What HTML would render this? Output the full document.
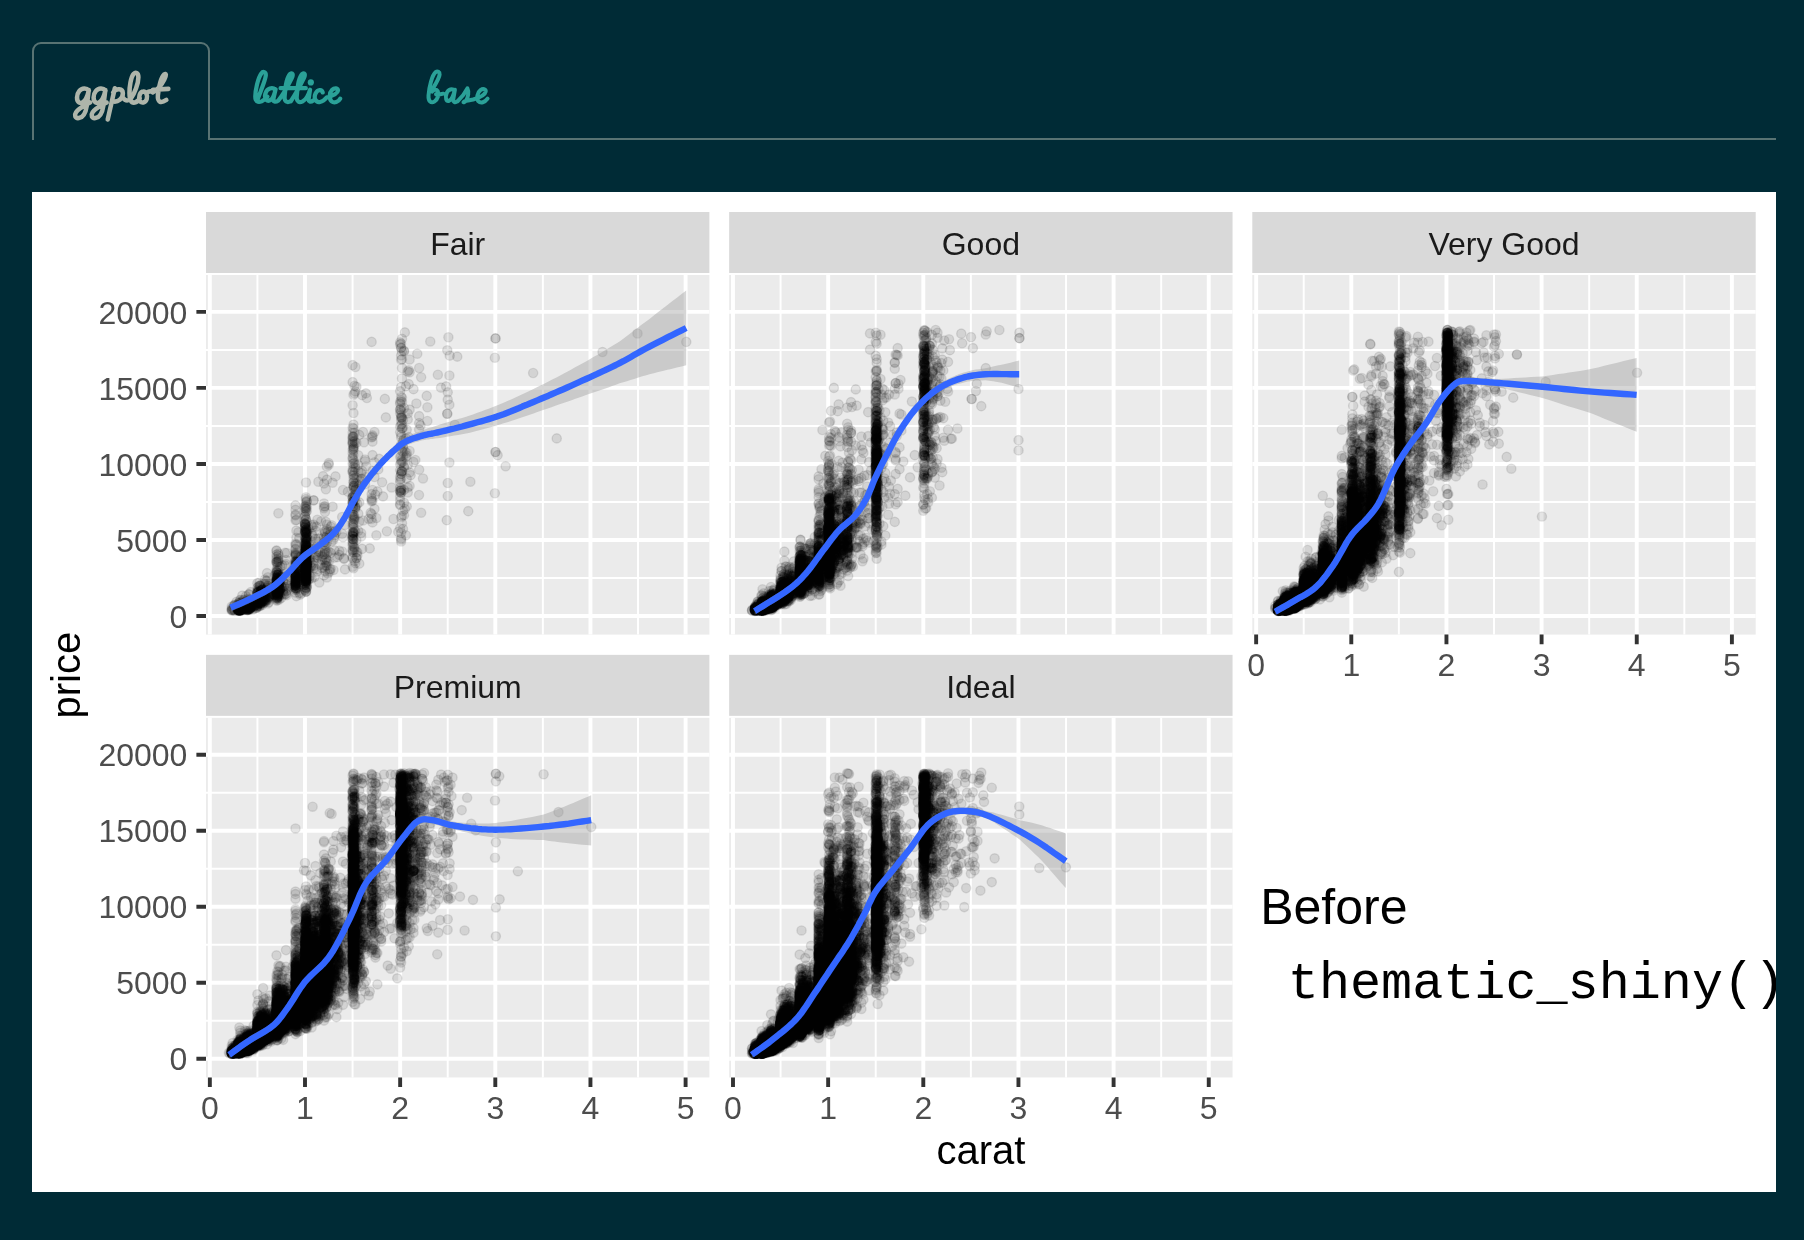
<!DOCTYPE html>
<html><head><meta charset="utf-8"><title>thematic</title>
<style>
html,body{margin:0;padding:0;background:#002B36;width:1804px;height:1240px;overflow:hidden;font-family:"Liberation Sans",sans-serif}
#tabs{position:absolute;left:0;top:0}
#plot{position:absolute;left:32px;top:192px;width:1744px;height:1000px;background:#fff;overflow:hidden}
#plot svg,#plot canvas{position:absolute;left:0;top:0;will-change:transform}
.st{font-size:32px;fill:#1A1A1A;text-anchor:middle}
.ax{font-size:32px;fill:#4D4D4D}
.ti{font-size:40px;fill:#000}
</style></head><body>
<svg id="tabs" width="1804" height="192" viewBox="0 0 1804 192">
<path d="M33 140V51a8 8 0 0 1 8-8H201a8 8 0 0 1 8 8V139H1776" fill="none" stroke="#587373" stroke-width="2"/>
<g fill="none" stroke-linecap="round" stroke-linejoin="round"><path transform="translate(70 65) scale(0.05821)" stroke="#AEB5AA" stroke-width="78" d="M325,440 C285,392 205,392 158,450 C110,510 106,612 158,644 C215,676 292,600 322,430 L290,690 C274,800 228,900 152,912 C86,920 70,862 104,812 C160,735 262,692 345,646 M610,440 C570,392 490,392 443,450 C395,510 391,612 443,644 C500,676 577,600 607,430 L575,690 C559,800 513,900 437,912 C371,920 355,862 389,812 C445,735 547,692 630,646 M770,400 L648,935 M742,470 C800,395 905,398 908,485 C910,575 822,645 738,625 M908,560 C955,630 1010,620 1050,570 C1110,490 1175,320 1175,210 C1175,140 1130,115 1095,150 C1045,205 1020,380 1022,480 C1024,600 1050,655 1112,645 C1150,638 1178,608 1198,575 M1262,455 C1198,455 1172,560 1198,615 C1224,664 1298,650 1318,585 C1338,520 1305,458 1262,455 M1312,478 C1340,455 1388,448 1430,442 M1420,470 C1480,440 1570,350 1620,250 C1660,170 1650,140 1620,160 C1570,200 1520,380 1510,520 C1500,640 1560,665 1655,600 M1425,425 L1690,410"/><path transform="translate(250 65) scale(0.05266)" stroke="#2AA198" stroke-width="80" d="M150,640 C200,500 290,300 300,200 C305,130 250,110 215,160 C150,250 100,480 100,600 C100,690 150,720 220,690 C260,670 300,640 330,600 M482,470 C425,412 322,445 292,542 C262,648 330,708 397,662 C440,630 466,550 486,460 L445,640 C435,700 480,712 540,672 M540,672 C612,588 722,392 792,252 C832,172 802,138 764,168 C702,228 666,450 658,600 C650,700 705,722 775,688 M775,688 C842,588 952,392 1022,252 C1062,172 1032,138 994,168 C932,228 896,450 888,600 C880,700 935,722 1000,690 M580,440 L1060,440 M1000,690 C1060,660 1100,600 1140,470 M1140,470 L1115,640 C1105,700 1150,712 1200,675 M1380,520 C1365,460 1285,460 1245,540 C1205,630 1250,720 1330,702 C1380,692 1420,662 1450,622 M1450,622 C1520,600 1660,560 1670,490 C1680,430 1600,430 1560,470 C1500,530 1500,650 1550,690 C1600,730 1680,700 1712,640"/><circle cx="310.82" cy="82.38" r="3.1" fill="#2AA198" stroke="none"/><path transform="translate(420 65) scale(0.04158)" stroke="#2AA198" stroke-width="96" d="M290,600 C360,480 462,330 472,230 C477,160 420,138 378,170 C288,250 220,520 205,730 C195,880 270,925 345,880 C430,830 465,700 425,625 C395,575 325,590 290,640 M385,705 C440,722 500,708 560,690 M830,620 C780,560 680,580 640,680 C600,790 630,880 700,860 C760,840 800,750 840,595 L800,820 C790,900 850,912 905,870 M905,870 C980,800 1080,680 1140,560 C1180,640 1160,780 1110,850 C1070,905 1020,905 1060,880 C1120,850 1200,850 1280,830 M1280,830 C1380,800 1560,740 1580,640 C1590,570 1510,560 1460,600 C1380,660 1350,800 1400,870 C1460,930 1560,900 1625,810"/></g>
</svg>
<div id="plot">
<svg width="1744" height="1000" viewBox="32 192 1744 1000">
<rect x="206" y="212" width="503.4" height="61" fill="#D9D9D9"/>
<text x="457.7" y="254.8" class="st">Fair</text>
<rect x="206" y="275" width="503.4" height="359.6" fill="#EBEBEB"/>
<path d="M206 577.94H709.4M206 501.93H709.4M206 425.92H709.4M206 349.91H709.4M257.43 275V634.6M352.58 275V634.6M447.73 275V634.6M542.88 275V634.6M638.02 275V634.6" stroke="#fff" stroke-width="1.95"/>
<path d="M206 615.95H709.4M206 539.94H709.4M206 463.93H709.4M206 387.91H709.4M206 311.9H709.4M209.85 275V634.6M305 275V634.6M400.15 275V634.6M495.3 275V634.6M590.45 275V634.6M685.6 275V634.6" stroke="#fff" stroke-width="3.9"/>
<rect x="729.15" y="212" width="503.4" height="61" fill="#D9D9D9"/>
<text x="980.85" y="254.8" class="st">Good</text>
<rect x="729.15" y="275" width="503.4" height="359.6" fill="#EBEBEB"/>
<path d="M729.15 577.94H1232.55M729.15 501.93H1232.55M729.15 425.92H1232.55M729.15 349.91H1232.55M780.58 275V634.6M875.73 275V634.6M970.88 275V634.6M1066.03 275V634.6M1161.17 275V634.6" stroke="#fff" stroke-width="1.95"/>
<path d="M729.15 615.95H1232.55M729.15 539.94H1232.55M729.15 463.93H1232.55M729.15 387.91H1232.55M729.15 311.9H1232.55M733 275V634.6M828.15 275V634.6M923.3 275V634.6M1018.45 275V634.6M1113.6 275V634.6M1208.75 275V634.6" stroke="#fff" stroke-width="3.9"/>
<rect x="1252.3" y="212" width="503.4" height="61" fill="#D9D9D9"/>
<text x="1504" y="254.8" class="st">Very Good</text>
<rect x="1252.3" y="275" width="503.4" height="359.6" fill="#EBEBEB"/>
<path d="M1252.3 577.94H1755.7M1252.3 501.93H1755.7M1252.3 425.92H1755.7M1252.3 349.91H1755.7M1303.72 275V634.6M1398.88 275V634.6M1494.02 275V634.6M1589.17 275V634.6M1684.32 275V634.6" stroke="#fff" stroke-width="1.95"/>
<path d="M1252.3 615.95H1755.7M1252.3 539.94H1755.7M1252.3 463.93H1755.7M1252.3 387.91H1755.7M1252.3 311.9H1755.7M1256.15 275V634.6M1351.3 275V634.6M1446.45 275V634.6M1541.6 275V634.6M1636.75 275V634.6M1731.9 275V634.6" stroke="#fff" stroke-width="3.9"/>
<rect x="206" y="654.85" width="503.4" height="61" fill="#D9D9D9"/>
<text x="457.7" y="697.65" class="st">Premium</text>
<rect x="206" y="717.85" width="503.4" height="359.6" fill="#EBEBEB"/>
<path d="M206 1020.79H709.4M206 944.78H709.4M206 868.77H709.4M206 792.76H709.4M257.43 717.85V1077.45M352.58 717.85V1077.45M447.73 717.85V1077.45M542.88 717.85V1077.45M638.02 717.85V1077.45" stroke="#fff" stroke-width="1.95"/>
<path d="M206 1058.8H709.4M206 982.79H709.4M206 906.77H709.4M206 830.76H709.4M206 754.75H709.4M209.85 717.85V1077.45M305 717.85V1077.45M400.15 717.85V1077.45M495.3 717.85V1077.45M590.45 717.85V1077.45M685.6 717.85V1077.45" stroke="#fff" stroke-width="3.9"/>
<rect x="729.15" y="654.85" width="503.4" height="61" fill="#D9D9D9"/>
<text x="980.85" y="697.65" class="st">Ideal</text>
<rect x="729.15" y="717.85" width="503.4" height="359.6" fill="#EBEBEB"/>
<path d="M729.15 1020.79H1232.55M729.15 944.78H1232.55M729.15 868.77H1232.55M729.15 792.76H1232.55M780.58 717.85V1077.45M875.73 717.85V1077.45M970.88 717.85V1077.45M1066.03 717.85V1077.45M1161.17 717.85V1077.45" stroke="#fff" stroke-width="1.95"/>
<path d="M729.15 1058.8H1232.55M729.15 982.79H1232.55M729.15 906.77H1232.55M729.15 830.76H1232.55M729.15 754.75H1232.55M733 717.85V1077.45M828.15 717.85V1077.45M923.3 717.85V1077.45M1018.45 717.85V1077.45M1113.6 717.85V1077.45M1208.75 717.85V1077.45" stroke="#fff" stroke-width="3.9"/>
<g id="fb"><path fill="#000" fill-rule="evenodd" fill-opacity="0.3" d="M405 357L401 357L397 351L398 349L396 345L398 343L397 340L400 339L405 341L407 348L405 357ZM405 373L404 371L407 367L408 369L405 373ZM358 396L356 395L357 393L353 392L351 390L352 386L356 385L355 387L358 389L359 394L358 396ZM403 510L399 509L400 507L397 501L400 499L397 496L395 491L397 486L399 485L398 482L396 480L396 473L398 467L396 462L398 457L399 456L398 453L399 451L397 448L398 441L399 436L402 434L399 433L397 428L398 422L396 412L397 404L396 401L397 398L400 395L405 398L405 407L407 409L406 413L408 417L406 423L407 429L406 433L408 435L407 437L409 440L406 447L408 447L408 450L410 451L411 456L407 459L409 461L406 467L409 466L409 468L406 476L405 482L402 482L403 485L405 485L406 487L409 487L410 489L410 491L407 491L405 496L404 496L402 499L404 500L407 507L403 510ZM356 568L351 566L350 564L351 563L348 551L349 545L348 535L349 529L349 515L350 512L348 503L348 497L350 492L348 487L350 478L348 471L350 459L349 456L348 436L349 430L353 427L357 428L359 432L358 459L360 466L364 470L363 472L360 470L360 473L365 474L365 478L367 480L363 485L361 485L360 490L359 491L360 507L358 514L360 518L359 527L361 532L358 545L361 553L359 557L360 559L360 562L358 563L358 567L356 568ZM374 441L369 439L371 437L369 433L372 432L376 433L377 436L376 437L376 440L374 441ZM373 506L371 505L372 504L369 503L368 500L372 490L375 490L377 493L376 496L377 499L377 501L374 503L375 505L373 506ZM241 616L232 616L229 614L227 610L228 607L231 602L237 596L243 595L245 591L249 591L251 594L254 584L256 581L262 579L265 575L270 576L273 566L271 562L272 553L275 550L281 550L282 552L284 556L283 559L288 564L283 571L287 574L288 577L289 576L291 570L289 562L291 558L289 553L291 549L291 545L294 543L292 541L295 539L300 540L300 535L297 537L294 535L296 533L299 533L300 529L299 523L301 517L300 509L302 500L303 498L306 496L310 496L312 501L310 513L310 519L311 520L311 522L312 521L317 521L320 524L318 526L318 528L316 530L316 533L312 534L317 533L320 536L319 534L322 532L321 530L323 525L326 525L328 522L331 522L331 525L336 527L336 529L339 530L340 535L339 538L337 538L335 541L331 543L332 544L330 546L331 549L333 552L334 550L336 551L339 549L339 552L342 553L343 552L345 556L340 561L337 556L334 557L332 555L333 558L332 564L335 569L335 572L329 577L324 577L322 573L321 574L319 571L316 571L318 573L315 576L315 581L312 583L311 592L308 595L305 597L302 596L300 598L296 598L293 594L291 596L290 595L289 598L283 600L280 604L271 604L257 613L241 616ZM325 511L321 510L320 507L320 505L323 502L329 505L329 509L325 511ZM404 517L399 514L401 510L407 513L404 517ZM373 522L368 516L369 514L376 512L376 518L373 522ZM296 520L292 518L294 514L296 514L300 517L296 520ZM405 520L403 521L400 518L403 517L406 519L405 520ZM405 541L397 537L399 534L397 530L400 527L402 527L403 530L405 531L404 533L405 536L405 541ZM320 549L319 544L316 543L318 546L317 547L320 549ZM925 487L920 484L921 483L919 481L919 477L919 463L921 462L918 455L920 444L918 438L919 407L918 386L919 373L918 346L920 340L919 336L919 331L922 327L926 327L928 327L930 331L930 338L932 339L931 340L935 346L934 350L935 354L934 356L941 360L944 367L941 371L943 375L942 376L938 375L941 378L943 383L939 386L942 389L941 391L942 397L936 404L934 405L931 404L931 406L929 407L931 409L930 410L932 414L937 413L940 414L942 417L941 422L938 422L934 426L934 430L936 431L932 437L935 439L938 445L938 449L934 454L937 458L936 461L940 468L938 468L939 471L936 475L925 487ZM937 336L933 334L936 332L938 334L937 336ZM898 354L894 353L894 351L896 350L900 351L900 353L898 354ZM898 360L894 360L893 357L894 356L898 357L899 359L898 360ZM763 616L752 616L749 612L749 607L758 596L758 592L760 590L766 590L769 586L775 585L775 580L778 573L777 571L780 569L779 567L782 563L786 562L793 563L796 542L800 541L805 543L807 540L813 538L814 522L815 520L814 519L817 514L814 506L818 500L818 498L820 498L819 495L820 494L817 495L815 493L819 491L822 493L822 491L825 490L824 485L825 479L823 470L825 457L827 455L829 455L833 460L835 464L833 469L835 473L838 474L838 478L842 477L843 469L841 468L844 466L843 463L846 463L844 459L848 456L852 457L853 461L853 466L855 468L854 475L855 473L856 476L859 474L864 478L861 483L853 486L854 488L852 491L853 493L852 495L855 496L854 499L858 503L858 509L861 511L861 513L859 514L861 513L863 515L862 518L865 513L870 512L871 502L870 496L871 483L870 466L871 412L872 398L871 393L872 380L875 377L873 374L872 370L874 366L878 366L882 370L881 374L879 376L881 378L883 386L882 389L883 392L886 391L887 394L887 398L882 401L881 404L883 424L886 424L887 427L887 434L884 436L885 438L882 444L885 446L883 449L887 448L888 450L888 453L884 456L883 461L883 484L884 486L883 489L882 508L883 537L882 548L879 554L880 556L877 558L875 557L873 556L874 554L872 552L870 544L872 539L870 515L866 518L868 519L869 523L866 523L864 525L857 536L857 537L860 535L861 536L863 534L864 536L869 538L869 539L870 538L872 539L868 543L867 546L863 546L861 551L856 554L855 552L853 553L853 560L856 565L855 569L852 572L847 573L844 575L841 574L840 578L838 580L837 579L835 582L841 581L843 583L842 585L838 586L835 584L835 588L830 591L824 591L823 593L824 594L822 595L819 595L815 597L812 596L809 596L800 601L796 600L792 605L779 610L775 614L763 616ZM897 389L895 389L892 385L895 383L895 380L897 378L899 379L901 382L900 386L897 389ZM943 389L941 388L944 385L943 389ZM852 448L843 444L842 438L846 435L844 434L844 431L848 425L851 425L854 429L852 436L853 441L852 448ZM831 447L826 446L825 440L826 437L828 434L831 435L831 432L834 433L839 431L840 436L836 436L837 437L835 438L835 441L834 443L835 444L831 447ZM897 458L893 456L897 454L899 456L897 458ZM839 467L836 465L837 462L841 462L842 464L839 467ZM924 511L922 511L920 508L922 504L920 501L923 495L922 493L922 491L927 486L928 487L928 493L932 495L930 497L931 501L929 503L928 502L929 506L924 511ZM866 501L860 498L862 496L861 493L864 490L866 491L864 495L869 498L866 501ZM863 515L862 512L864 511L864 509L860 507L858 502L859 500L863 502L866 501L869 504L866 508L869 508L869 511L864 513L863 515ZM1447 480L1436 477L1435 473L1438 471L1438 468L1441 468L1440 461L1442 455L1441 450L1442 440L1440 430L1442 421L1440 414L1441 408L1441 366L1442 333L1442 329L1444 327L1450 326L1454 329L1458 329L1459 332L1462 329L1469 331L1474 339L1475 344L1472 347L1469 346L1471 349L1468 350L1464 348L1465 350L1464 352L1464 356L1467 356L1471 361L1472 366L1470 367L1472 379L1471 383L1475 387L1474 391L1479 393L1474 401L1471 402L1472 405L1470 406L1471 408L1467 410L1466 408L1464 409L1466 413L1464 415L1465 417L1463 421L1465 422L1464 419L1468 418L1472 425L1470 426L1470 428L1465 428L1462 430L1463 432L1461 432L1462 436L1460 439L1454 442L1453 445L1454 447L1459 447L1457 443L1459 441L1461 444L1460 447L1462 447L1462 444L1465 448L1463 452L1460 454L1462 458L1459 458L1460 461L1463 464L1458 464L1457 466L1460 465L1461 467L1459 469L1456 469L1451 477L1447 480ZM1287 616L1279 617L1275 616L1272 612L1271 607L1274 601L1279 595L1281 589L1288 587L1293 583L1297 583L1298 574L1300 567L1303 564L1306 558L1308 555L1314 557L1315 555L1316 556L1318 538L1320 533L1323 531L1327 531L1328 529L1327 527L1332 531L1335 529L1337 497L1336 490L1338 484L1341 482L1338 480L1341 478L1345 479L1347 470L1346 460L1347 457L1348 446L1346 443L1349 434L1347 424L1351 418L1356 416L1358 417L1357 420L1360 417L1364 419L1365 416L1368 417L1367 416L1369 414L1367 412L1370 410L1368 406L1368 401L1366 400L1367 397L1370 402L1373 396L1378 399L1378 402L1381 402L1382 404L1381 409L1383 414L1382 418L1380 420L1384 418L1390 421L1385 427L1379 427L1379 429L1382 430L1384 433L1382 440L1379 443L1378 442L1379 446L1383 442L1385 444L1383 447L1380 448L1384 451L1383 455L1385 457L1384 460L1386 461L1385 465L1388 469L1386 472L1387 477L1385 481L1387 482L1388 489L1393 493L1393 495L1390 496L1392 498L1391 503L1393 504L1394 475L1391 472L1394 469L1394 443L1393 438L1392 439L1388 437L1387 436L1388 434L1386 435L1386 432L1390 433L1390 436L1393 436L1394 417L1393 396L1395 383L1394 355L1396 349L1394 345L1395 333L1396 330L1400 329L1406 333L1405 348L1407 352L1409 353L1408 355L1406 355L1407 357L1405 365L1406 368L1409 370L1414 370L1416 374L1417 373L1421 375L1423 375L1424 379L1422 383L1426 388L1424 390L1428 394L1427 396L1424 395L1423 397L1426 404L1425 407L1427 409L1425 413L1424 421L1425 428L1424 432L1426 433L1424 442L1426 443L1425 445L1428 452L1424 462L1425 466L1423 473L1424 476L1423 477L1426 481L1423 488L1424 489L1424 497L1425 499L1425 503L1422 505L1424 509L1422 510L1421 506L1419 507L1418 505L1420 502L1418 502L1419 500L1415 497L1411 505L1413 513L1412 516L1413 518L1411 521L1412 525L1410 526L1412 527L1410 530L1412 533L1409 535L1408 539L1404 541L1405 542L1403 550L1399 553L1395 553L1395 547L1393 547L1393 544L1390 547L1390 550L1388 550L1385 558L1381 561L1380 564L1381 567L1378 569L1376 575L1370 577L1367 574L1363 578L1364 585L1358 588L1355 588L1348 591L1344 594L1334 593L1325 600L1316 603L1311 607L1303 610L1296 614L1287 616ZM1496 341L1494 341L1492 338L1495 335L1499 337L1496 341ZM1478 344L1476 343L1478 339L1480 340L1478 344ZM1410 353L1408 349L1408 348L1411 351L1410 353ZM1381 366L1374 365L1376 357L1377 356L1379 359L1382 360L1384 363L1381 366ZM1422 374L1416 366L1417 362L1420 360L1424 362L1426 366L1423 370L1424 371L1422 374ZM1489 372L1488 370L1491 367L1492 368L1489 372ZM1415 398L1413 392L1417 385L1416 382L1418 380L1414 381L1412 378L1408 384L1409 388L1408 392L1410 394L1408 396L1409 395L1412 398L1415 398ZM1464 386L1466 383L1464 379L1461 379L1461 384L1459 385L1464 386ZM1384 390L1380 388L1378 384L1383 379L1386 380L1384 382L1386 383L1386 386L1388 387L1384 390ZM1498 394L1493 392L1491 392L1491 390L1495 386L1499 387L1501 390L1498 394ZM1466 398L1467 394L1464 393L1466 398ZM1495 414L1491 413L1491 411L1492 409L1491 406L1493 403L1496 404L1495 408L1498 409L1499 411L1495 414ZM1413 421L1414 414L1419 409L1414 405L1415 407L1412 409L1411 412L1412 411L1413 413L1409 417L1413 421ZM1436 411L1434 410L1437 408L1439 408L1436 411ZM1360 434L1366 432L1365 428L1360 430L1358 429L1357 431L1358 434L1360 434ZM1389 433L1387 430L1388 428L1390 430L1389 433ZM1428 435L1426 432L1426 431L1430 433L1428 435ZM1473 446L1471 446L1469 444L1470 445L1468 445L1464 443L1470 435L1473 435L1479 439L1477 442L1473 444L1475 445L1473 446ZM1465 457L1463 456L1462 454L1463 453L1464 455L1465 455L1465 457ZM1411 461L1413 460L1415 455L1410 459L1411 461ZM1441 473L1441 472L1439 470L1441 473ZM1447 495L1443 493L1444 491L1448 489L1451 492L1447 495ZM1423 519L1420 518L1417 514L1419 509L1422 510L1420 511L1420 513L1422 515L1423 519ZM1395 541L1394 536L1392 539L1395 541ZM241 1059L229 1059L226 1055L226 1050L228 1045L235 1037L236 1032L241 1027L243 1027L245 1028L247 1026L251 1027L253 1011L257 1006L257 1003L259 999L258 998L261 996L265 998L264 995L267 995L270 998L270 1000L268 1001L270 1005L271 988L273 980L272 978L274 967L276 965L280 966L282 963L285 965L286 967L284 970L289 974L288 977L289 978L288 970L290 960L290 953L291 949L293 947L291 945L290 941L290 931L295 924L297 922L300 922L300 918L299 915L300 913L299 913L300 914L297 916L299 919L296 921L292 920L291 918L293 916L292 915L291 912L295 909L299 911L301 905L304 902L310 901L310 900L308 899L307 900L305 898L307 895L303 891L305 888L310 888L312 893L316 894L317 897L316 892L313 890L312 887L314 886L314 884L320 882L322 879L319 877L319 871L321 867L320 863L322 858L324 857L328 858L331 864L333 866L335 876L337 874L339 877L338 885L334 889L334 891L335 890L341 895L347 894L347 896L343 899L347 898L348 888L343 885L342 881L344 878L347 878L348 846L347 842L342 842L341 839L343 835L347 834L349 816L348 792L350 786L349 780L350 775L357 773L360 775L363 775L364 778L367 780L365 784L359 785L360 799L361 797L364 801L362 802L361 801L359 803L360 809L364 811L367 816L369 812L367 807L369 804L367 804L366 798L369 798L368 795L370 792L369 791L371 789L369 787L370 786L369 783L370 781L367 775L375 772L377 773L377 779L381 785L377 789L378 793L377 795L378 799L377 812L377 814L381 818L379 821L381 819L382 821L380 824L379 823L378 825L382 829L385 830L383 831L386 832L386 834L389 837L388 839L386 838L387 846L385 850L380 850L377 848L376 850L379 854L386 853L390 858L394 859L394 842L392 840L394 839L395 829L395 774L396 771L401 769L409 770L414 769L419 771L421 773L426 776L427 778L422 781L423 782L426 782L424 784L427 788L426 790L430 789L430 792L432 795L431 790L439 794L436 796L433 800L430 800L426 803L428 805L427 812L430 813L431 812L433 812L433 809L437 807L441 810L439 811L442 817L438 822L438 818L436 819L436 822L435 823L430 820L429 815L427 815L425 817L424 822L418 825L419 827L421 824L425 825L427 822L429 823L428 824L429 827L427 829L428 831L426 832L432 836L433 840L429 846L430 849L428 850L428 855L426 858L428 862L433 862L435 864L438 863L444 869L440 870L439 868L440 873L438 872L434 873L433 871L431 871L428 869L427 870L428 876L426 881L428 882L426 883L426 885L423 884L424 886L422 888L427 895L425 899L426 903L422 906L423 908L419 909L418 913L412 918L413 919L412 922L416 924L413 926L414 933L412 934L412 936L405 939L407 942L404 946L408 950L406 952L405 960L400 963L397 960L399 958L397 957L398 955L397 953L400 951L395 942L397 938L400 936L397 934L394 924L396 900L394 892L388 895L388 892L386 895L385 894L383 895L384 901L378 914L380 915L382 920L379 928L385 936L381 944L378 944L380 956L376 958L373 958L369 953L366 952L365 954L365 959L363 963L368 975L364 981L364 984L359 989L359 1003L355 1005L351 1004L349 998L348 990L347 990L338 997L337 1000L339 1001L341 1006L339 1008L335 1010L332 1010L330 1012L332 1018L329 1021L326 1022L323 1021L321 1024L314 1027L309 1032L306 1034L302 1033L300 1036L297 1037L289 1036L284 1039L280 1044L276 1044L268 1046L255 1054L241 1059ZM452 791L448 790L446 788L447 787L440 780L445 775L449 775L452 778L452 783L449 786L453 788L452 791ZM497 779L495 779L493 777L495 775L500 777L497 779ZM436 791L433 790L434 787L436 788L436 791ZM449 794L445 791L445 789L451 792L449 794ZM450 798L448 798L446 795L449 794L451 796L450 798ZM451 817L445 816L445 809L444 810L437 806L439 804L441 805L440 803L437 804L436 803L437 800L442 797L447 797L451 800L452 804L451 806L453 808L451 812L453 814L451 817ZM389 807L384 807L381 805L383 803L385 803L387 799L390 802L389 807ZM389 809L387 810L385 808L387 807L389 809ZM440 823L440 819L444 816L450 819L448 822L445 821L444 819L440 823ZM368 827L370 825L368 823L367 827L368 827ZM448 836L444 834L442 830L450 826L452 827L455 833L452 836L448 836ZM391 840L389 839L392 835L393 837L391 840ZM449 856L445 855L442 851L443 846L441 845L443 842L445 844L449 843L452 845L452 853L449 856ZM387 890L388 889L388 886L390 884L392 888L395 889L394 863L393 864L391 864L391 862L388 864L388 862L385 864L383 863L381 861L379 861L377 863L379 872L381 873L382 878L380 886L383 888L384 887L385 889L386 889L387 890ZM434 886L430 885L427 881L429 876L431 879L436 882L434 886ZM384 892L384 891L381 892L384 892ZM449 902L447 901L445 899L447 892L449 892L453 897L453 899L449 902ZM313 898L315 897L314 896L311 896L313 898ZM346 920L347 905L342 903L342 901L340 900L337 904L343 909L342 912L343 909L345 910L344 917L347 917L345 919L346 920ZM347 976L347 972L345 973L347 976ZM927 919L924 919L920 914L920 903L917 886L918 882L918 777L920 771L923 769L939 772L941 774L945 773L949 776L949 779L947 779L948 782L945 784L945 785L947 786L946 788L949 788L939 793L937 795L941 793L942 795L947 798L948 796L950 798L949 800L948 799L948 801L951 805L950 810L948 811L949 814L946 817L953 821L955 824L954 827L952 827L951 829L951 830L953 829L955 831L951 834L950 837L955 832L957 833L956 834L958 834L957 838L955 840L953 841L951 840L947 842L948 846L947 849L948 846L952 850L949 850L950 854L947 861L945 862L946 865L942 867L944 867L941 870L942 873L935 882L936 883L936 882L940 881L942 886L938 889L935 887L935 888L938 889L936 891L936 898L934 900L934 903L931 901L930 904L933 906L931 908L932 913L927 919ZM763 1059L754 1060L748 1056L747 1050L750 1045L759 1032L763 1029L763 1028L769 1023L768 1021L774 1017L779 1003L778 998L779 994L784 991L783 989L785 988L793 990L797 970L796 967L797 965L804 964L808 966L810 963L812 965L813 914L815 911L819 910L817 909L817 907L822 909L822 907L821 908L817 907L814 904L815 897L816 896L814 891L816 886L815 884L818 882L822 882L822 886L823 884L824 880L822 877L824 869L823 859L826 855L825 851L826 850L824 844L827 839L826 836L827 833L824 829L826 824L830 822L834 824L837 824L836 831L838 832L835 836L833 834L833 835L835 838L837 836L837 839L838 839L841 838L847 832L842 827L844 825L845 820L844 817L848 814L852 816L852 821L855 823L855 827L854 830L851 832L855 834L856 838L857 837L860 838L861 840L859 845L862 847L859 850L861 855L858 859L856 857L856 858L859 860L860 864L864 866L863 872L861 874L862 880L869 883L870 886L871 822L870 819L865 816L867 816L867 814L870 816L871 812L872 774L876 771L878 771L882 774L884 779L885 777L888 778L887 781L885 780L887 783L884 787L883 793L885 798L890 802L891 802L891 799L893 800L891 793L891 787L893 787L892 786L894 784L892 781L894 782L898 781L900 783L903 781L907 782L909 786L906 786L901 793L901 796L903 797L902 798L902 804L894 809L892 809L889 810L889 813L887 814L889 820L889 826L886 831L889 833L891 830L889 824L891 821L890 820L893 816L893 814L891 813L894 811L896 812L901 817L903 827L901 832L905 841L902 845L904 851L901 860L905 860L901 872L904 877L906 877L906 879L902 885L902 894L905 896L901 898L904 902L903 904L904 908L903 909L902 919L897 922L892 922L893 925L898 925L896 929L892 932L893 934L892 938L897 936L900 939L897 943L897 945L899 946L897 948L892 946L895 944L892 943L890 940L889 942L891 943L888 945L889 947L889 949L890 948L894 952L890 952L891 953L891 955L889 956L889 960L887 963L891 967L884 976L885 982L882 985L882 994L877 997L872 995L872 984L868 985L865 989L866 992L862 997L863 999L861 1000L861 1003L863 1005L862 1008L860 1011L856 1011L853 1013L852 1019L850 1020L843 1024L835 1026L832 1031L826 1035L824 1034L823 1037L819 1039L815 1038L812 1035L808 1037L802 1042L797 1042L792 1047L784 1050L777 1055L763 1059ZM977 783L974 780L976 776L979 774L982 775L984 777L982 779L982 781L977 783ZM892 781L889 779L891 775L895 777L894 780L892 781ZM846 810L843 809L845 808L843 809L842 807L843 804L843 800L848 794L846 791L847 789L849 787L853 787L856 789L852 801L853 803L851 807L846 810ZM953 800L952 798L949 797L950 795L946 795L947 791L951 788L955 790L955 794L957 794L956 798L953 800ZM832 803L825 796L828 793L830 793L831 790L835 792L837 796L836 798L834 797L832 798L834 800L832 803ZM858 811L856 812L853 809L856 806L859 807L857 804L858 802L862 809L861 811L858 811ZM829 815L825 814L824 811L826 806L828 804L834 807L835 811L829 815ZM974 817L970 816L971 815L970 812L975 808L977 811L974 817ZM848 814L845 813L846 810L850 812L848 814ZM971 824L968 824L967 822L970 819L968 817L970 816L973 820L971 824ZM890 844L890 835L888 841L890 844ZM906 841L905 839L907 837L908 839L906 841ZM976 848L970 845L972 841L975 841L977 843L978 846L976 848ZM971 852L968 848L969 846L972 850L971 852ZM960 859L956 856L951 857L952 853L957 851L961 856L962 858L960 859ZM840 864L843 860L841 854L839 854L840 856L838 860L839 864L840 864ZM956 877L951 873L951 871L952 865L955 863L957 860L959 860L958 863L961 865L961 868L961 871L956 877ZM974 868L972 868L969 865L972 861L975 862L974 865L976 866L974 868ZM889 872L891 869L889 867L889 872ZM819 880L815 878L817 876L821 877L819 880ZM935 880L935 878L932 878L933 880L935 880ZM870 924L871 898L869 889L864 892L866 896L863 902L864 901L866 903L865 910L866 914L870 919L869 921L870 924ZM898 936L894 935L894 932L898 933L898 936ZM870 977L872 973L870 964L868 964L870 977ZM898 975L892 974L892 970L893 967L895 967L896 970L900 973L898 975Z"/><path fill="#000" fill-rule="evenodd" fill-opacity="0.471" d="M354 449L352 448L350 445L352 442L350 440L351 437L354 436L357 438L356 442L357 444L357 447L354 449ZM355 470L353 469L352 467L356 467L355 470ZM355 524L352 522L351 519L352 518L351 517L353 512L350 506L351 503L349 500L351 497L350 495L352 491L350 489L352 487L351 486L352 482L353 480L356 481L356 478L357 478L359 487L355 492L358 497L358 505L354 509L356 510L356 513L358 518L355 522L355 524ZM404 494L398 493L398 489L400 487L404 488L405 490L404 494ZM306 513L303 509L305 503L309 505L308 507L309 509L306 513ZM306 593L300 591L295 593L290 591L289 586L290 575L292 570L291 561L293 556L295 555L294 553L300 551L301 524L302 520L305 518L309 521L312 529L311 542L313 564L310 589L310 591L306 593ZM354 546L350 543L351 542L350 540L349 533L350 530L354 527L357 529L359 533L357 543L354 546ZM328 535L326 534L329 530L331 532L331 534L328 535ZM355 556L352 555L352 546L357 547L358 549L355 552L357 553L355 556ZM325 561L324 560L325 557L322 556L323 555L325 555L326 553L329 557L325 561ZM242 615L237 616L231 613L230 611L230 606L235 600L239 598L252 595L253 590L257 583L262 582L265 584L268 582L270 584L272 573L275 569L273 559L277 555L281 558L282 561L282 563L279 567L281 570L283 578L287 585L287 593L279 602L277 603L272 602L258 611L250 614L242 615ZM326 566L322 563L326 560L327 561L326 566ZM926 337L923 335L925 332L928 334L926 337ZM928 462L921 460L920 455L921 450L924 447L920 441L919 436L922 431L920 426L919 412L922 407L919 400L920 349L922 343L925 341L929 342L930 347L930 366L931 373L933 378L931 379L931 376L930 378L932 380L931 388L937 394L934 399L932 398L930 398L931 399L927 406L930 417L933 417L931 424L932 427L930 429L931 431L929 430L928 435L932 442L933 441L935 445L933 449L929 451L930 457L928 462ZM937 372L935 369L937 372ZM880 393L874 388L876 387L880 388L880 393ZM877 395L877 392L880 393L877 395ZM879 399L875 397L877 396L879 399ZM877 537L873 535L871 516L872 480L871 466L872 446L871 432L872 410L875 406L874 404L876 402L880 404L883 433L881 444L883 452L882 523L880 535L877 537ZM847 490L843 490L842 488L844 487L843 480L847 474L847 471L849 470L852 471L850 475L851 474L853 479L850 485L851 488L849 486L848 487L850 489L847 490ZM926 482L924 482L920 478L921 474L922 472L922 471L924 469L929 470L930 475L928 481L926 482ZM762 616L754 616L751 614L749 609L752 604L763 594L770 589L774 589L779 574L784 569L785 568L787 570L791 568L793 569L797 551L802 546L804 550L807 551L808 549L807 545L810 546L813 543L814 532L816 527L815 523L818 521L820 521L823 522L823 524L823 509L825 505L824 498L825 494L830 489L830 485L828 485L826 482L829 479L829 478L830 477L828 476L829 472L832 474L834 478L832 481L831 480L834 484L834 486L832 488L832 490L839 488L839 489L842 489L843 492L840 498L840 500L842 501L838 503L842 504L842 502L846 498L845 497L852 497L851 498L852 499L855 506L852 517L853 520L859 518L861 524L860 527L855 529L856 531L853 533L854 550L848 559L851 560L852 564L851 565L851 568L848 570L841 567L841 564L840 567L842 568L842 570L835 575L832 585L828 586L825 585L822 590L819 592L815 592L815 590L813 589L811 592L807 593L804 598L802 599L797 598L791 604L775 612L762 616ZM840 517L842 517L842 516L840 515L840 517ZM879 546L876 545L876 541L878 541L879 546ZM879 549L876 550L875 548L877 546L879 549ZM1447 474L1443 473L1443 464L1442 461L1444 456L1442 448L1441 434L1443 422L1441 414L1441 350L1442 333L1444 329L1448 327L1453 331L1455 336L1453 338L1455 340L1455 345L1459 347L1461 351L1460 360L1466 362L1468 366L1466 367L1464 366L1464 368L1467 369L1467 372L1463 370L1464 373L1459 376L1457 384L1460 392L1460 396L1458 396L1458 398L1463 405L1461 407L1460 407L1461 409L1459 415L1461 418L1458 420L1460 422L1459 423L1461 423L1458 425L1458 431L1455 434L1456 435L1453 441L1452 445L1454 452L1452 461L1453 469L1450 473L1447 474ZM1400 541L1398 539L1398 536L1395 532L1394 512L1394 429L1396 384L1395 375L1395 369L1397 367L1395 359L1396 352L1398 351L1400 347L1398 347L1399 344L1397 342L1400 338L1403 342L1402 344L1403 346L1401 347L1403 348L1401 350L1402 351L1402 350L1403 350L1405 353L1404 364L1405 369L1407 374L1405 381L1406 392L1405 396L1407 403L1410 406L1409 407L1408 407L1406 408L1407 411L1405 414L1408 428L1406 431L1407 434L1406 435L1410 437L1411 440L1413 449L1409 455L1406 456L1406 475L1410 476L1413 481L1415 477L1419 478L1421 479L1420 483L1418 481L1417 483L1421 486L1416 487L1412 485L1409 487L1410 490L1409 491L1412 498L1407 503L1408 509L1406 515L1406 530L1404 538L1401 537L1402 539L1400 541ZM1374 413L1373 414L1373 412L1375 410L1376 412L1374 413ZM1417 441L1415 437L1416 433L1413 428L1418 418L1420 418L1422 419L1421 421L1423 427L1423 432L1424 437L1417 441ZM1285 616L1278 616L1274 614L1272 610L1273 604L1278 599L1281 593L1285 589L1297 585L1299 571L1303 566L1306 566L1306 563L1312 560L1315 561L1316 563L1317 553L1320 538L1327 536L1335 544L1337 520L1337 516L1339 514L1338 511L1338 503L1342 500L1345 501L1347 498L1345 494L1343 494L1342 496L1342 494L1339 492L1338 487L1342 485L1345 487L1345 489L1347 487L1347 477L1349 466L1347 460L1348 457L1353 453L1351 449L1355 449L1354 448L1351 447L1351 445L1354 444L1352 440L1356 439L1358 442L1356 444L1361 442L1361 445L1362 447L1366 450L1369 444L1366 441L1366 435L1372 428L1370 429L1369 426L1371 426L1373 424L1375 428L1374 429L1376 429L1378 435L1376 443L1374 446L1378 453L1377 457L1379 458L1377 462L1378 468L1379 471L1381 472L1378 475L1383 481L1381 485L1387 490L1384 500L1389 505L1388 508L1389 511L1388 513L1390 512L1391 514L1388 517L1390 520L1390 526L1387 527L1391 527L1388 529L1385 529L1389 539L1386 546L1384 547L1384 551L1380 553L1379 552L1378 564L1376 565L1375 568L1371 568L1367 566L1368 568L1364 570L1364 573L1360 581L1352 588L1349 587L1345 592L1342 593L1335 590L1325 599L1320 599L1296 613L1285 616ZM1419 444L1418 443L1421 442L1419 444ZM1421 452L1420 451L1417 451L1420 446L1423 448L1423 451L1421 452ZM1365 470L1364 468L1363 467L1365 465L1365 454L1361 457L1357 457L1360 462L1359 464L1359 467L1362 467L1365 470ZM1422 457L1418 455L1420 454L1422 457ZM1419 465L1418 464L1419 462L1421 464L1419 465ZM406 931L401 932L397 929L396 925L396 907L397 901L395 893L396 827L395 815L396 790L395 786L396 774L402 770L408 772L414 771L417 773L419 777L418 780L416 782L421 785L419 786L421 787L420 790L422 791L422 793L419 793L418 800L416 802L419 805L419 808L421 804L425 807L424 809L420 810L421 813L419 815L418 820L414 828L419 831L418 833L420 832L417 835L419 837L417 839L418 842L426 848L424 851L425 856L420 857L421 858L422 857L423 859L420 863L422 866L419 868L422 870L422 873L424 875L422 878L416 881L416 883L414 883L413 886L414 886L416 894L418 891L418 895L422 897L422 898L421 899L418 899L416 896L414 899L415 902L417 904L415 905L416 908L417 907L417 911L415 909L414 911L410 912L409 913L408 910L407 911L406 917L408 927L406 931ZM358 783L357 784L356 781L353 781L351 778L352 777L358 776L358 778L360 780L358 783ZM239 1059L229 1058L226 1054L228 1048L237 1035L245 1030L251 1029L252 1022L258 1008L266 1005L267 1008L270 1009L272 990L273 985L280 981L280 983L282 984L285 984L287 983L289 986L290 965L292 954L294 948L298 949L295 947L296 944L299 944L299 942L299 939L296 941L294 939L292 933L295 929L299 930L300 928L302 908L306 905L309 905L311 907L311 911L313 911L313 904L317 901L319 901L319 900L321 898L319 889L321 884L328 882L331 885L330 890L334 899L332 904L340 912L340 916L338 919L341 923L341 924L346 923L345 927L343 928L342 932L343 933L345 932L346 934L343 937L344 938L343 940L340 942L342 944L343 951L347 959L346 960L347 960L348 949L346 939L348 920L347 882L349 849L348 837L350 813L349 808L350 803L349 798L350 790L355 788L358 791L359 813L364 817L362 824L360 826L360 830L360 831L363 832L362 840L360 843L360 849L362 854L363 855L364 854L364 857L365 859L364 864L366 866L368 863L369 864L371 862L370 860L369 861L368 854L370 856L371 853L373 853L376 856L376 860L374 862L376 865L376 873L374 874L377 876L377 886L379 898L377 910L377 920L379 923L377 927L378 933L375 937L369 936L369 928L367 927L366 932L368 934L366 937L369 945L372 944L376 946L377 948L376 953L372 954L372 949L369 950L367 947L366 950L363 951L361 960L362 967L361 970L364 975L360 977L358 991L355 995L351 995L349 990L349 974L347 964L343 970L340 976L342 981L344 982L342 983L339 983L338 985L341 987L335 996L335 1003L330 1007L325 1017L317 1023L312 1024L311 1028L308 1031L303 1029L299 1034L296 1035L290 1033L284 1036L279 1042L269 1044L253 1055L239 1059ZM372 848L369 847L367 844L370 836L369 835L369 831L373 829L376 830L377 829L380 835L378 837L379 844L377 846L372 848ZM326 877L322 874L324 868L325 866L328 866L332 874L329 876L326 876L326 877ZM366 881L365 879L367 879L370 874L366 868L365 870L367 874L365 874L365 880L366 881ZM331 881L327 881L329 878L331 879L331 881ZM367 902L368 897L367 890L368 888L367 887L364 891L367 902ZM366 914L368 908L367 906L363 912L366 914ZM318 911L317 908L315 909L318 911ZM300 938L299 935L297 936L299 939L300 938ZM299 951L300 946L299 944L298 947L299 951ZM280 979L277 979L277 977L278 975L281 978L280 979ZM925 901L924 900L926 899L922 898L921 896L922 894L921 893L919 887L920 882L918 859L919 821L918 804L919 775L921 771L926 770L930 773L933 772L936 774L941 781L941 785L938 789L939 790L935 793L934 803L935 804L936 802L938 802L940 805L942 802L944 801L945 803L941 806L943 815L939 826L938 828L940 830L936 835L938 841L940 843L937 847L937 850L936 855L938 860L940 860L939 862L939 864L938 865L938 870L934 874L930 874L930 882L932 884L928 891L928 899L925 901ZM762 1059L755 1059L750 1057L748 1052L751 1044L758 1035L766 1029L768 1026L771 1024L774 1025L776 1013L782 1002L785 999L790 998L793 1001L794 991L796 985L796 977L799 972L803 969L808 971L809 970L811 972L812 976L814 963L813 956L814 925L815 919L816 918L815 917L819 914L823 915L824 903L823 898L825 880L824 874L825 859L830 852L829 849L830 845L834 844L836 846L834 847L835 847L838 845L840 845L840 849L835 858L835 875L838 874L839 871L842 871L843 869L842 866L842 863L846 857L844 853L845 848L844 846L849 843L848 840L850 837L854 842L852 845L855 849L856 854L853 858L855 859L854 861L857 867L856 873L857 878L856 883L857 885L860 884L862 886L860 902L861 908L864 914L864 917L866 927L863 930L865 931L864 932L865 934L870 932L871 907L871 817L872 801L874 795L872 791L873 780L874 776L878 775L881 777L882 781L881 796L884 803L882 813L884 825L883 826L885 829L883 838L886 841L889 850L887 853L890 856L888 857L889 865L885 872L888 879L890 885L888 887L889 891L892 893L891 897L893 897L892 895L893 894L897 897L900 902L901 913L900 916L894 918L891 914L891 906L890 903L887 902L889 905L886 911L890 919L887 927L889 933L887 934L888 936L885 940L886 954L883 959L883 970L881 974L882 977L881 981L876 984L872 979L873 974L872 969L872 954L870 948L869 952L870 956L866 958L863 958L863 960L864 965L866 967L865 975L867 979L866 980L863 985L861 986L863 990L857 999L858 1004L855 1005L853 1011L851 1011L851 1014L846 1016L845 1019L835 1023L833 1028L828 1031L825 1030L821 1035L815 1035L812 1033L807 1035L802 1041L795 1042L775 1056L762 1059ZM944 812L942 810L943 809L945 811L944 812ZM898 857L893 853L892 854L890 853L892 851L891 848L893 847L893 849L895 848L894 846L896 841L892 838L892 835L894 833L892 832L895 825L893 821L894 820L900 824L898 827L899 831L898 832L899 834L900 839L899 844L900 845L900 850L898 852L899 854L898 857ZM898 891L893 891L892 889L892 883L896 879L894 876L895 875L892 867L894 862L892 862L889 857L890 856L897 860L898 860L901 864L900 867L901 869L899 873L900 872L901 876L899 881L901 886L898 891ZM871 945L871 940L870 936L867 941L871 945ZM787 999L786 998L788 995L791 997L787 999Z"/><path fill="#000" fill-rule="evenodd" fill-opacity="0.622" d="M296 591L291 588L290 577L294 568L293 564L296 563L299 564L300 563L303 538L302 528L307 524L309 525L310 532L310 541L312 562L311 580L310 584L307 587L304 587L301 583L300 583L300 587L296 591ZM356 536L354 536L356 535L356 536ZM241 615L239 616L235 614L232 611L232 606L235 603L239 600L242 600L247 598L252 599L256 588L259 586L265 586L270 592L273 574L276 572L280 572L284 590L281 599L277 600L270 600L269 602L261 608L250 614L245 614L241 615ZM926 401L922 401L920 384L922 378L921 374L922 370L921 368L922 364L921 361L923 355L923 354L924 353L923 350L925 345L928 350L925 353L928 356L927 357L928 364L927 370L929 370L928 378L930 382L929 393L928 398L926 399L927 400L926 401ZM924 427L923 415L926 412L927 413L928 416L927 418L928 419L928 422L927 426L924 427ZM877 525L875 524L876 523L873 517L874 516L873 515L873 513L873 507L874 505L872 500L873 476L872 464L872 451L874 445L872 441L872 433L874 426L873 423L875 422L876 418L879 419L880 421L881 427L882 439L880 445L882 456L881 472L881 513L879 516L880 520L878 522L877 525ZM927 440L925 437L926 436L928 438L927 440ZM925 441L924 441L925 439L925 441ZM927 454L925 454L924 453L927 452L927 454ZM764 615L756 615L752 614L750 610L751 606L760 597L765 596L771 590L774 591L779 578L784 576L785 574L790 573L790 572L793 575L795 559L796 556L799 553L798 552L800 551L804 552L804 554L811 559L813 556L813 546L815 542L816 543L818 540L821 543L822 545L823 545L823 535L822 536L823 537L820 538L816 537L819 533L823 535L824 512L826 507L824 500L826 496L829 494L833 494L835 496L835 503L834 505L838 506L837 507L838 510L835 513L834 519L835 522L839 524L841 528L843 527L843 520L846 522L848 520L845 519L846 516L844 516L844 515L847 514L846 511L844 510L846 508L846 503L851 502L851 509L850 512L851 513L848 515L850 517L848 519L852 527L849 532L851 535L852 548L850 552L842 556L842 560L840 559L838 564L836 565L834 575L831 582L826 582L824 580L822 587L819 589L813 587L806 591L803 597L794 598L788 604L775 612L764 615ZM846 530L848 529L845 527L846 529L845 530L846 530ZM842 532L843 530L842 528L841 531L842 532ZM812 568L813 562L811 559L810 560L811 567L812 568ZM1450 456L1447 456L1443 447L1444 444L1442 434L1444 422L1442 391L1443 334L1445 331L1449 329L1453 333L1453 346L1454 351L1457 353L1457 357L1455 360L1454 359L1456 362L1454 363L1455 365L1457 366L1456 371L1454 373L1455 380L1453 391L1455 391L1453 396L1453 401L1455 406L1454 409L1457 411L1455 414L1457 417L1452 431L1453 433L1451 442L1452 450L1449 454L1450 456ZM1402 358L1400 359L1399 357L1400 356L1402 358ZM1401 364L1399 364L1399 362L1401 362L1401 364ZM1401 534L1399 534L1396 532L1395 528L1396 520L1395 512L1395 403L1397 394L1396 391L1398 387L1397 385L1400 382L1397 378L1396 374L1398 373L1397 370L1400 367L1403 369L1405 374L1403 382L1405 391L1404 398L1405 406L1404 415L1406 419L1405 440L1406 446L1405 458L1405 476L1406 483L1405 490L1406 512L1404 520L1404 530L1403 533L1401 534ZM1374 436L1372 433L1374 433L1374 436ZM1373 440L1371 440L1370 438L1374 439L1373 440ZM1288 615L1279 616L1275 615L1273 610L1274 605L1284 592L1297 587L1302 570L1309 566L1316 567L1318 553L1320 545L1323 541L1326 541L1331 546L1335 555L1337 538L1338 522L1340 517L1342 517L1341 516L1345 517L1345 519L1346 518L1346 508L1348 498L1347 492L1351 483L1351 480L1349 478L1350 471L1352 469L1355 469L1354 468L1355 467L1359 476L1357 478L1362 480L1365 485L1366 481L1365 478L1366 476L1368 476L1369 473L1367 470L1367 462L1368 458L1367 454L1374 451L1376 466L1373 474L1376 476L1378 479L1378 486L1381 488L1382 491L1380 495L1379 496L1378 501L1381 502L1382 504L1385 504L1384 506L1386 513L1385 518L1382 520L1382 525L1381 526L1382 531L1384 533L1385 536L1384 540L1382 540L1380 544L1379 549L1377 552L1377 554L1376 556L1377 561L1372 564L1366 564L1356 583L1350 584L1349 583L1344 591L1340 590L1335 587L1325 597L1317 600L1310 605L1303 608L1297 612L1288 615ZM1353 467L1350 464L1351 459L1353 457L1355 458L1355 460L1356 464L1356 466L1353 466L1353 467ZM1448 466L1446 465L1448 463L1448 466ZM404 929L399 927L397 923L399 917L398 916L397 909L399 900L396 894L395 862L397 827L395 814L396 776L399 773L402 772L407 774L410 773L412 774L415 779L408 783L410 785L414 792L413 794L412 793L410 795L407 796L407 800L409 802L410 802L413 804L412 807L414 809L413 812L416 816L414 819L414 823L410 830L411 834L410 835L412 837L413 841L415 844L410 849L411 852L410 851L409 853L411 854L410 856L411 857L410 859L411 861L410 863L411 865L414 866L418 871L417 874L415 874L414 876L409 876L411 881L408 887L409 895L408 893L407 894L408 897L407 900L409 903L405 913L405 927L404 929ZM355 798L353 798L352 797L353 793L355 793L356 795L357 797L355 798ZM354 804L352 803L352 800L355 801L354 804ZM355 988L352 987L352 986L350 982L350 974L348 962L348 925L349 836L350 822L352 817L355 814L358 816L359 819L358 827L360 836L359 850L360 858L360 876L360 879L362 880L365 885L362 892L363 899L365 902L361 907L360 910L363 915L361 919L361 922L363 923L361 924L360 927L361 928L360 928L361 937L360 938L363 941L360 943L360 946L362 944L363 945L361 946L360 946L358 982L355 988ZM371 842L370 842L371 839L374 839L375 840L371 842ZM374 887L372 886L374 887ZM325 893L324 893L322 888L325 887L327 888L327 889L326 888L327 890L325 891L327 892L325 893ZM376 895L372 895L373 893L375 893L376 893L376 895ZM241 1058L233 1059L229 1057L227 1053L228 1048L237 1037L247 1031L251 1030L253 1020L259 1011L264 1010L270 1013L273 992L276 986L280 985L281 986L286 987L288 989L287 992L289 995L292 962L295 956L299 959L300 956L301 934L301 931L302 916L304 912L307 910L308 912L310 912L309 914L311 915L312 918L316 916L319 918L320 915L322 914L320 911L322 908L321 906L322 905L323 902L325 900L323 898L323 896L326 893L327 894L325 898L327 899L329 902L329 907L332 909L331 910L333 910L335 912L336 915L333 917L333 920L336 923L335 924L336 926L335 929L337 929L339 934L338 937L340 937L337 941L340 949L340 954L342 956L341 959L342 962L340 965L342 966L339 970L339 978L336 982L336 986L337 987L334 989L332 994L332 1001L326 1010L321 1013L319 1018L314 1021L312 1021L309 1027L301 1027L296 1032L290 1031L280 1040L272 1042L253 1054L241 1058ZM373 911L371 911L369 908L371 906L370 901L373 897L377 902L376 906L375 907L376 909L373 911ZM373 922L371 922L370 920L372 919L374 920L373 922ZM926 888L924 888L922 883L923 877L919 857L919 777L920 774L924 772L929 773L930 778L930 782L932 784L931 786L933 789L931 792L931 800L934 809L931 814L930 818L931 820L932 819L933 820L936 825L934 826L935 828L931 832L931 835L933 837L934 841L932 849L929 855L929 862L929 864L931 866L931 864L934 864L935 867L931 868L931 866L929 869L927 875L928 886L926 888ZM879 787L876 787L875 784L876 782L878 780L880 782L881 784L879 786L879 787ZM878 792L876 791L875 789L877 788L879 790L878 792ZM878 974L876 974L872 964L873 954L871 949L871 934L872 818L873 810L875 809L873 803L875 801L875 798L877 796L881 799L882 801L881 811L882 824L882 835L882 840L886 847L883 853L883 857L884 856L885 860L887 862L883 869L883 873L886 883L884 888L885 891L884 893L886 896L884 899L885 902L884 909L883 910L883 914L886 916L885 917L887 920L884 926L885 928L886 935L883 938L884 944L881 969L878 974ZM762 1059L755 1059L750 1056L749 1050L751 1045L761 1034L770 1027L774 1027L777 1013L782 1005L788 1002L791 1002L793 1005L796 988L798 985L798 980L801 978L801 976L806 977L807 980L810 979L812 982L813 968L815 962L814 954L817 936L816 928L819 923L822 925L823 923L825 903L824 896L826 888L825 885L826 881L826 878L826 876L825 875L829 863L828 862L829 861L833 862L831 865L834 878L837 879L840 876L842 878L847 872L845 869L847 865L846 860L848 859L853 863L851 869L853 870L853 872L852 873L853 877L852 886L856 890L855 894L856 895L854 897L853 901L856 902L856 904L857 904L857 907L861 916L860 920L855 921L857 922L858 925L857 928L859 931L857 933L858 935L860 936L861 939L860 943L862 943L862 946L863 947L864 946L863 945L865 946L865 949L866 952L861 956L862 969L858 975L861 977L859 981L861 981L861 982L857 984L857 986L855 987L857 991L854 998L854 1002L852 1003L852 1006L850 1006L850 1007L845 1010L846 1012L848 1010L847 1014L844 1014L842 1017L836 1020L831 1027L825 1027L822 1032L819 1034L812 1031L806 1035L803 1039L795 1041L775 1055L762 1059ZM843 883L843 881L839 879L839 881L842 884L843 883ZM841 887L841 885L839 887L841 887ZM841 900L842 895L840 893L839 897L841 901L841 900ZM822 932L823 927L822 927L821 930L820 929L820 930L822 933L822 932ZM822 938L823 934L822 933L822 938Z"/><path fill="#000" fill-rule="evenodd" fill-opacity="1.0" d="M306 530L304 529L304 528L307 528L306 530ZM306 538L305 534L307 533L308 536L306 538ZM296 588L292 586L292 577L296 570L300 574L302 547L306 540L309 542L308 544L310 547L311 562L310 581L309 584L305 586L300 580L300 578L299 586L296 588ZM278 599L273 598L271 590L274 577L278 574L281 578L283 591L281 597L278 599ZM240 615L235 614L233 609L234 605L237 602L244 601L245 600L251 601L258 589L262 588L267 591L269 596L267 601L265 604L259 608L256 608L251 612L245 613L240 615ZM927 395L924 394L922 390L923 380L925 378L928 379L929 386L928 390L926 392L927 395ZM877 476L875 474L875 469L873 467L873 456L873 450L876 448L876 444L873 439L873 435L875 432L874 431L876 426L879 427L879 429L881 431L881 439L878 446L881 450L881 454L880 468L878 470L877 476ZM878 483L876 483L876 479L878 478L878 483ZM877 508L874 500L874 496L877 491L875 490L875 485L876 484L879 485L878 491L878 495L880 496L877 508ZM764 615L754 614L750 610L752 606L760 598L766 596L770 592L775 591L777 584L780 580L788 577L789 578L793 578L796 560L799 555L804 556L806 559L806 563L808 564L808 567L812 569L814 564L813 560L815 547L819 545L823 550L824 547L824 530L826 521L825 511L828 507L827 498L828 495L830 495L834 498L834 502L831 505L834 510L833 518L836 530L838 534L843 536L842 537L846 535L848 536L848 541L850 543L847 551L844 552L842 551L841 552L841 555L836 560L833 576L828 579L823 575L823 580L821 585L819 586L813 585L807 590L802 596L794 596L789 602L775 611L764 615ZM842 540L840 538L841 540L842 540ZM793 582L793 580L793 582ZM1448 442L1446 443L1443 436L1445 424L1442 391L1444 377L1442 368L1444 360L1443 335L1444 333L1447 331L1450 332L1452 334L1452 346L1454 355L1453 360L1454 369L1452 376L1453 407L1452 416L1454 419L1452 425L1452 436L1448 442ZM1401 379L1399 376L1403 374L1401 379ZM1400 531L1399 531L1397 527L1399 519L1397 517L1395 512L1396 507L1395 471L1396 441L1395 431L1397 417L1396 416L1396 403L1398 398L1398 392L1401 388L1404 392L1403 394L1402 394L1405 404L1404 416L1405 429L1404 476L1405 483L1405 512L1403 519L1401 520L1404 528L1400 531ZM1287 615L1279 616L1275 614L1273 610L1275 604L1284 593L1289 591L1294 588L1297 587L1300 576L1304 570L1309 570L1312 569L1316 570L1319 551L1324 544L1326 544L1329 546L1329 550L1335 559L1337 540L1340 537L1339 525L1341 521L1342 520L1344 521L1345 525L1346 525L1348 489L1354 486L1352 485L1354 484L1359 490L1358 491L1361 491L1364 493L1365 492L1366 493L1363 495L1366 496L1366 493L1367 494L1369 492L1368 490L1369 486L1368 485L1368 479L1370 476L1373 476L1375 478L1376 485L1375 490L1377 490L1376 495L1377 507L1378 509L1380 508L1383 510L1384 513L1381 515L1379 520L1379 524L1380 532L1382 536L1380 542L1378 541L1377 546L1375 549L1376 550L1374 556L1375 561L1373 562L1370 562L1367 559L1362 567L1362 569L1355 580L1352 581L1347 576L1347 583L1344 588L1340 588L1335 584L1326 595L1318 598L1313 602L1302 608L1298 612L1287 615ZM1365 502L1367 499L1364 497L1365 498L1364 502L1365 502ZM1365 510L1364 507L1363 510L1365 510ZM1346 530L1346 527L1345 529L1346 530ZM402 911L400 910L400 908L401 900L397 892L398 882L396 861L396 839L398 827L396 814L397 807L396 799L398 787L397 783L397 778L400 774L404 773L407 776L407 782L406 784L408 790L406 796L407 802L410 807L409 808L412 814L413 814L413 816L411 819L412 820L412 822L408 823L409 825L407 830L407 836L409 840L407 849L409 861L408 868L411 868L411 870L407 875L406 894L403 900L406 904L404 910L402 911ZM355 980L353 980L355 979L353 978L353 973L350 969L349 965L348 926L349 857L350 847L349 836L352 824L355 819L357 824L356 825L359 836L358 842L359 858L359 878L362 887L360 892L360 898L361 901L359 907L359 964L358 971L357 972L355 973L357 976L356 977L357 979L355 980ZM241 1058L232 1058L229 1057L227 1054L228 1049L235 1040L247 1031L251 1031L253 1021L260 1012L265 1012L270 1015L272 1001L276 989L281 988L287 993L287 996L289 997L290 995L292 965L295 961L299 962L300 959L302 932L304 924L303 922L303 919L307 916L310 916L311 924L310 928L312 931L315 930L319 934L320 934L321 928L319 924L319 921L323 915L329 914L332 923L330 929L331 933L334 934L332 936L333 943L338 948L339 959L338 962L336 960L335 962L337 964L336 966L338 968L336 969L337 974L334 981L332 991L330 995L331 997L328 1004L325 1007L320 1009L318 1012L316 1018L311 1020L308 1025L304 1025L301 1023L300 1028L298 1029L289 1030L280 1039L270 1042L252 1054L241 1058ZM924 869L921 863L920 856L921 823L919 814L919 802L921 783L920 776L924 772L928 774L929 777L929 782L930 793L930 801L931 807L929 821L931 824L930 838L931 841L930 843L931 846L929 855L928 868L924 869ZM878 807L877 807L876 804L880 805L878 807ZM879 969L874 965L875 962L873 958L874 957L872 945L873 838L874 831L873 828L874 824L874 821L876 816L877 815L880 816L881 822L881 833L883 846L882 855L883 862L882 875L884 887L882 914L883 923L883 944L880 964L881 967L879 969ZM849 878L847 878L848 874L850 875L849 878ZM830 880L828 881L828 879L830 877L832 878L832 880L830 880ZM764 1058L756 1059L752 1058L749 1053L751 1046L761 1034L765 1033L771 1028L774 1027L776 1017L783 1006L787 1004L793 1007L795 993L799 984L801 983L801 981L803 980L805 983L807 982L810 984L812 989L814 968L816 962L814 956L815 949L817 945L817 943L819 942L822 944L823 941L824 918L827 904L825 896L830 883L833 884L833 887L831 888L834 892L835 898L840 903L840 908L843 911L844 905L843 901L844 899L843 897L845 895L843 888L845 889L847 887L849 887L852 890L853 892L851 894L853 900L852 904L854 904L854 907L855 909L853 910L853 912L856 911L857 916L856 917L854 916L853 919L856 928L854 931L855 933L853 934L856 937L855 940L857 945L856 946L858 949L857 951L859 951L860 952L858 955L860 967L858 971L858 976L856 983L854 987L855 995L852 1001L847 1004L845 1003L843 1007L844 1010L841 1015L836 1018L832 1024L829 1025L825 1025L822 1031L819 1032L812 1030L806 1034L802 1039L795 1040L775 1055L764 1058Z"/></g>
<text x="187.4" y="627.55" class="ax" text-anchor="end">0</text>
<text x="187.4" y="551.54" class="ax" text-anchor="end">5000</text>
<text x="187.4" y="475.53" class="ax" text-anchor="end">10000</text>
<text x="187.4" y="399.51" class="ax" text-anchor="end">15000</text>
<text x="187.4" y="323.5" class="ax" text-anchor="end">20000</text>
<text x="187.4" y="1070.4" class="ax" text-anchor="end">0</text>
<text x="187.4" y="994.39" class="ax" text-anchor="end">5000</text>
<text x="187.4" y="918.38" class="ax" text-anchor="end">10000</text>
<text x="187.4" y="842.36" class="ax" text-anchor="end">15000</text>
<text x="187.4" y="766.35" class="ax" text-anchor="end">20000</text>
<text x="209.85" y="1118.85" class="ax" text-anchor="middle">0</text>
<text x="305" y="1118.85" class="ax" text-anchor="middle">1</text>
<text x="400.15" y="1118.85" class="ax" text-anchor="middle">2</text>
<text x="495.3" y="1118.85" class="ax" text-anchor="middle">3</text>
<text x="590.45" y="1118.85" class="ax" text-anchor="middle">4</text>
<text x="685.6" y="1118.85" class="ax" text-anchor="middle">5</text>
<text x="733" y="1118.85" class="ax" text-anchor="middle">0</text>
<text x="828.15" y="1118.85" class="ax" text-anchor="middle">1</text>
<text x="923.3" y="1118.85" class="ax" text-anchor="middle">2</text>
<text x="1018.45" y="1118.85" class="ax" text-anchor="middle">3</text>
<text x="1113.6" y="1118.85" class="ax" text-anchor="middle">4</text>
<text x="1208.75" y="1118.85" class="ax" text-anchor="middle">5</text>
<text x="1256.15" y="676" class="ax" text-anchor="middle">0</text>
<text x="1351.3" y="676" class="ax" text-anchor="middle">1</text>
<text x="1446.45" y="676" class="ax" text-anchor="middle">2</text>
<text x="1541.6" y="676" class="ax" text-anchor="middle">3</text>
<text x="1636.75" y="676" class="ax" text-anchor="middle">4</text>
<text x="1731.9" y="676" class="ax" text-anchor="middle">5</text>
<path d="M196.4 615.95H206M196.4 539.94H206M196.4 463.93H206M196.4 387.91H206M196.4 311.9H206M196.4 1058.8H206M196.4 982.79H206M196.4 906.77H206M196.4 830.76H206M196.4 754.75H206M209.85 1077.45V1087.05M305 1077.45V1087.05M400.15 1077.45V1087.05M495.3 1077.45V1087.05M590.45 1077.45V1087.05M685.6 1077.45V1087.05M733 1077.45V1087.05M828.15 1077.45V1087.05M923.3 1077.45V1087.05M1018.45 1077.45V1087.05M1113.6 1077.45V1087.05M1208.75 1077.45V1087.05M1256.15 634.6V644.2M1351.3 634.6V644.2M1446.45 634.6V644.2M1541.6 634.6V644.2M1636.75 634.6V644.2M1731.9 634.6V644.2" stroke="#333333" stroke-width="3.9"/>
<text x="981" y="1163.9" class="ti" text-anchor="middle">carat</text>
<text transform="translate(79.9 675.1) rotate(-90)" class="ti" text-anchor="middle">price</text>
<text x="1260.2" y="923.7" font-size="50" fill="#000">Before</text>
<text x="1287.8" y="997.5" font-family="Liberation Mono" font-size="51.8" fill="#000">thematic_shiny()</text>
</svg>
<canvas id="cv" width="1744" height="1000"></canvas>
<svg width="1744" height="1000" viewBox="32 192 1744 1000" id="ov">
<g fill="#999999" fill-opacity="0.4"><path d="M230.7 603.8L233 602.8L235.3 601.8L237.5 600.9L239.8 599.9L242 598.9L244.4 597.9L246.8 596.8L249.3 595.6L252 594.3L254.8 592.9L257.8 591.4L260.8 589.9L263.8 588.3L266.6 586.7L269.4 585.1L271.9 583.4L274.2 581.8L276.3 580.1L278.3 578.5L280.1 576.8L282 575L283.8 573.2L285.6 571.4L287.5 569.5L289.4 567.6L291.4 565.5L293.4 563.3L295.3 561.1L297.2 559L299.2 556.9L301.2 554.9L303.1 553.1L305.1 551.4L307 549.9L309 548.5L311 547.1L313 545.8L314.9 544.5L316.8 543.2L318.7 541.8L320.5 540.4L322.4 539L324.2 537.6L326 536.3L327.7 534.9L329.4 533.5L331 532L332.6 530.5L334.1 528.9L335.4 527.3L336.8 525.7L338 524L339.3 522.3L340.5 520.5L341.7 518.6L343 516.6L344.3 514.5L345.6 512.2L346.8 509.9L348.1 507.4L349.4 504.9L350.7 502.4L352 500L353.4 497.5L354.8 495.1L356.3 492.7L357.7 490.3L359.2 487.9L360.8 485.5L362.3 483.1L363.9 480.7L365.5 478.4L367.2 476.1L368.9 473.9L370.6 471.6L372.3 469.4L374.1 467.3L375.9 465.1L377.7 463.1L379.4 461.1L381.1 459.1L382.9 457.2L384.7 455.3L386.4 453.5L388.1 451.7L389.9 450L391.6 448.4L393.2 446.9L394.8 445.4L396.2 444L397.7 442.7L399.1 441.5L400.5 440.3L402 439.2L403.6 438.1L405.4 437.1L407.3 436.1L409.4 435.1L411.5 434.3L413.7 433.4L416 432.7L418.3 431.9L420.5 431.2L422.7 430.3L424.8 429.5L426.7 428.8L428.6 428.1L430.6 427.5L432.6 426.9L434.8 426.2L437.2 425.4L440 424.4L443.1 423.5L446.6 422.5L450.3 421.4L454.2 420.3L458.1 419.1L462.1 417.9L466.1 416.7L469.9 415.5L473.6 414.2L477.4 412.8L481.1 411.5L484.9 410.1L488.7 408.7L492.4 407.3L496.2 405.8L499.9 404.2L503.6 402.7L507.4 401.1L511.1 399.4L514.9 397.7L518.6 396L522.3 394.3L526.1 392.5L529.8 390.8L533.5 389L537.3 387.1L541 385.3L544.7 383.4L548.5 381.5L552.2 379.6L556 377.7L559.7 375.8L563.4 373.8L567.2 371.7L570.9 369.7L574.7 367.6L578.5 365.6L582.2 363.5L586 361.4L589.7 359.3L593.4 357.1L597.2 354.9L600.9 352.7L604.7 350.5L608.4 348.3L612.1 346.1L615.9 343.8L619.6 341.4L623.3 338.7L626.9 336L630.5 333.3L634.1 330.5L637.8 327.7L641.5 324.8L645.4 321.9L649.5 318.9L653.8 315.5L658.2 312.1L662.8 308.5L667.4 304.9L672.1 301.3L676.9 297.7L681.6 294.1L686.2 290.5L686.2 365.3L681.6 366.4L676.9 367.6L672.1 368.7L667.4 369.8L662.8 370.9L658.2 372.1L653.8 373.2L649.5 374.3L645.4 375.5L641.5 376.6L637.8 377.8L634.1 379L630.5 380.1L626.9 381.2L623.3 382.3L619.6 383.3L615.9 384.7L612.1 386.1L608.4 387.4L604.7 388.7L600.9 390L597.2 391.3L593.4 392.5L589.7 393.8L586 395.1L582.2 396.5L578.5 397.8L574.7 399.1L570.9 400.4L567.2 401.7L563.4 402.9L559.7 404.2L556 405.6L552.2 406.9L548.5 408.2L544.7 409.5L541 410.8L537.3 412.1L533.5 413.4L529.8 414.7L526.1 416L522.3 417.2L518.6 418.5L514.9 419.8L511.1 421L507.4 422.2L503.6 423.3L499.9 424.4L496.2 425.6L492.4 426.7L488.7 427.8L484.9 428.8L481.1 429.8L477.4 430.8L473.6 431.8L469.9 432.7L466.1 433.4L462.1 434.2L458.1 434.9L454.2 435.6L450.3 436.2L446.6 436.8L443.1 437.4L440 437.9L437.2 438.3L434.8 438.6L432.6 438.9L430.6 439.1L428.6 439.4L426.7 439.6L424.8 439.9L422.7 440.3L420.5 440.8L418.3 441.4L416 442L413.7 442.7L411.5 443.5L409.4 444.2L407.3 445.1L405.4 446L403.6 447L402 448L400.5 449.1L399.1 450.2L397.7 451.4L396.2 452.6L394.8 454L393.2 455.4L391.6 456.8L389.9 458.4L388.1 460L386.4 461.7L384.7 463.5L382.9 465.3L381.1 467.2L379.4 469.1L377.7 471.1L375.9 473.1L374.1 475.3L372.3 477.4L370.6 479.6L368.9 481.9L367.2 484.1L365.5 486.4L363.9 488.7L362.3 491L360.8 493.4L359.2 495.8L357.7 498.2L356.3 500.7L354.8 503.1L353.4 505.5L352 507.9L350.7 510.4L349.4 512.9L348.1 515.3L346.8 517.8L345.6 520.2L344.3 522.4L343 524.6L341.7 526.5L340.5 528.4L339.3 530.2L338 531.9L336.8 533.6L335.4 535.2L334.1 536.8L332.6 538.3L331 539.9L329.4 541.3L327.7 542.8L326 544.1L324.2 545.5L322.4 546.9L320.5 548.2L318.7 549.6L316.8 551L314.9 552.3L313 553.6L311 554.9L309 556.3L307 557.7L305.1 559.2L303.1 560.9L301.2 562.7L299.2 564.7L297.2 566.8L295.3 568.9L293.4 571.1L291.4 573.2L289.4 575.3L287.5 577.3L285.6 579.1L283.8 581L282 582.7L280.1 584.5L278.3 586.2L276.3 587.9L274.2 589.5L271.9 591.2L269.4 592.8L266.6 594.4L263.8 596L260.8 597.5L257.8 599.1L254.8 600.5L252 601.9L249.3 603.2L246.8 604.4L244.4 605.5L242 606.6L239.8 607.6L237.5 608.5L235.3 609.5L233 610.4L230.7 611.4Z"/><path d="M754.7 607.4L759 604.7L763.4 602L767.9 599.2L772.3 596.5L776.7 593.8L780.8 591.1L784.6 588.6L788 586.2L790.9 584L793.5 582L795.7 580.1L797.7 578.3L799.6 576.5L801.5 574.6L803.4 572.5L805.5 570.2L807.7 567.6L809.9 564.8L812.1 561.9L814.3 558.8L816.5 555.8L818.7 552.7L820.8 549.8L822.9 547L825 544.3L827 541.6L829 538.9L830.9 536.3L832.9 533.7L834.9 531.3L836.8 528.9L838.8 526.7L840.8 524.6L842.9 522.7L845 520.9L847.1 519.2L849.1 517.5L851.1 515.8L853 514.1L854.8 512.1L856.5 510.1L858.1 508.1L859.6 506L861.1 503.8L862.5 501.6L863.8 499.4L865.1 497.1L866.4 494.7L867.6 492.4L868.7 489.9L869.7 487.5L870.8 485L871.8 482.4L872.8 479.8L873.9 477.1L875.1 474.4L876.4 471.7L877.7 468.9L879.1 466L880.5 463.1L882 460.2L883.5 457.2L885.1 454.2L886.7 451.1L888.4 448L890.1 444.7L891.8 441.4L893.6 438.1L895.4 434.7L897.3 431.4L899.2 428.2L901.2 425L903.2 421.9L905.3 418.9L907.4 415.8L909.5 412.9L911.7 410L914 407.1L916.3 404.4L918.6 401.8L921 399.3L923.4 396.9L925.9 394.5L928.4 392.3L931 390.1L933.6 388L936.3 386L939 384.1L941.8 382.3L944.6 380.7L947.5 379.2L950.4 377.8L953.4 376.4L956.3 375.2L959.3 374.1L962.2 373.1L965 372.2L967.8 371.4L970.4 370.7L973.1 370.1L975.9 369.6L978.9 369.2L982 368.7L985.4 368.3L989.1 367.4L993.1 366.5L997.3 365.6L1001.6 364.7L1006.1 363.7L1010.5 362.7L1014.9 361.6L1019.2 360.6L1019.2 387.6L1014.9 386.4L1010.5 385.2L1006.1 383.9L1001.6 382.7L997.3 382L993.1 381.3L989.1 380.7L985.4 380.3L982 380.4L978.9 380.5L975.9 380.6L973.1 380.9L970.4 381.2L967.8 381.6L965 382.2L962.2 382.9L959.3 383.7L956.3 384.6L953.4 385.6L950.4 386.7L947.5 387.9L944.6 389.3L941.8 390.7L939 392.3L936.3 394L933.6 395.8L931 397.8L928.4 399.9L925.9 402.1L923.4 404.5L921 406.9L918.6 409.4L916.3 412L914 414.7L911.7 417.5L909.5 420.4L907.4 423.4L905.3 426.4L903.2 429.5L901.2 432.6L899.2 435.7L897.3 439L895.4 442.3L893.6 445.6L891.8 449L890.1 452.3L888.4 455.5L886.7 458.7L885.1 461.7L883.5 464.8L882 467.7L880.5 470.7L879.1 473.6L877.7 476.4L876.4 479.2L875.1 482L873.9 484.7L872.8 487.3L871.8 489.9L870.8 492.5L869.7 495L868.7 497.5L867.6 499.9L866.4 502.3L865.1 504.6L863.8 506.9L862.5 509.1L861.1 511.3L859.6 513.5L858.1 515.6L856.5 517.6L854.8 519.7L853 521.6L851.1 523.3L849.1 525L847.1 526.7L845 528.4L842.9 530.2L840.8 532.1L838.8 534.1L836.8 536.4L834.9 538.7L832.9 541.2L830.9 543.7L829 546.4L827 549L825 551.7L822.9 554.4L820.8 557.2L818.7 560.2L816.5 563.2L814.3 566.3L812.1 569.3L809.9 572.3L807.7 575L805.5 577.6L803.4 579.9L801.5 582L799.6 583.9L797.7 585.7L795.7 587.5L793.5 589.4L790.9 591.4L788 593.6L784.6 596L780.8 598.5L776.7 601.2L772.3 603.9L767.9 606.6L763.4 609.4L759 612.1L754.7 614.8Z"/><path d="M1275.2 608.2L1277.7 606.8L1280.3 605.4L1282.8 604L1285.3 602.5L1287.9 601.1L1290.4 599.6L1293 598.2L1295.5 596.6L1298.1 595.1L1300.7 593.7L1303.3 592.2L1305.9 590.7L1308.5 589.1L1311 587.4L1313.5 585.6L1315.9 583.5L1318.2 581.3L1320.5 578.9L1322.6 576.3L1324.8 573.7L1326.9 570.9L1329 568L1331.1 565L1333.3 561.8L1335.5 558.5L1337.6 554.8L1339.8 551L1342 547.1L1344.2 543.2L1346.3 539.5L1348.5 535.9L1350.7 532.7L1352.9 529.9L1355.2 527.2L1357.5 524.8L1359.8 522.5L1362 520.3L1364.2 518.2L1366.2 516.1L1368.1 513.9L1369.8 511.9L1371.3 510.1L1372.7 508.4L1374.1 506.7L1375.4 505L1376.7 503L1378.2 500.7L1379.7 497.9L1381.4 494.6L1383.1 490.9L1384.9 486.7L1386.8 482.4L1388.6 478L1390.5 473.8L1392.4 469.7L1394.2 466L1396 462.7L1397.8 459.6L1399.5 456.7L1401.3 453.9L1403 451.1L1404.9 448.4L1406.7 445.7L1408.7 442.8L1410.8 439.9L1412.9 437L1415.2 434.1L1417.5 431.2L1419.7 428.2L1422 425.3L1424.1 422.4L1426.2 419.5L1428.2 416.6L1430 413.5L1431.9 410.5L1433.6 407.4L1435.4 404.5L1437.1 401.6L1438.9 398.9L1440.7 396.3L1442.5 393.9L1444.4 391.5L1446.3 389.2L1448.1 387.1L1450 385.1L1451.8 383.3L1453.5 381.7L1455.2 380.4L1456.6 379.4L1457.8 378.7L1458.9 378.1L1459.9 377.8L1461.1 377.7L1462.5 377.6L1464.4 377.5L1466.8 377.5L1469.7 377.5L1473.1 377.6L1476.8 377.8L1480.7 378.1L1485 378.3L1489.4 378.5L1494 378.8L1498.7 379L1503.6 378.7L1508.8 378.4L1514.2 378.1L1519.8 377.7L1525.4 377.4L1531.1 377.1L1536.8 376.8L1542.3 376.5L1547.7 375.7L1553 374.9L1558.3 374.1L1563.6 373.4L1569 372.6L1574.4 371.7L1580 370.9L1585.8 370L1591.8 368.8L1598 367.4L1604.3 365.8L1610.7 364.3L1617.2 362.7L1623.7 361.1L1630.2 359.5L1636.6 358L1636.6 431.8L1630.2 429.2L1623.7 426.6L1617.2 424L1610.7 421.3L1604.3 418.7L1598 416.1L1591.8 413.6L1585.8 411.6L1580 409.8L1574.4 408.1L1569 406.4L1563.6 404.7L1558.3 403L1553 401.3L1547.7 399.6L1542.3 398L1536.8 396.6L1531.1 395.2L1525.4 393.8L1519.8 392.5L1514.2 391.1L1508.8 389.8L1503.6 388.6L1498.7 387.5L1494 386.9L1489.4 386.3L1485 385.7L1480.7 385.1L1476.8 384.8L1473.1 384.6L1469.7 384.5L1466.8 384.5L1464.4 384.5L1462.5 384.6L1461.1 384.7L1459.9 384.8L1458.9 385.1L1457.8 385.6L1456.6 386.4L1455.2 387.4L1453.5 388.7L1451.8 390.3L1450 392.1L1448.1 394.1L1446.3 396.2L1444.4 398.5L1442.5 400.9L1440.7 403.3L1438.9 405.8L1437.1 408.6L1435.4 411.5L1433.6 414.4L1431.9 417.5L1430 420.5L1428.2 423.5L1426.2 426.5L1424.1 429.4L1422 432.3L1419.7 435.2L1417.5 438.1L1415.2 441.1L1412.9 444L1410.8 446.9L1408.7 449.8L1406.7 452.6L1404.9 455.4L1403 458.1L1401.3 460.8L1399.5 463.7L1397.8 466.6L1396 469.7L1394.2 473L1392.4 476.7L1390.5 480.7L1388.6 485L1386.8 489.4L1384.9 493.7L1383.1 497.8L1381.4 501.6L1379.7 504.9L1378.2 507.6L1376.7 509.9L1375.4 511.9L1374.1 513.7L1372.7 515.4L1371.3 517.1L1369.8 518.9L1368.1 520.9L1366.2 523L1364.2 525.1L1362 527.3L1359.8 529.5L1357.5 531.7L1355.2 534.2L1352.9 536.8L1350.7 539.7L1348.5 542.9L1346.3 546.4L1344.2 550.2L1342 554L1339.8 557.9L1337.6 561.8L1335.5 565.4L1333.3 568.8L1331.1 571.9L1329 574.9L1326.9 577.8L1324.8 580.6L1322.6 583.3L1320.5 585.8L1318.2 588.2L1315.9 590.5L1313.5 592.5L1311 594.4L1308.5 596.1L1305.9 597.6L1303.3 599.1L1300.7 600.6L1298.1 602.1L1295.5 603.6L1293 605.1L1290.4 606.6L1287.9 608L1285.3 609.5L1282.8 610.9L1280.3 612.3L1277.7 613.7L1275.2 615.2Z"/><path d="M229.2 1051.2L231.7 1049.4L234.2 1047.5L236.7 1045.7L239.2 1043.9L241.7 1042.1L244.3 1040.3L246.9 1038.5L249.6 1036.6L252.4 1034.8L255.4 1033.1L258.5 1031.3L261.6 1029.6L264.6 1027.8L267.5 1025.9L270.3 1024.1L272.8 1022.1L275 1020.1L277 1018.2L278.7 1016.2L280.4 1014.1L282 1012L283.7 1009.7L285.4 1007.3L287.3 1004.7L289.3 1001.8L291.4 998.6L293.5 995.2L295.6 991.7L297.8 988.2L300.1 984.8L302.4 981.5L304.7 978.4L307.2 975.6L309.8 972.9L312.5 970.3L315.2 967.7L317.9 965.3L320.5 962.9L322.9 960.5L325 958.1L326.9 955.9L328.5 953.8L329.9 951.9L331.2 949.9L332.5 947.9L333.8 945.8L335.2 943.4L336.7 940.7L338.4 937.6L340.1 934.3L341.9 930.7L343.8 927L345.6 923.2L347.5 919.3L349.4 915.4L351.2 911.6L353 907.6L354.7 903.6L356.4 899.4L358.1 895.2L359.8 891.1L361.7 887.1L363.6 883.2L365.7 879.6L368 876.3L370.4 873.2L373 870.3L375.7 867.5L378.3 864.7L381 862L383.6 859.2L386 856.4L388.3 853.4L390.6 850.4L392.9 847.3L395.1 844.3L397.2 841.3L399.3 838.4L401.4 835.6L403.4 833.1L405.4 830.6L407.2 828.2L409.1 825.9L410.9 823.7L412.7 821.7L414.4 819.9L416.2 818.4L418 817.1L419.8 816.3L421.5 815.7L423.2 815.4L424.9 815.4L426.6 815.5L428.5 815.7L430.4 815.9L432.5 816.2L434.7 816.6L437 817.1L439.3 817.8L441.7 818.5L444.3 819.3L447 820.1L449.8 820.8L452.8 821.4L456 822L459.4 822.4L463 822.7L466.8 822.9L470.5 823.2L474.3 823.3L478.1 823.4L481.8 823.5L485.3 823.4L488.7 823.4L492.1 823.2L495.4 823L498.9 822.6L502.6 822.1L506.6 821.5L510.9 820.9L515.7 820.1L520.9 819.1L526.5 818.1L532.2 817L537.9 815.8L543.7 814.6L549.2 812.5L554.4 810.6L559.3 808.6L564.1 806.7L568.7 804.8L573.2 802.9L577.7 801L582.2 799.1L586.6 797.2L591.2 795.3L591.2 845.6L586.6 845.1L582.2 844.7L577.7 844.2L573.2 843.8L568.7 843.3L564.1 842.8L559.3 842.2L554.4 841.6L549.2 840.9L543.7 840.1L537.9 839.9L532.2 839.8L526.5 839.6L520.9 839.4L515.7 839.2L510.9 838.9L506.6 838.6L502.6 838.3L498.9 838L495.4 837.6L492.1 837.3L488.7 836.8L485.3 836.3L481.8 835.8L478.1 835.1L474.3 834.3L470.5 833.5L466.8 832.6L463 831.7L459.4 830.8L456 830L452.8 829.4L449.8 828.8L447 828.1L444.3 827.3L441.7 826.5L439.3 825.8L437 825.1L434.7 824.6L432.5 824.2L430.4 823.9L428.5 823.6L426.6 823.4L424.9 823.3L423.2 823.4L421.5 823.6L419.8 824.2L418 825.1L416.2 826.3L414.4 827.8L412.7 829.6L410.9 831.6L409.1 833.8L407.2 836.1L405.4 838.5L403.4 840.9L401.4 843.5L399.3 846.2L397.2 849.1L395.1 852.1L392.9 855.2L390.6 858.2L388.3 861.2L386 864.2L383.6 867L381 869.8L378.3 872.5L375.7 875.2L373 878L370.4 881L368 884.1L365.7 887.4L363.6 891L361.7 894.8L359.8 898.8L358.1 902.9L356.4 907.1L354.7 911.3L353 915.3L351.2 919.2L349.4 923.1L347.5 927L345.6 930.9L343.8 934.7L341.9 938.4L340.1 941.9L338.4 945.3L336.7 948.3L335.2 951L333.8 953.4L332.5 955.6L331.2 957.6L329.9 959.5L328.5 961.4L326.9 963.5L325 965.7L322.9 968L320.5 970.4L317.9 972.8L315.2 975.3L312.5 977.8L309.8 980.4L307.2 983.1L304.7 986L302.4 989L300.1 992.3L297.8 995.7L295.6 999.2L293.5 1002.7L291.4 1006.1L289.3 1009.2L287.3 1012.1L285.4 1014.7L283.7 1017.2L282 1019.4L280.4 1021.5L278.7 1023.6L277 1025.6L275 1027.5L272.8 1029.5L270.3 1031.4L267.5 1033.3L264.6 1035.1L261.6 1036.9L258.5 1038.7L255.4 1040.4L252.4 1042.2L249.6 1044L246.9 1045.8L244.3 1047.6L241.7 1049.4L239.2 1051.2L236.7 1053L234.2 1054.8L231.7 1056.6L229.2 1058.4Z"/><path d="M751.8 1051.4L754.5 1049.4L757.2 1047.5L759.9 1045.6L762.6 1043.6L765.3 1041.7L768.1 1039.7L770.8 1037.6L773.6 1035.4L776.5 1033.1L779.4 1030.7L782.5 1028.3L785.5 1025.8L788.5 1023.2L791.4 1020.5L794.2 1017.8L796.8 1015.1L799.3 1012.2L801.6 1009.2L803.7 1006.2L805.9 1003.1L807.9 999.9L810 996.7L812.1 993.5L814.2 990.3L816.4 987.2L818.6 983.9L820.7 980.7L822.9 977.4L825.1 974.1L827.3 970.8L829.4 967.5L831.6 964.2L833.8 961L836 957.7L838.2 954.5L840.5 951.2L842.7 947.9L844.8 944.7L847 941.4L849 938.1L851 934.8L852.9 931.5L854.8 928.2L856.7 924.9L858.5 921.5L860.2 918.3L861.9 915.1L863.6 911.9L865.2 908.9L866.6 905.9L867.9 903L869.2 900.1L870.6 897.2L872 894.4L873.5 891.5L875.2 888.7L877.1 885.9L879.1 883.2L881.3 880.4L883.5 877.7L885.8 875L888.1 872.3L890.4 869.6L892.6 866.9L894.8 864.2L897 861.5L899.1 858.8L901.3 856.2L903.5 853.5L905.6 850.8L907.8 848L910 845.2L912.2 842.3L914.3 839.2L916.5 836.1L918.7 832.9L920.9 829.9L923 827L925.2 824.3L927.4 821.9L929.6 819.8L931.8 818L934 816.3L936.1 814.8L938.3 813.5L940.5 812.3L942.7 811.3L944.9 810.3L947.1 809.5L949.2 808.8L951.3 808.3L953.4 807.9L955.6 807.7L957.7 807.5L960 807.4L962.3 807.4L964.7 807.4L967.1 807.5L969.6 807.7L972.1 808L974.6 808.3L977.3 808.7L979.9 809.2L982.6 809.9L985.3 810.7L988.1 811.5L990.8 812L993.6 812.6L996.5 813.4L999.5 814.2L1002.6 815.1L1005.8 816L1009.1 817L1012.6 818L1016.2 819.1L1019.9 820.2L1023.6 820.9L1027.4 821.7L1031.1 822.5L1034.9 823.5L1038.7 824.5L1042.5 825.6L1046.4 826.9L1050.2 828.1L1054.1 829.5L1058 830.8L1061.9 832.1L1065.8 833.4L1065.8 888.1L1061.9 883.7L1058 879.2L1054.1 874.7L1050.2 870.3L1046.4 865.8L1042.5 861.5L1038.7 857.6L1034.9 853.9L1031.1 850.2L1027.4 846.7L1023.6 843.2L1019.9 839.8L1016.2 837.1L1012.6 834.7L1009.1 832.3L1005.8 830.1L1002.6 827.9L999.5 825.9L996.5 823.9L993.6 822.1L990.8 820.4L988.1 818.8L985.3 817.7L982.6 816.9L979.9 816.2L977.3 815.6L974.6 815.1L972.1 814.8L969.6 814.5L967.1 814.3L964.7 814.2L962.3 814.2L960 814.2L957.7 814.3L955.6 814.5L953.4 814.7L951.3 815.1L949.2 815.6L947.1 816.3L944.9 817.1L942.7 818.1L940.5 819.1L938.3 820.3L936.1 821.6L934 823.1L931.8 824.8L929.6 826.6L927.4 828.7L925.2 831.1L923 833.7L920.9 836.6L918.7 839.7L916.5 842.9L914.3 846L912.2 849.1L910 852L907.8 854.8L905.6 857.5L903.5 860.2L901.3 862.9L899.1 865.6L897 868.3L894.8 871L892.6 873.7L890.4 876.4L888.1 879.1L885.8 881.8L883.5 884.5L881.3 887.2L879.1 889.9L877.1 892.7L875.2 895.5L873.5 898.3L872 901.1L870.6 904L869.2 906.8L867.9 909.7L866.6 912.6L865.2 915.6L863.6 918.7L861.9 921.8L860.2 925L858.5 928.3L856.7 931.6L854.8 934.9L852.9 938.3L851 941.6L849 944.9L847 948.2L844.8 951.4L842.7 954.7L840.5 957.9L838.2 961.2L836 964.5L833.8 967.7L831.6 971L829.4 974.3L827.3 977.5L825.1 980.8L822.9 984.1L820.7 987.4L818.6 990.7L816.4 993.9L814.2 997.1L812.1 1000.3L810 1003.5L807.9 1006.6L805.9 1009.8L803.7 1012.9L801.6 1015.9L799.3 1018.9L796.8 1021.8L794.2 1024.6L791.4 1027.3L788.5 1029.9L785.5 1032.5L782.5 1035L779.4 1037.4L776.5 1039.8L773.6 1042.1L770.8 1044.3L768.1 1046.4L765.3 1048.4L762.6 1050.3L759.9 1052.3L757.2 1054.2L754.5 1056.1L751.8 1058.1Z"/></g><g fill="none" stroke="#3366FF" stroke-width="6.4" stroke-linejoin="round"><path d="M230.7 607.6L233 606.6L235.3 605.6L237.5 604.7L239.8 603.7L242 602.8L244.4 601.7L246.8 600.6L249.3 599.4L252 598.1L254.8 596.7L257.8 595.2L260.8 593.7L263.8 592.1L266.6 590.5L269.4 588.9L271.9 587.3L274.2 585.7L276.3 584L278.3 582.3L280.1 580.6L282 578.9L283.8 577.1L285.6 575.3L287.5 573.4L289.4 571.4L291.4 569.4L293.4 567.2L295.3 565L297.2 562.9L299.2 560.8L301.2 558.8L303.1 557L305.1 555.3L307 553.8L309 552.4L311 551L313 549.7L314.9 548.4L316.8 547.1L318.7 545.7L320.5 544.3L322.4 542.9L324.2 541.6L326 540.2L327.7 538.8L329.4 537.4L331 535.9L332.6 534.4L334.1 532.8L335.4 531.2L336.8 529.6L338 528L339.3 526.3L340.5 524.5L341.7 522.6L343 520.6L344.3 518.5L345.6 516.2L346.8 513.8L348.1 511.4L349.4 508.9L350.7 506.4L352 503.9L353.4 501.5L354.8 499.1L356.3 496.7L357.7 494.3L359.2 491.8L360.8 489.4L362.3 487L363.9 484.7L365.5 482.4L367.2 480.1L368.9 477.9L370.6 475.6L372.3 473.4L374.1 471.3L375.9 469.1L377.7 467.1L379.4 465.1L381.1 463.2L382.9 461.3L384.7 459.4L386.4 457.7L388.1 455.9L389.9 454.3L391.6 452.7L393.2 451.2L394.8 449.8L396.2 448.4L397.7 447.2L399.1 446L400.5 444.8L402 443.7L403.6 442.7L405.4 441.7L407.3 440.8L409.4 439.9L411.5 439.1L413.7 438.3L416 437.6L418.3 436.9L420.5 436.2L422.7 435.6L424.8 435L426.7 434.6L428.6 434.2L430.6 433.8L432.6 433.5L434.8 433L437.2 432.5L440 431.9L443.1 431.2L446.6 430.3L450.3 429.4L454.2 428.5L458.1 427.5L462.1 426.5L466.1 425.4L469.9 424.4L473.6 423.4L477.4 422.3L481.1 421.3L484.9 420.2L488.7 419.1L492.4 418L496.2 416.8L499.9 415.5L503.6 414.2L507.4 412.7L511.1 411.3L514.9 409.7L518.6 408.2L522.3 406.6L526.1 405.1L529.8 403.5L533.5 402L537.3 400.4L541 398.8L544.7 397.2L548.5 395.7L552.2 394L556 392.4L559.7 390.8L563.4 389.2L567.2 387.5L570.9 385.8L574.7 384.1L578.5 382.4L582.2 380.7L586 379L589.7 377.3L593.4 375.6L597.2 373.9L600.9 372.1L604.7 370.4L608.4 368.6L612.1 366.8L615.9 365L619.6 363.1L623.3 361.2L626.9 359.2L630.5 357.2L634.1 355.1L637.8 353L641.5 350.9L645.4 348.8L649.5 346.6L653.8 344.4L658.2 342.1L662.8 339.8L667.4 337.4L672.1 335.1L676.9 332.7L681.6 330.3L686.2 328"/><path d="M754.7 611.1L759 608.4L763.4 605.7L767.9 602.9L772.3 600.2L776.7 597.5L780.8 594.8L784.6 592.3L788 589.9L790.9 587.7L793.5 585.7L795.7 583.8L797.7 582L799.6 580.2L801.5 578.3L803.4 576.2L805.5 573.9L807.7 571.3L809.9 568.5L812.1 565.6L814.3 562.6L816.5 559.5L818.7 556.5L820.8 553.5L822.9 550.7L825 548L827 545.3L829 542.6L830.9 540L832.9 537.5L834.9 535L836.8 532.6L838.8 530.4L840.8 528.3L842.9 526.4L845 524.7L847.1 523L849.1 521.3L851.1 519.6L853 517.8L854.8 515.9L856.5 513.9L858.1 511.8L859.6 509.7L861.1 507.6L862.5 505.4L863.8 503.1L865.1 500.8L866.4 498.5L867.6 496.1L868.7 493.7L869.7 491.2L870.8 488.7L871.8 486.2L872.8 483.6L873.9 480.9L875.1 478.2L876.4 475.5L877.7 472.7L879.1 469.8L880.5 466.9L882 464L883.5 461L885.1 458L886.7 454.9L888.4 451.8L890.1 448.5L891.8 445.2L893.6 441.8L895.4 438.5L897.3 435.2L899.2 431.9L901.2 428.8L903.2 425.7L905.3 422.7L907.4 419.6L909.5 416.7L911.7 413.7L914 410.9L916.3 408.2L918.6 405.6L921 403.1L923.4 400.7L925.9 398.3L928.4 396.1L931 393.9L933.6 391.9L936.3 390L939 388.2L941.8 386.5L944.6 385L947.5 383.6L950.4 382.2L953.4 381L956.3 379.9L959.3 378.9L962.2 378L965 377.2L967.8 376.5L970.4 376L973.1 375.5L975.9 375.1L978.9 374.8L982 374.5L985.4 374.3L989.1 374.1L993.1 374L997.3 374L1001.6 374.1L1006.1 374.1L1010.5 374.2L1014.9 374.3L1019.2 374.3"/><path d="M1275.2 611.7L1277.7 610.3L1280.3 608.8L1282.8 607.4L1285.3 606L1287.9 604.6L1290.4 603.1L1293 601.6L1295.5 600.1L1298.1 598.6L1300.7 597.1L1303.3 595.7L1305.9 594.2L1308.5 592.6L1311 590.9L1313.5 589.1L1315.9 587L1318.2 584.7L1320.5 582.4L1322.6 579.8L1324.8 577.1L1326.9 574.4L1329 571.4L1331.1 568.4L1333.3 565.3L1335.5 561.9L1337.6 558.3L1339.8 554.5L1342 550.6L1344.2 546.7L1346.3 542.9L1348.5 539.4L1350.7 536.2L1352.9 533.3L1355.2 530.7L1357.5 528.3L1359.8 526L1362 523.8L1364.2 521.7L1366.2 519.5L1368.1 517.4L1369.8 515.4L1371.3 513.6L1372.7 511.9L1374.1 510.2L1375.4 508.4L1376.7 506.5L1378.2 504.1L1379.7 501.4L1381.4 498.1L1383.1 494.3L1384.9 490.2L1386.8 485.9L1388.6 481.5L1390.5 477.2L1392.4 473.2L1394.2 469.5L1396 466.2L1397.8 463.1L1399.5 460.2L1401.3 457.4L1403 454.6L1404.9 451.9L1406.7 449.1L1408.7 446.3L1410.8 443.4L1412.9 440.5L1415.2 437.6L1417.5 434.6L1419.7 431.7L1422 428.8L1424.1 425.9L1426.2 423L1428.2 420L1430 417L1431.9 414L1433.6 410.9L1435.4 408L1437.1 405.1L1438.9 402.3L1440.7 399.8L1442.5 397.4L1444.4 395L1446.3 392.7L1448.1 390.6L1450 388.6L1451.8 386.8L1453.5 385.2L1455.2 383.9L1456.6 382.9L1457.8 382.1L1458.9 381.6L1459.9 381.3L1461.1 381.2L1462.5 381.1L1464.4 381L1466.8 381L1469.7 381L1473.1 381.1L1476.8 381.3L1480.7 381.6L1485 381.9L1489.4 382.3L1494 382.6L1498.7 383L1503.6 383.4L1508.8 383.8L1514.2 384.3L1519.8 384.8L1525.4 385.3L1531.1 385.8L1536.8 386.3L1542.3 386.8L1547.7 387.3L1553 387.9L1558.3 388.4L1563.6 389L1569 389.5L1574.4 390L1580 390.6L1585.8 391.1L1591.8 391.6L1598 392.1L1604.3 392.6L1610.7 393L1617.2 393.5L1623.7 394L1630.2 394.4L1636.6 394.9"/><path d="M229.2 1054.8L231.7 1053L234.2 1051.2L236.7 1049.4L239.2 1047.5L241.7 1045.7L244.3 1043.9L246.9 1042.1L249.6 1040.3L252.4 1038.5L255.4 1036.7L258.5 1035L261.6 1033.2L264.6 1031.4L267.5 1029.6L270.3 1027.8L272.8 1025.8L275 1023.8L277 1021.9L278.7 1019.9L280.4 1017.8L282 1015.7L283.7 1013.4L285.4 1011L287.3 1008.4L289.3 1005.5L291.4 1002.3L293.5 999L295.6 995.5L297.8 992L300.1 988.5L302.4 985.3L304.7 982.2L307.2 979.4L309.8 976.6L312.5 974L315.2 971.5L317.9 969L320.5 966.6L322.9 964.3L325 961.9L326.9 959.7L328.5 957.6L329.9 955.7L331.2 953.7L332.5 951.8L333.8 949.6L335.2 947.2L336.7 944.5L338.4 941.4L340.1 938.1L341.9 934.6L343.8 930.9L345.6 927L347.5 923.1L349.4 919.3L351.2 915.4L353 911.5L354.7 907.4L356.4 903.3L358.1 899.1L359.8 894.9L361.7 890.9L363.6 887.1L365.7 883.5L368 880.2L370.4 877.1L373 874.2L375.7 871.4L378.3 868.6L381 865.9L383.6 863.1L386 860.3L388.3 857.3L390.6 854.3L392.9 851.2L395.1 848.2L397.2 845.2L399.3 842.3L401.4 839.6L403.4 837L405.4 834.6L407.2 832.2L409.1 829.8L410.9 827.7L412.7 825.6L414.4 823.8L416.2 822.3L418 821.1L419.8 820.2L421.5 819.7L423.2 819.4L424.9 819.3L426.6 819.4L428.5 819.6L430.4 819.9L432.5 820.2L434.7 820.6L437 821.1L439.3 821.8L441.7 822.5L444.3 823.3L447 824.1L449.8 824.8L452.8 825.4L456 826L459.4 826.5L463 827.1L466.8 827.6L470.5 828.1L474.3 828.5L478.1 828.9L481.8 829.2L485.3 829.4L488.7 829.6L492.1 829.6L495.4 829.7L498.9 829.6L502.6 829.6L506.6 829.4L510.9 829.2L515.7 828.9L520.9 828.5L526.5 828.1L532.2 827.6L537.9 827.1L543.7 826.5L549.2 826L554.4 825.4L559.3 824.8L564.1 824.2L568.7 823.6L573.2 822.9L577.7 822.2L582.2 821.5L586.6 820.9L591.2 820.2"/><path d="M751.8 1054.8L754.5 1052.8L757.2 1050.9L759.9 1049L762.6 1047.1L765.3 1045.1L768.1 1043.1L770.8 1041L773.6 1038.8L776.5 1036.5L779.4 1034.1L782.5 1031.7L785.5 1029.2L788.5 1026.6L791.4 1024L794.2 1021.3L796.8 1018.5L799.3 1015.6L801.6 1012.7L803.7 1009.6L805.9 1006.5L807.9 1003.4L810 1000.2L812.1 997L814.2 993.8L816.4 990.6L818.6 987.4L820.7 984.1L822.9 980.8L825.1 977.5L827.3 974.3L829.4 971L831.6 967.7L833.8 964.4L836 961.2L838.2 957.9L840.5 954.7L842.7 951.4L844.8 948.1L847 944.9L849 941.6L851 938.3L852.9 935L854.8 931.7L856.7 928.3L858.5 925L860.2 921.7L861.9 918.5L863.6 915.4L865.2 912.3L866.6 909.4L867.9 906.4L869.2 903.5L870.6 900.7L872 897.8L873.5 895L875.2 892.2L877.1 889.4L879.1 886.6L881.3 883.9L883.5 881.2L885.8 878.5L888.1 875.8L890.4 873.1L892.6 870.4L894.8 867.7L897 865L899.1 862.3L901.3 859.6L903.5 857L905.6 854.2L907.8 851.5L910 848.7L912.2 845.8L914.3 842.7L916.5 839.6L918.7 836.4L920.9 833.4L923 830.4L925.2 827.8L927.4 825.4L929.6 823.3L931.8 821.5L934 819.8L936.1 818.3L938.3 817L940.5 815.8L942.7 814.8L944.9 813.8L947.1 813L949.2 812.3L951.3 811.8L953.4 811.4L955.6 811.2L957.7 811L960 810.9L962.3 810.9L964.7 810.9L967.1 811L969.6 811.2L972.1 811.5L974.6 811.9L977.3 812.4L979.9 813L982.6 813.8L985.3 814.7L988.1 815.7L990.8 816.8L993.6 818.1L996.5 819.4L999.5 820.9L1002.6 822.4L1005.8 824L1009.1 825.7L1012.6 827.5L1016.2 829.4L1019.9 831.3L1023.6 833.4L1027.4 835.5L1031.1 837.7L1034.9 840L1038.7 842.4L1042.5 844.9L1046.4 847.5L1050.2 850.2L1054.1 853L1058 855.7L1061.9 858.4L1065.8 861.1"/></g>
</svg>
</div>
<script>(function(){var fb=document.getElementById("fb");if(fb)fb.parentNode.removeChild(fb);var B="ABCDEFGHIJKLMNOPQRSTUVWXYZabcdefghijklmnopqrstuvwxyz0123456789+/",D=[[174.00,83.00,"Mgi9I0mqYodfI0nsMnm0I7nuMnkQS7ipSVNZTKkFGjo1GypBYgPWFmppOKmcELp9TCf/MYd8RQjZE4pJTZgQLMmiGMpEI7nNSVTGYgWASkTuFmpRScXkJDi1YZbNO4lAHgoqI7m3NzfdI0nnU0cOMYlAGbpTJDmwG6nkFApESViWLToJGFpcGbpiMgniMYkRMYkxLMmXZWURGypBLMm+T4XSI0nOEpp1Gro3YRYaI7myRYkzESpxJpnaYZYlOwknMYkqMvhDOSkPI7nQNVfhN7lCMYkYLMnXMYfGMYc7ESp8OwljMnkiSceiELp2YgYiYwJjFPprI7oQZOalFPpAScVcI0lDJKmmSkOyQEibLjk5YCgHScfPYZR1M+jqHvlyNGkZMglEFXpxLMkFVEXaL6nyYZgPEapcFXpcDVp4EapVLMldI7lgGbovToToEapvNdfNMBlTNGj9MYioMYhyUHPYZ8ORNzjpKHncSVW0FmnpGyo7FfpDMgjPLMlaQEgGFPoxMgmKGjm/MgkyFXpgScamLTnVFIpaMgg/MglAPHj8MYk2EppqTCYiMgfRJpmXGbohELp4SceVMnl9PegbJDjDGbovYZVOI0ncMgnlYgYlL6k8MglmMgjiG6onMni+MgiYSkeXHoomI7nGKAmMI0nRMnkmLTmGLMk1YZWsEapwD8p7YRbLI0ndLjlDMgj0PthTYZhEJKnKI7ntYZSNLMd8MggaE4pXMYh6EDp2G6oFI7lmMYjoLMmRUtcSHRoxMgcAESpuLyn9SVLRY3dQMgmtSVUfI0nxMgjMJSn+D8pxMYlpSkejESpzFmplJKmnSchDSVfFSrYHEDpQNsf8ScaYMnhUMnifJSnPMgjDMghHMgejSzanFIp0NNhwPPlUGjnkMggWFPp3SkYqJDjtGjoJMYlBLbkqI0nQZOMELMkiH3oPNdksEDpMZdQ1SVXmMYj5FmpWI7nQSVcWFXpPExpvEipeMYgMFfozLMkLSzaDI0muSVUTESp5HJowI7mCGbpONNfSExpfQqi/LbluG6oDMghBMgiyKAn1ScgPMgh/FAozYgR6GboxMgmhEioFS7cnEpprapTTFXplMng7DlpNLTg2YZJFLMmCVEToDOptLMmyEDppGbn3FPooHRmmHooSYRVgLMlfNViMTKaSH3oCGbpTI0mQG6ndFuphJDjrUWefI0oUHvpEJDlVScc5ScajMgj8Grm3SVhGY/UbJDoUI0i9HvopSzjXEDp+QEjVI0mQMYmjI7npGrn+EipuU0YgH3o5EDpBEDpbPHhfU0UDHJnQMYiSFXpxO/ayMgnJMgk+GyoDI7l/OSitThYfMgk6TKT/YwUgMglbMnf/EDprI7nDFPpEEaptFmphLMkOI7m0YZRhGyolMYgPMgmOFPp4GyomGbo4LMlZYRXpLTl1YZg6EDp5YZRAMgjLMgnnEipzSrdOYZZdScTMUeiLHRoUTCXvJDm/KAnhT4aJJDnqFXpfZObMFfpwMBlmSchFThZeEDpdLTkYMgl9MYl6HgmPSVYXMYjBYoU4Utd5LTjuHonFGroiI0mFMgjSI0j5LqnvEipoMYjMLTj8JDmKJDdyIOn1ViYTEpoqOwhcMYk8I0nGNsjQSVg9MglhLMmjYoWsYgLoPHX9PHgqMYiQMghYMYfFFPpCSrc9O4i8F1pTYgKiZdaYI7mjMgkIELptGjo+M2fyI0nvMgiBXcegD0pTGroILMluTCd1FfpSODjDLqlGMYdhI7nYGbowF1p0I7mLHJpDI0nrMglLJSmQLMkQZGc7MgkKYZhUMngwFmpXO4hsHJoTEip1D0pdO4itLTf9I7n/MgkMMQmPYRcMGbnmScgWNshALMdXJam8MglkFPp4HYoELTmEOZeyWfRzI0m8I7nZGjoOMYiLFfpoMnj4LMl1ZWL6MniXI7mcEipBI0ogSkN3Y/giSVgII0nOMnlgESp/YZbOLMloMYkpMginEipfD8p1PWimSVVKT4XELTnJaaJ2OpZJSkjwSVjaMYgyMYlpMYi5LTj5MgcYMgiUMndgSVbxFIpOMgdOK9m9MgiOWIbrHvm2O4gSMYnEQEgzESpTMnmKMYmRMYl7KAjoNzkzGyojThiPU0WhJKnHIklkLMjHSVbSJDlWLblYFIpMSVVCD0pqEDplMgfJSrazKem1FPpfGro1LMhvSkUzLMmuMgmYNdcKYgH+JSnUJDnuGboTGbopGbmhI7nJMglILMmHYRalGboRGjokMgkkE4pFZWNpFPprMYlBSVkeSVUzSkaGOwc8G6ocEDpraLXIScgKI0m1UteeESp6F9pVMYjpMYjoP1c9I7mmLMm3MYkaMngLMYllYRP2SzioYZPOELp7JKmaMnjCI0mEFfpdScfoGbo6MgkySVgrMYizJDn5VqW/PHjmI7njE4p2M+lpI0nsMgkRI0naP8k4I7nMMYkDHJn0I0m1FPpnI0mQFmpgNdj9MYipT/X8MglQI0m0YRZ6HRnwS7jCMYfJGjnkJDlfFfp0NdkVMYfnFXpuFApiMgmKELpiNVgmMgl0JDnpEDp8MglDMYmyG6ooTRZtMgk0JDngO4c6ELpzLTl0MgkvI7l1YwJeI0jkScezapRpHBnWMgkpSVhZSVW9LTjCMgl5KHlnMgjcPHl0WBZ6MYlGMgleHJoGSrdGJDn7EDpUHvnsMgg7EDpsGjnUY3HLESpbKAn5RYfPMgkDJaoXESp3I0nWEapwMgjlMnh5DdpXYgP4Y/WxLjl7I0mZMgmbMgj9EapzLMi6HgoKZdYrMgiNESpsEDp+MggDHoohMnjmQTgJJDlgLMmpELpVGroMJpn1FPo+F9pVI7mzMnm+LMmeYRRSI0l2PmkwHBnWPHkXMgdnEDp2SzN+MYjkMYjhLqg6YgTLLMmoHvn5LbjjLMmJMgmRLyktSccNYZa7I0n1I0nFI0j7UtbZFmpdN7jWI7mbPWg1Jpm8EDpvNdiQMgmLI0lJYZJJTZYwMnjQMnjNLMksEapmY3WDJKnTapYVJDk9Grn3LMiNMYf9LTlPESomJhlhSVV0LMlpO4doI7nYLMj0FXpeMncNPHfMSkiVHYmEGypHScVgMgkSI7kKGrojQEgBFIpoI0njSkb0Isn9MYfbO/hzGbo5LTnOGjnpEpprMgikNklwYZUTExp2H3mnEDp5I0nSG6nQESo+HooKLMmUESpXL6llGjo0I0nCMYnXMgmII7m9MYijSViaThPBJSnPELo8JDm1Mgj6YZeUHgo0Eap0SVcXMggOZGWQZlZBESpdEDppP8hGI7myI0oCMnizScRQFPpxFfpiLMksEap6GrokI7oDNGkkSrgEMgfvYwX8YoWJMnkKMnkyELp2KPmNYRQzI7k7MYnWLjgKMnlzEDpxSzZWScZ5ZOSDQqifOhkpI0nvMggvJKn0KHoBG6olG6pDYRQ2LMluI0nPM2iDODg8LMeqGjo3GyoiLMlkHolRYRbBI7mrI7oZa5MyESpsLMm1QbjREppEMngLI0nUMnlvMYlJZ8XYLTmiHJn4MYgJGjpBZOXwMnnHScStHRo5ESpgGypXMgjvJDnHMYfjGyoJSVgkG6oNKtmQP1Z+MghDTZgsMgf4O4kTYweCFPpeLMnLVTgiTZZfHYo6YRIbFPpgYZT/LMntLMmCJDnsJDm/YgXWFfo9RBeQI0mfELp2NNl8I0mqJxm7JDmZFXn7FIp2I0nUYZKDJhnDMgkmZdKkYoVeI0jzHgnXY/N5PekyJ4ivExppOwi5I0nMLjjSSVhoI0mMHBpRJSlsMgkGFPpZMghoMgmDJDnWZGTWEapXGbpZMgmTU0a4MnhTLyjQM+l8apLoEDpwMYkEMYldSkVFLTkqLbnEYROiSkXgSVWSMgZ8EDp6ESp4UldvO4gASrcNMYlBYRcwSrkBEDpiJDj4ELpQGrm0QMZLESp2ScfDSkbfScVuSVdnSVg/MghUG6oCScWeMYmTToesExolH+n6EDpoI7naGUpoMgfbFPpAOSg9LbmSHJozESpdUtUTFPphScY8D0o3GboILMczGbnsGbowJDjcESp5VEdPFIp5Mgf0LMmeDOp9JplZLMlhFmpGELp6SVYnH+niO/j/MgiUPmgBE4puG6oaU0UOMglYM2mFMYkMMnlKKAnMPtfSLMmSHYovDdpySckqYZKmMgjsI0nhMgbyHYnnLMm1SVcnFXpeMgj5Mgh4Mgh7YgM7PWjzLMiyMnglSVh2LymnGFpsDVp5MgijLTlKMnkHSkaWEDpmGynCEipWGjpBI0osGroRFPpcSVgQMgmIPWXhPmfeSccUYoSHI0nWSVb2MgegGbohNNgWHongSVjQYRIrIdn9Eio4MglyGyoyOwckLqliYofvScboESpXMnksFPpQL6jKHBoWLMi8I0oaMYkuaTQEHYnZMgj3HRn+LTj6U0e7MgkOScd+ESpUHYocO/kWMgknI0nMExpMYZIlI0miMgjDYwYESkb7G6pFRBikO4iPLMmYSzhJDOpcMYfSI0m6N7hUO/jdM2jcMniXMvkBMYfDGyoPGym3MgnFODihYoVkSVfeH3oPGbnwGboMFXp2GroXFupbGbnuJDoLQEgiMgk9ExpoFIpsHYnwOhjKI7j3JSmhXNakTKcbJhkUESpxMYevH3nFFPodNzjDScO+MnkDVTeYEapwMglpMgkVMYiVLMhkODZ2HRoVEDp2MgfwO/g0Mghya5duMYmtGbnwHBo4Hvm7I0nLMYkgFfolPmivFmpFSchjbmPHRBgWO4gIMYlySVinZdWAI0mUSVgbMgibMnkTMghmMgiEMglqI0mwScULMgh2Gyo+LMl6OwhbLTlQOwdKScXJELptL6lXMYihMYmHSkf8ScgOYRbuJxn9JDnNDOp2O4jrLTkIMnjBScZ5MYmTMYhvEapoFfpvLMiUapShMgdOGyojScZeIdn9Mgc8HomPScZFEaplYoTGI0nmYgeHMYknLMmCO/e3MYhjMgkDO4ieJKmlMghcKAmpJKokM2knYZXfMgj1Mgj4MgcwWXPfI0msGbpbNNiWHooSEDp1MgitGbotF9pdMgi7Lbj2SVYkVLbdMYj1JKnfMYlUELptLbkqMYjVMne5SVeNI7kdHJn/GroCGboYH+noLTenMghtJSmWMnkJMgkORQjfMgjqLMlpF9pASzU/I7nbELp7HYofGbosYZatLMldMYdJMndBMnkoLbmfMYkkHgmoT/OzMgk8ScYCMYf/ScgvI0k3RIgyLMeDLykeFPo4SkeKI7orFXn6MgjGExpyYZPsMgiUEpp5I7lzJKmiT/ZRMYhESkiEI0m5PPgFSch/JSkdMncYExo/WngCHvnkGym2YZRyGbnFI7m9MgiJGFpTESp+Mvk4I7mPGboLEipqELprHoofI7odMgj0I0nhFAoJI7noGbofGFpZMglISVcdMYfLMgjRGUplZGWlUtcGVEZQJKnfGrmeYgSnMYiiSVc5YZXNSrXuMnjhLMmuScirSrOjFXpmYwa3GynnYwQoYZa5I0lLI0niMglJLMj1ELpXNGhMI7l/MgjQESpTSVU6MgkDMYgHLMjxGyneYgJkJ4kTSzjZYRTqG6o0I0nTMggNELpWLMm0MgkgH3oXSra4MglKLThsZdMKFfpuU0U1TCWiMYeIG6n1FPpzG6oNI0igEao5I7laI0n7HJogMnmXScVrI0neYZOBZGZbScdJI0mvDlp/OwgxEipbN7emMYeNMnj4I0nZDlp4YRfqELp1Utb6ELp9JpnjESpnYgTKYgYfGrpZMgl/YZQkI7nbYgfBLMjBI0nUI7m+FIpsI0nCI7m/M2k6YoXXMYltRvbFMnlOEppLPHZlMgi5I7mrFPpkKHiwI0ldYRWwYRZkMgjtMggyZORTI0lxMgmUSVULYRa/JDoMTwU6LTmhI0ibI0nSMYkoI0oOLTlrGbouI7oAYZSuI0nGMgjjEDpiPHivHRniESp+MgmvPWXuHBoyJSnsGbpIGbngFXpgbIZcYZY3NdcLSVTuI7l+PHfxYwceJhlxOwaEYRQFFXpXK1nDVbbDI7oYM+jbGrooMYj8YoUtI0neGbo/GbosLTnKYRS8HBnVMYkDMYjZI0l3SVbySrLgFIplFfpJIOnASrbjEap2GyoUYZY3LbmhMgjMI7oQFXpmLMnEFuo1UtIXJDnXELp6SVd8I7mqFPpWI7lNLMloMnkNDOp2MglfFPpgDlpTScUQI0jPH3oMFmoqI0nOMYlvOhjlYgRyLMiwMYjTNziuI7nNMggQMgj0MYlIKAkII0moTKe0G6oxFmpWMYi2FmosLMlKSVgnH3nOPelEGro6I7mbMYhVSkZXESp1ESoqSVQSSrdBFXpCHRnkELp6Mnk8YRcqLMnJScaXRIa4I0npMYl4MnjxGypNScV8YRZMESp3E4pqcCIUeTHyeKJaeeKFfaKNc/MeebMkdYOFeBN7eOOqeOPlebQOeKRWeKRWbrQibrSQa0SzfGSukMH7kMH7kHKWo5MQr2UbxkJo18HU8CIXkMWIkMWIkdWhldX6ebXceOaAhDZ2eObokHbSgydheGepaobg"],[697.15,83.00,"Gjo3NzcUI0l7EDpbSVTkELp+HBn5EapSYwMkEDpXI0nVEDpQMgX2YRdeO4c4EDpnHBodNNglO/ceGbnWI0kvGjo+LMk9J4lXIGlbGrmuFXpQEDpsELpvI0iBLMl+SkYfScVwI7mKFmpKDVpzGUnqMvZpZWP5Ffo7Mgi+FXo/GbnpSVavFIpvScZ5FPoZMnd3MginN7gHEDpvSkU3TKXpMvg3ELpKEapnSccAYZVaFPpWFmoNDOp6EDpKD0p6F1pHFPokYRXOI7noPPkRMgklMgeTFXpSMnk9O4dtMgfzTKZuFfpiKmk2FupTNsiTNzdSI7jaESpkLMjeMYjHHgmAScP1O4XTEDpfaTN5YoObZlPcMYjcEapUGboMJSnDTRUAI0lmEDpWMnjbI0kLMYh3KPlgELpjPWQgLTeJI0l9EDp3KPl6GyoCMgiZEipWELpOE4pkMnh9ExpjJDmdYgLVToPUMnj2ELpdGbm+EppaDOpqHBmmNzjhESphVTVjSVU6aaRwEDpxESpUGyoFScNzELpwI0mUQiXDJpj6OSh0YgdNPWiCYZQvQMZxO4ijESpbFApWGyn+NsduGFohO4fWOZhLScZKSkZ/FPpUGjnFK9mZPWjfHRn9I0mRH3mUQEhIQbi8ELplD0pvSVTeKAlyMnkzGronJDnGZGO1JKl0FmpRMglfGyofESprIOkbELosMYk0HRoFEDpoNkiDUtbZScRAScYEPWV6MYkOJamXYZR7LMl1MvfdSVZIHvlgLTiyFfpWMvZ6MngkEDpfK1j1H3noDOp7HondNkiqMgizMgiyI7lBMgivDOp0FXpCEapIE4pPMYbFJajqGymzMgkpNdanEpp2Y/SjG6ocM2f8Gym5JKm9ZOU3Gbn0HBn5PWfiMgfKLMh7NshwGMpEKXoFFfpAEDo4GFpOEppXSVTdI0msELpfKAknI0lPEao9EDpPSrSXMgeMGMpFScVZO4dtMnlxNshwM2jOScSMYZY2EDppO4U0ESnzGjn/HomTYoOtQqenLMiOEDpEYZKyFPopGyosELpvMggIO4b8HYoKI0n+YRTdMnjeOKgTUHU9ScfMJhk8E4pSMYhwF9pBTKc7GroWFApiDVp7NzmKFPpcI7myEDptEipfLMg6LjnWHonxNzbSFXo6ScYdToWpGjoqM2dgOhkmELpQI0lNEipdEDpnEapmZ8XkOwZZHJnjELpYMYmAODjFOKeBESo7KAm2SVXeMginESpaHvmQEDpDLMmrDlpsFPpLEap4LjjrGbnrLjgUEDpXFfn+GbotFPpIJxnjScUyFXoMYwM/Q5cdESpdHvoFEipiM2gZMnkUYZY9DOpgNdklDsp5I0lbGyoqLjh3YoUXMvfVLMkpI0mqNVfFGbn0MYefRfXZMYYgDOp4OZZ8MnVRDOp5ESpbELppFXpRM+c4E4pQI7maI0lVDlp8FPpMYgMAMgcPScc4SkSNWnZTScT3MgiXF9pTFupBOwh+KXiiSVckHBnFSVe3EDptYwZeI0meG6oYMgcHI7j+Nza8LTnMMgheOKXdYgcIYRZmI0koEDp3NNagFIpbEDpoFPnAJDl4I0mOMYhjPHYPYRHOMnkHJDlLI0l/KmmAbmJZEppcOScwMYd5JDkyEDqANziqI0maI0miYZIKM2cDI7hJMYhKGbn8FIpYHgoLN7jWE4pcHRnpFXpBSVaSYoLXELpbScXcI0mYEapiYZLNI7loI0mQT4ScEDpuMYkiNsQLEDpRI7icI7lwFmolELp5FApbEDpuG6ovScauYgJbFmokKHiUScSIScYCLTi7D0p2DspJESpNEDpyLMkwE4pcQ5hbFXpJFPpnELpmG6nTMnccGboaY/KVHJncHJnmJpkKRnHTNzbFFfpGFmpKELpKMgdIKPl7FmpGLTjhSVboLMlLMgiNLjmZFApWGbpAYZUgaaNrEipVI0nyYZP2MgjnGjoHIdnaY/RAJSmTELpfELptGroIEDpONVTrEipASVX+MgjSMnhsOwdjD8plPPTvMgh4M2biEDpsFXpOODlWLbjEZdMuK9h0Gym+JamLJKmFFApZExpqScfALyjRFPpLGbnSTKUEYROCGUoWKHnCFmo3MYkhKAniI7n9ELp2ELpzYgYATRXlaDH2EaphNdgqExpPI0lPNGgvEapQYoYVESpVHonGFPpQSVehNzlcGjo9ESp1SVUnJxjtJKnJEDpvMgfJKXmUC3p8OSiYSVdHI7m7EDpdFXpEHJkcNsiMLMjpEDpMEDppMYhwOwiBI7m7I0mzJDm/LMg6FXpVGroMLTkbLMkXMghyGylySVSfMghqScXPNshDFXo3SkZ9GjovToZ4JSkDKXnTHRlgFXpXVTYRDdptNGdfLMkQEapVESplSkZgLbluESpdLTmcI0l0ELpYELpeP1fmFXpBMYhaI0loI0lHMnegKHk9EapoLMiwEapoRnJVD0p6EDpCMglfExpkEipVSVgKEDpLMgdOFforEDpvO4Y9I0mpPWkKFXpqDVp0NNiTMgScKAlMGbopI0ltYZYfELpwYRPuC3p2Nsc0KHlRScbwFXo6LMjvGboULMksSragFXo2FXpjHJnwESpSExpjMnlIScRnJDlsMgjQGjnTGbnSLMn9JDjTFIpEESpvJ4k6S7RySVYnGboPGjoSGboMSciKEDp9Eip+EppjI7lkMggeJDmbScIlJKl+HJpII7lwI0mGJDmvJakRYZHtJDlNDOprDOp/I7lcPefKHYnxFApWExpiHvkkMnePEapgJxlpELpbELpkELplESpwGroLNdg/JKmwEDpYFfpQYZKjFIo2EDplU0WSSVTbMgf6FAo9ESpoMYh1EapRRBbiLTmzGroCQTenM2kdMYfrFApnI7mII7nTGFpGEipxESp6FmpCJKm5HgniMvk8FXpdFXpGESpYFXpcMgeLFXpQYoU4FApRLMiEGrnzExpNESo6OwhdGrmYMgkmNdjVI7k5YodJI0mwMghPDdp+M2fvGyobI0nLY3OeEpo6ScWoMYhYDdprQieIYwJ+MBWnELpNFPpaESppScTrI7mULMjuI0lZScS8XkYCH+n0Y3TUEipeJKmWMgcMM+iMLbfCFmpbGjnpEDppGjmaFPpoSca2ZdVbJ4mTJDl1EDpCKAmnDOp6ELpFEppcZdKLMnlbRvYcF1opFApEMggoNGgGYZVqEDpdELpwSrOSSVcLG6nfOSjQb2UdOwQlNGkFSrWuSkV1PPcYOpYjYRNUDsp4ELpsSVfxFPoXJDk1FAo5FXoGMnf8FPorFApkEaprE4oyELpUSVN3ScYYOSh+FPorZGI3MYjdLbinLMliLTluHYoMFIpOFPo/FPpPODhaYZOvM2h3SVafG6oAN7h6LMm/MgjMMgfAJxmzFXo6ScWJJDmfFPpMDVpjEDp1ESo2MgjvHJnpEao8MghqI7nBLMkhFmplGynFOpjyDVp4O/cRNkciKmi+MnggSVYjMgikZdYhO/c7G6oCFPpPFIpDGyoLE4o/EDp1EDp9LMlOGroZMgXjScdfJDlfSVWQMvUXYRNvH+lnEaptM2h+MngOSkWDI0luLjhEFfopFXoqL6lsGFpJGbn9EDpOZdMDEppVYgMdSVbSG6ncG6juRfdRKtgwNGgeJSmmHglkFPovSVOrESpYFPpgOwajK9itLMipYZRMNdlKPWYZDsp6Lbj/E4o9JSmuEDprM2imMYgQGboHKAlJKHlGOwb9YwHJYZWOI7lzZOWCI0m+FXpgEppIYRUQScgmESp3SVWzJhlSEio6MgiBYgRFYwJyDOp2I7mJEDpvG6nnELpuLMkVMYipJKlNI0l1H3nQEppsI0nDYgW7YRKVDOpzJDlUUtLuFAn9FXooELpqFAo7EDppGyn8FupPYZRiMvbbYZT/ExpIEppkNNdIKtlyJxlAEDp3ELpxMgkTMYgEJaiLGrozZdWzELo+FIpbSkbwSVUkGboRLTfdHYnoLTlqHRniJKlvJDibEppRM2hOScMAESpyHBmqESorFPo9HRoHEip0FPpjI7mkHRmgM+a7Scg7G6naMniNScNyMYkZMgWrScZPLblrZtOaMYgpFfpXYgW2Z0NRDlp6ELpBFPo8MggoHvnXMgcAGyniFXoKOZhyFXowYZKOMYkQFXo4GjoOOSgeFmn3UHbWE4ovYwNgaaN+JSmfMvcRYwNqMgh3FfpFI7liESpsMYd9NkmdFfpGFIo1FPpPMYirK9joNkhNFApOEDpaI7i9LMgXGbnwO4esGbomNkhMN7iaLTgMFXocOZguPPi1EDpyPec1Mgb2FAo8OwavEDpUMnjJLycZScdrESpXMgjGM+kfKAloI0oAD0p2MgcXEDpZEDp7NsjxZOK+TKTSFXpOMYcFQMZfJKk8EapPEDpRJDlIScW4LTgNScXvESpTFmo2EDpZSkaMEappExpVELpbNNjVGborHvn3HvlqFXoGLMjYOwevYZWMKAj5SVUeG6o0HYntMniNNdhiLqkDM+kHNsURScQ9SVYcLTkUPPTcHgnsP1fFYZWlYwZYFXpnEipcYgU4L6b3FPpYELpLL6jYZWNhI0m4YoONELpFEDprMgjJYZL5LMbxGyn7NNdyFPorScUPEDpxFXpTLMh4LbkbLjlRGbmOFfpXMYioOhhVZWYrYZO6GbnvMgk5ESpVJhlDJxksScUrI0h/JDl4HBocJxmUHJnuMYhWGyo+FXoOQ5ZGEipWLTdJYZMcSVXKPPgMHomCMvheM+iDIOlmH+lvEDpwEipbYRPyRIg2NNhYSVPrI0k7Scd6YRTEaLR1Y/I0EaprFPpfESpSLTlhGMo8SVWkLMmBMggHZdNUPPkbFXpRMggEEDpFDOqAJakqQ5cTLjdbI0l9I7kALMmPNkgNESpnEio+FfpJIdnYJxm5HYoKGrmWGjnqE4pcI7h6I7kzMYgYPWgAESpUD0plSce7MvitMgg1HRn6YgWtJDkrY/U4O4cyGynkMglbEapRMggnYRPOSVWIScceEDpXFmojF9owJhmmELpZNdiQSkeGGboCNkeEOZZ1O4fAMYh+DdpRDspsTRTWI0mxMglRFPpdI0jzFIoSFAonY3ZKbQOPGjmyYRPPEipfGbnrZdVxOwjcNNc/LMcoOwg/NditELpQSrcYHRoYKHhnJDk4YRalSrahI0lXPWfxMgiOEiphYgRfSVVVMngvFmpEHRlpI7npOpc/HBoGKHldNsdYY3ccDlpoSkcRI0mHEppkY/JLSciDaiLBOwi3ELpZI0nTEDpWScaaI7lvEDpqGjopHJnrMgidNNdVMgb0HRoNELp3FXo/Jpk7I0nwSchqLTj0MgZoEapzHvmySVSRK1lAI7mJOpglLMkHDlo1ZlVjMggHFPoNLMZLLMh7EipvMYiqMnhFESpqHRnJJplSScXdGrnKDspgDOpvLyinSVUAQMdxD0pvMnl4NGdlHBoAMgioYRZYOwgfEppDZdJXSVVtSVcaMghXLTjYFXpVELpOEipeHJmTI0ifSVhxLMmBI0miGjocLTimG6n8HJnwI0krEaplI0mKScZ9ESpBMnfxM2b4LTmKMghYMYefDOpvEDpMESp/IVmUaDPIMgZEK1lUEDp0SccnUHS5GynrEioOLTkDNVhPScWNELpZZlLeLMljVEJJFmppNGjEEaptYZO7Gym7GynXYwTFI7mHKAmoQqhrGjoXLbi3KHoHESo1FuoQYwRtEDpaSkZNSVPSPtdZMgjOGjm9NVktI0kQLMlxOwegLTkhJKnJVLOOJDmPGbn0MvftScbJMnlEHBn7MYf9JKjdJDkpFIpPLMiGLMlvYRNLHRmAI7llHvm8GjkmEaokFuooSVZVMnhnDOp+KHlRJKm7KHjOYZJaFXpKSVbwMgaWScVBOwT+ESp4O4eLI7jXScYDOwjxGyoTH+n2ESpUJSmwDdp5EapEYRI/MYjrKAlmM+hLSVc5LjloSkYtY/TqYRSXODeRYZZHEDpkKAk5ScXdJSmfPedfExpQFPpiMngsMgVUSVV8M2imEDpxYgWoYZRbKXkwJhkBSzUeRnbwZOM9ELpSF1o8GrlvRfeZU0NhFPpVMgi8SVWBN7iGKHkoFXpNMYdzESo2I7jxGbokFmo5Eao7DOpxYoI7LMjmJ4mUNGfIDOppFmoQLMbPYgMDEapyUtK/DspfJpmRP1ZlYZSIMgfzNzUyI0k3MYgVN7gIaDHOGboQSVavZWVRJSmxGboCGjndIGmeNNgoEpo2QiUMDVpgDspSGjn/NdmqLMiTFXpDJSn5I7oKHgn7LMkrI0j1I0jvEapOMYjYJSj2ELobFXpTELp2SVX9OhfGYZOvNGfzOKg+LbdkRYUJLMjUGjlBNdh/LMiDScTmH3oLLMjoMnmKMgmtScHkO/gCGjnwHRmhESpSLbjvF1ozFIo8MgeiJSmnScXKYgG9MYj3EapkFPpODspkNkjCJSkCFXokI7nPI7m8IdnIEippJDksE4pBSceNMYfbYZLiSkTvESpzMgb9KPmMMnfdMnkIGbojYZMBScUeEipSGbnWFmouMggwNGj7U8TtRvU8Mgh8JDmAFmoAO4ZnESpzM+kUGjnpIOnSLMkqF9noScbGZWQJHonCSccEH3mBEDp6ScXmMgj1ExpdMYjVFmoJGUovGbozJ4mVFfpEFPpPExoPGblkEDpPJDjbMggPFXodFAo7FPoTMnd1MBkHTRT5IsmrG6oSYwSmDlpcHRorScXpMndrFuo4LMksGboaEapKEipnGbn5FXpGK1jKYRQSNGdjFPpPGFofYZWmMYjIHJnQJDkSEipDEDpxZlTBYgMhYgHdNGhcZ8R/MgexI7mSGbn6HRohFPozJpmXFPpaExpcKHjzI0mSSVQsDOp0SkSuYZTCGroLKHmVEDpxGjm0GynqMvVXLMlVI0mgFmo2I0jqODYBHBn3PeZ9MgjCHYo0PekdSVX0OwaNMgiaO4TCELqAEDptScfaOSbPU0cqJSleMnUzMgh7GjmYScXFQTc3ELp1ODdlOwVgEippMYgKD0p0NGOHMghfLTiQMYlNHYk3KHjMLThQMvg9KPkFYZPJMYe6NGdBGbnZHJoBTZPYMgfkMnk5MgctY3U3MYeyGbosEapGGjn1FmofHYm3HBmPMYfyN7g1MnjHGjniLMhvQiVVT4b2Gyn0LTjpLMjLI0kvFXodKPmjHJn4UtK6JKmNKthoFXpbNkcQM+hCYgJnHvoZExo2I7luFXpcEppeJDlSQyWPYRZZHJmhEDpcI0kcI0k3JKm6NNifMvgNELpvESp3EapSNVlEOwdTLTmlMgl0SkUcKmiYFmpIGbmYYZLCKHlzDOp+MYgLSVP3SccHMge2SVYAMYhvO/YFThYvYgNkYRK6EiplGbnCSVXAHgnTSVbVMvfTMnlPESpsOwisM2hSHRm+KtnkU0XAQbfJSVRlOwk9DOptMng3I7lqOShsYgPVGrn8MgXtP8QVOShiELp2MYiwEDpIHvmRE4pbGyn/MgjOE4ptE4phExouOSfzHgkeMvhtEapzMghhOwgII7jnGbokFIpWSkWPP1iEGrnIGymsI7jiOwisSkgBGbn0I0mhScbxHRnxFApfGboUFXpZMgkaGFpLDspiEio2ELpDHRnUGbnpFApFP1eBNdjDFmpAFmnTMgitYZPwLMm/Hgn4SVXtESpxI0mHOShnOwZqHRoZSVS9ScUWMYjwGjpHHYosLbmNScVyGropYoRKIGmrNGfUSVRvLMjJFPpcGbobFfpFHonjO4YFSVaPSVVMFfpLIGnILbk2FfomScZJMggNHJnRI0mLGrn0LMiUDVpuH3oHGbnzELp6I0mqScTFLMiaSkbubXTWMge4MgfzMYdMGrntKtmGD0pnI0mvHYoBMYhXELpOGbonYZRxESpwScNKNdbMESp5OwY6GynLF9pNODi+SVatY3SsHRoJGbnyMgiYEppPP1exHonWFPoJSVeIKAlONNTgZGbCScUPEDp9YZRAJKnAFXo4JanCScTQJplRK1lYJplhHJnVEpo4N7hAMggBYZNMDlprScRtO/iCYgKFFPosI0lqMghBNGheG6nnFPphM2ezYZMxYZL+JhnJFPn+MgkFLTl+Mnk/ELpPMvgFEaplO4kaMYlCaLO3MgZXYZOkJSkvSVcnYZPTI7mWFPoMZdMPK1k1Gbo7JhmkI0j/KAkqJSmKEppxSVQjFApxI7mBMgdHNGfoELpDSVPSTKOPGynkFPoOExpqDspFH+ktGrofExoxO4iwR2f1SVUPESpwHJk7OhhMHvnEYgOXGjoONdcXI7mwLMmALMfSHgnBYRRGELnSJDk0SVdOI0lvESp0ZGI2LqkhI0mYMYfqELo3MgkAI0nJMnkkFXo2Ute3GjoBLji3JKlSMgkNEDpTLMkMI0mcH3n2D0pXI0l6I7mSMgaSGjoASVfqYZZEToVtHJoTGbodMnbeH+oLGjobJKnJYgRtSVTdSkc2GUooMYeAExo2ODiYMYeBH+nIFmpdFPoSM2geFPpaGjoRYZVFSkbKGynvYRY6MnfdOwguJSmEScXRTKPrLTjjGboSI0m9ELp1O4fgSkXpJ4m0FXpWFuoyO/ZYG6oxT4d+MgdAFIpVI7lnO/bnFApCEppgI7ktMgjLSceoKekCHRoxScOmNGhzGyofJSlXLTgjScXgLbmyGylsSkciI7nxN7m2YZPbMnlzYZJKGMocU0NhOwieHBnsGroiIOlvHJoFSVeVJamMMYkCO/dNGyoRZdMGLjkxSVbxHYn/JSmGJSmEMvdBYZJQI7lRScZmMYbyE4ptELpOELpyOwZyI0mOEDpaQThVE4oXJDnCD8pmESpwJhmqDsp9KAmKHvnMMgjeEDpQI0loKPlYMgfxPmf+YwVmM2kBOpdYaxR5ScZyMnh4NNirMgf+GbomOpfyNkiSM2i2LMjWHRn0OhfkL6i6GbnGLMgLMnnLL6kaHYnqMgb5GynbScewGjoBFfoTLTksMghRHYnlKHkjI7j7Eao9NGj3KHhxMnfkSce3T/cmFPpcFXn0G6n7MgcPESpvMgdeYZI0NGcAFPprPPP5I7lxJKmISVd7ScXEScVeGbn6LMkPI0mWEaozHgn3ScgaY3S4SVY+LMj2MgipDsp1I7nRU8J/FXptFAo5SkZtYZUnSciuNNhGGjmkMgldEaoySVcyEDpVY/OvJDmaMYbLMvT5MYk7EppMGbnsExpkOwU0aDPKEDpuO4iWEpo/YZI6YRHkEppyHRmdScWpSVXVGjnjU0WJGjnbMYjCYgL3GUo4I7k3ELpSNGlXGbn1MYmsNzkZGrpEYoN8FXojLMleFmopDlo0F1o/NVfcLbjqSkWSMgmNFmpTELptLMbALMffMgjSSVa6ScgQHRm7YRM7Z0KtI0mpMggsJDlYNsgkJDknLMmrSkbZFXpPZWHfYZWIEipsD0p0DOpcEDpxJhmIGbnIFfpWNdd1O4eDYZLKOwkQMgfTOwfsY/MvJKmRGjowIdm7HYnPMnhrJKmCMYhJHgkvNNhaHoofO4eyOwfaMgjMI7meO4aHI0k+I0lvJDlWMgjfYZKAEDp1YZNlZGVPFApvI0nhJploMgfAGroqMgiXKAlzVTRVZdPSMnknHJmrI7jgMneREaptI0kHO/g2EDpHESopH3ngYZNBFPpmI7lmFXo0I7l6TRSOG6o5MgeuI0jKFfpgTKTEYZV0ELpuFPpUJ4lQSVREI7mEYRRiMgjpGbofLMaxMgjbI0nNSkSlT/O8OSg8ScUhI0neNGiZJKknNNjSDlp7I0msPWe/ELpxYRK2OwfQJDkzI0mPOwd0Epo+PPg3LTmOMYgpLMkjI0nfI0mxNGjCJalMU8UJMYf+YRR+ScWtYoI5YRN7RQhNGboCYZN5MghyKAmcMYgUExpkEDpbHgnoGbomScTVI7l3YZPtDlpwJ4mBHJnQJalOE4pkNNlYMggwG6oPMgi+I0lJLMliYZJ/GbmzF9otY/NvELo2SkRGDsptSVilGrodHYnmGjmqKtmGGjnXPWhGLjjySkQoI7lHMvhzSkgLJKlaEDo6MgfkGbnBOKfTLMiBYRWlESpsGrotMgi1ScUqJDlgFfpUFfohGboMYRODDOphSVdYMYedLMmKMYgYKHlqExpLGbolExprN7VbFXpiI0mCEDp3JplkMgivNzh7JSmXMglIFIpgEipvMYhjThgkGyoIYZHiNdbSOwjpKAmPEap6MgioLMjTJDllJ4lvJSmFM2k/HRnWQbghHJngSccBMYgwI0j1M2iJFXomO4g4YoVwMgdzTRbHLMi3OpgZNzfeKAmqLMepELpUH3lUI0nEaDXBFXobNVfwMndmMYgCFfpRFmpbLMgvScXqHBnnNGglGboLQEiFSVU4MYg3SVR+FPo4YgIMNkgdSVa6FXpaI0mkOwh2HJofGbodYwKhI7lgO4f5SVSKMgcBDdp3FXpkPehzFuoOH+n9EDpKGjoVO4hzGbovLbiwESpBFXphDdp4JanyI7lwMglTODijZ0UwEpo6MggvLbk0NNiFMJlvI0lsHgmxLbnhJxmwScWYMYebDVp7NdjRI7lRScjeFfokHgm5YRSzNGhkH+nJD0prI0lpGjoEFXoOEDoBG6ilNNZfYRN/ScWxFPoNG6mLMggJNNhOMgkWKPmTGUovZ8VpSVUkOKb0ZWSFS7NAFXosO4jKHRnZNsiAGjn9ESo4Gbn1JDnWaiYGKAjwHglVHvnkM2jFFXpXS7WYESo8ScWLLjlPScOwScafJDl7KtmXOKg6NkhzJDmMKAmhMghoF1pJKXnUJDlpScSyFXpZS7VESccwF9pPFmokHJnSYZNvFIo0MvjOMYfhESpsGyoJMnemGjn/I0kmFApeYZSzKXlkSVdgI7nKESo2TChtJDmRHgntI7nlM2kwMYj3DOpsMnazI0leJKjAEaoIZGOoJKncGbmINzjbJKmlQqV3OweXYZb4YRIzEDp8IOnaI0kCScXpDdpITCYKMYesO4eSSVegLMfxFfpWD0pkHgnsNGhMSkdaMYdrI0mPI7mxNshzFfoRLMimGyl6M2XqMve/JDmySVYaMggwHgnnPPY4FXpWbfICFmndSVMxI0jiGrneI0nsFfpNSVX2EDo6MgfeMYkbGboRI7mAKAkrFIoURYdxScdZJDmBNsdVI0kxMnjpIVmMLbijDlpQG6m0EDpNSVf+GbnsYRUbNsfEL6kgJxmsbAP2SVS+bXK3LMmRLEm+YwT0MYlWJDmUJhl7Mgh+Y3WwQyjcEaptScZCU0XLLTc9Y3YzHJniOwdIKAmvLTc4SVdhGbnPEpowESpwYgMrSVc3ESpyHBnrMvjdLjYSSVYKSkaGJDn/SVUtFfpgMgmbELp3KAi8GyofO4a2MYgnHRnxESpMQEfdZONxG6oRO4ciYoNxGbohRQacLTj/SVZXI0k6DOptScWSEppmMYkeMYfWDdp3SkeESVVpGyoPOSZmMngbGboDMYfeNsbgFmomI7lkSceCOwhbI0lfIGmOESo6I0oOI7ljYgZbJDlkODi/JDnFM2iHYRPLFXncPHY9YZK5MYgtKAl6LbjOYZO2NNhsYZOeYRTwO4hqSkYbJKn4JDmUSVduScbgbuUfHgozZGVOMgl2GbnwSVdzESpKHBnFHJodMYiRHJoRSkWrHJn7JpnILMljODioDdp2GFpAEDp2Hvm2OwfoESpyI0jnMggwHYotYRNyMnafIGjzDdplYZMyFfpZNVirLMjWLyl0SVV1NNh/GbnmFXoxGbozMYcNJ4lRMgjlHJntSVOnFAo6I0lMExpvJDluYoU7SVZYYRKOMglbEao6I0nsEDp5JamwOwc4I7jqUOZsMgjLJDmTEDp9Mnj/I7nPScWgZtTSI0mrLMl3G6nCScT2MYmcLMljGboFMgd8O4d0FmpYYgUyMgcWOwSmMvkxSkSwGbnRScRfEippYRLgI7njYRLTFXp2HgnhFXomKAmVYoUNNsgfMgjRO/hGO4h7I0mvSrYqYZOpOZhYEDpEM+bpLTm3HBobO4iGO4ZjLMipQMe2I7nCFmpHI0lwY3NOG6oITRfZHgnRO4loPPXKScb2IOmgFIppDVpeMgkXSVSeMncdKemjNsbvLMgdKAlfMYkYQMgiHBnGP8h+O4hALMkHO/iyTZZaJSkiJ4jvXNWhI0n2JallMgjJELo1GboAMgdJSkRgTCa0MYdpYZL8SVUDMgfXFmonHRoFP1OTHBkcNkjOFmpOMgkKEao0WBblMniDHglcI0lbYgLgH3nTPmbOViTcMgd7OwhKMgiZYRScI7muNNjwMYgDYoZbI0mzSVeuY/LhHgmKMgkEQibNI0m+IOlBFPn2ELp3OweiMYjMI7neYZJzGbosMYjjI0jKGyo0YoIGI7isYZR+K9jUI0nXYRQrNkfNHYoBExpgOwhHaaPuQTbNMgdzHYocFmpeMgezScXpFfoJScK9HBn+IOndYRN7SVb1Y/RWEDpTOwgyYZG5SVb5I0nLFfpUSVcGFXoQDVpyScc2M2c9Mvh7M+gKEpplYZG/LTlfLMjfJDmuGjn1NdghMYiDMgeTQqh7Ohj6ScWeHJnrHJnyJDmEI7kiM+hsFfoUO/WOFuo8O/kIEDp3O4UmYgLmGrnhNsj0NzfwMgd8I7lbPWc7E4ppMvifFmpZDspoO4XaMnf0LqkkaxL7HJn2H+oCI0nQHBoBYZOdEip2MYdpZOO9JhmoPPZzDsp4LbliaDLjScV2EipDGbnyEap0KHjdHJoaN7Z+I7kqPHiDRQZBa5IMGjlAEipCEpoXLMe2LMikMvl5FXpYFXn/ScWJScZXI7nJYZQNSVf0SVixVEavD0p3MghGNNjSKPliJ4mdFIpjKHi4I7lrPtfsODfFODeaExo4LTmtSkcSGjmeHYoSSVHOJhm3ELovLTgsHgnhMnkMIOnvKXjZHRnePtfeI0nKQyg+JSmuJSldYRcuLTmPYZJxKXiuTZb4H+mdScSpScggExpnFXoaJKm+DVp/JKlLOwh9JhmKMYiiMgikLTh2YRTZSrUqMgicOwfoEDpKLElDJSk0SVb+Hon9M+d4DOpnLqTYHgnCY3NCLMmgLymBLTmXSVP1NzhHY/PcK1l3ESp2FfoTYZI8SVTmO4frHYoUMgnAI7kEViRcMYk8SVYqDlpvI7i9MgaFI0maNNlAFfpNQMYWYZYiGbn3Scb+ScXWI7hFEppoEap2MvZ6HRoSZWU/Jxl6ZWYqLTl8NzgjMgjGGboqF1oMGrnYKHlQMgiaYRJ8I0ljYRMjGrmvHBoLODgBEDp2ScdWScNiMgk7GjnfFIpqLMh9MnhgGbonScW6DOp5ZdO+PPTxJKmiEap1ELo4QbfBSVZzE4pjMngCScNxPeZrGrmtDdp1N7fOOwkGZdPkMnioMgjQScTNMYfxKelcMgf6OwiLScWiJSmfI0mUMYb/SkU6FmpFD8p4J4mLLjiIG6lyYZMvGyoYJhmsJhnBGbmkNGi/LMmgNsaBESp1FXoBGbnoNkeoPHcLN7ZWNzejPme5DVpvD0pjYgLPFmpOO/aOEDp4Y3TpF1pMLTk/ELp4SVO1MgiTZOW9I7nqFXnxJDn2FXpdHBncH+llMnhQMYciI0jgJpiPYZJeLjmFMgjNMnddHRnqKHlNPHW/axUWFfoiZ0G4KAj5FXoZJhjLYRI3N7dQHBnUMnjqFPokYZXmNsf+SVfdHonjSVOTKPnHM2e7YoSURYeaEpptMnhsDVp5KmkDMYXQMghzH+mYN7dXMnm9Jhl/HvniLbm4YRMqJDlcFApkYoP6Z8R8HRoHFPoaMvg3I7lsSkiAGrogOwe9FAngYgZRJxnUGymVSVTFDlp3Lbd2Grm9I0mnFXpfEpppEpp3I0mXI0lILMhrFXoFI0m0MYjYFfpfUtO8D0pVNsi/ExppYwOtESo+FXodLMeqKAlSMYeDOwd1MgkkEipvP8iFFIpgSVWXI7m7MnWkHBnNMYg8I7n6I0m5OwiMM2jHSVXDNVfwGynCFupLMghFEppxMgiSNkiBFAptNNfRJak5LTjOMgl4aDMoMYjNMYdaYgLvI0k7LTiVMvcAYgN+FXoPI0m1I0kGSVQ/SVeJNVgySVh5SzWOSVTdJDn6apKlHonPFupPG6oZPPcrJSjuMgeVSVXDP8fAHBoLFAotLTlNMgkLMgfsOwhQYoH2JajcI7nIHvnkIOmvMgidI7nREDpMY3T6Dlp7LyfULMkLHgnVGbpLZdL+LMjILMhJGFo/L6gjEDp+NVfcFmpLFfpMZWMMM2hzI0kxMvgnJKiuI0mUZtZVSFhPOweIYRUhHRnHSce+MgeoYZWEI7liLMjoHvomHvm/YZPiScZ3O4hEZlX+KAmZFPonMgjtM+hjSVWjJSl7PHklYZNfGbnVI0m8LTjVSVYMG6lWI0nrTRV1SVMCOwaiMYfgJDnTScfhI7klI0lNJanvFPplYRRBSVKHLMjhOZezKHloMgk2LMkfLTfPFXpdSkUGSchhFPp5MgmNSVUAOScnYZJpSzfFHJm3I0mFOwY4Mgj4PmcNZWIjYwSMHBnSNsdcSceSGroiScbVLyklI0lxLMgLMYiCGMoDLMicJDjHHJoGI0klZ8OuNkh2EDozJKnnScabJKk/MgjvLMihJal0HBojMgfVMYYDKXljScV2SVZEM2jyJKk5KmjMYoNkSVU4HYmnOKhHMverMYgORBfbPPc1MYltEDp+O4cRJDm9KHhiFPobFIphZGQJMnjLI7nOM+kKY3b/I7lxRQbbGjnISVT8ODTqJplfHRnbaDOnYwJOI0kyYwKlI7lqYZLJPHdLScdaDlpsO4TYGjncH+lHFPomMYYfLbk7MneyTCO8NskYHBmjMgh7YRP+YZaENGh0GbneKHlzMgimYZOMESp1G6miJDkZYgOPHvmsI7lGJpl5ZOXASVW5YgOzLMglHRn4SzQ6KPh0Fun1JDjBTZOZMnhaI0nUbXOkEpptNGchSVeRI7i/MgjdI0mkSkdbYZMEZtJ7MglPQqcfM2hNSkQRMYgEMnjtMgdNDOpqMYf5FfpeJKlGJSjHM+Y+MnjBSkU4OwhNKAjvOwaRIGlrEDp2I0mCFXoMMglgMng7YoKmGjnxNsjjOSi8P1VUYgNjGbmcMnmBJDjKJhmeI0nFLMmOMYlOKHmgOwc7SVRlMvQ/F1pHNkgHYZZuY3WiYRURMnfzYgNgSkTmJDkuNdilFPpkYgK3LMjtI0kiMgjqYoMQMggnHJoaLMgZI0jNHYnoYRWXZGV4EDp5KPmwScZNScWuHRoiLMciSzdGHRnbI7nXMghMYZOSMYk1Y/WpI7jEI0nUNNbsSVWZGbl+YoS0GynSMgcuJ4l5LMk7GFpCVEcZGbnkEpptDlpzU0Y4NkYAMgjrPWgXRYRJMgblScWcEDp3FAoSMghbSccGJxlsFPplJhmMYZbcSkWeRfhdMJjsEDp4I0lbYZRNNkRBFPpjH3nVMYjGKPhhNNfwSkfkELpLOSbQMnj4MgUyZWXvSVUnLbhIMYh3GjosMglUSVUXNsXPMnjPPPbHNde3SVWZVLNoMgYeLMkzHRmcSVZvLElLMgi9ODgjS7HeGrnJELp7MgjDEDp5KAnDYRRgGMnzI0mqM2iJOSg1HBnDJKlsScUDQqjyKPiEScRASVRQI0mUMgjRMYjWJDlbI0mmO4YhEDp7EDp8VEKDLMmzSVYhMgdeDlptELp2aTMtMgUREDpRO4iGaLLmEppySVY6YZWdOwdiQTfAFXn4EDpMN7hcGbn6KAmfZlSDNGYyGrmxYgMTFXojGbm8GympZdSIMnjyScdOMYjUSVbJMYfhEppoMYhFOwhPKPl5YZasMnSUGrpCDso7ExobNsjjScfbDlp7HBlkJDkTMnbdPPeFYZUSOwh1C3p9I0neLMhSFmn7ESpANkkkD0p2MnmpYRSdSVSoESp+SkWvEDpFLTklSkaWOSh0LMhHapJLLMi9FAoFEDpLMYdcDdp6Hgm4ODiZLjkWPPU1NVhRDOp4MghZHvn9LMisDlpxNzgYToWbSVabOwd7J4lgYZTMMYZYO/g5YZM0I0m5JDiFMYiaOwe0LTinM2cpI7j3YgS8F9o9DspHI0nLMYaQLMgQJxj8JDngJSkDMYbeM2hpYoP5Y/RqI7knI0nmNVi7OSiaGFo2apYpSVXzGrm4EapxG6pLGjnEMgUrFupAMgfAGrnbYRSRKmleI0nSHYn4L6gNLMlQHYm7FPoBHYneEDp4ZtYMScTvOZhtW2P0HonnOwbQM2gGMgfTOwemJplhMngRD0phOwUWYZV0OpkjLTkAESp8EDp6NzcxMYkKJam7Lbi5YZUKScNPYZOAYZORMgXzKPiVMgjJLTkkSkWDMghKSVXcScL2SkbGOKkROwfZDlp0SkS8SVX1MvhsMYenYRQ6ScaKFIpfLbfKEDpUYRSXOSkzSVQAMYf2JSm4ZtUIHBnMMglXMgjQMYgDLMmSD0p+KHlzI7kjSkgtLTn6Ddp4SkQpE4pzLMZiYRcqZGTWI0kaGyldMYkrNNhQNsa2ZWb1JhmXMglpN7fOEapwHRm3MgeqHonKGym9I0nKI7kyMghHThRKZWScG6m7NsbTHBm/NsizI7nKHYnrJDkrNkkQOSjDNkiUaDLYFfoTYZNcNsjqMgf7Nze7L6giNVb2I0mOMvfuSkV2YZXgELocU0J8KmmNH3n8I0ljSkWuZWXeOZaTLTiNM2lGaTaUGjnJJxm3ScXFLMkLLMkyScKhMncCHgmkJhk7LMk4JpmeYZK9I7j7FmofJSmnMndBQiZYaaL7YZKiJxlDYwbYYRToZ8K+MBbrYZLEF9oYY3SDE4pnYZPhEDoJScUbScTaOwguOwgNYZPtOKiVI7nRJhiNMgd/O4hrYRURScT4GFo0MgkLSVbfSVVQOwipELp5FfpYJpk1SVa0VbNIYRM3TChUNVgTHglxHvoAI0lMM2jbMYcNEDp5MgYwGro7OwcjNNhYYZMsPPeaLMkzScMAUtOOHRnNJhjtHRnUI0mfI0mASViPMYkNLTlAHBoZM2jbUeUAMnh/I7kqGjmZY/J8RBc+I0nKNshvLTfXMBlASkWiJSkPYZNfLjjfMYh0YZWjSVWCOwcGaiM8NdbdLMjJLMiuScUaMYijMgkHMndvLMlhHgnEO4iOMYjNJDj5I7k5FXpsJxmhM+iUEpptVxXULjfPMgcGYZNgMYioTZViLqnEI0njJhm4T/aeMngKJhjpSkSrMYmMFXpeJxk1ScY6Gbn7ScVlRBdqMghRGbnXEppzJhmdYZYDMYhELyaEI0kkYZYRGjmvMgkQSVIWRffCMgdVGboyLTfpMvZDPHdOGbo/PHgaLMknLThya5UuYZKhYZOgNGfLHYmDJ4jAZlOiMgjmLMkGMnkNE4puSVd7I0nbIGmhM2fmLjlDMgh3Hvn3dBHVePHxdIIieeJJgMHCgFHchyG4kSHNkSH5kSH5gFLpe9Nme2OgeUPgeUPgfhQZkLOQkLUpkLV7ciTM"],[1220.30,83.00,"ESprVLK9MneKESpeYZHkO/gVEDpbR+WFSVbGGynxPmgyELpSOwXqFApcEDpoYoQLESouO/ccYZI7ELozSkWMQTarQqZkSrPYDVpgMYlwEapbcMRhEipZEipmYRLTScYlI7moLMieHBnuYRIvYZTTJ4lTP8cBLblJScWrMgfnLMbOSVdzEDpnSkKWHRnRFIpDNsgtGbosYZPsJDlKNGflI7nYFApZE4o/Mgi7I7loIdjIHYm5SVT8IOnQNGiKM2ccQyZZZdIlP1LUI7mjeVIuJDlVJ4nKI7ktExpBMYgvFfonPHjRNVbXI7nWELpCI0l7GbonEapqYZRSGbmbGbmLI7jfNdSwMYeHSkQcEDolEpptEDppFmolLbe8LTkjNkc1ZlL4GjomJxk7E4pIELpSJhkkESptFApRGjlEMgiSNdi0JDloJxjMFApNFPpKMvhCNVhWG6mhEapILTlXQTdvSrZMHBoZScXAEapWI0k0ESpkNGkkSVTQMnjyYwK2Z8QbFupFLbj8OpX4Ddp8QEgkOhfHMgdHYgO8EaplEio4GjncF1odLMW6ScYaI0lUHYn2YZXMRIgODVpcNGc3SVbMYgemO4ewFPpDGjmfHgmzaTXCMnh+LMjnFfpNMvgEGrohHJmAEiocI7l+Eao9ESpOYRTyScTVSciFJhk7SVZINGbxKAmpYZUFSkP/F9opGynpESo8NdluEDpJNNVDOpgoOwfeODjjMYbSSVeXScURDdp3GroDGbn5MgbHGrnZFApAMnirI7mGYgSFLygsE4peHJlNEDptJKiXHBnlTZbvFmo0EDpeMgkUZtJMGboQYRQzI0mkGjnpODhuODaGSVUHEDprDdpmELpiYZPqEppSOScJYRP7LbiBELpmIGkxEiptMYjkO4dnSVYZG6k7EipWVTWKNdeSMYjWFPo1ESplScXlN7VjPmT5XrX1E4n4ScLkGrm8H+jRKHhMEDpGK1koNkilO/WTSkfoGjoBO4itEap0Qic1XUZFEDo6DdpyFPo8TKVjJDjKJSmjGym7LMjQHYlvGynmEaogO/gmExncFIodT4aWKel1MYjXPPdsGrnoI0mVYRNjMvd2DVp0EDpLFXpZaaLeYZPMUtTCYZOTEio8ESp1EapZGbmFEDpsEDpwG6m1QMgVESpjMgh9QEiqRIeeEapeTZcTEDpQJhmiEipYapP2FXpFDsprDOozPHjMGrlnEDpUGjm4HRnaZdMxSceKFPoNY/P5LMjsESoyEio2QEaZEDphYwOQGyn7GjmZGjnlYZPBKtmPKAinESprHgn/Gjl/MnlqGymfNsiDPHbeEDppI0mCJxmlYoMfJSmRMYgzMYiDGym6O4huGjmzJDlcFmpaJDk+MvkfEDpeIkm3SVeCI7maLMmHEapVSVLVH3mLFXpKOZizGyoEMgdEWIZsYoSKExphFIpNNze7H3nIOwihFfoqa5PbLMjtMYgSQTeHEipUEDpyMna7G6mhEDoyGrn4ESpbDdp8FXpGFIo+DlpnHBnKYRO8EDp1EppEEDpOMghNF9otScZKSkNbNkj0Ohg2I0m/ELpqELpyESpeMnYCEipgEaogI0lyMgeUSVK4L6iPVEYDESpuLjamI7myOZhgDspKM+fDJxicPHf8F9oSHgn4O4gXI0nKFfpHHvmFYgWUYZImI0maEDpsI0mkSVckHRl4MJZoLMh4ESprGym+EDpcY/IHLMhFGroBN7gKELpyD8pTNGgLGjnvFPonNNiVa5VWFfn5FPpbI7mIMgiWH3ltJKnSHvnlHRoYKAk4GjoBGynjHongSzM2FmpUYgNUEDp3YwRPNVlWThYIFXpBMYkuPWhbFApIH3l7SVP0QiiTEipYScYIGboMG6lxSVNQI0nFEapDH3oBEapmHRoOGrnRKPkdEppdELpNFApXMglpP1azELpqLTlvFIpVYgIYScQEJDmLLbjnSVaHSVgJMnULJalUHBnQHvkeDOp9YRNvEipVNGegI0mrO4U9HJntFApTe0VFYZRjThOyH+nUDsp1SzTDGyoTNNbKDOpQFXo+GynBEDpnExpVYRMmMnkEJSmqSkbwI0mZO/h8I7jYYZOpGMoFLTkPJhmwLMlEFXopOwgIESpqEipIKHnBDOpwP8dvESpNI0loPHepOwapY/SHMgauFXpAMneaESpYEDpbM+cYbuPII7jHFmpgKAkxPmelM2jSNzitELpuJKlPELpiMYiYEDpaI0mlYRTBZGObEDpLN7VjZWVKGjngESp8LTj2QTfWNGhUEDpqOpkJFApUNNg9M2kHSVY8QbczMYgdScRBELpmMvi8ESpsGrniFApnFIpZGyn7YwNDMYmgFApTEip3JDlBFIpDSkJ3KHjhHglfEpptO4X5ELo0NdirMYXsFApfI0mCNVZhI7m7HYlvI0jbYZcxMghdHvkmELpKDdpsP1gtLMkjDVpwI0lPSVIXGboIYgJcFXoLFPpHI7nDDdpzScbzELpkGbnHDOp3WQWsMnhvHJmkELpVJKk/ESpQGjmpESpiMgeSSkVsFXoDMYhuEDpqOwgwDspqFApQEDpzHonsE4pdI0n3GbmgEDpkExpMMYjaYZNrEpo6ESpcSVS+Grm0MYd0HRnsWIP6GboKKAlyESp/OpfWEipnFXpZY3LPZdQaGboTEpopGboSMnkKFXpZSrYOLMf6GboyHgnCFAoWLbjyD8o2LMjXNkdBLMkcI7k/KXjDdoVLTwVXEipnEioaSVSzO4fzELpdESp1MgiuFXo3M+bxGjoZGjoYeOI9EapsZGP8PedvDsp+FPpDF1o/ESptScVmYZP5FPoHI0iyNVkdFXpJGymZEDpEDlo1MnhrQTaaPWgpJamuMndqG6nvHRoBSVYbGyoRGbnYIGnLESo8YZJcJDitGjo1PPbXOwfaMgiQFXoYNVZPWBOiEipiHRlbMngBI7mTF1pLHgnEI0jiPmjQHBncNGk8SVVeEipcLMiYHJnzEDpeH3nBPHg3ScftLElJMnh2FXotYROsG6oUEDpnGyn4MYbFMnkeFfogODgfESp2EppOJpoSESpSGbn4EapaYZPIP8U5ESplI0kJELpjI0hUKPm/ZORaI0mDI0miELp0JDmBJDm5FXpXYRRiPta5EDpeFPpNEDprSVRMNVYBM2b5EDpyI0koJDmnbAK0H3mfGboDFXpUFIoIYZUvRIUjKPmKHJncNNggELptOwInELo1EDplEapQEapZJ4ieMgglO/bzSkblMYeQGynmSVRSPHdxMnivOSkeFXo3MYgIOhhLFIpJGjoROweAJDmiScO5M+lHLjgRSkN5OwV5Nkg8GjoBNGdAI0mgI0kMI0mfMndxELpCLTmNFXpSSVRLLbltSra0YZPLESo4SVQ7Mgf/NdfSELpkFPpIMvaxEDpnMnlCEpo4ESo0N7g9I0nfNkkJHBoOSVdfELpfELpPMgkGNGkvELpXI0kpDlpVTCRgHJnhO4gBZGRjO4gDHYnNYZG5EDoREDo2ZORgGrnOP8WgYgHeOwdKODeDI0lvHgoeELozHgmQEDp1EppcO/guEapKGboGGjoFTCZMHRneELpSScXuI7mTI7m7I7jdELptG6nPFPoDZ0OrEDpuScPTLTcZT4Q+FmpAYZN0F1oDLTlPLMlCNdiHYgYBJDmHFXpIJxlUMngjSVhvI7mmMgbwELp0IdnRMnkREaphYgHnELpoHYnZF9o3KthAFfpIESpqKej1YZJJDVp2GroCNGk5LMf4KAmHMnkFYRKUMna5Mgi1OwUsTRarMgfzUtYERffIU0XxLTiIFPpSLbaoLyhxNseLE4pnMnifLMmZDOpZD0pvFXpPI0kpYRMCLMjeSVbTDVp5SVHEYZNOMnf/NzZLGjoREppXMvitGrn1Mgi5N7hSOScXJxldJKkwHRoiEapnFforL6k/FAouEapdLydjeVKIKtljHgnUEapHEaoqD8pbSVaSDlp6J4lJD8o/JSlEELpqSkbrEipQYZIcI0mKLMl7MgaQYZSCTKM/FIolIOm5MgjbDdpqGbomEapeFApSI0m5YZToaTLJEDpQGjlhMndnSVWFI7lNSVdtI7izYgHVMnkAFPn8SVUHGrnoG6n3LTi0RYYcGjn+UOTWHvnePHeZELpyMnkQMYlHJphpEDpOFXoQMgfnLMgdMnkiO/gUFfpgELpSEapOG6ntG6m7ZlOkHgnqNdhzExpdHJnOOweuLMjJDsp3HJn9Ffo3E4pJFXpPMvavMghXOwZ8LTj3EDpwEDpvSVKCPehAFfpDI7kLSrJdPHg1I0klGjn7FApdLTjsO/WZJKkCM2gdOwd+U0UkFmpJMgjOLMmCMgiCEDpgO4MhO/fRO4erYRRBESptSzdFJKm/OwbwO/b0Lye7ELo0GjnWJpjYI7mMEDpvMgbrMYi9FPo7Y/RZFPpAUlSzNNhyDloyPPgXSVSbMYefEapMFPo/YZK2ESpLU0S7ELpkYRTeESpoMYcLEDpiESojGjl+I0nKLjhjYRNcScaAN7fJScTpI7mIQqTUIVn1FAodESorTCVzFmnnFfoaHJmcT/V3MgcgJKkTFApHMgcuMYbOEDpoGrojEDp2ZtPgMnhWEio8GbmKGboGDsp3ScitMngqHJncFPovO4gTH+leGyoHFPoSYgI0LMjpLMg1ESpqGrniOwi8EDptMghMMgjULMdYFfpJGrn4HBnmDdp8YZJ/YZLEScXTSkbFPeYwJheLI7k1JDlcaaKsEapsHJoOFfotI0lIHBmFLTksFXoVSVasPmSVEDpSMniCScXTLTZQFmn9FPphELppI0lbGjnZLMhWU0W+FPpQJpk0ESpwLMh6KAkqFmpEMnjTMndUY/WeEao8MvhuMgiOFfpTFfonEDpvMYj4O4cbNVkBSVeKFXpQLMfaHvniI0muFXpCHJo5MghGG6oAFmnmLMgwJDnRGjoVPPhyEppUMYgKYZMMFPpnFXpPEapmEDpZYRJdMnbeHYnEFPoMJKm5O/QEN7kSKAlWEipZYZNtO4gAScf7Q5fVHgngTZU2MvXNEapdJDk8SkTWMgfsPehUEpovF9o6EDolO4crGroIYRWsDlp+Ndb2YZJ4O4hKNNjDbAIkSVIPMYimEapkScVcFXo3D8osHYn3KmjjODgFIGmUNNjrFApVI0mzMgiCE4o5JKmPOSdTMYitSkb9MYa9SVK4KHk4GjouEposMgb6JKnVPHeLYZUaNkVVHBkUI7msLMdAScdjEDppNVhPI7jiI0kxGbnVH+kZEppNNsiLDVp+O4hcGrnPMvi7FXpBFmpJeVRYThewMgmJE4ppI0j5JpmEEapuExohEipLMgfrI7kuSrQ1K1kvJamkNsf8MggmLMiFNNfxTCazYgLdSVT7SkZGMgfZD8prM2frJDm/Ffn7ESpzMvgmTKUtM+fidvQOYZNlFApVFPoTMnauMYixMvk8YRJjLjnCa5MWESpSLMiUOwWAMneeRBfMMgg5G6iYMngzQTNRMYmSGUnsFPolGroHLMjpEDpHGyn6MYZnFmo1HRm/ESpzKPlhEppWMYkAPegBN7lAScfdHglvOwiuOwbYEapoPHiYJKjfNkkSEDprGjovJSmLSzQRFAprNzfUbmNZGbnuScdiFXovI0lgESpxM2k5I0l1JDiFYRJOMgg1Grn6GbokELo3ELpPESpuJKmjNNbvEio7ELpIScMgGjoOFXpnELp0YZSOHvm4ScXTI0jjGFoUJDm2IGmXO4hzDspgEpppSkZ+EDpcGynvScKSOhiFH+nnI7lzNdM+FPoxI7iGV5MVNzenaDJDMnlqYgbXMnlcEapqEDpeGjmrMgicE4pTJDlpG6mmbAUlGbotYoJqG6msKAjfFPpoYZUVY/MCI0meEpplEppcLMmAODdGEppLG6nEGFoWMgf0MJjjMJcqFXpLO/duELpUMgenMnebESpoFPo2I7mkELo6EDpeJpm+I0ksDdptKXkRH3mgE4pUJDjIOwU5ScMRHYmKFfn0Mve7SVVAMYetFPo3SkTNGbncMYfUFfpRJxnQLMjvI0jtEipjZlS6YRKED8pBT/ZlOSfsM+dDNGhuSVTFFXpWGFn4JamREppyI0lDELpDI7l+MYgZPHgbYgQaKAlVYZHTLMbEJDk7PHcVGykvM2drI7m8YZSGJDkFPmatEDpRKAksNGjLZGJMS7OME4pAExpJLMkia5MeE4pTYoTmPPfyYoNzI0lyGjocScOSFupAEDpCODWqF1o5Gbo4EDpvSVSMPtUGSVeVScOnELpNEDpfJxljYZHwI7iBEpprI7m1FAo5SkZrYZQPSVUiFfpBaTP1MYeIEDppFXoUI7mRDVplEaoxMgbLFXpWO4fmHBnnELo9Mvf9YoOAOhkUFXn+H3npMgjVZ8K6MnfhRIYxNzjNI0kcExpIEpprESo8HRmDScMcYZPsMgjoJhmcJSi9Grn1ODfbQEdhESo9NGisNGd5Ffo9FXpQGboDNsgjEDp2ESp0QbiEMgejG6oiLTjjI0mRMnbrY3M5LMczI7ldNVkjLMb9GjnnLMbBHgnuHJneE4pTGynlDOp5NVf4LTj4EaplFfoXELpQEipmE4pQMnc7I7k3ELpLYZISI0lmHBmyGroIEapCLTjUYgQqFmo3FfosYZOGEDpuScXTLMm+KXlKFXpWFmocI0miMndsTRUeMYapZ8MkRfRJHJnPGboFMYlCNsgKFXoZMYeeMYhfNGiiFApjFPotDOpwSVYaHgnhSze5Ffo8OZY8EDpBa5UdFXoaMYdiYZSLYZG3GynPUWVdNGf0SVRiUtM1FApcI7kIFPpJFPoVJanBIkmtFPo3Gyn2EDp5PWXfGboTYoJkFAokM+esFIovGboQLbmLYRUMGrnLYwRpFApAI7mWYgVnFfo6MYihSkU6MghfJSlPSVe2SVRXEaplLMkRDspjMgfnFPpsOwciQEbTUHYMSzQkDdpuH3neGrnSLMmaESo9M2fAJDnFOhdYI7lsVbZoELp1HJodJKknGrn8EDpuMghgGrnAFAo4FXpGFPosQ5VMEappJSldS7aFM+hPQqSleVHyE4opSVTII0m2MYkNO4dIFAoLMnizH3oADspeHvnoG6mxFApRYRXULje3ELp3LTjtRQa7Y/RoS7caHRnqI0muO4XvDOptGbn+ZGSKUtefI0kYF1oxHJnaLMk2SkVqSVTsJSj2GynKMghPEDpCLMkqEDp0I7myEDpYJ4kSEDpQFmotOpYHIdoGUOIdGyniFfpWFPpoOwf1SkXZGymBTRgYExo7ZdNKOSh7FPpaG6oJSkT0EDpVGbm5HBnCMnkDScQhYwLzVTIYLMjjPPfdYZThUtY8I0kcM2eWLMjgI0kqSrS3MYmgFPooTCdrPWhOI0l/SkTQFmo5FXpXNzbpEDpBZWMCI0mtMYguMgjTFXpEFXpKYZPSFfo9dgNYExpoOZYaeGTmYRIiGjoSYROJLMntLjjfGynUPPdzO/dhMgesI0mGO4X6ScbgJDkBZlSYFfpOExpdYRXeLMhfGbn1QqdLMgi1Mgf0ZdZLMYjOIGmEMgjPMglaGroPGyoXbuIUY3KeOpRnU0a3GjohESogGbogJpmrFPo2MYdvQEKfO/dMFmouOSjnExphFfojGjnCIklkGyn/EDpyScYLGrm8I0mrG6n7ZWKYFXodVLMoFXnsSkSdaaHyO4aXGbldFfo7YZS+ELpwE4orT/ZyLMiuFApXExomEapAM2imMYgRYZHOYRMMTCbgPHlLI7kvPeMVOpcmGjoKMggzGbn8NNhxJSlJM2iSLqj+MYgWNVb/Eio5IOnzMngjFIpfGjmnY/J1ScU7O4ZqGbnsYRXbYZTyI0mJHBn7I7lOELo1MncoLMkiSVYyMggaYRSrFmohPmhfO/UUESn+GjoFFXpFSVfnGbmWGyoDFPogEio8MngaELpvY3NeLMnHEDpDGbobS7XaDspSGjmHG6mYRBbpLMl1SkX6G6mtZtXJI0iKY3PDYZOZD0p8H3ndSkcDYgIjGjnXLMjwYRIcGjk5F9pFMghBNNcILbkSELo8NVj3FPoqExphGjnHFmoWMgjfJSkvPHeFI0m2EpptO/gvMgj1axQTHgoOLjj0NNYVe0J3NdfDQEgFYgI7YRUULMkDSVPEKAffPtfHNGVEScXgOwg6JDmyY/OyEipkHYoFOKgIM+gHYgLOELokMgeEOwgxMvkCO4e3FApXFmpHI0lyEapoGrnNI0hPSkVhM2jWG6lLScLoNVeHJDmnYZQTFXokMYg0MggFFXpYI0mAMvg+YRLDGbmrLTlRYZLfGymnESpzScYyFPnCJDm8MgeRO/cPFPozYgU9QTeRMYdDM2j1MYheGjn6GbmiYRJGGboQMgfdTZQdI0kPMYgGFIpeHgn5ESp2S7WJLMlXJpk6D0pjNki4LTjGDlpBMgcTEDpPPtT3UtL8KAlHS7P+GrnsJKmeGbldLMi0Mgh3MnhYYZOhLblqEpovMgeUGrn1NdasJameGjnYYRWTGbnnPWejJDmsUtTRLjl0I0ljFXpGHvnKM+bJYZHtOweTScarKAjnNdYFMge4FuouE4pcHonDHBmQYZOLFPpfMgkPMnfSScUmO4ZeP8eNNGd5F1pPRBgbMvkLEDpGMgaSO/ehMYfXELomSVevHJoFbfNnMYhVH+mnYRURJSiMKeifDVpMFXpKJDmUNsS7YZMfYRLDU0VEI0i4I0mjHJmcIVnGYgJcG6oCMBceY3L/MgiINziBSVbOZ8J7SNPEFfoHHJmTEDpDESo1FPosODavJagSMgiTSkZEPHcwSVQGYoMvD0p2OwgYI0mFMnjXE4o4XcXHGjmwJxgbELo7YoSXDVp3QbbJI0mCHgnSMgV8HonpZdLUScZSPehOVEQKGborMgY7MnggSkTeMgfDMYi0MgkgLMl6Kth7I7nDNdhoLMgMESopI0jLHJmPYZHPI7lsMgh3HBnUGjoOGjnmEDpwGjnbG6ofI7kkSVUMGjoMJDoDKegeM+krY/SWHJomFXpHEiptHRm7SVaAESpsNdihGrnVNsh0Mgc+GjohMJlBHgn8GjodTKJsNGc9OpU4SVXtI0k6LMk0IkmZGjmDI7lQOwamPHhrELocSrT0Scd2Opg/GbndMYfHIGmyJ4m5YRICYgIGSrJzMYjlNNZvFfpjMgYGPHe1bAK5ODghFfn1I7i7LMkxGrmuELpxEDpBELptScZHSzYGOSdrMgeCI0meKAjuDOp1GboQSkbHH+oJI7kFI7j0NzahGboAOKixEappYZLtExphSVTlHYmyLMjFFIowNdVnJpnOGbmUI7mMEaptGjm6MnkUYoOlFfpBTobVFPooFXolScVEGjoRN7UQOwhWGrmqMvVWI7mhQMfcPPe3JKlVHJmcC3pqQbUMIOnUEip4O/fySVd8PWdPYZP8PHaqGjneO/XVI7mLEDpxSVa5EaoDOwejESp6G6mgEDpNSVQcUtbUEppoFXomSVbpI7luMgefMYXTJDjzLMl6ELpsYZQyPPeMNVmnI0lOMgjtFAoWPtaWGynfEpofKAmJMnirSVSSLMY5ScTTMnfLGbnmMgSdQMa8LMekYRZQFXpgI0maYZOeMglGSzapTob1DVpfODhfMndrYwQcI0llO/bkU0XGGjn2Mgg9EDp1YwHULMicE4pfSkbPDsp1JKnGZOKaExozNzgOFfpDMgjXOwdmYRLiMnllI0nhGynUHvmqPWYSFfpBOwbJEpphHgl8O/VyI0l1MvirYoQXYROaI7mDMghKLMh7bXPrNkgwMBnKGbn6Eio3GrnII0jtEap2I0lJM2jlQqcWOwfSZdSEYRTgSVgjYZPtLMlvDdp1MngjSVbHNdWMNzfpaaLbI0i0SVTlIkmdI0mRGrogMgkmJDmeYgKcNkjnG6n1I7nEGrkxJKlxLMjZQTdVOZX+GrnjSzaNMgfhWfVLVTVdJhl5Qbc4GynFI7h6MnaLI7lRThP3TZZ8M2lIPHaJHBmxKAjnMnfwMnhhGboESkUhLMk6OKeRMgafI0jxGyoWOwUaIGlhHJmJHJnwHYn3G6oSMgV2Ddp0YRIhNVi+Mgh4GylmDOp4apTQScOvMYg+G6nwFfo1GblhHJo2KPlmI0kxO4g8O4e1GjoWVbOlNkcWFIoyESp9M2VzNVjuSkVQY/RUD0pWGjoZO4aGI7mlFXnqHYn/FfpQSkbOHYnvYZM4QihHFApYMnjIJplxI7kyGjohE4pnYZXKI0lVFXoTMgkWThMpYZMoNkceDOpqYZKxGjn7MYkMMYh2MghhPWdPELp8DlpnGjoUMghtYRLZMYXeJDnTGrnmU8NyO4iDMYjaYZPWSVYxH3msHBmnMYkWG6oQSkVqSkVEO/hlKXlcNkgxMgiRHYniHBnlI7mFR+bJI0naNkiOOwdnELowHonRFApcFfoVLbgFNkgUMYhbEposI0lBNdggI0oIGbnvSVV6SVcbEDo+ToTtEDpuELpvDdpRMgjCMgg+DVpzYgKMHgnWGboBXrfSF9pTEiofE4otGynjKXlfdRUIYZI2P8KpFAoiEDo5OwYBH3lUGrnkLMidFPpUJ4llQidTNNg/FXorEDp7NGhmLMjEE4pfY/KZLMlKQMZGLTluFmpZHJlvGyn1GylyYZKDJSn1ELopHgnTODTHMgepYRNBD0phaaLnNkb3ExowFPn6NGkAJDlPOhdAEDp1PPeNMYjLYZO+Eio5OpevMYivGjlJJxl9FXpTI0j+SVfTMvgMS7QuJDmFOZbOOwfOScThEDpyYgPDSkcqMYjcOwIrHJn7MgeWHvnGJSlmGbodH3nzH+jVOKf0SVQFGjmtSrZ7Gbm7ELpwH+naI0i4I7lqI0jCFIpeJpk1Y3N2JKiBGbnfGboILMksI0k/LMgRYZOcYZNtI0nQSVWEMgegNsfONNiJO4e6MYhKScL9I0nCTwddScRxHon0GbnWa5LXFupcYZQMO4g/YRLhP8heEDptM+j6Fun2ThSOFXplMgjPESouYZMHSVVXHRnkOwhqPPXNYZWtGyoWEio7I0nmM+jvGbmzOwd9TRM/OwhXMYjnDOpwG6n/I7mKSccANsicFPosMgdSNNfzKPl7YRORPHhKEio2FPnQLMlGY/InFfpOPHgUMYe8O4XcMYhGEDp7LMkPI0j+YZQWJakwFPodJDnIHJlyScT5MvgYD0pkEDp3SVRiDVpwMYhhOwhjFPosFPpTIVnNGboYYoQdM2etMYgSQqiuJaj7MYZVVbREGbniESp/M+eYKHlZFAptMYbqFuomO/hCSVbAEpogTKdJSVfxHJokPWWqLMlOScdoI0krGrnXU8WiHom8Gbn3Kek8O/WJSVZnOwZPGbnYMgirEDp7N7ijEDpSGyoKYRPeYRTDZWPuI0kmYoQQGbnjYgSZI0miEpozJSl1PekNYZT7WuXLMYkGKXkBYZQWNzgyMgdWeGL8GbodPHa3MvhyJDlCMvi9H+lxI0mrEip6JDjSExpuYZQ3GUnsM+lxMBmTYZR3DsppSVf/I7l6FmpFYoNOMYlAGboRUtUCExpqO4fTYRMVMvV/QqgjScX/VTYBNkd/I0n3MvdreVKbL6i8OKhkU0LROSYyI0mnI0mMODh6NVaLDOp2MngyESoVMgctGjnfJDl8JhltDOpMLMigZ8L3OZiDScLCI0nQDOpyJKm+F1ozLbkHJxk0SzbPMgh/JSmpHvmVEDoqPPfXVbVYMYk5MYjmG6oTNkYxGbnOJalQTCNvDVpTFPn0HJnNMYcdI7lzGbmcYZSmEDoVGyoGJDgnDlp2EDotMgaaI0kOELo2MgmrHRnpFPoLSVYiF9o6NGg5Q5fwOwbuI7iYSVZEMYj/aTJwLqh+XkMmFPobMnfmFPpZYoJ6OweOJxkLELpvEDpxScOcHBlSJKlSEDp3Lql5EpodMgYqH3oPEDp2NkaEYZH6DVpVNzUQMgiRMYkaMYfXT4W/ZOLSKXlfSkTGH+mKHomNJSmsHBmLELp6PWeKMnZTScdWHBn5UHW5LMWnGbohSVMdYwUFDVp3YwLcYRPCYZQPHoobYgKfLMiqMYdPSFcxI0koKXmJODdMEaoYMgTfPWgXO4cSSVSKG6odFPpZMYhLLTj/Ohi4YZQiYwX1G6nQMYZrYZU1Eao6Peakb2VALqlDeOT0H3nRJ4lvJKlTMgcIeOQnXUY8O4hoYRJZEDpBHvn2FPoPFmo3Y/LoH3laEipsG6n6EDpBODbWGjnHFIpfJalYaxMwPHblTKOCMgkiSVKLZ8S9XFKYNNj/ZdMmFAobJplsO4ixFPoYSkVVTRSgLMhyI0kNZWNjEioaNNhEGbnwMYiGU8RiDdp6ScaDLTjqZGOxM2i2NkiXKAj+NsbJQiiQI7mSGbobI0nQI7lTE4oULMmaYZNALTk5LThbPHYvEap6PWdrU0aoP1hfJKkeEDpJTwbgLMj2HonsI0i3EDp1GboFHvnYYZROZGHfN7hNFAoLHomzScTsDso+ccS5PWZ+MnXcFXpgJamGZGTmLMieELp0ESoYD0p5MYh/JamYY3L3EDpILTmBFmpCDVp1JDmlLEf4FPoSI7nEI0kvLjedI0mJO4WzVEOJLbm/EDpHIVmGSVXlI0lnYgSJOZfSMYdkDlp0SccaD8pwYROoGbmILjlLOwcSPmdmMndWOwh/P1daD0pnNdaYOwb7LMmAHgl4MngzEDouI7jTMYeKSkYPPPeZLMkgM+fqNVlTOwfQOwihSVYwMgeVJSkEFXobLMjfMvjBYgKLKPktI7mDGbnMEaojMYiQMgjPMgf6S7dLSkZhJalRMvmtTZScXNRMPeUbJKl3ELo3M2i8YRNfI7lRMgg8MngqSVTpH+niRvd9YgU/L6klS7c1LMmcDlpqGbngDVpnDlpyNGkPPeLbFfpEI0mvHRnLGbnzMgiVYZJPO4MtNGf1LMcLFXpPI7mRYZOFbAOMLMesGjnjG6oMSVfyI0m5JKmCPWhaPeTcUtODEaoyPtdtEDo3Ljl8JaibHYm4LbluHYn8bAIJZtLrKAiPHJmiGjneLMmyO4hzQqXaExplYRJMYZOVGbnKHRoFGboUFfojN7hBQiNsMYjdSVedJDl1XcXqJalWScb4M2hiIGkYFPpbMgbJYZUGMgiNHJmkGbn6JKk/LMkpFPoYIGnTDlppVTWRPmaTTCNHNsheQEboJDlgMgh3SVYAO4OZZdPBNGfkFfntMgkHI7lRESp2SrP7MYiWHBltSVPrGUorSrMSSVZgVqVpLMfWScScO/cXESowGbnIZdQiD0niOpidO/Z3ESouNkgGYZHtKAjrWuYwOSjaJDnIGyl+ESptNsiUSVd6QMZTMvisMgg/JSmuMghoYZMIYZPiIdojGjo5Y/QIPehjYgHdPWbESkWOYgYBMgf9TZTxSVc6HRn5OwhiLqgnZOR6ThUlEipmGymKELoaNGaIO4biJ4mLI0kGI0nnSVVZMYhWMgj9ESpvFIpgI7l9ThVMDOpPMgjmZdOeLTkBGroPNGa4I0mlJDm9JDlkScOuESo6LbgeFmpSFXoYFXn7GblaGFo1Fuo+PWf1Ddp/Mgd6KAiCMnhOPWgqMvjPYRLdM2hVFupBSVcgLMjVSVZgN7SlHRnuYRKyHYndY/LOYgODFmojU8W3EDp2HRnxFmpAOwe8MYj8Fmo6I0l9Gbl6I7mGSzV+I0mGI7mPI7nCLMjsJakkQThIMgh0PHZSMgkHI0luMvl8Mgj3SkdyLMcvY3K6DOpyMgeMMgecEiowMgeRZGPnScYfMYj6YRJUDlp1FfpJYZLEYRMoMgieSVZrPHb1ZdRgMgexJDkPLMj4LEktGbnCMYfKKHlFLMjXJDmpEDp1MggsNsf4U0UCJDk7NkknPmbbSVY0IOm3IOnzNVbwYoQRYZTJHvm2EipsYZQKYZHzH3npJKiZMvh+JKlPOpZ2ESnvI7mlI0mpGjnVNkaiPePuHRn/NGmbLbicHRm8JSkGMndXScdnM+i7EDp3KPl4SkSNEpppOwYsMgfzFPpeGbnuFApgMYj4JahgHomyI7kRScOLExoUI0m9SkcSLMlpHBn3I0mQI7i1LTjvSVMLM2k4Hom5YgO7NVaRLMgRMgdEGFokNzggYoMyYRRdOZXHNzeDPWeTGjnPOwdQMnjiEpoHMgeYGbn4LTgEDspUKPliMYf2LTkOScUcLMhEHol2LbiJSkNQMYiRN7fja5ODI7m3JDl5PWb8I0k2LjkBHvnRO4lEPmgNI7j/K9k/P8eHEDoTNGkNTROVOwifYRNWZ0I7ExpdSkdCO4f6SkXHI0nyHBmwMveZYZJOIOmaUtTQM+iSGjmHLTfVGroYSrSAJ4lnMvbnO4hREDp4YRV5WnbCLMhdHvl3HJmyJamvEiplI7lHOZZsEap1MYkeNVfULMf8NVg+I0j/F1o2H3m0I0loNNhJYoREIklKI7jdOwbRPWfoGbnQDspDGbn7SVYeFPpgFPpVMvjUNkg5DOouFIpYDOp1OZj9H3mMSkfwMgkxHYmvEDo3HBo9ZGKQM+hdM+bJHRn4EDoGMnf6HYnJLMhjHYmKLMayMgkCLMnSMnmEScdIFXpfMvXMSkcPDlpzKAgLSVS6SzU9FIphTZdmJDjsKmliI0nJYROVSVX0MniRI0moO4ZBScOGdRLdMYblOSdkGbmwSVZTI0mvEiptSVlHSrW0NViiHgn6MYbWScVQMgdkOSjjM+c9S7RlI0kvSzcOGbngODhrMggBM+akMYkZSVcKI0kEDVp8M2hjFXppG6owEDpAMnfXMYh6LMkWVqMBLMmeZdMPTKKxOwdESVcJVbd4M2juHRmIJKmcGjnPYZJRJakaL6mjOwZQEipxHJoLSVPKFupWH+nbELosLMlvGrmKKPmXGboYNde5SzPlYRPLYZR2Gbm8JSlKSVbZF9ozGbnoGrm+PPYhYZNgMgjDGyoeScULODfxMglOEDpBFPpuQTSYKHk1H+nIMgjSMglUNGlRFXpkEppwQEgRGjnKDspzYoUcYZP8N7f5FfohD8psJhjRb9Q6J4kfScXbSkcNJamVH3nlO4c/H+naMgRcDlpkPWebPPfgMgbXJSmbGrozMYikOZazZdWII0mGGrnPO4S+YRU+NVeBSVaZZlTuYgNaRIOgOwdxRIhpKtiMapQtMgkzMnlKYoLgL6jYMvdIOhheI7jWMnmDNsgeYRPHMgWYDVpYYZNLFmnxNsSsJhlcGjnPUWZnScK7MYdeZdOXYZR7I7kTO4e0SVVwLMi0IVnxVLXoEioZI7kBSVR9GbnZNdgsGbnpEDp9SVP0YZN3FIpqGjoiNNiIMngDSVNtYZRUFIpXJalqODgxLMeAU8Z4MYhmLMa6YgHMThfZNNebYZSJJDldOwhCOwWFI0mjI0mNMYg3NGiEI0nTGbocHBoFESozSzPBG6mPJDlCMgbxMvh+JanJYZOiG6oHM2gJHglzMvlgHBoPGrmEFfpNLMm8LMl/Z8YjZlJ1JSl/YRMATZboYZJYHRmlMgkOMYhHK1kEQMikO4b9ZdP+HgnwGbmhPPj9O/ZpPHbxSkaDO4deGjlQQ5bdTZWgESoyLjeUPmRUMYg2O/iWLMg8MgY5PPjMPPiLSVWnOwSJYRLNN7etI7mdJDmZM2iKMgiuHgltMgitM2iiELp/MYjVI7mBNGjkThMbSkWXJSkWJalPLTmoDGp2LMfRU8UPMnZ+SkT2SVSkI0oNYZKkJKlBScLrHYkwDdp7QbhBIOm4Mnh2M2YRELp0MYf8bAQLM2kcNkbyHglzPPfXdRPJODiZEporRIPXM+icHvnQNsijO4d7FfoaIVmqLTkDUtM9YZKED0owYwSUYCZNaxHMMYiMMgdoODfdDspaGjldScVYVxNeMviPFPoTFmnsScPoG6mXScQ5DOqAGjoWGbn3ScScYZN8LMfVMnd9GroYJxlQMYkiLjW1DOpwZ8LCMYhecyOyKmjZNVb7LTgTLTlYI0mJMgjyKmj9L6kUEDo9PPRiI0k+MYmBEpodJDmyESp0SVWXJxjHSkULJKmWMYk1MYicLMakUWdSO4jXKAnUPHdBI0lnUtOwJxlaJ4kpFPpUFmpHELp4LMdZK1f7YZQbMnjKMgiUI0kUZWPGJDj8MgjtI0neYoMpNNhbSVcVSVXvHolXHRnEL6f8I0m0HBmtJDlyGrlvPWa6I0msLMjaHBmRMgg6SkVUaaIaGrotD0p/EpplEDoaGbnuM+ZnFXpfMgPOTRUvJDlZI0nVHBn7YRTYHJloUOYrJDnvKHlRLTgGSVXGFfnbH+mIIOkyMgf4I0lzLMeySVREMgjfSVTPFPoeO4iubXVvMgc0HRmcLMkHJSl8YwKALTkNODcPTZZ3DVp7LMl8RIgCDOp/UtPlI7nSI0mDE4peScP+M2kaSVIzDVpzFXoHGblRYZJ6NVeBJplcUteaEDosMghEEapxLTlkNNiaDdpxLTkebXSlMvlZYZT8ScT0LMj2Uta3JDl6MgjAMgePGboaY3PDHRnmODieFXoTDVp6MYjPGbmGNVVGI7nXNkh+FIoTI0nHJhjROhgGSkKfNsblLMTWHYn6T/ZuFApkMvfiHYn5HgmPKXlnKAlZELp4I0mqHJoALMmeYZPvMvgxG6muRfUuScZnSkagZOWcLMi4I0mvMYfrEDo3SccKScNDJamfN7d7D8p9MYgANGdhYRQZD0pGY/SCMYilMYe4TCabOSgDGjm8YZK0GMnvO/ZiScYiSVfYJanEScZUP8f/MgibSkccYZNOScaYEDp4FAnvODe/Sca5DlpzPHjSOZi9G6mbLydiI0lGMYkpI0mJG6oCGbnRO4d5SVdDLbjUSVZmMvhfZGXVNdhIHJoFSVHVMvb6FfpQNkmHMghTMYfgLThGMYlmSrTmJpmCGjnbELo6LTkHOhiRFupUF9oeZGH+QMSZKeksJpi/M+j+YRN+UtYLDlppOhg6EipsM+ehJKkANzhaM+iIYZJ8Dlp2GjmeExpvLjjqFfpRM2h7LMioNNhjSVXEU8JdI0kWI7m9MgcfEDp2U8abY3JnGrmVO4k2JDkGPHi7SkZtY/QzHYlkHBkZEaoxPWQqSVbfKmkqG6pFScV3MYcrHRnyNzZqESp3OZf4HRoTLMjTH3lAGbmxGbn2EDp5YgcwMnf2aiIQS7Z9Mvf9PeSsPPfTPme4ZdQkNNhuYRNJFmoEMYh2NGUtMYhyRQd8XFTQSVPhDlpzTwbVMYeKO4c0EpoiUHalOKftOhfmMgcOI0k4TRP9ScZeYZLtFXobYRKkL6clMYiEHooGMYfEEDqAYoM3J4mcOwlqKAjrI7j3OwgYMnjyFXoNScXoHgmiI0lYJhlyLMkSMgfxbuIaEppyLMkAMgcIMngWScR9GymvZtVeToaQHomaPHg/EpoXZGPpLTlOI0mOLMj2RQLbY/TGGyosI0moH3kNU0ZQM+jQFXpcYRYNO/e6NkgfMgfwMgdgSVTmMgYgJ4lzSccnJplmYRP3QEc1MYS2ScfcZOOPNGhEYRMQJhl3NzfvDdp8HvlTEDp2SzPOPtfGMviTEDp+LMlbO4f9SkHZScNwI7h5O4hlSVOUO4UCScbWFmnZO4ffGymdKHluSkTlLMlAYROPSVTEIdlRSVdxC3pXMniDaaVHFIpcNNhrI0mkMYjYJDm7OwcsedQdE4pxThVVOSgGEDp1I0mNMggGFmpCO4cyIkmWNNX6MggBMnjQSVg6NzkQFAplYZHXQ5XmMgfCOwhVO/a5GbnqSzVQNNfpO4WUO/emHgmCOZXmO4XTSkSBFfnqO/i4FfpdM2eVFApiDVp1GjpLD0o8H+nwGbnKPWftJpmcGUomFuo6M2hYGbmgO4jgI0nII0m3H3mrKAlSMnkhHooLGjmlEap3HJoJF9pJNzf8MYgHD0pXESp7SrSSI0mgQTMnSVfOOhjcMgXiMYimEaoMOwdpScToO4gzO/XEH+nFSrQ3FfpPScR5Hvn/ZtQpE4pqMgf0Y/WPGForOhNtKAl4MgeSMggLFfpNLTmMeGU1JDmYLMjXOwayNVelI7jxKHkrMga9YgJvGjmbPHiMJDmJHYopMnhMDOqAO4PlYZNhYZNub9JpNdjhESozYoJJSkXmSVWuJ4mCJDk+HvnODsp1YZIOI0i5IVmEMgg7YZKxM2doJDmaMgfoMJbkLThpSVexN7f0EiowLMi5HRoBODaXO/dXPmeMLMkHDlpQScQYEDp7SkXrJDl+MYjYKmksPHeKQTdDLMiXNsWJPeadFfpcEDp3NGkHGbofLMe9JalyJxkLNkdsLbmdIkkPLbdXOwZJJDmyI0kcSVX+HRm8M2iMI0nESrTHLMh7ScTpYROvHRonMgbQSVcpGbnaMgfXFAoSTCTWJKnbMYi1JDihZ8SAYoPxJDk3DOp3NzguPHZlYZbXFfpNJKmISkQkO4hyN7e2HJoEHBlDGyogMng0ScU4JDkiJpkjLMljLMkWEap1ODe+MYk4QiVxMgikEDp0KXjAGblqFPoDJxh8PHg3LMmGI0mYSVZ5MgjhOwghEDoQYRVxYZLpRYdQJKjTYZLwDsp2OwacODeaViTmLjdqLMjIPmkuRvZHLTmELMl7PWiVFApjI0kkYZSzMgfsO/i4Mgi7JpkNN7dRYZODSrMdNsgCLMe8YRKTGbn0FApgMgR7G6miOwWWI0jiQMLdI0idLTjuTCMDG6o0PmgnLMhHLMkCLMjAQEdiDVpreOQxMghGFfn9MggcYgKcZlLdMgiJFXoNMghzSVUwI0k7FmoUMgk0ODfhMYj2H+m7ODW4I0nKVqclTCg3Jxl1LMh9ESopNGb1ScP/LMfLNsiqJDk5FXoNPWdlODfzZ8T/PebpaDPjPtlDEDo8ELoiPHeZFXobY/PUSrcmYRO3I7h7Y/UcLjm4ZGHIQ5cUI0kbYgIqFuo0SVfUScZPLbhSJDnOI0jCLMmlGroXZtIBC/pnZtS8NVd6MYdtMnjyScW4Mgh8M2h1HvnTI0l5I0mRLMlzYROAJKl4PHTRYZP+QTXwYRNZQbexDso+I0nlOwhzYgHdP8fYZONZKAiGQEcgOwdfTKPMJxlzIOk1YRN8N7axFXpXO4hEE4ocODfxDdpyH+oaNsi7PeWmSzShNNiXJhhDI7iPF9oKMgg1MgeVEppzMghQSVUDFAoMD0pNScZOLTjmMgPQNNe5SVdqHJn/FXoTO/l3HBoXYZS6HvniPPg7SVVrFAoBI0j8LMldJKl3SceVSkR4Gbl5Q5eBO4gZYgSzTwY7PtWQThe0Nde8NGiqJDm/OSfTEDo2M2kYNVbvMgkoSVS5PHeOK1enYRVUHRoHLTiCHYl4PHfeR+ghFXpbMngrNzdYKXjlScLhYoUkMgiGO4hlE4oiNNk5ScWmYZHMFmpPMgaTDVpYEpprI0kUMghhSkeYLMklN7htFfpTSccdM2hqdgMDNsiGIGn5IdlaFfpdLMlZNkiPToZpLMj6FmnvMgeFJSmBOKidGbnYYZOoFmpJY/IaI0kWYZS5LMgGYRNGI0mbMghUaiX+FuoPMnfEO/b/YZLzSVW+JDf1Mnd7GrovbQRKKHlGFfpPMngGSkeKMgjDDVp9NdiFJ4lNMgcuU0bNLMkZYZRLJKfJNdj2EDpAMgf9I0l1ScP1M2XgY/UdOwjmMYk1YwN5MYhlYRLuI0loYZT9OSW3M+g2HomZdZKUa5O2HvnOM2cFL6iKI0iyJDk8JhmIRfcgQTcFJhnBYRRVGbnTESocH+l5NdWBQbYcYRO3OwW8JDkPY/LqU0ReSkYFLMmjJDk+EaorNVd/YZJQI0lbHok5JSlqOSiBELp1MgjFJxjxSkRGEDo7MYaNFIprNzfWEDoxYoPDFIprNNbhQMitI0jaQEN2SVZ2JKmmMvjOExpoSVXAMgh/ScasNNhlJhlZELovWBO3Epn1KHi0LMa8DVpvScZlYRP8OhchOwihOwhQMggJHRm4GrmYMghTJKk4DOpsSkXcVEVjScPpHolXMgW/TwMIPefBS7ReHgngSVZUNNdbExpqMnhhNVkGMYbaMgiEZ0VsDOpqNkiOSVNOGbopHRmrD0oxMgjnNVYuL6dyDOppDlp9ScaiS7MdDOp3LbjWI0kKOweDbuH9LMiwFPpcFXpbGbnJLMblM2e7EipxO/eGFupOMvlII7lZSVPpI0lXYZW4MnhCLMkePHetMnY+I7n5O/j+MvisOwgCDdp2HBmSYgOFH3lOELp7YRJiNddVYZTUYRHQZtMUYgVcLbiUP8QBG6odMYkWI0lOEDp1JpkWGjnJJSlhSzLUI7n1SkUvI7loSVOkKHkLYoMNJKmnY/NrSVWeDspBMYfDSVe5SkIoM+fLJSlHIOnDFfpmO4b1ODf5N7c/JajCNsfuLMd2ThcjU0S/Fmo8SreXZWK5I0kzI0lEMvetLMinO/jPSVV1LbjWMYcqO4dIN7SNMvcZHJohMYjiM2kiSkXYEipwHBoROZZ6Mvh5GbocJSlPYgJDSzfGScYaH3nPOhfDHvndYZYHGbnkVLTeOwlJGrmVYRRxN7gmL6jKScQPHJoGKAlKHYkhGbmwLjj9NNftGrnLMYUjGbo8YgL4PWg3FXnBP8YZMgbaNGiKMgg5I0mbMvUIM+eVHBo8YRJOScPHU8Z6HJoRYgHnHJoEJalsMQj0I0mUDlp5IGmDMYcAScaCIOm7OwWQMgh5PPiGNdj0T/PROwdDYRMoZ8KNHJooNGj2HBmaM+jEFXpiJSk0HRk5GrnJLMkAO4fSI7joPHjWYZLOScaGNdhjNVfTJDmzGbneSVMLO4gPIVmwMJjXJalfLMnBMggEJDnCNskvVLLRLqmcJDkvFPoBF9niM+k4M2hFSrXQMvduJSmHI7iEGbnEMgicI0mPYoQAFPpiQie3MndHSVXZFmoVOph+SFeRScUQaxKwU0YYYZNTScWYNdh3NzisMgiBMgg3HgmtGbmeYgMYMYfsM2TNLMisI0m9LMiyH3naOhWZOwPjSVbsMviLJDmdGFpEYwS7O4ekGjm0MgfZMnj4D0pEI7naQqdJYRT3SVYsPPeRHRmKI7g2Y3KHO/grUtOhIGm1Gjm4FXnsSrVoGbotNsjXSVTfI0mAFPpnM2ejO4hTMYcSI7jbGbnxScYZSkWlTwixEppwSVY/M2XEMngvJpl3FAoRHBlrLMf0LMlhSVQRZOXGNdhSMYisJanTKAm3QEcVVEctELp1LMlLS7Y/TKWyMghwN7hdI7lMG6oZH3mxI7naHvluGjmdM2jMQieyI0k6MgjSOweuO4g2M+bYDdpnYRJPHvnKNdgeMngTN7fwI7lMPeZoI0lkI7jyOwWQGrmDGrl2MggPFXnvOwdLJDmkKAlqYZQRHYmzGymYJphnMvU5NdchMvgkGjocJDnKZlJpMYiZSVRfMYdTOKYASka7FXoUcrIgVETIYZNWPWeKFPoCGymHMgkkFPpfHgnqLMgxNGhSFXpmD0p3LMdESVeUPedGOwbxSVa1I7kgJKm0SkU0QEeCP1cpO4jhMYe4O4ejKPl0G6okYoMrGbovMYiaHom9MYiHMnhCUHWbI0lqMYf+I0mFPWZwScTDSkO1HJmPGboyP8bXLMl9LTkoLMljFfpVLMfSSrS2YgH/SVSuGjnCMYhCRnT3MnZDMYdPScOQSVa4Epp8Jpm+UtPgO4YKQyjeYRQ3M+fkPPj1YRR3LMk/NGeHD0p5RBSyYZQNYZVfJDk0Mge8OwY7FmpGMgdXSVIlGjmxESp3ScJvMghVSVTZM+hYSVT3ESomS7cDMngOEap4LMZ/Pea3GbnBR+WSGbotRfScYZVjFfpOZdIzLMkFFAoKNzgxO/dHNsjlScV8Ljf/Hvk/LMiTYZLjPWinVbQpJpkkMnZGI0jREDo1ScUFU0WCLMk6JamAL6j1DdpmYZIKLMiHDOp2JplKI0lxThcvYZJgEapxK9lASVO3SVWOD0p1JalvScdvPeRNLMmfU0JrJxlnM2gDM2dtOwW2LMiZNkf8PmYHNGhTFIpdESoCLqkHGymNFmnoLMjwYgPoYZJnJDmwLMlNI0k0Y3LmKAmbScUdOweZY/NWEDp5ScTeJpmbNzjsM2iXNdgzP1WvI7ljI0ktFXpZOwfjNNdvF1o8MvkLOwRpLMnDYRKaMgg7NVghLMhFELoyEaoeMgiyMvibOwYAFXpcLbi+PWXKZGRSOwfuYZP2NNdATwZdNzcHHgmQOwf+MYjhYZT+YgUIFPoCPmRhPWfaOwh0LMgQMgfBJKmbJhmGI7lpLMdAYRJcYoPmSVVoMgfBScgxYoTiM2hJGbolb9OgMgguFXpaYRJhEaoEGjl+FPm7MvhxGbnBNNhwThTmMYhHFAoaGrmnMYmQMnarJDjwTKYRHvm1EaorLMdPSVYANdiBOwdULTl8MneFMnc0O/XtZ8PTSVWhNzkHNVgGLbkCYRR0bAW/IVlwD8p1LMhWM+i0SVTmO4eIO4aaScc+LTZ8K9loMgfQFAn+LMlbTZJtO4eJJhlUUtTjMghMH3ogEDooPHZrO4e/YwJAI7lTMYifScH8LMkZI0k1Owf5YgQzMnflOwcnD0pRFIoZMYdeMgk/PHa1MgipFPpgGbmaMYcMVbbVLMiNQqbcJal6NGl+DOpmMghDYgSAGjmbIdmSI0nVMgetThX7MnhBSrIbExpsTwgKHJmCI0k+LMlQNzbrXFeZODhNKHgwI0l0Pmf3I0jyELovScYgOwTVYZNtO4YyLyhbGbnqJSnNJKj8MnjNMgjmMQVGO4TUSVfvScOyO4gaMYkhGjonF1paM2gUYROQSVYRZGTUOwc9I0kqI0mJGbohOwe9KHlXSVTWM2egEipuTKSoNze/SkbgEiojGjl4Owg5OpY4JSj4M+mAGyowLTjJSrSMHRmiMnc2I7kFM+iZMYhGYZKNMgfQI0kyMggdapK4KXl/M2kfEDp2E4oMOpfoSkcqPHb7Eip3O/eSa5S7I0lxUtQDLMjkYgMGJDjoMYioDdpoMvgtMgjTI7hYEDp3Hgn8HJoMGjnIMYkxNViJMnbVLqfuMvkBQqdxNkjcGbngMgYMMYfgOwezJKnMKAlVO/iaJhjQapLxMYf8PHclYZOvLMchNNc7MnL8FunJM2g2QMfGO4hFYgHqMYddY/QxYZNCGFopYwRCO4hRJ4miRIPMOShDN7gaMYeBaDPtDOp9OpdDYZIgMYgFSkS8T/RCMvfXMgiITRZhDlpGLylASVWBNNk0LbaxQEVcO4ggQqWcHYoVEDoTSVUoYZHsHBoUJhlBMvhuN7aJNkgESVRDJxlVSkM+LMd4I0lHYZOaI0lDI0kbI7m+I7k/I0jjLMk3FmpVSVZLNdgxFXpUKAlvYRT1D0pOUtTnI0nDNNdCGFoDMgYoNGghFPn3XNQ7LMhTGbnbI0ksScNpYoQDNVWIKPhvNdcsGbnUMYiLJpk7EDo5OweBLbhbMndNYRJKGjmmMgjqGyltYZKgMYU4ScZpNka1MYmJNddQLTjpMgj0MYgbTwS3YZR7PtexGjlQUWZILMjpU0T0EDp4GrmbDVpTThfvMgiJMnQWMgbEI7jhLMkuEapxI7jIP8d0LMh/FuoNH3niEipvMgfOMnYYOwkBI0lXLMi6PefRJhhhI0lpGUo5Eip8Fun8SVN2LMhkL6c9GFpKYZMFGroqYZKWFfoOYRZBHRmjO/cgEaooNNkULMhWODdKYZOVSkdOLTiLNGcWH3mEP8fWScf5LTmCGbmbTRWdMgj2FIoEZlMXM2iIM2j/JKm7I0lfPmgkFfpUYZRELMkfYgKBYZNNMvjyM+laVbW0MnhGYRLNE4oKMYauJ4mBMgkBMYiOSVYILMkGKXjvLMlxGrodF1pPMgguScc5PPjaNVfPYRR4DOpuKAk4OwkYQEYtLMlJScTnDVp3MvkaGjolYgMZLMlLY3HGDdp3KXjsNddlMnkpNka5O4XRI0kRESp4FuneMgdnMvXKI0nRLMhBSVWqMgdkScUbPmcASVIoLMk7KemHF1pDScd7NGcMFXpkI0mAGFo5PPh4Szg3ZGHhLMjjHvneNkczbfUtFPoEO/g4VTSQToeLJDjTYRSdSVaXMvgQJhlGP8gkM+f8HYoCYgKXNVhoMYhPM2deGrlTLMh2YRJxSVUZSkMKMgiYMYbVMvhjOwjqHomJFApka5I5GFo1EDp4DdpjJplaLTiUTZeWJSmtM2hAOwehQEgqOweSMYizSVTQY/JrNVfpNdj0PWh8Mgj3UtSIOwjWScSLIdmXG6oOO/csJhkeNNSDHJmXFXpUZ8OOPmcrMYkwH+moVTd4G6mTExppMvh5MYerPHaASzdMEiptHRj8EDp1ODiNGrogSVLiZlL5F9o6ScXFOwTmLMfHZ8WQScbjMgfKO/YLHRoNM+VSF9niPPS1O/RgP1f4axHrGbm/MvbPDVpnDOp7QbhjKAjwNkfTS7dWY/LUM2gWHRloSVQCOwdrKHmkYoPsHonoMBg7MgbKQEbVMYkCMvezEDp1Hvm+HvntMgkYYgWEQEcUMgc+ThQ8EaooMYhaNzeLaLL/HYkFI7nFLMgYYZQlRBhWVLbjMnjCYRTTKAlGKXlALMf2SrV5ScXFSzfrHBoQYZQsGblAOwWDODa+JSnVYZISNscyYRMCOwhDOwfFYROnLMmfMghhZlXfDOpwDOpiMgb1MvhxLMlIM2iAQThyO/fLGbkoKAknNNgnNNjuScOQMYktEDp8M2e6FXn/EaoHJhmLPtXVQEh6I0kmGyo9LMlAPHfsHBmRGjpJbXPFODgiO4g9MnixI0kXGjm7FfoMUtXGHonwYZIxGbo3N7dHE4oCYZQsaLIhNNiCHgl5I0nGYZLjLMi/ODYTLMimdCSwI0nMNNd6LygqI7nfPHeTScYPNdchUeZ+DloqYZMaLbi/O4U6FmnsJxjSI0jmY3SCLMmSSccCJSmoM+jXI0kmNzdmTKafZlSSVLUmO/gsY3SeYgVYGbnJSVR1ScRoDOp9N7XLFXoLSVdbMng0M2cKNzhHIdnLLTfKYZVWScQbYZQOJKj1OwaYYZVwTKZtYZMrMnZoSVbtGbnHMBk3YZORI0lxMYmULTjjLMcRKPkmQTg6M2j3DOptJSjJEppvDVpeIOnwYgIUYROWOwchMvfcYZPFEDo5FPphMne+MgdVScQqSVTTMvYzYoPbNGbyMYkBI0l3YZQZScT1LMebM2eLOwhUGblaG6oTO/WUKHkOLMiJScfYLMlOLMkZTCdTI0k6KXliSVZ+YZHNF9o9ScVEMYdHU0aEGjm+LbkVMgjkc6IXJShWYZQRSVeFELp5LMlhGjmfMYdDDdp5FmnmI0nWXFRSLMktYwNjJDhHMgjOJDkMYZTyXkToLMjeLTj5JDhuI0k6LMg5Mge9MggsYROMLMk0SkNSGbosI0lkPHZUO/YTSzd4YZLrKAlQI0nQI0j7ELp6MgjPYRQKMYm5MBfDH3ncSchuJSmyLjjcVLLhELp6GrmCIOniExoiVEWxMYi1GrlzOwVCH+nhM2iKYZNhQydgYZLsRYe3JDnFKHmENdg8PmjkG6ooEDoxLTk2FAoIbfO/DVp0EDofNsjIH3mePtgMPHcREDp6KAjDHoocYZHRN7jQODP1LMlLI0ndMgbqUtVsNGgkbQG4SkRBQEe1YRMMJhk0OwcgYZJ6F9pWYZK0OwZhMYhOJxlOQMj7bIIxEDp2aDOgESohGjmkSVbVMYgeDspIMnk6LTlHO/ZnPebAOwbiY/LZMvUZI0lMO4UIZ0RnJDnNM2UVH3nBMYZ5LMmGEDofNzgiZdMiMggAFfnbDdpgJaiWG6ovScZWNGifJphQScYpLTfrNzjRMYhpS7X+MYfhJ4mKDOpLLMeGDlp5LTgZJxi3MgdxI0mBNGe4OZeUVbchM+kWQTfwLMhXLMljOwW8HomXHJoMU0ZAdRHiLMlEScYMapMXDOptI7kLPHXmMgibScRUUtIcDOpvM+eyJ4loH3m4KXiPHYoPMgkXSkR5SVcVYwJsSVLeI0l6F9pMTRV6Jpj6Jhl4YZNyELp0JxjkYZNjScQ4NVlKYRKAScamZlX5MYhiMgfrMYdJYZMAQqc/DVpbEaoHScRVHJl1YRT3NzjTGylYYRHkFXpkFmpGScTkDVpdNNi6E4obb2U3MYeiLbhnOZY1MgjUMnlKPWfnNdkWLTjyPeZ6MgkZExojM+fSOwiPYZRaYgTRM+dNI0nJJKmVMvhfLbkWSkYhGjmIM2lHWuPAMgTzGrmdHBoWMghqO4jxUtHuMgi2MgfALTjhYgYrLMjkYRavMYbUSVZbYZPeQ5daM2f6O/a/I7jzHRoLP1aKDOp1TZVsQTbISVOpZGN/PmfjNsi8FPpjDdp9MYjzP1dySkZjGbmuO4g7F9nmMgj8VERpYgQrExpnO4f+MghhDdpZLTk0SVMJMneuFXnXSkMTDOpyODgTJSkmScY8Nda8F9pSI0n7MneSUWXrYRV8P1KPFPoKLMjjIGmhMgXcM2cpP8g2MYj8M2haJSmgDdpaDOpsNsWgTwXyJpk1YRKfI0jwMYfTNsbwO4UWMnbGFfn4I0lUMglnPeh6MYiWMgjwYoPGTCa1LMhzYoPNGjkXUOVzSVRHOSd3MYeVH3myJhmRSVWGNGc+LjiKW2LYOpgsWfTlLMdwPPgHQEZRLMfhJKjCFPoCLMl/MggjPHToYZP0LMiGSVWhHgoRMvfWVLUsOKgFKHljODhEGbmdMgfCMncGSVVbYwKaMvLzDVp0Ueb2YZLkI7j9SrRcM+kobuUaMvjLSkYkNdfoJDjjLMklN7m9NVmsRvdnDVpoLMiaedHcFAoaHongI0lxMYkeMYj7GbmuD8pEEDonI0kEFPprMYdjNGYnMghFHomJODZ8I0irScYSMgfxMglZM+dmMnj7QidxOZgxO4jnMndPJhj6GFngLbibI7kiScgWODfYNkZ6Mgk1NNcJDVpgM+jpPefVMgkGcFUBLTmHFIpoL6gKSkPoI7kgESoVMgixQyRyYRK8YZG4MYkfHJjyMnflNdeSDOp9TRQ3Gyo5DVpzYZLlDOppMYhNMgjUNdhfI0liYwWhFfoIHJocOpjFI0ksMnkOFPpdHonpTRV4HgmnToYkPmdsKHiBYgK3HgmjM+i7OphMY/NUI0nFJpmEPPWyJDkRLjguQEZOLTisHgmXZlJlJhi6JKkkDlo/a5LiScYsZlUISVfcOwW6KXmuLMkeJ4lzI0nVJDm2I0luJ4kAPmbOHJmQFuoFSVZmKPjgMvYIODg1NzXwMgZyIOmAJKmvMgimNkhKJamNPHVGO4iGHonoO4fzI0lXdCKUN7hVJSmeGUo0KHlpY/O2TKH0SchNN7fBTKeJGbneSkUyYRPfKXi7NVhxLMhiMgiVSVgbI7n4NdfILMlnJaibQ5fKSVbVI0jAJSmcZGJZOhQfNsZBNkfdSVQwSzSXMgirPPYJMgfsM+jDLMaGLMleHgoGYRUNLMeoDlpZYZTuDdp2MYhHM2hSDlp4H+mSMgldY/SsLMkhGjmuNkkSJSm/SVVPTKKRDdpeSVfGMghSMggvSVUQSkVTQEbuMYfiJhmKIVnNYoOmMgjLSzdMaTMQOhfMSzOMYwP+MgfkTRckYgKGWBIVYZOcOwfNM2kxRIfQSrZTSFaVI7gkFXpgScaqQqTsSVOjK1lWYRMaM2huSVbqPPkGKXlpTKWBGborJSkoM+dxMgkNZtH4SrWTLTkqO/jWNsfaJpjpNGkIYRQUMgiOScHIKPlbMgkPHRkHMYi5NVf1I7g1LTlnOhfoPPczFXoHSceGapLTI0lHScW1ExprT/QDDVp2ODPFI0lWMgi1MYkPH3l4SkXaH+nXX6VaH3lZScTNYZYVO4h3SrTNSkZ7ODjnSVbGELp2O/giYoJrScXzPHecYRKDNVXsHYj/O4fjSVVSJDkEOwUUaxM+MnlYJKkjMgXCO/cjNGdxSkPkExpqPHZtF9o1axWKPWcdDdpGY/R/JDkdYZL/YgJ7OSbxFfpfLjjgMgf+SVbfODgqM2gaScR4ESp3PPKwFPpmXUYoI0kOMghzGbnDLMleN7fvMYjdN7gBScNgYZQVLTkUI0kvO4j1HgoAI7ncYRHkI0lyPmj+SrMtIVk3JKkca5XrOhebO4fvHompFupUTRP2EDolSVXpEioYJpltYZQ0ELovKPloNzeHSVYdJamgG6obM+XULTjiMgcbDOpwPHfxM2fkN7a0HJoXHgoRLMi/Gjo4Sca+Z8KtMgfuNdWHDOp5LyexYRU1FAoBYwNbKPiZSVMsMYcrR+dUFXnrSVRGLMlBHolxSkasSkX7Mne3Y/RBH+oJKHlgZWUMSVabYZS4DOp3Nsd5UtdRYRLhMYdvGbnaI0kYYRT+ScKhU0aFF9n3Mge0YZX2KXlXLTiqYZM1NVaWVLWKPeZoMgiaI0ivMYgSOwasDso9YgSxPegJSVMVMnmENdbpNGePMYhTDOp/XrTDJSiMMve/EDo2O/SpHolQN7dENzbwLTlTeVOSYZU0OKdVELp2JpjsPPcXIsiqPHihScTJO/dFJ4ldGbmOI0lUGjmkYZYHMgh4OhfQEDp9M2eUGbonFPpgYRNxYZMJNkcrM+ZOFmnPMYilEpnpO/TYPWaEYZbcYZQKOwgNQTi3M+lDYZOCMYbOJpkxMglGSVWjMgl8SVdgO4QvPWZhSccQLMiaLTkDDOp0DOp8I0jdJhnFJSlBMgiINslDODcUI7jzMgedSVWGFApkSkI4ScaweVOVJam7I0h2O/W8LjiLL6VqMglCYZIUI0npHRmQPegYPWeeMBjuMvfbSVZYDOpvM+fmMgfaFPoDFPoJYZPYSVXreORUFmnxSVSeI7jRNsVTNGSVKAjhNkZQOpe9O/QrHRo7MgjQD0p8YwQ/LTgdSVJ8OKeXMgieOZcCGUpLH3nsMYeaGjm6ScWFHokqJSm+FApnOhbTOwYjH3oSMgf2YRVXYRO+MnmgMYdTM+gxSVbwYZSiYwH/HBmLLMiHScZDThbiUtSDNNdKLMkkLMhoSceMI7jrHYn/YZN9Qbg4YgMCFupAPtgjQTN/MngXDOp0MngDEip3SkQwSVUpOwT8QbeCFXpsYROuNzUcMYY8MgiTNNfRLMijSzOfNkWBSccRYZNTMYgDOwclYwTbM+dvYZP1NNiTHgnxNkbYI0lYI0jWS7Z3KtlgJSmhMYeJM+g2HJmFGrokTZdwJ4mXScWEYZNoaDRXYRYYIOmPI0nMGbm1QTeHIVj+YZKANka8GyocPeegESp5EipvLMe9U8PmKHloJDkNPtTxI0k9MggHPmYKPHawNsbVYZK/O4b0YRO5FmpPHJlMI7i2NsM4Gbm8ZOKGMYgdDOp1Hgn6GylOZlI8NkabMgfTJDkTEDouEpoeSkYdP8hcGjmeGMpPFPnqJDkgJaiFI7niMnbVJamkMghjGbnaGroiTRWERQhvKPkrJpcfU0SkPmZyHgn7HgoTMvbfXFVOMghrExp3FPoKScQGJxmKMYiVT4P/Idk4PHVdSVcbMgkhELoMNkgUKemkYgRSODbtOSioMggwG6laJDkgMggnI7iwTCTtI0kTSNdvOhgeYZVgI0j/HvmZLTiUQTcuYZQzUtR1YZOdUHRxKemHLMnPOwjgFfpfScdfKmkrYwKXYZLHFIpnLTlXYZK3NzgWJaiPScSWOpdfM2ctI0kIYgISKPhMScUVI0lbKAlpNdiORBhHGbm9bQL3ScYmQifTLMhyUtaAYoRmScfQNkkKSVapToaVLTk5PeQJYZIcNdjfSkbuMgegMYc6OwhkMgdYYRXqSkP6FIpjM+i3Mnc6ZdQsYoMDNdfQH3mCYZVvMYXNJpmMNscWNVc2MgiOOSj0NNkoSkZ3DOp0TKWGT/UoMgcROwe0KHj/OScMELnpJpjfS7MCSrfJHBk+L6kxNGiVZWWLLMfGS7ayJKm8eVODGbnTMYglESonG6jzNVe3MYjDSccRSVQGOKiuSVWBLyb1YgYfYZOUDOphMYjjM2e4JxmgLMklLygAI0kGLMl0DspPELoOZlUXI0nTd/MJSVQhMgesMgk+MYhLYRVUJ4l+I0khPmfVMghMDVp3Sce0T/TIZWS1NzhdTRaNOweYMgh2N7ZfM+gYYZHMNkltMgiOMBgqGrmcPeeDHRmELjl9I7ibYZPCS7fkFInqLTlPGjnDN7UWNNi1GjmuNkZPMgjHSVKEMgfOOweiMggPYZISNNfEScTGMgiYScaOMgV5NzhxY3SEbQQBO4fMOwUYDVpaJhmMKmlxDOpyOwgwTCTHPefTTRHpKHl/JxlUY3QRZGJlFfpZSkaJScZ2L6eKNsZKN7hsI7nuYZPFNsgMNzhVMYavJpmgZlL+O/ahELozSkYbP1hzScftMnYIHJofD0p3SVVmYZLxScWMH+lzO4aEU0VqHvmPPHdiOwbSSkc2UHMdOwZ6MYkGMYjLEaocSrcNLbk8SVUYScOFNsSBI0jHMYhGMgbRNskuRYg2P8d6RIa2HvoSYZZELMc4JDjjPHduTRfcM+d/NkeWJKjsHBlRKAk9EppvNdiUNGjWN7jENGkHYgTlQbNoJKk4FfnlNNg1HYjeYgNNLMj1LMbNSVdEI7nfLTjxELp1MJmxJakPMghecFKobQUZMghGMgkKOwbfDlp9JDjYOwcSEap2OwhAMgexMggzTZgfO/j3ScHpYgNrNdjSJDhmGrmYYZUKFmnwYgMlJDnOHRoKHRorLMgvFXnuLqkHHRoYNdf9EioJGbnCJxnCFPoLNNf4OwetOwbFELp5Dlp6GbnOGjm8PHg0LMlLJSkoDOpvI0j3Mgk4MYhoScewMgXUEip2NdkfY3XROKhfKAlcOpfnPebILMeiGrjOYRLRI0kNKHjQScYeSkXRODfwODi5FPoFLTkHDOpqZ0RPOwYiJhk5E4ocMnk3LMkNScb5I7iQJakzQEgpMgedOwfTEppzNGYnJhjpOKeHPHiFI0lOFmphMgYqLMmwI0bmY3QCMYjZLblWC3psEDo5ExocI7nfI7g/ELp+FPptNdiNNzlENNiBTKXzYgPUMYh8G6lgJDkAI0kaM+eSPHUUMggaNzfCDOpNFXphYRKaS7O2Mgh1V5T7IGj2Y/RuNdjDLMlOLMlRNdcQJSkbYZUuYgXFGyooNsi4JDjkMYi0YoV+FPpeU8KzYZRJbIG8EaoQMYdCG6oUQbc0M2ffGbnYLTiwYgNwScVcP8eaM+cZYgKYNGhGSVPJU0UYLMeWGbmhSkQUHRoNSkYpYgORJSkLLMexO4fyExoKTwPvOwZxRYTySVPAMYbYODcZYgUGELp3P8gsSVQvYgKFH3n4O4fJSVaHYRWIUtTIMYY1GFnvLTjjYoNLJ4mQOwXZMvkIGFoxMgcjSVWaMggyLTifGyo1RIQaTRUaJhl8Gbm9aaP/LMfkSVSfScKzW9SODspUI0k6OwhENNexGjmcDOp3KPlEMvkvYRS+SkcvO/gGScRlOwgYSVWzJ4luPWhdF1pQGrotJpnXN7fbToUNNzbaJpjENNhySkJuPWdrLMmJMgfzMgkKYZS5KAkuTRZdM2biYgJrODZwYwRAKXkRFun2MgddMJkBSkcGHgoUZlKWLTkNLTlOLTjQHglXMvemEanvEppyLMheI0lQL6iDKAmrO4VPToQCNGjKNscVL6mEYZKwP1c8OhfiWuWoLjkIU0UWOwZ4OwXUM2abScdGSVLXO4gfOwiNYgJbMnWiYZR5O4jVSkTHMgg+SVcSSVhhGFpCYZSPOpV6OwSaSkQYNNjoYZURPHj+MgbxMge4JSkcHglHYZYSLTm1QidOSVXnbuOVLjlZNkiIScRNZlOjGbnbH3npSVfZNkjTFXnmNzhyZ8QhESp1LMh3LMkfMgZcLMi4U0OnKXlqYwOVVTPCMYk0TZVCYoSnYgPQScdkPPT9dROcDOpfZ8HDDOpqMvZeLMfkKAlrI7jFQTdMOwZdYZIBMnb4LMlcYZXGFfnlYZTxMnjUSketMghDSzSSMYY9YZKMYZQxJhmTYZNBY3JnHgn6NNiyO/dBMggVO/anFPn2SVikNki2Q5gtJKi9EDp+ScdZYgSAJpmZO/hAI0lVNdgtScVwScc7FIpsQMgZPHfDEDn2I0nSPmdbMYjaScMlO/T+MYgnN7jyKek9LMhwO4gQMYhRLTj9MgSoJxmRKmnFUHVcLMlHMge7SVTGSNiCTKVrMveELMhcedOlNkjTFXpdG6oVMgimDOpvGMo7LbkSSVTjMBjgU0P0DdpRLMj0MghhKAkeY/TUI0nUSVMiESp4MnksLMlWMgZbESp4GbnPKPkgOwfbNGhLYRNBZ8OcLjiQMgh6LMjKELnbNGihGbm/LMm2PPh4SzMkI7kIHgmQNdhxTCQmT4MjEipwQ5eTSkXDO/dISVfADOpeScInYZQDN7epP8d8KHlvTwWBMYkZLMioI0kZLMi9H3kqTobuDdp6PPe1MYd3YZLpO4cdMncZYoUHFmnqI7kSFXnjMgixMga2MgkzMgbHPPekJKnRHYonHomfH3oKEiocScKrHglwDOpvMYcXLMewHJoyYwLrMnkqEDorZdR0OZcWNGWiELp6PtRSUeS7MYbJRfcFYRPwJhkkMgXMMghVKAk5JDjcESoUI0llMglZMYbkRvYLJKkJScU8LMhfI0neDOp7ScTbYRIzScbpY/NXSkMBI7hcNzjTMYiLI0kLapNsMvkMLMlRZlTMYZMTLMnBELp5RIfLScd0OKicO/ahZtJqMYhALqfSMYjEO/eyMgYGNNbwSVcTJ4myUtSXP8gXYZOaNVhkLMi4YgSpZtKAI7jhGyo7MBnMHJoVMgZNO4clcrM7H+nqYgWaNNhEYRO7U0UOFupJScYFLTk/YZLgD0p9O/UoJ4kwNze5ZWJlM+cyMgZlIklFI0kkMghZLqiMI0kGHYoCO/coZ8HSSraHFIoKI0kwScYFN7hmOSa1I0nvMgfgMvdLScUTSVYTSVXiM2dLI0i7FupEMYgxHJmIO/iKYZRgScJVccSeP1QkSzc1EioELMfsDdp2QMXJJpk2LMmca5JgP8eUMgkhNNg2LbkMYoNrJxjdLMkuI0kmMnd7HBlgNGiYYoRcNdg7YRT+YZLAYZMOOZjeJai3MYeVLyfeVLSgZ8QwYZJwJakUFPnhFmn7LMlUbQNSNdfFXUc3bAOUOwZwYZTPM2YzMYhqLEivYZNiO4cBH3nrJhesLTlJZWRZNsXFOwcpScdjScTLMgfUYgNnYZUPEDp8YZOhMgikGFpUZdK5UtUEO/f9O/dCNGhEP8fuSrdfYZXjLMhoYRR3LbjrMYe8LMjVapRcSVaBQqe3ZGKjScboFmpOLMnHLMirMghWI0kmYwKYDdphDso+PHhcM2dVToU6EpnwYRHnM+d1DOprSVQWH+lFMnjiSkXbMgWWM2j5JKnUc6JsLTjPYZUZScYSFAplNGkqMnbADdpeSVRLYwSvSVdPDVp3OphjHBobY3HCeOHcW2QOJajFScahdJTpLTh5ScRxOZgYI7jUNzhAQMa0ZOQfFPpqPPfIKXkgO4WdMgfwKAhvSzeeP1byTwWITwZwHRlxR2SqFPpqJxmbExoaLMhfDdpaMnkUHJoQLMh2MgeCPtgbEDozTCU5dJN7I0h6JDnLHon3DVp8M+d0U0cISVM4KPnIZdNgMYg1MgbZDsp6GronP8h+NGaKSVYDSkT/MYajPeeeP1VAN7hCTKSYO4bHDlp3LMluNdhCYRLOOKbSSVM8MYkJLMl5YRWCYgINYgI8I0kkbASdMYhWPPdMMgg3Owg/SkZmY/MPS7ZKELp5MYU3SrS4YZTsNNksMgkiV5UNSkWwScVUMYd8OwYdL6lBGbnBMvjYRQgFOwXxEaoUF9n4ScaBGrlxMgi8OSgwRBd9MglscyaMM+khYgMKSkVvN7gPO/cuPeceYoOXJakGPeZjGyo8SVM9LMnaScchHon8JSjdHYoHYwM7JDnoNsfcLqh7JhkLKPlINsdnbQSLaiSMP1hHPWV8KXkISzXTKAkANNg2O/bgNNg4Owf4ScUqMgbFRnjBP1e0ESp7MghxFPpiMYd6Ljj/QMgMaaTBMnfPNVdgIOmHSVfkMgg+EiojSVbqZOYONNkBYZNdDOp4SkUFKHmmNzbrI0kgPeiaGjmzTZJTJxl5GymMYgOtYwLjP1gNQMbCJhnlMvj+EDozScSwScYdGbmhQTaQDVqAPefpNGeAScUYMYiNYZJkJanrOZZ8GMoySkT9VqQrSVhdYZUjPPiUUtOcSVT5JKiwYZPTS7TdYgWHYoWGYZMsS7auMgTTHJl/PHhfL6g/MgTKJDj3LMjdOwbLLbgyI0iOGjomJpk4Nkg5O/dcZWNESVXISVdfNdlOYZOkLMnCJpmcH3lKLMmeQTdfELocMgdzFXpmSVfvQTeDNVhZQihBZONISVKnKHneDOp5OwgBYgJiUtS3YZXAQEg8MYjDNGe5DdpJNzhWYoLuQMYSLjjqI0lAQ5aWSVUvJaj8SkgEMglCI7j8J4j8LMk1O4bBEap2MgfiGjmeLMknSkKlYwWCZdTaVLQpSVSoMYW9YRRUHgl2NkesLTiFa5IAYgQyH3oiYgMASVXaYwTnM+WKKXkHGbmcLjnNYZRZNkhCHgoaOwcdMYckGjl6YZPNYgL3KtkgLMjbQEi5HRl2YZPuYZN9ScTCHJoaYRMsEpp3YwLkMgjDLbm1NkgsOKiPGbnQJDi2O/UCMYe3Mgg6I7naMYjKSkWVLTewPmcPSkShKHkIYRN8SVf2MYiyYRUWSVOmVib6QMd3PHeoLMkELblYJSkUPebiKHlwYZJVDOpaYgIgaLWPM2i4YRQ2Rvh/MYcwSVarP8QdZWKuMYlUMghvYZHvLTkyU0S9YgJDJhkiGjokJSifMYffSkSAI0lVO4ebKAlzScaZSVSkE4psIGn+ToTUOpShLMkLO/KvJhkWM2faH3n+Jxj4LTlFMgS0Z0HIYRTaYZOAYwT4MYgEScggLjkVMgf2OwhbELp1FXnsSkTsedIRODfsTKb6ScPjTKbqScMYY/TFSVOFNGjNOheCU0NGUHJKOwYVMgfxPeRhYwYILMj0LMkJOwfbYZVPOwgvEap2JDnPExnweGSPI7n4FfpYMYXQScXvHYoCOSfhScW7ScdZMvkKMYjUYRROZlSMNscbDOp5MgitHvoCMglGScWmMghyMge8YZNuSVHgMggYTCdcY3I/MghyIVnRNGZ7YgLWYZIEM2l2LTfxGbm1SkYLJDj3HBosJhmPPmO7hFJ8hFJ8krNYfLOlgnPVewTnfzWvgYYOkNeMwGMO"],[174.00,525.85,"FfoHeON+I7mBI0ldScb6NGcfaDHBFXo3LMkCMYd1ScioM2kaI0mCGjmQMgfwI0kqKmkVM2k/LMbDLTjJScceFXo8Nkg0JxljHJmYPHhxEDpdO4bDGjniO4jHOSiJI7mZLqkaMYkSMnYtOwiXHBoXYRPHMYhpYZVOMgfcY/bwMginLMjxGbnFYRO+KXkDI0j6MghoI7kaLqhSOweKMYj9HoklN7ipJambYRVsO4h0FXo6SVWQNdhPMYiiMgiAVEOAEDpVExpLRfbZFfodLMl8NVjrIknaI0l5ScO0Mgi4LTmgPeZ4ThXUFPpOScX3EappGjoSGroBYZOcHgmlMneIYRJfNdj1FPonOpfFHBmHM2hhSVKNExpmEapqJpl8HJoNELpPLMj7EppRSVY5M+iPMgghe0VJJxlYO4f5PPgkESphMYf1JSkREDp4SrTkMYerFXplMneIG6moNdgrNdgpESpqSkZqEapcI0msLMhIQ5a/FPpDYZYTLMmCMYjnN7hMELogI0lnEipUSVXQJDgKMYZyHYoLO4eVJDkyNkfSYZRhOwXKSVdeJDj8Gbm1OpidaDMnSVPOEDpjEipCNsYxYZHPaaSBEDpgESp2MglSQbY9SVJLGboFOKXKTCYDI7lyJhk4FXpDMgjLNdayNdiZNVlMESo0MgkEUtOuSrO5Z8O+EDpyN7b4MgjyYZSaI0mCEppVI7k2I0l9G6oOMnhXHBmWLTiePPcvO4drM2abHRoBSkP/GbovYZUZHJj0GynfTCV2OSeoE4pSPHd5EaoxG6oBGrmjLymPOwgHGFopaxYODOpnSzUoNNeFGbmAEap0ScPYOwl2LTioFXpnUtP2GyoyY/N2YRRfYZMBMggaScjHLMhAZGHbUtUxE4pMMghFc6MqPmZ8MglcHolSFupHNNY0Z8YBNNg8O/diELpxMnlbNzi3YgXkLTfoEaphMghvGrnxGyoCYZRKLblDSVbQJKnBMnkOPWcvNNgwPmTDMgjiJDj4EipaMnfNMYj6I0lzSkKFELpuGjonEDpqFuonYoHmEppfESpmFAo6F9pMNdZmSVTEG6nOKPlIYZNCLMklFPo0LMWCSkdbFXpOF1n/ScYvHRnpMgatTha5ZdS/NdfSESpiPPjDI0m2bQKjQTeFNVf0YRZKLMipPmc6MYhDMgeaHRoGG6lhTZW1KtkscyIWEaptGbovODjOUtUaMvjZYZKHEDptHRnEFPo9MYhxOheZODjQYwVIHYoMOwh+MYf8ZGJJM+lOScWxEDphYRKMMYfZYgH+Eio8NsfaHYnoJaljELpfJKj5SVNLMne4Mnj3NkZ0M+jxHRmxM2khW2YcYoNcYoWtc6UpSkL0DVp3SkI8M2eeScajFXpLE4pZDlpdI7jXSVO8LEelO4gKPegMI7nJOwejLMdwJplEGyoBLTlsPPhCLMgHKXlfO4gFNGgZFmpGESpqEDpXELpOSrXEELpeFIooXkbjVLdDPmeLODhZEDpWHRoCMYlUY/LdEDprYRJDYwIpNNd2JKl5Z8KpJKkuGbnnGymgJpkuGUn2GrnyMniIUtMQHBnsYZQTEiozOwfrDOppFPoDYZTPaDLHEDpvE4pAMgb8aTJgESpOLTfINVg/SVeZELpjN7isOwe6FApXMgiBMgc1EDpHKejtJal0LMfQI7lnMghIM+jKI0jaYRX2YoQLHBmkMYkCGbnbMngGG6nzJ4jkSVNeMgkEGyn/EDpzESpDMgZzPHeBM2gjMgkiFPpHMYf/U0VjSkWKEaphMgZfI0i6GjmtLMlLODkCKmkJbfJQI0mEJDj+EppdFIoQYgReNVdqHgoMYRO+ZWOdEppVFfpkU0ZOcyVqNGcTI7nFI0nLYRWQSVUELTjqFIpiMni3GbnbELpVYZVpFIpYFmpFOwfbGjnSbILDEDp2I0lFY/T9FApMJKl7FPpFEDppFXpjPPZ8FXpKI7lIMYhFFfoZMvj1Jplqa5RFOwdIH3k9NdjeH+oDLMkXUtWNDlpFMnjJY/LiPHdwEapkFmpGELo0ELpkScVUTCTKScaRGjoDYZTbMnd/Grn0ScaaG6moGbofVEZdScW2E4phSrdMEiprQEj0Nse9MgiPN7eRHBm9M2c0E4pkHRmJYROfDVpxE4o5YRQZGymXFXo4EDoqLThbKXjpZGJzY/UkcrMbESpUMYdGMnlsI0mrScetNViibQLbG6nEELpWM+gRScasNdfRNGgVHBoIESpiS7RvQqeQKekuELpvESnwYROySrROEipRScVKO4ahMghpGbmtScTaKPlWH+nhYwZIMnfwSVQrEDpzOSiXZ8MjDlp0ScY/MYi/H3oCNNifMYcKMYj1EDprP8aYMgimEDpdODb+LbejF9o1I0j0PWfzYoQRDOp9YoVzMggocyJEFfo+OSfWLTieExpKEipTEDpQMnknZGKSNkeAe0O4P1Q4EapqJam/NkfgLMl1EDpYO4agMgh9MgfeFIoCHYnVM2kMO4bmMgkzELpnMvhrZ8LhG6nvMgi6FXoyExo1MYlrMveAJSksGynDESpTHYm8YZTFJxk0SkcnHJjqGrorGbm7LTjyFXpUNsf7PPeOKHjxJSfCMggwJajYYZNCNNcRHRm3QTfXK9kxScZxHJniGboYNNgTNzZwMneLYZSFM2eWESpma5OgESptSkRbViXjJplTYoJHEipsMgdEYwUmZdLzM2frODYHKAlnELppJhjkESpZFIo9PWeBFPpKESpMKAfkSkb7Owh7G6oJJxmVN7iBGjmgEDpdELpREapaEioIMghqO4arOSg3Dso7FfpMLMiaNscWScglKXlHMgggEDpqPmewGyoCFPozDOpnEpphExoXI0lFN7eCELpbMYhvScX8MYhrELpkPtdZI0k6ScQTI0mgM+juI0kmMgb8O/d6MggZMYi2OwZNYRIaOwkVNscbM+gnDOpAbISGMYeAHJneNsfZEapNPPZxXNaTMYdQGyocFPpSVbRYMYeKKAjlOwdnScZ9ZdRFIknLTKeGFPojYRNBScH4NGifMgjLMYcINdhIEapaI7kDNsgAD0ptQMiKPPhSbQN7GjobLMmZHRjLaaJsZORcYZLPSkNMMnk1ZdUdE4oFUHR+Mgf5YRMDDdp8FmpBScWUMgioOwYrMvi4FfpnScUhSkJeI7naEDpVI7nEE4piELptMgh6JDmJHJn5Mga0E4omNdh2GrnkJxl7FmovX6gkMgg2Gyn/RndvMghgEapdESpqNdhXFXoyH3mWbmaTMnjfDsppM2fwLMZgEDptMYhEZOKwGynoI7l4ELppExpLYoTYP8dbMYiAHBm8NsdcNNdGGMoFGynyGjnEUHbGYgZ8OwjAYgSbI0mUMvhhD8pQScXYEpoOGynIESplI7m0IdkuO/crFIopJDmtMYjGEppfELpiM+i4EDpeGboDHglfP1hMGjn3DVp4MYexTZXUY/QQQTbYFXohGjnHESowEDpPFmo9LMk/OwdAOwg0I0mvMgh0HokFM2eWaxUINkjqNGg8RIj4PHVXM+geEiplNddrNsftMng4PmhHIVmZPHcyNGapM2mMI7keGbnmZGLqMgaUPHf3ZGNSIVndFPnfJKfJYRJdHJnJJai/I0l8SVbWYoJSM2h/I0kpMYjHO/eHSVORNzi7Nkj/OScaScarO/gIHBnQI0ktOwX0HYmdFXpEExo8VEa6HBoPScbrScXCGjnDPWaCESpTG6m+I0nAJhjFTKdrEipYLbhoELpGELpxScXCGbm7EppgY/UtLMlaH3nQMYejMnkJF1ngYRR2JhnEM2drMgc/Q5gdI0l8FXowHJhyExpTGboYGjoLEDpfZ8MbEaprGFomELpqSrUfY/PBLMjxN7hZM+gsM+ghIdnUPWdRMnjvFXorNzlUHBnuNVhnO4b9GbmxSccnESpFMghzNzdLI0kmNNgYELprO/gRLMk1U0WDLMhyMYgBD8peODdvY/HREDpcI7nIMnlGEDpmESpGD0pzLMkIScUqELoqFXotI0lPSVf4RIdmSrX3SVPSYZSvNkh5NGaWFXokSrKdaaWuHgk+Jhj3I0k1UeYaKPmRNGd/JKioM2ewSzXDSVhsFPoyScXkMghVSVUEGFo4F9pOI0lDJxliEipXI7nWSkZ1GynOYZK5EDp5MngZOKcZMBe/MvfPY/L0GMo9E4oyVLJpMvhgI0mkLMiAKAjOI0knMngKdgKkOZhFapW5Fuo6Y/Q2JplcELprEipmLqc5Epo6OwhMG6mGG6lCDVp8LMhHYRLzcUSUc6KESchLEapCEaphFPpNMvbPFApEUtJKEDpqELpNFPpfPehkF9pOScWfViXCMYmvO4imEDplFmpQScROHYnFGbocOSg9GroOJSmPPehBYZaBJSluEioYJDm6YZRKMgeTJDlwQidOFPowPtgXY/TIEDpYGbnqM+c+I7mEN7gGHom5M+i9Mgh7aLL5DVp0Mng2T4TBJDmrESpvFApHESpNESpgFAp5EDpwO4dJOwgFS7VzNVgzYZPYJSk3M+ghSVNAFPooESpcToS2ScPFTwRJDVp5TRbYMYe6P8fqLMkTI7lBMnjJM+dYELpeScUwRBegD0phYZHbYwUiYgH6O4cWI7juYZUmESpnMghtKeliYwHiMng9G6m/FmpYSzQlZtM3LygQE4ocSVTdEapkESpOSVdpQydWZGZ9Nsb4Hom0YZVWSkU8GbnlYZYFF9pWESo/HRn0EDpsJShwYgJ7MgkxOwdYExo8bXTnSkNwMgjoESpQScTIMnmaMvbCSVW/Fmo9YZKTYoTZO/jaGjmUESpTPHh3FXo+TKWGO4beSVReI0mCNGe0aTPcFPpnELphLMhNYZemLMljSVVmJSiDSVeZP1bqKHkJNVeBFPpiYZMIEDp4HRnbI7jREDpnI7mwGjmsOKkgaaS1JSlGYRUhMngLScX8FXpGI0l8EDpjMYgXHYn3UtdVExowFXpOThZLSVRQSVZ7SVd1UWUeFfocFPoaMgi8ELpZEapmFApDEDpvTCadUtXFScaLNsivMgdUHBmRFXpKEapuapV8GboSI0mnEDpkPHglGrl9DOp1ELpzMnfna5L9FApaEDpwKXjbMYeyOKaRMviuU0WrHJojELpbGjoHdCHwOwXUNzWiYRfOI0mtI7moI7njM+jMY/RjSzPMSVRMSkVYMvdvO4gSPPeZY3RiVTUFLTltNNkJZdKNFAplMYViMgjUM+fXHgnRScIDI7mLEDpxESprKAjbFXpEG6mfScaKMgjhESpoI7lUFApDFApQN7jwESoJMYjSSrWpD8pdGyoRFXo+ELpDSkSnExpCY/SMQ5ZnMYc9ScX1SzYhMgh+LTjsJxnVRfZ2GbnkMgi1FPo+ZdV1O/c9FXpjI0lmDdp7FfnuYwXAO/fWGjmrEDp5YgWhI7kvE4pJV5OxYZRFQEfmSrT8Fmn5a5VgGboSNshuYZK6VEKOSkXNJDl7GbnBNGlUHJmDMgZwGbn1MvhHFPpWTZfxHJjzHRlvOSglJamFJDiaM+gQEapSMgjtFXopO/Z7O/aiNGdcScgeFXomMYeDO4cOMgjLSVUiScQ9FApBFPpgScZmMvhWSkQ1LMj1ESpLFXo7ScMcLMVuEapnSVLTMnclYoS/FPovESpxSVacELpVLMj6Z8VxYZPHEao+MgkgLMe3G6k/OKd2NGd0SccbUtK/ScQ/YoTnHJnpHJoOEDpsMYkQOKduL6ewMYZ3EaoxY/WjToTxMYfcEDpRMnfPScaMFPo0MYenQMaBSVbtFuo3KXk2Pmc2Mgf9JSmBNNdjQbcmHBnFThbdMgfISVgFSzU1YZQmMgbfMgh8NzedLEl4I0l/MghGaDZQHJn0MgfcEDpiLbafSch0GjoSZWKlODfhM+fvI7mBEDp6MngsD0pPSVQuELmtFmpOScS9NsewMvcHMgfqNsezGbnpKXkkGro4Mgg7JDmONskDOwbSMgiGSVRUNVeZYRQqJal+Grm+SVbwFXpTEapMU8XrDsplScQCFmoVOweXNGh7PPY8ZWQ2FXo3ExpFFApULjkXHYn1MggXYZSVH+nyDlpjScUJNsgdGjnWFPo0YRQiGyoZELp4J4j1EDpWESoxMgfbVLIMMnfRSraxSVXBMJd3Dsp/YwK4Gyn7NGgGI7kyYZOWRYhjNzicMYjTD8peMgd5YRcSPtf/MYhzI0l/SkYMESpzI7nNGrnSScNBSchXMgmXKAmBPWd2PWhHI7fsI7leSzRHGrmqYZNUMvfjNkcNI0k9ScfgExpcFfpSFmomFPo9FIpSFApLZORtIdmrI0mKaTN2FXo3Owi9KPk1I0mrScWhEapjYgRZZGdKSVc9Lbj2I7kQNVeiI7m0LMhvNkXVEDpzMYfDFPpNEDpcGrnhHBoFMnjpJKmUY3KgELptEiptLMi9SViUI0mCNdiySVbZEDpbJDm+GUo4YgTWELpsJKloFPpAGjmYLMm5KekQMYcwJxmUGjm0FPpkEao1TKUuEpozKAmTGFo9MnfsSciYG6nhMngLO/VjNVjiMYeTZ8T4TwUZd/KIPWelQMbVYoNePPhMPWZbQiYxMYf/ExpINsg/MYfuKmjKOKh3MvhnNGf4Gbn+LMkfEDprELpOFIpVDVpmR2cIYgKzJpiDI7mvExpPScUJDOp9NNfwHgnAI0nHU8WqGboNNNfUKHjTLMjxScO2esJyScZ+NdkWMgimJpmWOpdiNVayNVavLMm8Scd6FXpDSVYIcrTaHYmfMgfZScaPJakRGjntKtjQI0nDEpo0NsiNEao2GroaHJnRESppU0OpF9nXEDp8ScLeJKjMELpUd/Q5E4prYgXuMgZTJKnSa5XKG6mGMYibYRP9ScQRLTZCFXpFPmVYI0jxMgfSHvm+Mvg/Jhl0ESpqNGTsLMkHHYoHMYg2MniIYgMbGrnXKAmTQTYfPWjNJKl1YZR6MYlQFApBEaoxKHnAExoaFXpHNkgMNGgvMYj6MYlMSVXGG6n4SVd0ESpBSrj1FPpCUtKtMYe+FXoXNNfuHgniKPmeYRPpGbnwMYj2FPo5ELpaMYe9MYi0YRKyOweYeOWhExpTI7k7TRVcN7bUI7kpSzhcPWc0MgdZM2itFPojELpsSVcXFPpGZdVVNsewQEgDELprGjn8NsdeJKmFNsb1N7hDFPpRMgekPWbbEapiM+cxPefWFPpDHYnWELooY/QEI0mbExpbLTizMgjsI7lINddnEaphbXPlVLPqI0l5ScdHJxmlYRJxYZShSVZsFXolGynsO4i1ELpCIVnUMYfpEDpqExorLTjZGboJQibaJDnsdCLiMghuQiexN7goD0pXI7mpNVdSGyoUZ0N9Mvh3SVcHFXpTFApOLMh9O4aXRBV4ScbEMnghI0gLT/cnO/deMggQEDpFExpvQqe0H3m3ELpnEipKYgZEZtL6LTkvGronMvjnLTkNDdpvTKZgJhlwFApmOwhOTCdhMviMa5TmFPpaFPogEDplGbmHFPoDbmPMYoIZMnk6ZdSjEDp0EapfGroRLMkeScQbLTe8MvgwVqS6O4cQScabO/d1LMhKJpj2NGcFPPhtNGgRMYhXZ8a3YROZGroHFXpWPWZXHJoGM+hxMng2OwjbEDpxaaObScbBZ8TKMgbtGynzSkQkScijJSleJDmCJakzPWeLSkfKEDpXHBoSMvfMEapsMnX/LTnAFPpRNNhnY/L3FXoNMYh5EDp8a5OBH+mpLMisYZIDKAlbFfpLMngeScbMEppFJamcGyoAEapqHBoQI7mIHRnDGym/ELpASVWWYRSTaDUhFfoDEDpvYwTULMhmEpo5MYjuFXojYZZLFXoGLbjeM+d2FmofGrnFYRXrNVd2MYXpXrHGGboCMYZCU8aVZ8TGESpwEao/I7joNzexESp3PHcUEDpuScauLMiDLMjsO4hrScZLGMnuIdnCYZRcJ4jtQbdoOhgJMgeUJKmNGrnOGbmJD0pmKHj8NNhAGynTGrlSMYc2TZMGGynqHYnZSrbTP8dJMnjvMniOH+kcFXoud/MPDlp/NNiGFPo8ScTzG6n2EpoxDVpxHooQYRZYLjlUKPkSMgkVMvg+I7mEZOXzG6nGGboQWIRZFXokO/d0EDpjMgh2FmobaiThI0nbMgXdNsc6OShrGjoNJamgJDmrELpGLbjdODjaSrXvYRMKScT+FIpPGroLQTg8OweHHBlzDVp7LTihNdbSMgjAMJkdTCd4YZG+JDmlFPoEDOp+MYeWYZP6FPpOODjEFfo/Mgkbd/KnYRT0MndjEDpjJxmUMYd3YZO9Mgf3MneRLMhjI0nJNdiUFXoMFfoeGymVFPosScWjdZHGLMhlESo5D8pNJDl8LjfsYZPFN7dhMYaeMYjQG6mnScaHNzg1Owf1LbgJM+d6R2fMHom8EDptGjoSPmiNH+lXFIooEDpvEDpJOwhqSVd8GboHSkZeMnfnI0mtYZc8eOVYOwYGScTNUtTtSVanO/ebUWTEOwhrNklkI7kLFAoZMYYSMnfhO4f0aLR3GFoyVbMjLMeAELpAJDlyMgkzSVXqMJkCapSyF9pZGrnySccNLMloTCTYLykceOQdGjnhJSjTLMkzELo7GynuFmnZOSeQI7kzS7UIScWdGynhSrVeOSejScSWPtbPU0RkToZtFfoAPHfzMnfVScOBYZKoNkhSI0nhOZkKQTOvFXopESpMNsjuHRn5JSlIM+g0J4jcScb4Mgh2U0HNXNO7LMN1O/eOD0pZFPouFXpLE4prScZmPWgPI7lOMgcIM2iCThMdGrmiPHgGTCWWOhXgOZkVMgjFEDp1O4f8YRL6PeL5OwbEI7jsSkdNJ4jXO4Y/P8dMM+c3GjnoZGRwFXpTTZhkEapBU0IFOZimSzbCHgn2ELpuYZL8ELpNI0mhODi1ELptYwLnD0o6RnYiZ8QrNNawJKmnGjokDVp1YZM7NkhmDsp7MnjxGrm5MnbwEpphRBgiScQEYZVUI7j0MgbJEipHSkgeYZQIHJosSccqScG9MYZoQEYmYoPTFXpZGjnbSVjgScR0Qqb5EipeEDpFScRPNGkbQyhOLjeWLjcJI0nWFXo0GjoAYZJbK1kCELptI7nEZ8L2NNhlHgoAYgXbO4jVEppLNdfiGboEMnexMglgPHZsTZUUGyolJak6GroVExpsHBneScOAd/KoScahMnfAMYlrFupTGrolJKjsNsgxLMjdPtheYRKQOwX3GyngKAiHeVQ0I0m8PtiuEpo9FApTFXpHJDlKFfovGbo1M2gcZObiMgjNMni+YgORY/HhLMjjFPpjKAkJFPpbaaTpMgbTLjlQGboaMgiVIOmdOwg3HJoENsdnMYafYZUEMgmxG6oLI0m2LTfhMgauSkZbE4pSPHclI0iFFXpHELp3ScQxFPoCJDkyFXpFMndiU0XZI0kcMnhoMYi+aLQEEDpMM2fyGyo1JpmMI0mLMvedESpFFApmMYeoFIpdVEa7YROZGjm+LbklMnfSNVi8EDpCYoHISVW9YZd1JDl1O4ffFfpdOKeXELpxScbbI0m1N7ZUJKmrGjoOFXorYZaPMYhyEDp1MYeUKXlnMvgRYRIXKemDS7WtMni9EapnMYh9NNkUMnWLHYoGZGNHM+dSPmcoFPocMYjbLThlMvcKMYfHG6lrSkdtYoH2O/ZFESp2HJncGboLNsfZYZPkI0mSJKmhMgi7MBkANVd1MnfIVERUGrldMgfXOwb9MnhQMYhaO4S+EipEMggwFXoWOwf2O/azNzb/SzH4MghaO4cvGjoEJKjdPPcZSVX8GbmRHBnLMgenSVTBEipvFXosHvngIGlxIVnPPWfeLTgWLMmcMgjMP8jYGyoKQidZYRMwKHmDYZKbOweTYRHsY3Z0G6nLZlOAD0pzNzgyYRKDQEgbScX1U0SwNzk5JDjMSkcxELpFPefOTChKSVd0Y/XjI0mHMgk8MYmnLMdgMvlUMghKI7loSVT8NViOSrRpSVZwVEajMYe+EDogNzj8MghQQTgrFXpOGjohVTX2MvetSkgwGbn7LTbVGjmxGrm3O/e1Rnh3FIpUGboMScOZO4fuHvmVYZRjMYjwFIpWFPpeOpdsI0lSLMhRI7ktSVZWEDpvLbiZYRNjScdUO/byGjoUFPofZ0XpFfo9ZlIdFApjOwdcO4exYwG8I0mUNkkZMYiPExpEJamaEio0MgfTESodYRMNZ8NtSVXkNNb0WBQANdfKQqhMMnjiScRYLMlEFmofESpCMnZFYoLdMYk0FApUOwf/JSmOaLREIVl1FXpUGjoEEDpbUtLiUtWRMnhyMgeNMgiXJDkzUtPqLMhnELpBZ8QQHJleELpwYZONRfPRSkYDEppjGrnbI0lBSVeFDOp5NdZnO/YzKPlAZ8MuQbclaxO6YZT4OSWFMgcjMYiJE4peGrn2MgdqGynnGbofMvdhPHciEapLOwfjScZBFXohPWZ6KejZG6ojFIpRSVdgThWdSVVBYRSWESowJDkaSccrHJncScSFOKVRGbnoOhjSGrm+G6mWExpcJxjeMghoFPpUZtSzOhkNYoIcHvnkFXn0QMcrNNjfT4OMFXofS7brYRRRExpdUtXYWQHFSVaJYZSeZGQjQEZqYRPgScaVSkJ4MgeTO4gvMYgCUtHBEDp1FfpXNNevYZVeGjozHRk/NGjHUtXBFXpTG6neOwPZMnhHFXogNzjPMYjjJakBO/bnEDpQScUnYRb/Ddp5HvlYGyoUSkVpJxljKAkWNNhKODaAMYhuIGn3LTkBOwi1F9o2O/lWUtbJGjoIExpcHBmlJaj5Mvj2I0kuMgbZYRVcGbn4Hgn3aaIiExpmG6oNapUSMggMMnk7PPciNdcKaxMoLTlHMggCScTlEipeELorI0mzTRRWScRSU0M7EDp7LMhNUtUILMkjFXoaYZIzMvgGLjkJGrnpPHcnI7lcSrVYLTmcLMicYRMXESp/NsjuFXoMI0mUNsfzGMnxMgjDI0lgLMliJpjNHBn9I0mrGbmvPWc+YZLpFXovYZV3GbnSLbiGYZVNNGjzRfcHScUkPehvMnjaYZanO4fPI7imMgjWPWS3I7m8LbeVEiouMYibFfo9FPooLjj2MYgfdoONOwePEipCSce+GroSYROzM2g3FIowPWeUVTWfScY+IdmoLEkqGjnbOKhsMgkSJDl4I0mWMYbHaxUnJKiZNdgcGjoWLbhWQEifPWh7NNdiODdKG6lcOwZ7MgjIUtZzN7c1YRU9MvevMvlDEapnI0meFXoANGgrOwheNka4SrPASVa1YoIbY3L+KAj1PHXecUZ/FmpFYZTNESpFKekwScfCESpHPHe4FPpQPHZLNkZpOwYjPPUuMnjdMvjpDlpzYZV9MvjLYwNIOhiMJDnoPHcDI7nZO4dCQEdwEpppJKnNMgmQSceOGjn+GrnsEDpbOKYrYoS5YZUvMYlGGrl7ScOpJKmDO4eOMYdbEDpbGrnIOKcqSVY1TKYgN7XsMggnEaplJxjKDdp6JhjpMgcdOZZZG6l4FApaNdi4PPh7YRLmTZZSFfn4Z8SRMgibJam5Ptf3I0huNNjhGrmpMgjgOwb9MYeiI0nyOwhkYgMiJhh8ODf4YZWZEDo5EDp9LbmBOwe3I0lLMghYMYhCNditFXnoO4b5MnkXI7n3K9mLI0mNYgM+PPeaKAkvLMlkI7mcFXpaLTiBScRpFmohEDpLUePsI7moMgffOwglY3MJGymHG6n2GjncSrbxMgkhPPfjFfoIYZHMU0WaMnlAESo/ZGLlFPpRESo/KAm5YZPOSVWEMngdESo0LMj8NkerTRXRSrVbELpIa5QyMgbaQTWRIGm1HomGZdbcMgfoGFoNI0nBI0mcMYgPNdhaFmpbNzgzYRMIFfo4Mnj6M+jNSVN1DlpZTZSCNGfjI7nINsiFJSl2EDpTExn9FPoRHYm4WfRrKAklMYjbTZK4LTkvELpCZWTbMggZbAWwI0kOGroGNdgmQEcsZlUlSrgwY/QvNkcMI7jPKejyYgKSEDpZaLOgJKnKYwSDO4gCG6nlMgffHBlmNGgdNGeIGymAKAhyHYmQKXljScZHMgkvPef8LMi6EDpQMnjUI7m8EDpwZdWDN7dTOKd+EDpINkhjOwZoP1ZFI7kdHvnGG6oFF9nkScVpYoR4S7NPYoTlELpvUtbwP1fcNscJI0igaDLsOpimY/QUHBnjOweEOwkuFXohRfbaSVOfMvgrGrobHgm6M2hPMncQMviOMng+LjgmScToTCYtOwj8GboUPHgKLMhxI7mGaLL2NzjDSVh/OwbYOph0O/fsQiZ5NsfPMYkNTRb6MYi4NsjyMYfPPPfoMggNTofeI0oVSra2SkSrNGgMScV4ZtK8QMbPG6nIGrngVxOHOwV7SkdyELp3GjoeESpwFmo1ESo6JSi7MnjIUtMXM+iUEapmFXpgGrmjI7lpbAT6JDghFIppLje+Mvg0GjoqMYgWM2eNPea0JpmcSrNtMgkBUtXiTobhI0mCJxiuLMZWPHbiFXoHHYmWJxmGN7dlapTXEaovFPpYGjoMYoTDO/eeLMiJY/KeEDpTNsgpGypAZOIsSrUuHJn0KHkJThIMOwdRNzfhLTkCN7imHJmjI0mAJDmrSzZfMYdpeGP+ScX2MvmkRnPUYoVVMvhpMghBNkgtMggtGbnJJpiSOwZrOKdXNsfxTZUvDVpSaTQuOhfYFfoRSVJ+YwLCM2jYGbnDM2kRToZOMnjSY3TJESpsNGfvJak2I0miGbmYNdjAIOntVENoSVN7YZacPHWXYwMCMgi4YRR4I0h3EpphM+f4JamCO/gsJhicUHcWMYgbMnh9HYl0GyobO/gCGjnwUtdELbiwScX/IVmuYoMAN7fQa5UsGjngScb3I0nzGrnuHYmgSzRMMgaoSVWPZ8TKJpm0LMkIGbl3I0kFEapxGbnOWBUOLMkGGMn2M2e4GboSL6hTO4jUK9lLEDpsYZKuNGkaIkm6MnhxNVhGeOWUELpCO/afKXlNMngrEiptU0PvYoMPQ5fUWBRnYRWDGboYYRJmJhlqJKmaSVbJScZhO/W3SVK0I0lmJamXM2gwScOZSVPySVMqJaoFJxi8ELpBEDpzLjk9NkiCGjnNZdXBGymIG6naMYhFFPpmScbyFAovF1pGSkR4EDp4Ffo3SzYaVqbaaLReMnf6JSmCOwZhOwh6JhjlSVOvSkUDELpLRIhkHRn2G6nCYZOZMYgGMve1GFpAYZYiOSZSMgbcYZOlEpoyVTVcODfDI7mTYgXdELp0GrnRGjn5DVpaLbf0U0XaJpnUMgbsMgdbT/Q9I0l1LjjRScTWZtM/DlpkI7myGboAEDpMI7mNMYieGjn4ScXLI7mKYZU+YZLHLMgsMggrSrZcHolMZ8WdLMkcYRStHRoIZdOQHgn+FXoUNzVCScb0MYhBDVppNVeYPHXsNGedDdp+QiaoM2gtHRlVMvjBGroRMgfIDsp0PPgLDOp8G6mBI7ibH3oBMvkTT/bAExpdSrV3FXpcM+jtTCMnMYmOEDpQY3L4ScXMSVS0MggfRvUdPHj2ZdS5YZZNJpmZbQNUO4dJJpkRHRn3YRPaFIpVJSnpMYgdPeaGMnfSSVdKSVPYS7YhGboRNVihYRThJxndNzb+NNcqMnigNdgfSVa7Ljk+I7kyO4a8JSm6JDl/YwQSHBm3GrmoYgOOc6Q5I0juM+jnNzj/ELpuMgcmJalsSrbQG6oSP1ZeYZWSM2e6MghkFXoEM2d3KXiIFXoFNGkYEan+LMlpELo/SVHODVp0SVToMgihLMe/QTeKESptJxkwPPi3M2kGPWhNOwajNNh1HBnHJKlBMYkJEDpwOwggMvfcEDouI0kMNzfgI0jyFIojYgKQHBnvMYlsSVWaJpmVTCM5NzieEaozYwOLGbnZMgjgMnijF9onMglgXkOsYwSMYZS9I7mWNNjPExotSkUsMggGE4pnYwHON7hOMnhwEDpMFmouI0mIGbk7OwhEMYjlEDpuOpesZ8S/M2fWSkR6LMjRMvkgMYb3Ffo/aLMOSrZMNVimGjoZP8cWHBlDGUoYMYkMJhlca5WHYZKITRjKMvkiQbdUN7ZhNzeZI0mBYRKqMYjnSzYJOwXKGrnHGjnYOwahYRNmMgjFF9mfNdggOwgaEDpQYZPRO/e4YZPvWXNKGjnzbAStMnjLSVV9P8WbJhjVLTlJESo/Y3TESrY/LTmAMgkYLMb8HRmxT/WBNkkhMYfoI0m3YZInI0nUNVftNNfJEaoQO4clLMi/YgPmELo8HgnlMnbiELpsExpdEDpFOpgaDdpnO/ZSEapoI0meJDmuS7URJDk6Mgi2YRHlGjnjEDpwHBnzSkNqO4hIOSd8GFoIPWhheGH1LMh2YZNDEDpvI7jjSkXDYKI4YgP2NzbgSVcqI0mSLMkZQbbAEapmLMe9ZlWyHRoCM2eAI0kASrZyFPooNGeISccfUtVtG6l+NGheELptScZMYRQ3SkeNGjngFfpXEap5LEjSQMdKMnj5SVdwY3Y1SkRlSVX/GjnhGbnUEppkToVYSVeMUWitLMmgJSlKMvfEI7mEMvd0MghMSVYCScVsFXpQMYjjFXpbTZZ+MggFMgeLU0TWKHlaI0g4FXpOI7mBSzQBELpwY3WoJKmrFXoiMgZTLMjmQMbZYgJyVTIkO/jMZWHjH+m/MYi1I7nLJKlPUtUFYZL+RvcDY/IyEpprFfpHEDp3GrnBHJn+YZJOMYgENdfkGbnbPWjjaxOcI0mlS7YuScUrPHi5NzeZOwiAS7VlMYh8FXphMYgbHRnkZlNFLEjBEDpQPPhEYgS3OwkKMvdzZOSWY3UkDOp8YZL5JSmlEpplIkmTELptGbnpNdiKGyobOSelMYfwMvlsLTgAZGQuNNjQYROGQEdQTKcPKHlkYZOKELouELpLF9oyH+nXSVRyFfoBMghCGroeMnk+YZdbLMlEFApUP1aeELpJOwcTJKh5GrnFJxlAGbmlPPh9I0l3UtZ6MgYsZlacOwZzE4o4YRMMZOaYI7jUOKbFM+jiMgdcGrnfEDpwLTfXMge0NVfiU0MGSVJ8Pei2SkWOJKkIJajvMgkAMYemGjntYZa+MglFI7kRUtUtI0mQOSgnMYjNGbocSzTvSVT/FPp7ELo+SkYTFPpVI7mfHBn0ELoQSzaSMYimE4pnFXpQMniEYRJFNse1YRSGFPpaOwh9NGdsKenJEpobI0mrYwRJG6oMJakuGrmFScXORBa9I0mfbAHoNsbNJKjmM2jTMghkMYhrGbnYSkaUJph8ESorJajySVfwNNj0SVJaY3IrI0iAHomvYwYNZ8OrNGgiI0lJHvnXGjnxMYftEDpQGroSGbocOwgnTwNvDVpnFPpXH3n3MYkCYZStFXpcFIpnHBlHNGZQTRXcNNibPHZdOwhnYZMkSVSfEiplHooJI0nENzbyOKjtSkauMYjsJhlPSVVoQMgHGbm3ToNCOKhRZtKHYRMGEDptFfojESpyJDlSMnkBOwdfGjnUJDmSYwLIH+lpSVUhLMlyYZJ5I0nFHBntHJmAH+mEMge7MgfWYoJMLTfNLTmQHRniMYkDKAi9aLHAFfpfGbncE4owSkZ6FIpWMgfqW2QZZdVtJal+NkhzVEUvKAm3NNhzNsixMnj8LMhKZdUHI0mjKXk/YoPcSkXAP8gJKHlVMndNOSZvM2h7b9JkYgWCHJmyGrosMneyGMo5PtazTRVfHYoMOhjTI0l+FmoAScWANdj4MghaYZG/MgkqSVQCI7nkPeZDZ0ISFXpoGbm7MvfeNVgZMgiSLMkVMggWScfUHJnQeOLqTZSfLbm7MYj9OwdYNkk0SVZtGbogEapyGbnfNdesSkQNSkiJPHfVGjopScHrHgmMJSloMghgYZPZYZJZFmoCPPeRGbnyPmfZPeeReVJQO/gvHRoTMvlfEDpyW9aYP1UBFApfMYYiLMlkMvcwMvdkD0pDH3nlNzgGMnl5RQXkViIBDspQI0l+MgfyNkhXNsgMHBo+HJnLLye+ESpyYwIXPWhZQqdaaxW1MgkAGjngH+n4ScSkM+ikMglKI7j1NdeuOwRGYRPCY3OGU8Z5VqZPNGjuDdp3D8oRELpxI0iYHRnXJSjLDdp+NGhiM2jaI7g+I7miYZR4NNaSMgheM2i5G6mWSVfrYZW0N7e6LTikOwaDQTaAGUpCQEfAOpiJSccxNdiBOwhZQbcvScgOKAmZM+ehJKmpO4gRUtZ0cyL2YZMaMngHTRb+HJnnI0lvGrmwI7mYI0l+OweqGbmhJSlaTCXZaxReGroZJxmcGbnvSkdUFXobScQUHvm/OShVNVeXSrQ5MYgwELp5I7m3MgljMYj8OwhMLbh1I7igXFVjI7lnScaKFmpcNzlFSkd2NVe/MggPYRKpJpkAUObVGroXH+nALMi0FAofYoLxOwh1EapuI7mmDVpxQEghSVb6JamjSVexEDp3SVWUMgcEI0mVScV2PtYEOKibThPtOhgoJakKSVRFMgfgNsfnGjmdScaJX6RhI7mrMnh6GbnuNsh7GbntEipqYRX+Mgg3SkRQYZKDQMbPScarELp1LMmOPegqI7mzI0m0HYloM2e3O/YDTCMqVEU3MgfrMYhaGyk3ScOQSkKPYZRaHRnuI0maLEkmMYh4I7nVNGcBYgJkFIpZWfTJPPiZJKmPEDo/MgfWKAl+LMmCYgQFHgmDSVShYZKUZ0JPO/c2YZO0FAopM2lIFPpZdCa2KAl2GbnnESo6MgiQELpuLTkqP1f5LMe+I0mQOwR3I7gHLMgMOwTJLTjnOwepMgkXHomLYZHVHRnrNdfoKPnPM2iIMYhNJpkJSkTxPHaGHYnuMnhIMgh3ELo4F1obLMkxO/c3ZdOcI0mqMgihExo8SVJLelOQGbobNzfySzY6ScfTMnifMnfYMgfjMggESVWYYoPNThgUScYzMYdII0kEI0nGYoYRKPkySVfLS7alSVTrFfoWFAohOpkBYgHPMnlLELpzYZM0MnesZOMJRYaUM2ehO4cIGbngMgijUWU9NNb/LMgVFIpjP8fuMghPPHigGyobJplTOKi2FPocLMj3NGg9Eip6Fuo0QibKFIpwMYg+I0mjFXpSMghKGbn9aDRlFXoiI0h2MvfoYZPGLTguJhgiOwhyMvfwYZLrHJmRYoUWLbltLMkTELpAPHf0M+h9QMdlZGJLGyoUSVKFJDmaJSkeLbnSMgYETRS/FupEMgiwNsjqHvk5Hvm2IkmWM2hqMYkFGjpGOwd3Jal+Y3MMToSOJDnRPHkGJKhgO4fpDOp/PWjqMgkUYZLqLMkPO/ctFuoLThcTTZL7TRL9YZJqEDpDM+jyEDpCYZLrKAlmLjkFEDo5SkdRSVY7NdkIHYoLLMcmJDmeI0mmOwgIUtKIMYjKGbn6MvkSScRcHgn4JDliMYggJhmwHBmIMghLI7ltYZPvUtXSNGhkPPeyLjlSKmmQYZHyGbn8N7hrI0m6Gym7Jpl2Z8H5OSlSO/apLMf+ScV9MnitaiPqYZKoO4g3PeifYgM5I0ldGymuMvhDQMczHgnbJDkMH3oEQ5ZpSNdXGFouM2lTMgfCFmpUSVYvPWeJRBYfSVhnOSeUMYcIaDM1IGnyMYghZlUvYRPoXzLKOpdTLMf3Sre6MnfgFAoUNViDJSivO/giHJmjIdnfMnk0LMkxGUo4NGgjMgmREDp9HJoCEiolZtQFPPePLTiAVxZ4bAWSJhmAM2eeHBoHFfpAMgflNzhIHJoELbkGFmoAG6oxU0LSYRPjNVlkMnd+GbomOwVQFPn1ScV8G6oJDOp1UtIkNzdXHJoQMgdgOph0M+jQJSm2NdbFFXojOwgCI0lcYZLtP8YVaTHGMYjKMggsEDo3Idl4I7kfSkXsMYfNMgheMgixZGSTI0nLJhnDLbkrMghgVEJBMnkZHvl4FupNa5TIODghHYnILMguLMiNOKisODdOScc5EDpQJ4lhYZKKHYn1PPiEGbn5SkL+JDmxScP0YRLoNdk9T4aJNGcZNkcMMgjFHBoCYRNODspiSVYyHYn3YgUTI0loG6oIYRSvLMmDYwNKHYnlMYaJYZJ+FmpaSVOII0moLbkxU0T0RIg1OwafScX+OKe0Pmg7YwRxHgm6GjocFfpLMnfxIOnWMYguOwh5OwfPYZIBFmoTOweZMYiGMghSLTnLI7nOS7RlSVaKDOpwFPpnFfoYD8p2FXpeI0nJHvnNSkP9M2ccMnjmRfZdGrm+HRoSVEayI7nTMgeuZGTLNGfNKAlHI0mWMgguSrPfEapzI0myGbnZOpkYYZIjMgfbGbopPtclYoUHO4hFYRb9ScbGFfpPFAoYSkbLLTlBaLKZOwjhLMlYI0ldLMkcODfDMgg1NNmtPPjVELo2NGkZP8YvGMmwSkRoNzfIDVpnbfP4JhlnSkUZMYfvSccONGcaY/YxSVeCOwhWJSmcSVaHSVUyPPedMYiRJDkcJSlqWQOnELo8M+kDSVR3NkfRMgbBLbdubAHoHJmfMgccI0j7FfpEPtdLSrNiDdp8YZXaScWnM2kAEiozNNbpEiouSkUkO4SII0lbPPe8apI1MvhpGjmmFmoWJamPOwi2EDp4MviVG6nEExn8ScZ+MgkpbIH3MnfdJDkZYZZ2SVN0GbndMgitScSoYZIxMneKO4a9M+i0MgjiJDmWPtMBOwgQSkakHgniN7b9TKbHScR5NshcZWTmPHioLTh0DOprFApjLbjZMncXFfpTJalvLTjzYRXPZdICI0lXI0mNHRnmJakzTZThLTmMLTljJpmZMgk3FIooMngxPehEYZLqZlMWOwgRFfnFGyoPFIoiNViGMYgBO4VuSVXFJpksGjnTMghbb9NoI0nsZtI4V5O0ExowP1fIEao7YoTuKAkyI0mPJ4k/HonGNdhyI7lJI7kFI0k9I7jBbuV2ODbWMncrMnfPYoPrNViMI7k4SkWvODiVTCdHGboiYgKndCV8I0leGjm+OSlGQTf1D0p5OZhcOhY/PWaSGjoeI7m9GbnGHYl5YoKRJxlNJDmlQMXGMgkzI0jzNdh/ZdWOO4foHgnzMngZNVjaOKb3MgcVT4c7MYk7JamDLTiaHJkZEpprSkfHSrMINGkiI0joOhYNN7g1HonUESp3O/hnNkeHMnadKPgrYRYXTKdlScPQMYgGMgghSkM7SVdQHBnLFuowHYn0KHiMT/SON7d0ScYlTRYnZdIYOwg4MggOYgKoMnduI0jUJKl8UeiNY3USThaxM2iETKUtLTjJNkf5RYfLThgGODitJhkRNNhHYZMzMvgiP1dQMvfrFmo/PmZkKXl+YZHiN7gtLTkxMYh0NzlDFmpBedLzI7jiDdphGjnJO4gzHJocEDp7FuojYZaJHom8KelCNNdrZOMGDlpwUtVfOSTaH+mmSVKKNGh8Y3WENkc1M+gWHYoMScYOMggvN7eII0lDNslVcMX6aaPzI0nVYZQuSzWeMYgVGymGSrXlRBfrKAfHGbn0SVa7ThgDJhlNDspeMnd+LMlrOwcESVebMglDLMbRHBmaEapuMgl5YRHoZdJJDspLMncaNsfGNdXaYZWlSVW1EDpFMghmGbnRPWdrYgKcScZAYZPPDlpIJSjeI0lxXUWGYoKtLTjoSkZDMghmI0m6FAohHRldYZaENsg/T4YGSrSSExocLMiMEaoYGFndPWbvNVgII7lDDOptJDnIJSk1M2bcJSiWNVcyFXphYRVCOwTzI7lQYZNAYRSHFXn2IGm6MvedGjluMvjiOwaFN7kAScOPM+eEESptMYcMaLHOMYdDI0mxGjmjMggNMggdSrXFI7l3eOZLJSjcP8PaScSlKAmXa5W0M2jNY/LzNsb5FXpbSVYLO4h2OpiuFmpNJxlzO/UuLbmQLMeyTKc8NsjEEipnO4b+apMnMYj4NkgIPed9HJncYRKZSrQMJhiSI0mtZlNCODfuScTrM2d1MgayMnjibQLoMgjPGjnWUtYTSkZHM+dcKHlIZ8aSSVcyMgg9MgiFScfwPmfzMghEI7lkSkY1FApiJKmbMYlgMgfRFfoKGMn2MgeWLTleMggPEDpGFfnlEpocScbmJhj1ESoyGrmeYoMUEDooMYirLMlgMBgMNdciFmpEKAlcMYh4MgfuS7U8O4iKMgeEMnfIaiIkMghoScXZYZMENVi1LMifFXpVHgn7Ddp5JKmxMgZcEDpJDlppOZavdCPiG6okbIQzYRNCJhlvMYhRHgl1Nzh6MvgQU0S2M2i2JSkoLTkwJKkGEipoLTl6S7ZqOwjEFfpeMYeXSra4I0jYOScrYgTPO/bdLMm1N7lhaLS1JDmnN7f9FXoZFPpUHRnBYZM8YRMaY3HJSVbhScUjEDoxGbmLUtSCFunvSkZlQEg5YRH8LMm/G6lWQMYGMnjyO4cEIsm2SVZ3F1oAMgkBSVQQSVVlSVWTLMe6HgndG6oQM+k/FXpkN7gFH3oDLMlgS7YwLMjLP8c8LMiqMYhAYgRNJhjYP1hHYwNiMgeJMnkBEDpKNsaSSkJwKPl5ThcWJ4l5SVZfZdM8MgkyKAjTO4VfI0ngGbnWU8cDThWkYgINHRnrYZSLJxlkSVR3MgZISzgEIGl5M2kmYoa/M2b0SkXdYgO/I0nXESoNGForI0kBI7lPY3MiJ4l2SkLFESosOwZuMnjYMYd2LMlUOpbsJhnDDlpVNzi7O4bFESp1NNdrMYdpGbm/JKlmMgcfYwONS7dSFPnuFmpHToSrRvZ3SVaxM2jZI0hvaLOhXcIHMYgRMYeCLMk7KPigHgoBOwflO4gfS7e/Nkh8I0nZMve1FXn/HYmFPPVcGbmBScS+EapxNdcjHvkbVTKweVMUN7dnMYhWMYcTMghFLMjheGN+MBigSrVaGbnoYRREJSh7O4c5DVpwFXpWNzc4JhnSVLN+NGi/Sca5O/WIJDjGGymLMgc0SVUpLMnFYRZoOwdYEan0ScWZQEdVODg5FXoOLMkPMYg9EapuGrmBQyaLO4jDWuKuYgPuNNhHOKf9YoOrTRSeNdf8Owf/F1ovMggLUeUeYRV0YZVzMYk2N7ZFGrlfM+lkMBjpMghaDlp+PWYOOSYuO4bvMnjFFXoJMvj9HYoVLMiPI0mrPHgRGjl2MgchN7eOThVBQTYQKAl5MgdpJplUMghTFfpXMYgxZGO5SVcYHonUHJmNQifmELpDScbzLMfFELo2PehXLMg9FfpPDspQS7bWNzcYNzgXO4gAMYjaThPRDdpfYZT7MginGbnWDOp7SkZsM+iRToTeYgNyEiozI7lwOpjoMYebMYgPLMl0LTejLMlZScVIJDk/ZOHmLbgWMgm3SVUwM+gtVbhUOwddSkaiScVAFXoQZ8HZFPoTGjnGScPpLTkHHgmbScLXM2cLSkOyI0loN7jYMggiJxkhNNgXSVUoZWLHO/brYRQ8LTlCMghtI0mEMgf8L6cbMQTEaxIwSkRgESpuYRZgGboeEDo5YROneVIlP1ZKOpgUTReGY3PRDdpdMYcSFApgYZRTTRgfMngOMgchJhh8M2kREipmMYjNXFfXedSMKHhdMghkaLQ9LTlQH+oXO4dsSVRdQTWgXUSPLTjjExo0IVnfRYbcPmjXJamLeOH0Gjl8OZb+EDp5I0kIGbnrNdcdLMf3VERzV5bnMggFMgg1SkXTZ8L4LjfUY/UcUHTNHoozJplyJamrMYhdM2jEMgdWJDmlNkcwMnhcIdnXLMX7OwbMMYhBOSkPSVVqNdYHO4evNscRSzQvESorNshrNzaiSVQ4FupVSkYjFmpZZOHQScLHcFNLPtZ8Y/PGGbmmJxmOOSi+ScXWEDp8MgiQHRliYoJwH3mFYKZ7OwgpMggMYoPWYZPwNNeTQbeoNsgzODgJSVH/I0lJNzeHZGRlMve4ZlTWO4cQI0mRZWJnLMgXFIoUMnjkOwjgOwdqQbb3PHT2N7g9HompMgimTZekLMk2M2kZYgKfMYhJLMh3NzgUSVV5SVUWSVXsJSmcMYigScXzNGa4LTlqI0jkYgNJMgfoG6oSV5XbYZPKEap1U0JgOwf4IdlWZtXAMYleEppwYRLfFfpOHYn7ScaxHJlYYRYcLTh+JhkNMYagScZIOwbdFPoWYodbOKaFU0W5ELp2GFo9H3nKJxjVYRQcMgf6NzfOSVXPa5IuLMmLU0ZePHYeOZe7JSnYMgg7YZUBMvjTI0l3RQdNOSbLMgdPKAm2LMl3JSmWZWM/YZTSO4hVOwehTKUtKPmuTRUvSVaEY3XGGjofYoLRZGLkHRn/LTfyODjrSkRzYRSNP8eDESp1LMjUNzkUMggcKPmQOhZrSVX6SVYAPtatDOpUJKmoGbl9NGhLO/f4J4mjSrZWFmnfI0joO/dTHom1NdkNS7bmFupLQMh7JDkxYZLxEiplJxl7LMb6SVQ8NzboMgdhFAoCP1YSV5P6I0kqF1pPOShtYZSKMgkyKAlfI0lmOKcFM2iLThVlELp6YgQIMYd7SkgwGrmaNsixZONpMYj+MgeSYoL6EDp2YZMjScdDaDHzOwc9PWdjESo3F9ozFfpeTCdQLMmQMgi5DVp+ELp4MggUMgj/MvlSSzRJTCHhNNfTMgeiI7lwQMgII0nRJhlCPHfWI0nII7lMYZHLMgh6M+fPLMlXSVSvMgfETKcjMggDb2PNNzdvExpkNshJGbmjPWesO4e+O4hcYRZOSccnM2jEQycQYZV0IGnZEDp2MYb4MgfZGjmxNdiHSVemGjnWMgi2Mgg9N7ZcSVRhNGfgSFXBYoNFTKUhSVXiGyoPJalgPmZ8MglkYwLgYoW3ThHuSkWGGbm9FXpdYRTKOSfJYZLyGUomEiptGjolZGS2O4c9GyooYgZpMgezQMhtO4aASVe6YgLHRfWrZGZRHonASVOoKPl1MgZaWfVGOwgeOSfSFXpXNkeVDVpWI7kvJpnVN7ijL6kuNsiCGjogGroeJalsY3L4EaokMniaNNgLHYmvESpxMgh7YZNFYRUjLMfQGjm/ExoVH+nJGjnSNGWZNGheU0c3Mve8MggrJKjNI0lMNsgAScYuF9oOMYf1GjmPYwTzI0lxTZc8YgT2I0l+G6ocIVn3ScUdYgZlMYgJSVQPOwfwMverNNizMYgnI7nwPWd/Mgh2Kek6JhljGbnVOwiSH3lMDOp6LMmwFfpQFAoqOwfNScS1OwjESVOzL6fyMYbjMYjuLqc2YRMOHJm+ScKsYZL7LMj1YgOwM2erMYkLYZKAPPWpLMkFZdKeMgiJNVlTI7lWSVbePea0FfoUMgjoSNbnMgYqMgkmMgh4HgmxMgkuLMimIGnSI0jnP8QeSVQ9LTkUNNlLYRNcUtUZLEfvQigJSzX3HJnLOSfVI7j9FInzYRNKO4jtMgfAPPcYTCSdZ8IhMghyMgibJhgII0mBSzZgYwSgNVgDSVRPMYhMLMehScOuQTa1MYhVYwHTEap3MgkKYoKoScfTMgioSrZwSVU4LMhPScQuMvejMvirMgluKAlVFmoFEDp3Mgk/NkeiZ0NVHYnhYoPfYZWDScTMI7kpMYe4MgZZFPoAPHhIHRnCJKmkZGMFELonJDkRaiVYLMj1MvdjODjOLjmRNdaQU0OlO/VzMgiFVqWlLqdeMgg1IOljZGPrFApnKHj5ScdRMYbQExoFJhl6M+XnSVUUSVcqI0lbRQYlYgKdGymgKHjqEDpBIdmWEDpHNsf6ZGNqMYluH3mGZ8XzVEZgMgiSGbmsFXoATKU8MgZoMYh8FmpZTRb0bASGQyeAZGRwJhmEKAmsMYfgI0mgMYkCMnkgLTh/O4fVMYlDUtYPLbknMgiIIOmzPmccScW9TZaFSkarPPcPbIOeHonvTKVOJKjUGroeZOW0YZMpMgbZGjo3LqjzGjmUYZOyMgfhSkX8UtcbGjo7FIoeMgdqMgmyI0mNbfJxO4XtESnFOwVAPPYwGjmuODc0G6oZGbkvSzQzMYkBdJPwYZI7YZU5PHc4TRYvUlPAYwNTM2fzJSmtNVgLMgl5D0pUZdG6JxhpPefKMgg5FIogFIpeFIoNYoVcZ8NWMgf+OKb+ScTVbQJpELpEHYnaNVfOI0nUaiJVRfWbHRoFNGbjFPoSKtiyD0p8ScVOLMi5HRn2NkfyMYf2FPnKMnZ/JxfoSVRiM2h5YZS5LMmVJhk5ZGS7RQUsdRSoMYjTMgg4ToYwScViMghJcUOqScTFN7jSYZMZMYZTO/ZfOZd0MYiORvehLMa/MgeIMgkKNkf4SVcISkKWScTeZGSmM2ZfKAk7YZTFNsgTO/cFLMYJDspaH3nDNNe8GbnXU0OSO/dzFPn6SkVrHRl2PHeTLqgGYRPeScRbPWe1OhiUEapxNzifScUwYZMuHBmDELo4SkdIEDp+WuSJJam9MgitSkNVMYdNV5V3YZJOHYmNNGd9EDpHKtjxNse4LTjeMgfONsh5Grm5Jhl0T4UxMYe1MYfCJhlnNzeCZGKrKXl5I0kFMnidMghgSzaaNVgONdWlDspaSVZSHBoWUtLJMggPYRQILTgQMgjOT4dhSVelYZQmSccBScUiKXkbJxkuH3nZNkicSccXKAjBGbmCN7iuH+mZTCOFR+cvYZTFSVUBM2lAYZN6O4cAFIoESka2ESo6MgiFMYihNNeyYRP7P8f8HvlrQMVSSzb7VbOFLTgjOpc/SVdpScZeNGiFNVcFN7d/V5ViNsjiSVb3HBokMghUYZPQOwg5Scb0FfpMYZQoScVaRIgUSkQ8YZLeO4WyP8X6PHVZODiwYZHbE4peI0lpLTf6ScZLHvoCYZV+O/gcSVa/YoLpKAkBQifNMYlxPPflYoHcMgikHJkVTRXpN7XJMgiVMglMLMi9SVSVI0ljFXoKOhg0TKVmYZMmMghvRIZoG6mLGbnfMYbCSrblKXmGM2hnY3SaScdlS7TZMggyMgg1MgjAM+fXKHjgEaowMYjgMgcZbAQzNGdOTCTiYgVNPPeMMgkKM+coMve7PHfMU8cgDOp+OKgSEpptI7k/MYjNSVeUGrm2FPpiTRTiSVaXKemMYZJ1MggWSzU9Gro0Q5eDLja+N7fTQEdwQ5ZsLMdsMYfiLMkeK9i2YoUySVRIa5SFMYdfVTZWMYkRPtcIN7fyDOp4SkfZMglXOwi5ScQsLTkuGylYJKkpNzcXMna3U8WkLTkiOSg8MYgcNVi5GjlOJDj8LqeKYgJSDsptI0mNI0mJNNhdPPdXY3RjMgkwapV3H+ncNNhgFmoTFAoNKAiaH+iuFXpXQEYSMYgbTha4YZL/M2ikJKmrY3S1EDp5ZWKnccURYoXvScdII0lwLMniS7fPFXpVHgk5YgNpN7hkKAnIOhV6RQeJMYmHMgiKH3moPHVMZOK9MgiBSzY/ScVqHYmTFAphNViKTCO7SVZiYZPJZGOCScYnYZZwKXj/ZdMVQyflI0nGSVdJE4pjYoQQPHkMPPhAJDn4FmpXJKlLSVXpZ0XXMYhvLMl0FXoFNzaMMYmNapP/Nsi6HolDMgibZdPVM2cMF1ozMYkDMgj8NdbEHJoHJpjOR+cdNNbkMYkrMggnNdfvLMYqI0leMYkvLTjFYwLeNde8HYnSMYh3Mgi4LMkeYZKFZtJoUHYdSVWAESp3Owf1FmpPJpmAScdlHRn6LjlBNGhsD8pLMgg6SVYIT4iLI0lhYZYQSVbQKAdCN7jiJDnGYwUCFIpfYoPfaTMcScWvKPmYLTliMgfKGrl9RIa+YZPIZ0Q3U0U/aDJyMYeaOwjKI0lvFXpgO4i2SVa7JSnPM+jEZOPzZdNGYZNgM+eWNsbKKAllScfASkQ0M2bEYZQ8Hgm7SVYOaLTZO/g9ELp2SkdtDVp4H+n4OZXSDspTMggnYRUfS7cdNsiiI0nJDOp/MnkQMYjYDlptMYdVNdjSI0jwMYiYMvW1MgiUGyodYoR4MghsSkXjH3m0O/enQiiKHBoUKmhjYgUuYZReEap5YZJVJSknaLJvGjofJDkrYoLdSkgpaxJtELp1GyoeHomqYZW4M2l5Kml9ScZTIOm4FmnpI0j0YgPpO4bfRQc7SkUnSka+QieFMgeTYRM6E4ppMgiqLTiMPHa3SkhIdRK7MYklTocZNNfrSVdCODlqHRoQKHmoScYHI0mWaLIASVXRD8pSNdbSKPj4NNg6EDpLTKVCKHlPZ8XeLbmZMBhHJalRDdp8HRoTScbIKXmVHYntI0mFSkehYgToYZYrHYnmLMlHF1pENsgTFfpVPWbPJSk7JaiqI0iWSrc5I0kPV5P3bmQtO4YhGjoqMBmFYZQDYZHYFfn1S7VKMnddODheI0jZKHmGFXpsGbmiTwfvYwPpI0k4MgdWH3nuHgl5I0lWNVjtXzSOIGnHLMfRHYoDT/YcMgkVODb7NNihJanAYZJ2aLSWOSk5I0nVFIpdO4XuI0jHYRLDI0mHSVVxLTlcNNioMYlHI7knTRfzJSj2MgioYoRQMgdqLjgzY/ScZGS4YRRZDspvSVYQI0nUYZODNGXcPHhQMgd1M2jPScVPToM+OwgNdRZSSVVDG6orWnRuSkgGI0mGMgjlYgRIZlLBVbMxMYcRaLVTa5QJTRXhFPnlH3n5I0mHO4ZZO4fNOwdQYwUsZdL0YgJ+HgnqG6okVbbAS7UUaaRlFXpXEppoZlPVNNfnHRmqH+lsHgjESVe2LMlGScU/O4jyMYgmU8V9PPd/ELp4MYl0MYiyNkc/JpmZRIeYYwHoPHdAMgiCcFMWJhl/HYn1MYhCYRRAVxPOZ8LVZ0TOMYcAMnckOwfgI7nHMvbRI7neEDo3LTf/OSe+MYjSI7nEYoSdI0lsSrTwMYdWNzk4SVgrMvcSSkKEMncGO/b2O4gGMgazEDp6YoLRNdhkLMkBI0mVUtRKYoHnJxj9DVp+ScdqMgfdU0ZiEaovOhhRZdUSNziSO4hwLjaPDdprHYlsMghmM2e+LMdCNVgTUtRESrZwJKk/MndONGjgI0lVSkOzSkWKO/f8TKgVMghEGjmwSccrMgfyMghKMgZyKmlmLMlpM+adYRZUJ4kNG6kDNzYXMgipM2bvMYjDNNjNY3KsOwcWRne9MgjQNzgAMYkEYgPrN7dGT/OcLMffPtbmTwUpLMfmYRQsLTbSFXn7O/efVxPVPtitKeloI0lSHYmTN7gSKHkZMvk3LMm5FXpZSrRcOwirMgfVNzgIMnemDlp4axLPPHfjY3Q9LMjxNNkwLTicMncIYRQwW2VXZtPfJ4k/LbnESkM3Mgj3O/TTSVf7SVQCZdWIMgcaGyocN7gtaDV+ScMxLMhiScZ/NNewSrXuJKmoSVTHOhfFHvl9ScbHcjL4YRRFZlPCSVWcOwbLHRk3MYhAExpqDlp4ODe3MYi5TwfyPWYcMYftYgZ9LThgScSUYRIdScV0S7aecrXUM2jaNNZSLMhSI0nkPHcMIOlwMgY3I0jdTwZVJamYMYjZZWPsJSlIMYcsSzegF9ouOhcyEapyQbhUYZO0MYjmYRTsE4oBMgi7O4dKEDp4MYhuJKjqNdbaZdNOGjokThaULbk3SkYAYRP5PPgjNshMYwSCYwV9YRKQG6maHgnJToM7Mgk8M2edN7l2I0nHJDfyVLW2MgehScMyI7kyLMlvPHbyNkchM+dDYZR3OweDM+j0ExprUtYzYRUMSkSAPHbwOwb0LMj3apK0I0lIF1o5SVcSaDXsNseVYZTxYZLWOwfcGbmTODi9ODemNkgWYZT7NNe+NdgSWQayI7k6GbmrMYecScPbScQqScduJhh1FfoHZOI/ScUvLMg+GrmYHJoKOwfONGenScWBO/hrD0pUMglTNzlsScWAJ4mLScXHNzePUtQaYRR1GbnVYZU/aLSPJhjtM+ZwGbnDHvnpScUWScTMO4d4TRMBYoK8ZOPRSrhpNdgKMYgyD0pTJKh2NdfDSVfiYoJ9EDp1YRY5IOnZPeeGPWhFFfpZO4g6TKY0M2cYYRROSFdnLMiXMgkYbfTTJKkuOhYHScXLcFU7OhV4OwckPWcvD0paYRL4KelVSkSWI7nEMgX5SVcSSVMRMYiEJDkUG6mIOwZMU8dATwZuScYhYgPybmSMMgk9P8gNHJmmMnbjGbm3Y/UWLMkgOwhLNzjkOwUySkSuNGiDMYi0UtP3OwezHvnWTKVDLMhUFfpeNVhFHgnmMghEFIpkZtYGPmjJNzcnSVWtMYi2I7nsO/YPODhgNkhQFAn/MYhWJKkBY/PrMvkcJKmtFInaNkeGSVb+YZQjZWJKTKW8Nzh+KAlxYRPPHgmiK1lSZOXsZGMnYgVtZWOmSVdyO4j7PedQGymgYRKqQbcJYZRUJpi/NzeVScZzSVUjFfndMYc9NshvMgZYSVYpQbh6YZQzMYhNOKgDH+mXODj+O4T2LMlaNzflR+boOwcdV5T3Qqe+I7knI0i5HRmZSkRyYROGE4nDDlp4FApvHgntUtSlPPgrYZKGYRT+ScUMEDpCSkbdKXhjGbmaNdj9PHaEFfpVJ4jLSchAN7dxLMjtPPb5I0lRMYi/SVbAYRQUNVkHNNjKOwWYSkcXQEXyVEPeMYijHRmfbIPxMYgbMggdMYkWE4ogJ4j1MYglMgfHU0XZMYiCO/baMYh/FmpQYgOyPPcoeOHHMgjCUtSbScc1Z8QUExppMgamYZM8JDj9YZVmSVVFQMj6ZlL1MvaLEip0ZGIqMYe8MnlkJhjhSVYcMYeqSzYwMggTScayFmpHYoRVI0k0MYg6I0iQM2d/SzaPMYjbNGcAI0kqSVTEO/d+MgYISVbpOpa6YZVYT/aUI0kGJDkqFXn6LMjvLTlpYZM/JamMP8gfSkaJSzdyGrmlFfpXLjllSVSiNNcrFApeMgZJI7nJaDHYDlp/Mgf3SVK4N7eKJamTSVYENzhrTCOkFPoTJpmEFupKO/etOKaCMggnaxRINNdXOwcCMYkXUtSdMgfWI0kwYoMNLMkVKHkyZWM1IGoFNVioG6kzSVecExpkP1fZMYlsNGieM+dQJ4mnEDp0IGllI0kpPWhyDVp1YZQsNkeWI7kxMYh3SVYAExp3OwXKSkaSFXnTESoPO4e2SrYqY/avMgTIMga3SVLSZ8TOYgKVc6djI0jtQyexZ0J0PWg7PmeBScagESo2DlpVFfpZMYgzJanIYZR3P8cdLye9OZhdScSiJak3NdkhLMjGESp3DspkOwb6SkbNNNjeJ4m2MYcqJDkUMgg7O4b5GjnGMnemFmpSF9pALqjHGbnCYgOPGjlQSce3SrUpO/Z4PHfqO4j4PPh0QqiRJhmcMgg2MYfVNdjnMgdPYZYSJpl0MgiIH3nMI0lkMgk/Jaj/QTg+MYiVI7kKDdplMvbpScYpSVWSOwkvJxk+JSjwO4fMExptMYiaOSgeESp0RIahLThCMJlDMYfMMYi4MYgGFmpJYoUEScUtLMlbYZVMSrOiDVpvMYfKMnehLMleVxYzYgQZMYZzH+m6YgO+ODkiFmn9MgjAJ4jxNkgUGbo1MgeqZWVAMYfmLMkZI7lONVjYNsZkOwegO/ZzFInnNkZ4JKkyMYjmYgLTLTaeSVRtDOp6PPZdHJi/SceaO4ZWO4hXSVREFupVYZV4YwJPcUL9LMhUSzeROwaKODgSMvdVcMW9MggBSkjzLTkfMYcSZtR5MYeUO/ecNGfWPPcCJpoQSkX2YRKhSVSIScX1LMhIOpheMYlkSVg/Lje7ZdHMTwcuMYgbNzf6P1WJExoKVbWwSrPkbIQELTh7NsdbLMiHbQXrESoyFPoOSkSxZGPjEDoxRvZ+SVdLGbnKKAmiLMiUOZiOHRmaJ4lzMgeKQEhuMYgWSVVBMgjHGjm8PPZQQ5ekNkZ5O/kQScdLZWL+MgeVPPfcSVcnZlJYQiZLJSnPODVFODXnTRU4YZSSNVfgUOQ7M2bKKAkkYRN6P8iGNscSIVm7ELo4I0kuMge0a5SeELp4QiacOhXlNVbQPmfqEiogEaonMgftUtXmYZTAP1XATCblEDpBUtPjdoOlFPnzGjo8Gbo+JDkOT4QsYRHLS7duSVT2SVb8MghUMgYuI0kmY/QVMYisSVWaaDIsFupVYZMrYoImScYJVbdZNseoGMpLNNiQNVkmF9piYRMPGroiEDo8FAogLTkYYwO/O/h1YZKrJhlOMYdfYgUHNdiYJ4l6Gbm1M+elNGe6DVpOTCaXRIeeSkaDNGcGSVV+ZGIYMgYydoM7Y/ScNGlcLMk3TwXbJ4lEDlp1SrdNMgjDYgMgaaJLRIdKYRP+ToWuPPfVSciEaDPqO/fzOKkRScV8I0lsPPcVSViMOwdsI0ktSkVONGd6OwTBLMknJpijVEc4YoMwLTenQbeLU8N6ELp2NsibSVgMHRoWMggDJDe+QbkaMYgCNklJO/hMS7e+ScaQSVRKWfL6YZXINkg9LTkWMganI0lbODgLGjl5EDokHooJSVUqP1UdLMcSNsSiMYdhI7hgJSjfLbd4YZPrVLd+MYfCNVdqSkRbMgcUF9nyMnZJGjm5YgQKScP6NzblExprGjmyELp5ScLJDdpwLMgCGbpELMiOY3MxJDnNYZH3GbnBMYgBOKgWUeO4PHc+IOnFEpptYZR5RfOzYgOBScQrSzdbT4RfScXlLTjbTCVnToQfScSbSkg5SzVzYZQfPPhBYgP7MgaPU0PUTZXsMgeSDlp5ScQvTCWdH3m+LMk0NsitHvnNMYjEODgQJpl3I0dsZOULS7enSkSLN7fRJDkRaLTCYZJeYZOjMgbOYZK1Dlp9MveNMYfuYROdDdpyScO+ScVNI0ldScN0GjmPI0kZTKOCPHcUODdmThYYYgI5TZNuZdHgaDUAYoVJOhhFMYf3Z8T2GbmLScRkNVdfSVQ7Mge5OwZPGjmbYwXIScJ6NkgOOwaoLbjWFXoFOZhgRQe7MYdqJaknI0ljSrYSELo0NVeUYoS9HommRfUtYgNZU0VmNkiNMgixYRRgMgiCO/bqYRQtLMkYI0iwJhmUExoeLMguMYe/QqdoMgkPIkmVSVLwO4axYoMzExpnYgUWSkgoYZOqMYfsMgdcMgeRJ4mvHooDMgiSMnk1LblGYRMyGbm/SrdjJDi5SkNzToXEYgKCMgdrLMgQDVpcQ5akYoK4ZtJnSkLSOweYFfpZOwdRO4emYRHAJ4kOLTfJYROLaDQMScXGMgexHJlvM2lBVLavDOpyLMf4MYlJMnaNSci1O/SRJDnWYZOtMYitMnkVFPoOP1dEP1ZzEiogMYhUZ0ZPMgVFOSgYKHmhZGQmSVcRPWdKYZR8MYeHScOkMgeQQifTP1dmExpkOKhbQMekYwaFSVTZUHQPO/awGrmgScUsNVLHMgd/JKnUOKcBGjmTYoXSPPiYFfpjJKm/LMgIScX9MgdSKHlzNVfLMgg6FupWLTisP8eZNGcNScOONNjhScctMYi2ScaXKejUScd1ScfiIGmnJhnIESnZYgRWMgYaSVbIMgijKAlBMBmGZGTyN7gAF9o4T/KLPeeOSkYNMYSJYZQnaLLxFXphMgiNI7nLYRIrSVYUHYmNJpk9LbkvFupLFmoKJxmmHYmbNzb8Y3ObFXpdMYjhLMk0LTl+Z8URGymNLThmNkjYYwRsTZHmNGjIPmZIPHgWMYZ1S7O5YgVBG6ohYoNbEDp0MYhxESp9SzgbMYg+LMaqMgioYwVpJhlASNYiO/cZMYeMMYdfYRSaGbosDVptSzVjYZIfHgmINkjbTZVqIdnsPPf1OSdrEDpBMgc1PWgEYRMoJphgNVlIa5QsLMi0SVUbYRRxMgjjO4Y9LMdbDVp5OpWfScZKHRobY3I8YZOXMnmiO4cgQEU1LyjVSzSLYZTfLTg2YZQNYgOyScdBNGk7ESp/OweMMgd3MYkvMYgqJahLd/VbNVcRSVb5KAmmSVaRHYoRKXmaNVcNT/PPQMe1PHY5HYoTMgagMBhoNVhiYoPlJKj5H3nsThaNUtSAMYlSScgtYZLeSVR7MYghLTi1buapMYiBYZWLSVbaSVOcLTjmLMhLSkbaSVZOY/IuOweDJpi3MYbfSzXcELp8TKMSMghhSVP4Owh3ScSVMgkCOSjJQijnPWjJFPpiGMnNKXleMglnMgiqMgfvMYmyLjgSYRYlLjjdNNc0ScYgLMiVScYqMYglSVYpPPT2NGkAHJl7MYkEPHYPMYiFVEOJSVRta5PYTwHeGbnjZOI4FfnuEipuI0kkKPlZHRoMP8dOQEeAMgjbdvKrSVbTSVUgaLKjT/g8SkTBLMkcNzfMQ5dwHvmmO/g+O/YbPedCJhjqGyooOZipSkWlScHmMgklG6lRL6mTMYhrYRS9LMi5NddZZ0WOEDp1NkZXEDp1Owb7SVarMYjHO4jnP8T2NsfzODhVXzPvScO1OSjANkh+QbcJJKkkNVdLNki5ScdxMYjDI0nlQMfXYZL6YoMOGbm2YZKDe0HeOplLMYh5MgiNRIVPRYepKXlOMgfeH3ncQEYCPWiRI7nHYZNWNVfRI7lIXzRyb9SgELp3TRfNMgZnYZJtMgdrFPn8PPe2ELp1SVXqUWZIM2cFWue+N7igMna0ScRcedS6LylZY/ILSkW6ThU1YRUMYRQBS7fCSkctMYeSO/cOGbnfSkPWSVaBScUSExpoI0nrPmahGjmTI0liHvmdThRMQ5O5SrThNdVdNsewYoQoYRL9PHbIMgdQZGRdSzUlUtZhViKtYZd3Owh+Ski8Ddp+YZIyPHdoY/LyYZV8GbmhUlXeKAlNUtaJSrZjOwhFODb/S7a9ScSUScLCNsgTSkNVScOYeVWsMgfcFfoKZlMbScQCMYkwLMgTJKm4ExprMvbhYoWeMYf8NVZXGymMEDomLMmKPmgLNkYrDlp/MYkbLbkkMYlPYgUcZGRFGbooEDp8ELp5VqakLTk0MYhbELp6FmoILqaRYZMJMYkVPPdsLbktFfpaS7VOMgftNslGP8eOTKQVQEgdGyodRYbeN7lNGyosScVRSkS7d/RAM+jzPPdZYZMTPPWTU0YMNNmDYoJcF9pDMndqScSQJpktSVWJSrcfMYh6TRRxZdOzZGRBO4bQSzP4Owc9MYhtTRW5SVSvKejVMYfvRfSQO/iHJpljSkY8MQixSVYNMYhZOShrSVXVScWuLbhYKAl7GrmNNkdJScZASzNXYoPaGjmwMYfsLblyMghHH3oIYgOpOKe5T4cDPtaXZOHCSVPiFPoTExooLMk6YgIKOZgPJDieUtOMMgijOwgjNGkScyJ9YoN1HolyZ0MrMnc8HRmLQifaScZ2I0lBNsfoZtT/aaITJhm0Peg8MYcOMvcfKekJYZVwFAppI0n+SzJ9O4dmO4dpMgdsZWTWGrogI0l2GjjWHYn7I7oSI7oRHvnXScW+UtToScUYLbk6LbhXGbnSI7kPMYktJDnEYRQAYReWY/OxQTe6YZMBScUvYRUVQEeqUtXwLTnII0jBNNe0MndlLblNLMbuLMeXL6lzYwRqFfpbUOYuOpemYZXtbuMgDsp4NGeXJajydgU8LbkTU8V0LTjTTwhTLTkKZdYZLMk8YRKUMYbSPtcbZGSWP8gGThWgJ4i6KAkLEppyI0lpScdwZ8MtScNcMgdUOwiMLMkUODltFPn8MgeCHJoQMYjrJKkAMYhIPHXBSkQrLTdUYZO9NNdWaLG/N7ecOSZhSVPDHvlmO4SFEDo/OKjgOwi7MYf1Nkc5EaptHYlmLMmTI0n8IOoQOKiRVLRkZlHVFXpsGrmPMYeWLTlXMgdVKAmRYZM3bQQuKPkcOSdVSNd/LMl/KPlNEaokEDp8PegBSVd7Nzj1FXn2ScIxE4ofZGJKY/WDODa5Ddp5I0mAOSjcNGeRScT7SkT5SrdDMYjLOwbnQqYUOwewDlp4NkjiYwH7WQWXI0iuFXn4SVeeOwPjF1paYwOsUOT8SkMzMYh0PPiSKXieScVyJ4m5KHl4FXn6SVTpEipvNdfOHBoVTRT4LMj/bILlMYjJMYftMYivSkcFThWOSVMgSkcwF9pYKAh8apOuPedOSzTFScbZHomsSkhCMYihO4bhSVcBY/MSbAHFLMjrI0lcYZR0NzdeR2UKYgXYJ4kvSratSVdmMYi6LMfzS7e9FupXZtO8HgoFMgfaMgclKeluMYe2XNMyTCUWYZJaUHaZSVOoYZOOOwi6ScN+T4WfHRmAVEPkZGOwScUcQEgVScThJKm8F9pUZGQ3SzOyNGdSScXONkdheOQVEDp2LTh7LMlKYRToKXi6UtZ1MYhPNGj2PHf7MgeXYZIYSVS7SVTIESozYRNkYwVQESoxK9g6LjlKSkddMnlIMYk/SVXmVTHZELo6ScTlOKhqO/evYROOI7k3Lbi3KHgpScWfGblAHJoGYoRhYgSNOwgUVLTgHoniMgiiQEUDO4leI7lEYwMYDdpySVXrLMkrGFo1I0lQHBomUtY8O/UdTKZQSVUnJDnTSVOBbALeFXn6HRn8QTYALMktYoI1ScUNY3JkMYgiPHeGFXn/J4kGHomnEDotYRKGEipyI7nrGblmYZRwScOSDlp+axQbO/RkViMKIGl/YwK9KXjsSVWvLMiROSg+PHchI0k5Gbj6SkbGNsiUI0kfGyohFXnwOScIU8ZoSVbmcUSsYRJPYRLYQiaJMYa/YRSJNsgrI0n2YwRySzaGYoQjMYjHTwVcRQi6TKR/Mgd0NdgoPPTFKAlZMglSLTgMZ8TKZ8HTZWVfO/iLNzg1YRKfMYfxLMlpOwdWVxO6eOPvSVY9UWW7MgifMgXwSkbLI7kfOSaeN7gROwfdSzXwNGeHLMizNVfaYoI3SrZ5K9jwMQbFSchbMndCZ0PtGbnHC/p9WQP6V5b+JagsLMkSI0haJSnUScdVUtYNYRXqNNkzS7UQNGdjbAV9P1hRHRknY3JWYRTMF9o9NGdpGbnOYZUxScXJMYdMLjgSOhcuKHmBNzd1YwTPThXNNdhXGylUNNcTNzh+I0jtGFnWO/a3EaoYZWJBLMi/PtWfMYjsSkdSPWbESVYMLMdmYZIXdCWtYwSFT/cYEDo+FApnNzfTOwfMYRIOeOPsZ8TGYgK5DlpqY/RwOKgBM+k3a5LRNkekIkkeSrYVNdcxOpgNOwgNO/gNMgdTNsdUMYf1OheYELojZ8V6GyluLMjoU0UgTocGYZXLYRQQODfsLMlLScYdScemOhhvMgbvKtliTZWpYRYBSVd+Z8PtEDp4LMkzOZjSN7h4MYjxQMbEH3mmGblYPPe4MYg0MgluYoTWNkd7YgQeKAlEScPYT4crE4pnVLdqI7j+YRNcLbhTH3nsL6f5PWhLSkQqQTZLY/S0ThU7MYbtUeXWLTjsDVp4I0khYoXHYZSDKPmGKAlyMYhRSrOUMgeGeOLHV5NiMnddLMmjPWS1bQG5Z8LONse5MnkZNVkLOSYvP1eaOZfaMYhxMYjuSVO/YwQ7ScN5a5K6I0lyYgO4MBiIXFKeDVp3d3NCTwZAI0kxY3XYZ0G+UHNpMYkALMWnZ8QKNdhVLbhbJSmqEDofYZKObmUzGbopNseBGbnESVajUtYjOKjkN7e5LMg5KHjeSkS4MYYKWQTwS7b2PWihYRL8OwhBYZSQMYeBHonjOKZYTZblJxkRZGMwH3oNI7nrYZYLLMlGPWgIHJo3YZQuUtIKQEd8FXn+ZOPzLMi9OwiJNsl9PeW/P1gjI0lpGjmwZ0SESVYaYwQKRIgeY3P0PteuS7XKEaosOpfiYgPnYRRZUWNdO4XrJxmBUtYzFIptY3VpO4dwELp2TRVBMYapYZZDZGUlLMkEKmk9O4WpO/hiNzfQY/Z/SVOGUWPeLThxelWkO/gyNzhcMYbhZdOAQEcPSkWHLMmULMimJxl1PefRNdeIMYfjLMgXVLSvScUBY/SLNsdfYgOKH3oLYgRJDdpCP8fYNkijOhkFO/Z0YwcsScegGbmdYZVHMYgvJSkoOwbfSVSbOwhxZ8VDE4oVYoVGGjnDYgN0axRVJKnkQqiHZ0X9SVZ0DOprR2aFGykqSkcKI0n+PPhINNYxLMgRSVchSVNqVTYiMYjXQTc+MYhLPmjRYgJ+QTlaYZLoVLIMPHc/YZS4EDodOwbpI0nXIOnULMmlI0lDNdfUFfpYYgK2I0hvGbo2Y/XOI7kUMgicMgYnPHeSaDYWODb6SVUqG6oYD8p1QEYWMYjaYRZzScctS7Z0YgMSP8diQba9L6k8MYjQHBlOTKTBX6ZpM2cDLjj8PmeDPWgDSkSySrclI7k3NsebMYiYU8OqLMkIScWdNdjJSkR8XcU+MvbONkfVLTfYScS6E4psHRmLO4XiF1pLYRWjK9lHMgdvSkcBQ5XRIOoKYRQ6KXkRPWZiMnZXSzb2ScZfOpbeScOeEDo/NGdESVJvSVVyOScsUOP5NzlGNsbMSVTIPPW/SVdiY/LPYZLzEap2I7kSN7eUQEa0SVPsSkSqScdESzVHSVR9LMhGSVaBL6lbHgmDOwVzNVkpSredMYkTM2dPODgWVLTaKHhKScZnTRV+YRLJLTaoScXASzMsI0ndM2ltFmpTPmglGjmQLMflScZ7buPKNGdfESp0NzdAO/foScZ3KPk2Ska4TwZFFupRE4ojFfpVMYgiGrmYVLTwO4TMJpj5YZOvToaRSVLBYgT4JSmqScdSQbfdTRekOwcuNsjQI7nVESp/I7nrSVS8MgZDa5X/FXpjI7jZYRLvYRTEMYf+MYjUNNmIPHcxMvbwTCbtMvj+DGpoM+cOSVTfIOlMPPYAYoLiK1fFd/JnI7j/H3l2YgX9KXkMO/d9EipwZ0PmMge1U0Z0YRIqH3myO/V/SVX/TCWYP1j8D8pOSchIJxk/NzZSMnk4LMf5aDTEOSdYY3RELMgLNsfTLbkRLMlyHBohLMhgYwRnMncILMjiI0lbFIn+Owe/KPmyHYoKI7j1I0nsMgfUZdQdSVbaFPoIZ8PNSccVMYiuLTh1O/a+ODj0FfnyK9k5VqVHN7fPMndASVVvSVcgScSJRBcbFIpcS7RQSkR0LTl0ODeyPmfZM2j2MYfeYRMDMYiVYZRdScT/H3llN7fkTKJGPHeGUtXfU0YvMncOYoQSMgdUPecQJxi0PHgGRYhbI0jKI7ksSVbYMYkhZdV0ZWMbMYgPMYcXOwgkY/VaI0k1OweyYZXiYZRxKmkEYwMHZGOGNdfFLMi0QicvJ4lcS7WvP8guNVjLO4eqLbmkLMmgHRoVKXiiNdhBYZOdScP8JSjxScX6YRYBO4ZOdCMrJKjeELp+PWbrcFP3YZKbSkcIaaWaMglALbj2O/bQYgHFHJl6ScJcYZIzN7j8I0lqOwaSMYfzI0ldMgZlFmn3O4fUU8SyWfK7VTM7D0pBSrHtS7OWUtWHLMloMYhRYwWtSVO5WXLYSrZrI0lQYZLEYwK2VLcRYZQFPthuSVdcaaI7TZWMPHfINzjdUtRRYZKTJxmDLMlxO4jgQidRF9pGR+eiSkSUMYjGSVfhI0lPGbmITKVuO4ZaM2VdUtHGLymMZ8KgOwTgbfIrGbnFSrU6I0kzOwf2ScQNYoWRFXoCYRRrSrayQycCKXnKKHilYZL0MgZAI0gnDdpjLTenSkP+DdphSVVEMgdNOKe3JanKScTOJDkCPHXeSVPDTwTGGrooMnlNPPiuYZIjH3n9O/eFMYlyKXgYPtc/Gjm5SkhLZWHbTCdrI7jaYZHZSka6KAkGY3NxNzeuYwUMYRQcYoR1ZlPjMnkyYZLGScZVO4ilSkezTCPVUtHmMgfTJpmOMnc+OScgGjolScQ5Pmd4JakZOhW1VEWRM+cAGbozPmX1QMeDKAmYNkh/NGXyYRJ0JDoGNGccFXpfZ8LAMYZ1NkcsSVXpTKMvKXkNMgbKIOllF9o6DspYLMeCNdbMScQIS7QvMgeNScagDVpkScfwQbeXYgSCLMi6Ndj0I7jvSkc8ScapUtQ6SVa5MgfPScYuOwcSYgO/TZc7Q5dsU8VGMnkmUeMfLbdLMndzMge2QTYgJ4jwdCS2GFo5H+mJKPlKMYlCYgVKDVoqcjT/OwcxI0lcDVpySVVrScZPMgbcMgbpMYhEH3nyY/IdSVOtMYgeOwe4NkbXMgbgT/ZnMYgVaxMVMYi5O4cVODgxTZY9JakNYgLJKAlXSVY/LMkjMYd7SccjFPpdTZRVSkXbZGNGUtYcWIZtMYXyZ8JdLMlrNdjSYZH1Owf5dRQbEaofMnkRSVaBTwR6F1pFZOUIWBWXYRLBYZOgFmpTSkW7MYhKO/hmYgMPFPn4NdkNMYgHSrX0GUovSVZxQMcyNdeUYZL2YZKgScS2ZOOBLjlHLMgYU0XLYoQ7UtPkMYbxO4eVNdjtFXnfI0kuOSdxGbnWMBjHODicMYhkS7OWHYmMP8dWbmJ8ZORjPPeMMYgvF9o4M+kAYZNFSVQoSVgBYRHsNse3SkbYY3NrPPc8ODadMYebSVhyQMiRJ4lbSkSBGjm5Ptc4cUKaLThzSVRLKHh4YRKDY/JwScZeZ8RfNsdbScdsO4gVScO0MgV/IVlnGjmRJaiXScHCSkdtT4VGZdXfOhfnLMeNKXlcLMjKMYhfMYc9TwMsNVbeO4arYRWOYgVQEDp3MgmTZGYkZOLOMglPSzZ1LMhTJKnHU0VfSVZ6LMltIGnyYRMUHJl0SVdyZlJpYwLMYoM2YRSpH3nzSVhOUtVnJpmeNsj2YoTxYRTkSVJPPHdlEDp1E4ofFPoJNsXID8p5F9pBLMjeYgY4NGlkKPlENkhiScXgOpkdScZFT4UkMYfYY3NxZtLVLMj+VTZFYZH1YZLSLTYeScMpMYeCYZTFTKVVH3jcMYhIYRTQGjmdSVejLMlBDVpiSzfLGjokLMjkI0l2TRd8PWeaLMmiYZUpDOpsMYgPMYjEDlp8PHcSO/eIScPqO/ZPScSmYRH6MYfzYgSLFPoGZGM8LMilScY0Y3ToYgL5EiopPPZLTZTkMglCMglTZ8HENzg/MgdfN7diZ0PZMgk9TZPNFPoCYgLGLMj/HJl4Nza0YRMAYZObLbk7NNb4GbnPYZSmPtUyTKZWNzd/ScfFG6o2HRoIQMeNYwRJPedoSkboELo8MYljLTeEMgeGGrolYgPbOwadKmlRQEUdQTgfEiojSVfEYZVZZtMpEDomYgLdI0lha5TXScUVPWhpYRLGKPm3KAmCYZVYScPgEDp1Scb7PPe8YgQ3O4gQYRPuNNb9O4gmSkVlKPjmRIONO4a8ODfVLqloKPlWd3IAYRKsMYi0O/crLMjIYZMFYZNFRIczSkc0P1ZwYZKcY/M9I7j2MgevI0nlLMixEDo9YZTZOwZTHvniV5OSMYdGI0nWYZaiSkf1ODeISVZzLMlnSkd4GFo5I7nkI7kPHvntSVSPVTJeOhjlS7YfOZklMYcsMYflELp2MYeaLTluDOp8H+nsKtlmPPb4MYerXrPGKXmEYRP/O/eCNsUTHBmDMQk9ScfyO4VtExpnS7UcDOp3LMgtODjSNVbCMYjbR2f9OpcNLbgtMge1MYeuLjkkJ4mRLMdQT/XaMYghMYhtGrozScWYOwdtYgPXLTkDPHcNTwbVbQKxKXldSVYMOSe+NkjYGbouOKjDN7ieScTTH3oXU8PUKHi4ScdCLMhAY/M7SVawYZK+WXKZeVK0SrTMFXnyLbjPSkI9KXkUXFV9KtlTSkYcPei1MnYdYRYpYZb0O/WzI0lbScbDZlU9FIplI0kBFPpoQEfkH+mBYZHLTRRdGjo9I7nTOwhLSVcpL6kCLTfDMnm3H3mkMYhcYoQQc6JMESodNdcRYgYnLTj0OwboYRJ3YZQkR2XIFun8EppwScQnLMfWJpj5F9pYI0iYdvTJYZWHI0iRPmfLZGU+MgemQEcYKHmOLTauZdKsThO3ODhnI0kPOhjgYoV4PHjQDVp3MgewLjj8MgdwKHlqbfQuMgeaYoLVSVZXI7kZU0bDTRO7EDp1ScZZYZRTGjmxLbiFE4prLMiLYRIXGjoyUtSKO4g5YRLtSzcqN7faMgetSVROVTO0PWlCFAniSkTWFPpdYZKdNddtY3PHMQjMMgciU0RRH3mpOSihYZXjSzWcaDXyOwU9YRL8LMjCYZO5RvbIYoXsT/bkScYhH+mHLjjxDOpzK9imYZSzQEjRI7h6UtV6SzeaGbnXI0liMnZfTRNDOwa7FmpiYwL6PHgSYCP4ODcLSVTxMYgOYZJcH3nhOweoThXXELo0cFJLH3mgScNoTZJ3YRTlOwZtOwhVUtVKOpepScUYMncRa5R4MYdDMYfWLMiMO4c7HooJMYizYZK+PmhfZWPZelODDVprMgleOhkEYgQ3MJaIF9pWLMgQMYglMYbuLMlIScOkYZN9EipvLMjNYoM7MYe7PHZuKPhyWfRbMnabMYYuSraVYZTQScRiMYk6OwVQScSUQEdoQbaCJKnuMYh8TKe2SkcQWQPQGymDESp3PHZIO/cYSkdRKAlIM2kYQTZ9Y/WCNkidZOW0OwhMOwfFI0k6RIR+RIg0MYeJTCR+G6oeScbVO4ZTLTi7MgdoVqQVS7f/DlpiY3MHDso+I0ltScTEScenMYbyYRNdH3muVTVdEDp9VTXZELp3FPn0SVd1O4bqNzjwYZUaMgeTUHS4ZdMVGyo7SVZwOwi6PHecWQImPPgBMncKFApmS7TiMYiFMgcfO4gZMYiATCZcLycJLTjUPPcAGyoeYZHuHRoZLMeiLMlXYRTAUHUYO4YZOKefDOpzS7WWDOp3O/i4GbmiNkdrMYgAeVMNHglpSzRZMYdzUtZCLMcBZ8HRSVU8NzjLDOpmYoOLPtbHaaIHLjiUIGofUtLdODiBY3PpNGZ3Sra4SrNFJpmhapKbJ4jkFPn2JSnIYZTSHYoSSVWTMgdxO4YZI0jjE4poTCVxI0nnFAoWSVeeFAnKI0k3bfSiKHmeSVPVJ4iCP1c+SVe2L6jpNziwO4ZeGbnWM+bgNNdmYROSMgchOwdGU0c2Sca9O4d4PHjNMnk9DVpzQidcSrT5JKm2SrXBZdTAYZK1SkZRPthzV5bpLMmYelIXKAjBJxmJO4jnKAmCSVX/YRRqMYiuSVaLMnlAScMdMYdQaxLVdvHdO4eCScVLYgHYL6gsScVuEDp1ThWuSVXDKAjXYZNpKtjdI0i3MgeeJaieMgekNNleO4gsPPi4I0juQyUAEporGbmMSVTaD8pRODbFIGk5ThYJScPYLMidGbpBNsctI7jJcrSwGbijDso5ScU4LTiOWQRfYwPwMglXMYg6OKiJESomJ4kQVEX9I0kfS7X/P1gYZdWbSrVuHomjPWXPI0lYESozO/iTOhijXFUDYZSlUta5ELopSVaUPWTvNkYxP1bJKXljYZT7O4b/LMf4RIWjI0krSVLsDVppHYoUHvlCMYh0PPatHRoIOwYYbXOkPPXkPWbXRQPeMYfKJSmoYgUeYRT0YgI4I0llDdpjQEYcYgJbScW8b9U0ZdH7NGdAY/aEP1dSFfn+O/fzEaonVEYQYRVGLTfOSkUXLbhXYRUWYwVKI0llbINrScY+ESoJYZZ1Hvn8YRMFUtKEQMWgMgcEMYfAFfoAYgK9ScMSO4hHYZZDPtaFF1n0ZGXNOwbnODdhScRmZ0JCVTdZQ5bAO/ijLMmOScPrYZVoUtMeSccsJxkVQ5d9NkXGODcBO4h7I0kgQifcSkYSa5UIFPplTKRnPefyZGM5GbmMDlp4TRXrScQBNzlZScW6ZlIFYRRtNzeiYoNRLMf1QTgzYoVeYZUXYgS4YZO1NdaxPHlbSVZ1DdpiJhnIF1pPZOI3SkZBeVOVPmR+YZSRXFHEFAoKM+blYZMSScSaNkiYESovGbncYZRsNkbMPPTjSkfEU0PEFApqOpj9SVaoYRNhSca2SkJ4VTW4SVdJOwcZPmbXNkdJKAnEZdXQQTfcMYifZdRlOwheLTjbGjl6TZOvbQRdKmkyScboZdZpPHgCDOp8Ean/LMh+SVcXScNYa5IsZGHYM2j9U0PjQMcWU0PqGrmVScZJPPe4SVVBFIoDI0kxLTiWMnlVPHWkSVW6O4eKLMlhSkVKSVfTScXvFupLMYfRYZT6Sra+Gjo4OKc+NdjTC3p3QEfRSkRHO/dSSccRYRMfLMiNNVcvOwcOLTiOM+kLYZPsKHnDHooDMYfbELosKXmYDdpZI7jeScW/OpiFSkgMMYg+HBlOOheaScUZKAmwScYTScP/TRW7MYgoFPnaJpmWFXpdSVU9YZKALMeuPHZDJpjqdoSMSVagPWS/Mgd+MYfOZWcjZ8LZMYiPMYdbO/lCDOp5PWfwbfT3Gbl6F9pUScMxFAoVHYoAUOcESkVaYgPoYgTdQicLYZPdJKiHI7iPSkbSDOptGFpHWnOyQTbsVTUsNNZMFmoAYRLqNdd0SVUPDlpiZ0NrLMjHDOp3TwKUeOLLLThaScJAH+mnMYhPSVgxDOqAL6l8O/Y/Q5QMMndKScVhSVVDOwU0LMluO/beScXVFfnnQEbfUtS0eOIwKAmEOSi/NkbUdJLkYgMHMgdXMYeVHvnsRYeyNNc6NsYwHgogI7jeYgSsFPoCLynKYRQpThILSVaHNdjHPHgwO4cHGrkzSkOuSrYhFfpcO4gwYoSkU0UFYRIfPtdALMe3O/eLPPW+MYfPLbnRI7nVNNcrScXoSVVJS7HxNsYtZ0OASVZFSkeYZWTlJxmoOwhsNNcdSVUOGyogYZUZJpmgP8eeYwKtTwcaI7i5SVLmYgO9gpJ/f+LihKNPhtOEkPG/kPG/kqHTkPH8kIKVqNHDsELywKNpkPPkkIRfm/TLeNTpfwWWhYWwktWskPXteNaggValkPbU"],[697.15,525.85,"FXnWNNcdQEeYLyXIScOiELoXFXosHJnaMYa+FAo3GjoMGjnmGynpLMleDlpqNdgrG6ocSrVRMgiqESpjLMhvHJmrEipXNsU5I7j7ELpsOwYnF1nnESobHBmMI0mAESpVI0mqJDk8FmpCEio7Mgh4Exn9Z8L0NkjKSVV8LMkuMgapHRjvFXpTJDk+FPpnMniaI0mEFAozELpWEDplHgnOMniNI0kvFXogFfpDHgnhLbjTG6m7MYgvG6nNGynaESo6I0mrEDpvHJoJYRK2HYn4ESpkEiooI0iKMggYNdh0YRLqNkhbMYiRGjnXEDpcM2lMFXpkEaouFPoyGbn9ESpjNsY9YZOKMnhAMgc4TCXxDlpWVETzLMi9JhlHSVfWMnicScKjMgjYM2jbO4fuESotE4peOpiCHgmGPHihMgcdLMhwbAQ9RBawLMj3TKWrDlpaI0m5EiowEDpkD0poF1pQMnXYODQVELpaG6lIM+iBEDpKESprGrlvOwfILTkwEDpzI7mJOpfEFXo1ScHkGrnbPegOELpXPWc8FXptO/NoSVYpO4eXMYhCHBm8KXi3FXofLTjQPHNBSVM5I0kDDVptFuoSY3O+EipJM2iPGboORQbEELozEDpIEDptMgaxI7lnFXoXSreBM+caSzaIFPpHFXoTMgh2OwKQPPZeMgjfKHiEHJmqMggGNVh8ESpJMYiCSkRjYRKfFfoRNVeuMgg9M+kNFAolKXg+GMoiDlpgGbnZGboVEaoyDspxHvm9HonKOKYaI0mHGbm5MgikScZcEapnESpyLTkXDspeDVp0D8pjHgjxDVptNGbtGbnpYZPsG6oCJakuSVXJEDpQEppLELpeEDpXEDpsO/ZTEaplKmk6YZUSFXpXFXo7LjXbLjgBHBnbNNgZESo1I0jsPHb9PWVLEDpQESpZExo8M+d+FPo4KAlYScOXJajhHRnwNGiOH+nLM+V7EDpkEipnGrnBELpHELpGYZVaFPpEMgkXESpGEDpaESp1Eao1Epo8O4YuF1pTJDl+FPoYM+feScaxScZkFfonKPiqGrmyESpoGjoFMnhuHJoQE4plKXmDGyoSGbnbE4pwFmodEpotMgjjL6bAGynRGyn0I0lIO4fbJpjDHgn3M2hjPmYNGrnNMgiDIGkIELpyEapFI7mpGboXI7lILjknScUiLTkcMnbyEDpJJKmeQEjENNfGFfo1ExpEI7m0I0mrY/VTGbm9EDpCEipaOwa4EppMEDphNGfoSrO7FXpMGroiO4WhEapTHgn3S7dVKAjXELptYgOMEDpJEapONzaFF9o3GjosHBnyNkgiFfo2O4e5K9kHFPoZMgX+Dlp5EDpWMgi4MnfzJDfTI0lDPHZ0FupFHBm6I0iGNVjgYZKYT4RyLMdZThQwF9pJOwXbPPXqOhbZLMj9EapXFXn5EDpYMgeuMggGI0lCDsptI0lgHBmkO4gGI0mJSVKqGbnRI7mtJplAI7mZI0mAGjmpS7PjQTcsI0muNdj5EiprFPpANViwELpeELpaEDpZPtfCMvhtN7feHJn/GbnjELpaSVTdThVIO4esELpQVESfN7iODVpvJDkXMghLKHkJEDpGG6nwFPnrI0mDNGkJJKlvGjm9M2ezJKmEFfpHO/iqGymtI0kOExpKNdlVLMW6JhmNFPpNbmNySNbCNGgwJKmaGynBHgnPI0mpMYbqGjnTEapcGrnRGbn5O4hVF9nWMYg8M+b+MgeqEDphEapkNkiRMgh9JDjqI0kdMgh3LMfYGrnqFmndFApeDspyPPJrMgbjFfpfEDp6YCUnLTfqKPmUESpkScYwLjcZG6mHOSf4S7QHHYl/JDkRToX3PmdwELpIEDphLTesEapTI0m2ESpcJDlEI0l8FAo4LMlOYRPVS7QSLMfFMYjgMgaZFfpEMgkUESpdI0mjEaovNGgVMvixMnfqLTaMO4jcGjkmM2jyNNiCI7lRFPpBMYZwFmo8GjmeHJnpFfnwELp1QbXzP8iBEppiEapvMvd4QidZDspPI0nUDOpuOSghDVpxKHm4H3mqYRReLbj8MYkUU0TRSVTaO4byI0l6NNgWOwgmFXoxO/ejLbkgELpjGbnZHBlbEDpsLTbRMnXJYZLHOwZYNziYHYn1NzQVFPpKMgaiM2jpEppHESpUFPoMDOp9FAo4EDpcYoKOJDmVESpVScbJYZJiGbn+DVptJajRFmnWGbkAFApWSVVGELpzDOppLbktFXpOY3IjD8pfGboNPHcwExpHFmomGynbMYfsGrnEO4bWELpWGbnYOwibNsksTRXZO4hZEDpqJKl6GrmFLTi7ExpVMgiUTRLvGjoIFXoFMYfqYZV0HBoIELpnI0lOMnh4EipSOhfwQ5geFfooHJnWD8peI7jzFAomI0mSFXpMYZSgYgLRPHYyNVjmFfotEDpgLTjvLMijYoNZESpuFAoWHgjaLMhyG6mcDlp1D0pjLMk1FPpMFun/MgfQTZYuJSkdELpOEaoPEppbSVaOVTMEFApHM2UYFPocEiowFXpIMnhzI0kNEDplI0mrEDprHgnLMvgDEDptScedM2jWI0mMMYTeYZO4MgbiF1oXMYiqEDplOwa4ESpdEapRMYcnELpmELpzLTj/MYisEDpaEDpqZOI7Gjn/FfoaFmo/FApZDOpqQqfmZOQZEapgSVR2EapWFPpMG6nON7VUaTOmGym6I0hPJSjXMghdELpfEapdVEXLG6mRWQO/TZZMO4dDFPo5I0mDLMh2EDprELpoMYcFExpPLMkkL6hQLTkIKAkwHJmiHBnnMYfJEDpmI7mNLMh9ZONzJaj2JKlhEipQedJTGjn5EipIIOldSkUIJhmPEDpqYRLQI0l2FfoRMYhGESpSGynSUtW/VLVfHJnFD0piLMmhPHaaYgP3S7SREDpzMYWXN7avGynhVTUSEDpWLTj+FPogEDpVMYZvLyZiOwgOMYdmHol9PWfsFXpGI7mLLMlAODeWJKljOwfLEDplMYhzMYffMYgVZWPJNdTyNse+EapPNdkvEipiELpTYgHdELpSLMh2EapaT/O1ZdPdF1nHGUoiSViYLMmNTZZJOwf1GrnpI0k5YZN+KHhqGroKLMZyLMe3Nsh0I7l+ELpbLMjWLMVPGbnUDVpaNkjwFfoyMYaxNNjtYRRVLMgwGbnCEDp1MnkEMggLI7mGSVKqEio7MYhsGrnxFPpaELpgGjo6ScP1MgezEiolY3PlFApjESpkFmnXFIokMYj1FAoxOwcaHJnqLbmALMhRPPVTV5aAEDpzDOp5LTljELpVPPd/ScXCMgdGScbZMYfhGbokaaNZEDoAO/buY3IlELphScecESppI0l5KHlLMghqS7fKSceOScOaJpkbYROXMYYHELpTLMkUMggdHJn8GjmvM2gPS7c8ExpdHRoMJ4jrHJmiMYb9ESpCKmj8O4dmGyoCNdWSEDpcMnmBP1WwOweQMYkwNdehSVgGZWHSGbnwEapdLTkFMgfZESpzLTlgQiZjExoyI0kAMnWgPmecEDo8JhlUEDpuEapiGjmhMYYbEDpUODhqHgm3F1o3MYeyS7PEFXpENNiGE4pgTRRIOweUHgobM2XYExpBSVLIFfooZ0MwSVSTFPoREDpoEDpXSkVtFXowNGhpScdsYRLSI7l9MgjsHonzFPpEEDpeFPo1FfpNMgfhM+ZaELprESphMgbCOpa0EipPMnekM+kjMYesZdHQSrZuEDpNLMmCD8pVEapJOwa9QTZnEDoyD8p1MgUBJSlkEapdFIoiJKnWLTj5FApHSkaPKmmbJak8HYmSP8coSVPzNGinTZNGELo8JSm0FfpCMgfhLMmDHJmYKXkZM2czMggzSVh6TCbDLTkCMgcFGjobF1owHJnaELpnFPpDI0mlEppZEDptQEe9EDpTFmo6Gjn0I0lLJhlzMYflFXoUOKbQScQmM2i2EDoxELpQedQNI0lJFuopNVQ4EipbYRRVJpj8ELpQHonPDlpqGrn8EipQLTfnFAo3MggfI0lkMghzP8LAMnKyOwfsMnggFPmyO/hIPWiyMgjZLMdLI0i3LMkPaDNfGbnwNsgHM2WDLMiBLMlmFuoaF9nzEipNELpnHJmHDOphMYf6SraMGjnoGjoDMghqI0npGbn3LTlkScYeMnlYM2bwODcoUtdDIVm3HYn3SVQyEDpZEipPI0mcJpmoFfoyGynyJhk0EapfDdpjGboNGbkiVLUtELo5RBdbI0ngVLY4EDpqNsdyMgWjSrObSkccFPogJxmxGrnlPtgJM2iYY/NIMYjPRBXqMgh8GroxFApYQTbLMYhKMYhlESpMHRnzDspxFPo7DOp6MgeZEapAEapcEDpQMgeiJ4mZJhk5JxkrFmo+I0l3MngqM+joQ5YsFPphMvj1MgiJHBnEYRPvDVp/ELp4JamdEDpPNVgbGbmfJSmDVTJKHgl2LMiEGbnJSzYsYZKKSchuLTjIE4o6PPQ3PHg2YZL7EDpxEDpVOpX0M2iJNseNJKnDJpmKNGkUHRoOEao8NNghNVbPS7ZgMgZTNzgaGjmqY3K7O4YrI0lILMj2PWaJFAo1GjoFLMjnFfo9EDpgGbozEDpnKelPSrMgEppeNdgqI0jXLjaYLTj+Ljg+GjmrI7myNNaWNsfCELp1DVpjMYk9EDobJhioGbnhHvnSNki8MYcXGboqLMZESke2ELpTHBmAGbnDGyohM+cRLMkyEio2MgPzPmilP8VeEDp8YRMWDOpvG6n+D8ptPWZ5EapFFPpaEioWMgWSODb9OKgMMYjgMnc4NdfaMgZEG6lXEDp3NdfHGyklRBd2ELpuEipiEDpmF9oqLqhrELpAJDljFPocI0nEGjnpGrnoLTi6NGhuVTX2SrUnEDopNzdLKelZU0O+Mgi/I7mTEipcUHQxEDpbMBVvEDpcELpvEipXSrTeE4pQHvl4F9nrExoVM+j9ESpvNzfQSVO0FfoJM+hDMvftG6ntELnvFml2OhbBM2heFXo4EDpQFPoDEDpYGjnsJSlXM+f0LMlyHYmqDspRMghFMgk0FXo+OwbJPPi9EDo5O4gPMYkUMgeBESpvI0lTGrmOM+iMMgb8OwleScdDMgiHFuoiN7jOI0lxH+l/Y3MyDVp5D0o/Ddp+I0lTLMinEDpVHYmWFIpREipiHRnzOwScNslLY3IiEDpPYZOuELp0FXouGymkKAloEDpqDVqAMvi/GbmmHJnWGyjDMgjJEapiJhnBExovM2bRNkggI0jjJSk2ELpuFPo+FAm7FXn8O4SFKAmZMgbqMghNGbnsFXpEJakcKelBMnS+MgleELp/Mvh+FXoYKXiVF1oyZdLrIOj/GFosDdppMYfuFfozDlpxP1fvHRnGGblcO4i4ScbPTCV9GbovTwRuMgb1GymqLMkLMnfYMnhII0mUMYjUTKTtELpqFXnhFXpLO/c0ScVxLTfKESpnNGkGESprGMnhLMmEDspxDspaESpxGMogE4o4SkViSVdCYZIyJKj6GrlxESpLMgilEao3ESpvLbgREDpuEppsDspeMYbLZdJFLjmCScTbFApxGrn0SVVVSkXfOSh9M+jaJDnCEapgFXpODsp1Eio8GMo6Mgf4ELpyMYjCNGlIGjoXDspPZGLzEipfGjobMYfYGjm4FXpcEDptNsf0HvmPD0pzJSnDScY7ELobI7j5MnfnESp1O/hAJal1MvjYFupNE4pLDVpRF9oWMveSGjnULMffESo6I7kcFXo7ExpEJhl9FmoADlplScchEapzFPpPMglSLMkmJDmyLMkWGyl6QiWcHYnGNkYsDsp2MgekFPpGOweQGbotMnhmOwg8DspzMgZWDlp1Ffo0MYh1OZVSEao5O4eOYoQEFAo5MgcOHJnkNdfFEiplHYlVExpaTZXyFXo6SrYwLTjqGblmFPn+OZczEio+EaphLMhAFPo5LjldFmoXEipJOwczLMkAI7lwMvhQLMjnTCKJFXpLExpoELpoFXpAe7L8Ktj2HBmdMvjvNsiwLMhpFApiKHm2EDpGLMiNGjnUYZIcEppbFPo4I0kTNVhiGroebuMtI0mxExovMghANGQlDdpyE4pJJphsLMipMgcbJhjfMgi0Ffo2ESplFmoXEapoDlpfLMjfZGOgI7gUHBlwHJn9MgivHRoHHBnMD0pzOhfOHon4PmgdSkMHLMgtNsaZMYjaEDoyELpvOKeMYRRtH3jpYRJ+JDn7YgLIJKmHSccMHonFFXpaSzI1E4orPehtEioJHRl8NzjEMgapYRK0OwgcMvaLMggeEpoeExpnESoaEapdLMkHR2VmOpgSYZIbFPpOExpXFmoOcyOqYZNuSkPdMgiAEao6LMh9NNhEEDpJMnghYRLNN7ixGroFF1ocN7cbPeS2GjnpIGm2ESpqLMiLFXoZE4pHJ4lKLMdNHJnIWINzLbipJDk/GynkEDpMEDpuI0n3I7ndG6nTKXldWfUGScTnNshoScSZJDlSDspvSVU4FPpEEaptHvl0MYfQKHl3Mgf2FPpUNNbCLThYYRP6EDo6LTjqGrnTSkN7O4SCNshcLyl9M2gwD0ppMYdPFmobMYk4PHifGrlaNNgGMnkQNGhNGrntMghjQMiZLEktEDp1Kml7LMjLGbnyY/OgDOp2MvgqNsk/SVeALjioGbn1MggkYZVCJDnNScYNFmpRD0o4GjnTbIV1EDo/ELoxOhhAEppgESpqMJiXEpo0EpopLTmWSFagKHipFIpYLMhnMYiJMYkwLMiHFIo4NNYFTZP2MgXIJhlwMgeuNskWODgKGjnZD0psSkakGbn2G6nHFXoEEapxOwfQJDlMJal5Gyn1GjnCGjn8SVSQDsp2TCT7HJn1O4cNFmpAOwURFXoTLTmbSkZGF9o8MYi3MvV5MYgxO4cfEDp7GrovMYjKV5H6FPoeO4TULMh6M+aJYoSLPtaEJKjqIsnOHBnyYZNgSkWYFPo0OwgaOZfGESpqGrn2Mni6JDn+PteVMgiWExpPFXpNPPdeHJnUGrneMndyMgdsLTg0MgeIGrmDExpXMghkMYccMYe8VEfoExoeM2igMnZ+E4pWEDpxHgnyUtddMgjwYwIsJpk0Grn8ScTFSkWAMYemSVYUELo1YZP/FAoYI0lcQqfWJDm7FXoVDVp3EaoqFfo3MgZ0Mng9TCbKJDl3LMksHBntI0lxLMhDM2e2YZLiG6n/ExopFXpASkWIDdpoLMm4SkS4ZdPLO/eWEDpBHRnwUeYtJplbGjnSI0mBESpvH3kmExpQGjopHYndF9pMMgU/ELpvIGmONNW9EDpMOSioMgJWTReEI7l4KAmOOZgSGjmmD8o3JKmFaLMZEppXSzXvGym4MYfyPHdxOwbMFfogMghmapMGSkTHFIofDspMMvfGMYj5PPUFHoksG6nmFPpFM+gmGjl1MvepJDnIZGKOGbovMvlGMQV/GjoyMYbrESpmMgWnMgj6I0nNMJl5NdiOMvizFPpFYRReEDp2EppANNcYN7X1LMkdTKVBMnjLScZYYRJDI7kzLMjMTwUpYRNVMYdsLjj3LMj0EDpyMghMLMljYRP/MnS8FAoFEDpSFXpSMYjMMYlSHYmTG6m9ScXgELpEMYj3O4fBEapmM2g4YZIMNziXScWwEDp1DspeFfnbOwWQSkahEDpOSVIdELp5LMczLTgUScSXGymaELpGWfeeKXlCI0kkDOp1MgelI0kOGyn+NGQaG6m4NGeeKmkiYZHjYRS1GjlhNkgSGboXO4bSKAltOKgsLblUG6l5MYisFmobMYdrESp2MYatMgc2Mnh4ESo1PtXOMnbsEDpFFmoaGjnZNNhSLMjjGbn4JpjwM+iFKHh+GbnEO/OSEDp0YZHgFAovHRmZI0m+MghzYwHDPPXlHBnXKXgHEDpzC3p+ViQLMnizNkjQNkiHH3oEFPpVPedJESpDFPoeDVpmDsplScUfOpbLMYczI7mkLjjXDVpnMgXwI7jcI7mEMvnLMgXsFXpEMvcmGymoD0pyHJlgZGN8HooHFmo6Mga3NNmNPWfZJSmwMYjcaaIrOwi+NzfqMggZLMhcJKmBEDpPGbm5GroROwcTM2dSFfpIYoJ0JDj0ELpsMgiJO/VqMYjfNVaBMggZU0NGMneXFfpBFPoZLThvYoXwGbmtESppDdpjFIpFIOm+SkPrFXpFEDptLblZHgmjI7ltFmoYLMiyGbn/I0m8EDpSM+hyN7UMOpkfGrmiFfoVMYhoScLEFun6FXonESpDG6oPOwX8LTlwEppoNVjlMYgyScQ6FPopThY/YZLaM+jWYRX+I7ljOwgeFPpWYoLrJhkRYZIoLMl/Mgg2LMj6Ffo6NzWvPPZ2HBoGLMkhHRnjMgdQEDpBMBkaMnd/MYhYM2egMYhwSVdRYZLAFIpeODYEEipmMgf3I7jlEDpQMghSSkMJLMizI0nIFmokScdoMYjsJ4nCFXpUNsfdY/JaGjn8EDpTLTkOEipgFfo7FXpEDOpwVESqI0mxQ5cPGjn8O/fPGjn7NsjVScbXScPaMgYCJDmUMYgYMgj+I0kGJDlvMnf8H3mKYROoEppZESpxNsYpFPpUFPorMgeBScU9HYnTHBnJYZPmEppiFXpFC3pWFAoUESpuFfpMHJmJMYZdFupFM2guYZRDMnhBYoLOI7lXPPVxMvieGrldFXoeMge1EDokNdfeThUdLMiEScaRNzdnNzbUM2ehM+gTMgapGboJI0mqGbnhFIpQYRVFLMgkJSmwEippUOQTEiprEDpJJDmVDdomTCQOMgjaLMdoI7lOM2j4NVjwSVVqO4fpEipiGjnBNGeRDOpVMgjZLblcPHSlGjogS7dTYZYfFXoULTj2MgeSFXoYESoqNVZkKHhxFXojMYf3NzfLYZMmMgY8I7l7Z8NwNsfgGbmcI0m6LTjiI0mkI0kbESo9NzgLGbnGTKY2HBnbM2feMgjRFPoIGynrO4VVMgjNScZDGbnzGroLEaooGjm+I0ljSVU0GMpBLTlPEaptGjomEaoyJSl5FPoZMneeJKlVFXoUESpBHYmhMYZ9DspjHBnDX6WQELowMnihGymlHgncU8KvHoncMgg2GbmrMgZaFXnfI0i/Mve7GboSRnWbKXnHFApMMgfmJKkNMnjkHBnxSrIhH3kDPHQ0MggHHonlFupQMgjnLMigJhjkGroWMYhPMgcGGjnnPWgROwgsG6nDEDpSNdXnEDpxELozEDp3SVZUNGhYMYVZEDptRBfqGjmvLMfSEapmOwf3JxmdMghyEDo1TRazHJn7MgiJYwPUPHaYHBlxGrmiSzS/ScdNI7jiOwaCLMicMgfiO4koNkjGM2OHLMkSLblAKXh1EapsMgTqGboMI7kyZdRYYZREOKhmEpo7FAooSVRXESpwGrl7GjltYRTxQENrOwWnHRncExplM2ezFXpdMYbrMndzP1eKMYinGrohLMlEDdp+QikZMgirFXpGMgdZGrn7Gjl/LMkESVccEDp6DOpgU0XuDlpLI7m4GbmJELpuFmo7FPoTYZJhGjnqMnfMFfohExpgbILCLbdkD8p6EipkKAlYcUSXI0lWMnaQJplRM+Z8NNh0FApiMgfMEDpyOwKnSkN7OwaqMYiHGboaVLYFLMksFmozFApoLTgVI7nhSVQbI7iCMgjbYwQOJDmvJKkvMndHSrS1SVWIJDlKaxS7Gyn4FXpPNdixNNgiZGSiO4dUI7knDOpfMYjhFXpEYgQJOwiNODg0MYkDGjnUMYhAGbnWI7kbLMjCLMkFHJneYZKDEaoFTRRcP1eeO4YhNkYsEaoSSkWrGynFFPpkKAmuH3nhELpzI7lYLMgsSVVDQMPqFIpVTKQDSzN1SVRMSzaYYRTZNdeIT4aQNdjJJpiYQMbLKAmaFXoTQMQsJamQM+efMYgpNGXLMvlPNVgbMnlLMvYjHBmrD0p0FXpaMYdsLMl7EDoRTRY8MgjrHJnSESptGjljMgdOMgVnHYm0NdizMgfJLMk1MnguGboCEapoViT9GjoVPHgjMYlZMgg2OZbBSkPmSzTcKPlsSVdMMgkhSVVRJDkkEaoyG6nsLMkYLTmQM+e2GjmEG6j2Epo0HBn4GjnxI0lsMYYaMnjqMYhaLMfNMgclMYhHUHJOJKigG6omFPpQMgUvMgfiGboqPPVTESo0SkLWSkcZI0lbMghiMYhmMYdWPWgKFupMI0idI0l+PWT6M2gZFmoyI0mNI0nuDOpsI7mIG6nVNzULELp0Grm+NzcfGroZLMmNYZM2I0jMGjouM2hKTodvViWoPHiWScf1ExpcSkNYGrm7ScNXMYgqHglLMgUWJpl6EipnHYoQOwiAEaohL6k/GyoOMgiWOwW9NkghNdkUNdbTMgalHJoMZOL0MglYSkalTobyP8WBMYSeLMh+YgJnExn6Gbn3DOpiFPoiLqjTN7euGjovMgi0MYjGLMfqJKmrY/PtHgnkEDpuNNdlFPoNP1icDOpoMnhVI7lgSVYXDVp/JDl4N7hXM2gOLMfcESp1Jpk2I0nAYRO3YZWNGjmgLMjrGyknI0lFI0kmOwanMYjcSVKBLMk0GFoXNNjHMYgaESoyP8XcYZPGMverGjnrNdbHMgfEESo3TCLELTmCGjouLTkVDlp8U8TZI7luNVd7MnabHoloESodNNlCFfpFMQi/I7kgFPoYI0lJMgfyGbm2Jhj1I0l+MgjbZtTiFXn/E4owEponI0miNsieFIpNMgbRFmo1EDokQMQHJhiXOwemGjm/OSccHBncF9onSzVQLbebHgmeMYf5E4pfGjm1OwbhLTlaKXlUHBl8PPaAYRKsMYiiJxmEMYi6ESo3EapySkZFPPhKPWSED8pZHYnkGjmhO4eWHJngFAokM2YpMgjkMgheI7jHMgekSrV/DlptIVnMYgK0Ohi3DVpbESpwI0faS7aKJDalMYg3O/QWDsp2Mng3LMkOGjoPFXnbNGXSMYf0EppkFmo5O4gTJDiySVTLScX/K1lJI7mpGrlVLjegFXpSNNiGOwaMU0NtDdpPMYegLMmBKHiRGrnHI7mdb2JdP1USNsjKMgcEScWOVicOMnhrP8WrLTh/NViOLTdjNzYrMghFHBnIN7TvESptO4isJSl/HRnkHRl9ELpxM2eaMge4MgiVI0nqMgh3I0kQNsNsODbuQiXhJxgzF1ozFmpJZ8RZZtSKMgdeScUmI0lQScTLIknNMgg0JpliMYeOJKlFEaoeOZgZTodIMgh+N7SUScT2LTiXKPlFJDkOSzJ4MghEMgjwESpvHJnbHgmmJDljMgi9Epn6EDo0bINmM+jcLydDI7kwI7j7O/ZwJSluHBmWG6n0HBnDN7g0MgjpLMfLOwL2M2bQFfpJGjnOLMkuOKYYL6ibI7k8Jpl0OwfrNzi9D0pxEppgHJnuEiouDlpMSraxMgaBGrklFXpaFPogPHfvM2klI0mELbg7EDp3O4UeKAjoNGh0JSnHLTgwI0mpMQjsScS1MgYtMgkVHJmqI7kSFXpKOpd1MYkeHBoDMYePESonEDo0LMjDO/c2U0PHKtkbDVp6MYfTUONOFAoXEDp7MgdaHoloFfoOELpuMgh7ThYwLbjfGroEGMlqMvcSDsp1GjnXLjb+I0kxNGgaDVpvO4keNVhjJSmGG6oGP1c2Fuo0I7j6SzJyDlpbYZLWPHi/MYa3OhT7NzbTMYT3TZSCESpvYZTMFPodI0kJEaprNVfAMgZQO4aRMnfGNdftI0nXL6iGFXpSMYjGFPohMYjnIOlQG6mhODdKPHRsMgk6N7hlDdphDdp1FunzKPflZlU9LMj1LMktMnjEIGlQNzh2MggiToalLMh0Y/J/OwfYNkdtGjnvMgj6Dlp7ELpvYoUuY/HyI0k6SVXBYZM8LTf4Mnc0EapmPeTqF1oFMviMMgjfJDjxF1pDI0koGbn+MgeDTZZeHBmxMYdSO/aMMgfwJxiJOwO9NGgpZWW8SVX8O/fSNkcHDsp3QEfWGjnvNshKN7ieMgYFOwaZDspJFfpGHBnyO4dsELpyMnh/LMmCI0meLjizHYmKS7cZMvXrNGfvEDpLHgnLESptFfnXEDp1GFn9HJn/I0kVFmnmJDjcI0llGjnJEaozYRQlWuNQJKkMLTmtSVSuU8R1DVpxMgdWI7lrMYfbUtWnMYiyTRXcMYg8I7l5NzWvLbjCI0m4JDmEFfoVLTkOMvlWM2hrPWd1M2l9MgkQEDo/Dlo2YoJrN7WaZOOVI0nlMgcwI7nKSzg0LMg0NzjHHBn6YRTyYRQ/SVa3crPGF9ogFPpUF9oaGjlQMvilFPpRPtLEYZIWQiesOwWuOhi1JDlkMYjxO4fPU0QHEipxHgliMghgMgbSN7fJSkT5DdpuELp4VxKHOwgvJDkNP8grTZbwJSj6apMSJ4jyLTjMSrWoJpj+HBoTK1ebMgkmLMiOPHUJLThzLqlZYRJdMgfQHgkWLblGMgfHExpdDVpRGrnIG6n4NViYMgehLMgWHRnASVcGFXoIHJnXKtizI7jwYRORI0jmHRj2HgoBMnexO/XCLMgwM+efI7nQGjooLMhoFfpUGMpYWnbCYZP7M2cwDspXI0jxGFo4Gjm4FXpPOwcQHBltG6nIKHlRUHXMScOmMghEI7nGQbdRYwYeM+hWM+doLbkeMYg9KAkaOwfvELp5EDotJxltFApfSzWVJDjxZWSQScWZSkbuMnjaGjoTJDnKGbnlEppnYgLZOwfWK1lyGroSYwUeJ4lJNNjCYwQOMve8M2csHgn2MnjFNzc4I0m0FApVQTbNGjnaJxioDdp4I7meSkRZJakFN7abMgg7HYnTELo6FPpbNVXGMgfHJDl2NscfZ8WDI0kcFXpSMvacMgesTZaMFXoXDOp4EDo6Eip3Jpm2I7gIGjoaScV5LTiMLjjyMYhmJSlPLTiADsp4OwfTU0OmYZSpHvndEDo9MndsaaNxYZKKO/faOSafYgJ1NzgRPeb3LMliMvY8ESp7M+f8I7mKFPoMJKjnOwj/MghcMghWFfpmYwQNMgV/HomvYgObGFo8MgdrH3mII0mxTRViO4fMJDmSGbnBSVQ+GboUMYenGym6MgdnMYhvHJnoNkdJO/gaLTkMI7j2N7VINze1MYkgI0k7JDlRI7kwHJn6M+kmI0l3QTL4FXpkDlpUKAk+DOpROZdkYZZAJKixHYm3MgdKI0mBM2SuMYS2HJn2SrHhFfpGJDktHRmTSVZUHRoENseHLMkjHBk2ScHvNsdILbm+DOp0MYjuODjHHgnLJKmdI0jRG6n4Nzk3ZGP5FPpiRfcZMgd2OwU1JDlvHolmSVeONsiTPHV7KAlSNVhwToLENdfEG6n5GroJLjfvJDk8GrnAN7PyLMk0Mgd8JalmNzihDVpsMnfzOwgHS7XKDspJTKW+LbjMTCa8MgcaELoxOSgnDOpyLjlnMvhfI0n2NGZKGymkMgXWDVpJEpnqMYiFNsjYOwifYRHaSVVtI7jJLMiSPHeUMYjLHBnuI7keMJdbOpWaapLXNsdEMYhjE4pqLTkVSVTQKmktLTjGScIvScWcFPoLJhkfV5ZKI0lzMggyLTh+JampF9pZRfc8NNIvIdmiI0kxSVZlDlpqFIohNVa2Nkg7TKWlYRJbJhluJhnLZ8H+P8kUG6ojGrobI7lGMnSIO4gCMYmYOSh3Mgc/TCN8N7V6GrmnNkhYIsmjNNbGI7kgDdpeDOptEpozMgfAFIoiLMaYYZPKHgkGESo2JhmWHBoDHJnxJDkhJKmOELo/MngsLTgRGjmbI0lCMvcSOwdrNVaBHRmdHRmDLMkoEaooScY4LMljH3n+LMl1ZGPVMYiWYoSFLbkmYoVcJDlPLTlRDOp4ODjSThWMEipmSkSVJSkLEaonI0lZI0mVH+n4Ndc1LjeBMYfXOhkzLMmZO/KMLMd1LMhdESouFApjSVV8I0lLHRnRN7gsNGioSrcJFIoeFmpFEppgJDlrScVxFIojSkNvNsk3SrXeEaolFmo6HRmSDlpgI7jWMYiVFPpnLTd5I7jWO/gWMnbmJxhFMgccMnfaJplqELp5DVp6FApoHBlZLTiMI0lyO/JQO4Y9JDkVKHmaYRN+EapuDOpmNziKJDmUM2exJDmbM2dKNdaANNgdI7lBI7ibYwR7NVcnI7k0LMjpMni+PPZjFfpTHvioM+eHJhkhMgcJDdpIMYmOTRVJI0mONNX6NNjAI7lzFPpPYwHCLMkaLTh8FmppEDp1Dsp7MYfvGbm1LMi7SkbqMYe1NVaVFmoYHgmqEposEioxJ4mVMviLFApfJ4l6YgP+LMkcMgjkOwfaMgh7SVezGbniESpwESozSVZaG6oHI7i0PHhUM2i9Mgh5MnTENshfOpVuFfnkMghmFXoONdfcaLVQEiouN7f3DdpaMgfIEpoZJSlDExpnNGeZI0nFLTZhDlpeJDk3PtjPO4g4LMoBJhi3OwgJSVLtDOpxL6jjP8fjHYnmM+gHTRWdP8cwEDp/DVpyLMhcY/PHZORNHYnTLThVDlpaOpVON7cCI0kKHYmwPHgKESorMvajUtRmZOQaSVaCYZRKESpuToZZI0lOE4nQI7nAFfoVMnjxSkKhOKbyELp0HomkH+nuFfpaZOV7I7lsEioKSVSEdvJXOSjeG6mnI7j1LMk7JpjZMYcbNGgCGbmxTCR0MgiKMYjxI7kuMghBEDpDYgN4YZUlPPekM+iFMYkRJKnOJDl2MgWIM2jrMgguKme3LMkLH+m1ELo2I0mEHRnWJxmBG6oOESozUtOEMYjkFAoBM2hdLMkQNdhmNNeZScYdM+j5JDl9M+dkYRR+Mgj7HYoIESpuLTfgG6miI0kmMYeaO4KUI0mSMgk7NdN7Mgf4NNbTDdp8MYkWFApWSVcwM2e3JDmrRBcoMYgLDdpgMggyEaouMgh5OwiDNsgWI0koJ4mTHomUOSahEDpELTkIP8ZSELp1LqkRO/WTI7mdF9n6NNblFfnsGjnXMYigGjosNGWUGMooESoxI7khLTklYRMHMYeuSVP6LMkZOZi6T4UbI0nASVYdDVp8MBk4NsciI0lgP8dkSVMKFuoHeOOSDspaYgHcLMhWGjoxDOpwI0mDMge6TRWdKHm+P8VoGbmMHJnnNsfTOKX4ESp8I7m+NdfAI0mLEDp9I7lxYZR1YgKZLMiuNzfVHYngScZuI7nRSVWkM2kZMYghMYcyLjUBGbnvYRSXMYknI0jwPtYIMgekE4oOELolOwjHRfL0ODgsKAksGbmCLMioI0jGYwNnGjlrMgZILMjBHgmBFApfDdpdJhjPSVWPOwQYDlpfMgaIM+i9OwUJMnjkO4alU0IoLyhBMghtPPRKOhYtEpoVMglaDdpbGboVNNbwP8e0MnlENdYDMYkIJDlqQTPtFPoTJDh1PWcVI7lkJKmhFApXOhgnSVegNNdvO/ehM+grMniiSca/GbnENzgDESptSkb0DVp1SrY/LblhJpjzKAkiJDlUYRIQO/R8PPdHGyoVOwYoPHkiMvlOMnj2MgaFNNjdGjm8EiprNscXJDlPGbnsScO+RBcra5XdYRIhMgiVMgaVMggGFPoKScbGC3p7HYmVHYm3MgTnPPc0I7kHYgHIG6mGFAnkKtkbG6loFuo2EDp7ZdORZlIaI7mXI0llMgjsM2Y3ODaiJDk7MQi4OwbnEaoYExphMviQJSmbDlp4GjnjSkboQqbgJDmVM2euTwTvRISgEpoeFuo3FXnULMjODlpWMgkLLTmiNdc4MYivMgd8ExprL6h2ESpvS7PtI0mhFmpEFfoLFmnQExphFmpOJDm8Y/NqJDkOI0mZZtQ3LTmgO4X9SzWlSVVgGymcPHffLTi7LjipFupfNzi2EaoVGroTMYaHJSmFJpl4YRUMODcDLMnGO/fwOKgcNskhEpprFPnnaaMqGymmHBkpLTjRKPk2FuoPO4c2FAnpNNeFMgTODlpfFfpJM+hrScVUGrmuMvibNzgdFApUUeWuC3pVFmnmMnlGLTcpQMg4XrLbNGUnOwd8HolJMgjNMnf3MYd+LykhNshDSVc9I7m/EapwKXkaLjjESrTMN7itNsi4HRntQ5dnFfpHHBoXKHlqLMeLSkH1Lbj3PHg0Scc2MgV4OpYaOKgbOhkhKPl/GrmlM2jNJhi5Mvg6SzTZI0lBMgiyOSWALbiCGjlxMnh0MngJJKlyNGieFfn+I7mNLMizGboYGymJNdg6L6YPMgf9PPh0OSf8KPl5EDosGjmHM2iUScb5LTg6LMj8SVJjELo6MgVTLMkjMYeLLMgcJKlZGjm0LMmKapUmLMk1UtYMS7SdJplSHonPMYg1P1beFPoNZtODOhirPHNiGykgNdWPLMjPQicOLMh7FfoCScVyGromYgMYN7ejELo5G6mtO4dsEanbQEiFI7lrQyTyNNa0MYlCSkZOScVAESp6NkagI7lWMngWEDp9NNjKMvkKMghAMYjUSrVQMYhXOZYwSkQDScevJalhDVpkGjnWSVYnMvezEDotGMoqNNinI7l2GbmgHghxJSkbScWpEipwYRJrNklPF1pEJSlZYZHDGbl+Dlp3ScdxOSjDbARzGjo6LTlXMgcIGrk/LMiDNkQQHvn5Mvd0PHiQOwSXGjmAM+gQFXpNVqVuNzg5LMiOSkSjN7jPN7fYM+gUFIpWMgiJSkRXRYc/Jhk1PWeXMgcaOwWcLbkOE4oVHJoYbAK/NNcNYoQaYZLYMgfoM+jDJpgGMglZOSfJHBkVNNkmMnhvG6n9HonFMYedLTjhJDneMgf3NdezMgkYD0p4YZPSZ8SFKAlEI0lVHJmhOweiLTjfLMimScPdHYmXI0n3EppnMgeuHBmRJalgF9ngNdi+SVYmM2giEDpBM+j6MnbqEiplLMgqF9pSYgQOI7lnFXpZHBn4MghFMgjuSVZoQTVtEapuO4cDHJoII7nHJakeY/JdScXXOwfxOpV7MgjfGbnZFfnvKAmMLMm1MggpMgi6LbjhMYgzFmn2HvmsNGWgExphM+kVHvmuMggoVEPoMYa0EDp0Scc/bmI1JDipMvbwLMhtN7XzM2kjI7nZFmpWUeXbRQg8MvdyU0M6GblIMngLLqjSTZR6GbogExokI7j/PmYdMviPHolEJDlwLykXI0jaNsa/KAlXYZKZLMgaEpoXRIaPFPoGLMdWScXNYZJDapPMLbkIMYhqJKk4HJn8LMmEGjl+M+ftLTfpLMcwGroRO/etSVXnGbmCESolLMlCMYidMgfQH+khMnjSSVcVNNZkMgaXPWc+I7lxMggyFIpXEap3Nkj4FfoTEaoeToUBQET/NGigVLSaO4hCMvgeJKi/Mvh5TZdbY/G9OwfqMgk4JplvI0k7Sce0DOowDVpuNsZhSzTrI7kpI7ltMgihMgenDVpmOSi3EDpBMgjuHvlSEDpBNkhXHBm7MveyUtbgLTkdLMhyHJnrMgkrKejoMnhCZ0PRMYg2O4ggMgkJI0mcHgoEMglSMgdgMYWgO4hMHBoyJhk2Y3PwJKlsLMg1GyoRLMcfMnb+YwTGbIQrNGk5MghebmJSKHlsGjnKOpfyMneiYZL3FIn3MgcjGbneMgeGYoNyNGgII0l0FfnNThU+HJndGrlEDVprZ0RvLMkiFXoHIOnSYRIwLMf1Dlp5I7k0FIoOELoyQ5drESosUtUIMgfeM2gpMvfTF9o+HBoLHoj9ViT9ELo1MYioZdS5Kmg9I0jiSkIYScXHOKhiExpsDOpsGrojI7ldDsp8MnhEGbnBMghMO4iAEpofEDo/ZdLVM2UhGbpCLMlQMYdfIVm5NGZKFXpSHJm9KAhoMnkAESp7IdmIFfpOJxm2M2gaaDIjJ4lKH+jaMvYeI0mgM2cIN7gMN7evQEdODOpsaDTXJSigH+m1WBIZI0meLTj4TKWyLTfTMgivLMj8YRJAMngkODdpGbmDI0keHJmkZdOhLMjsI0keLMi5MgNyMgg/RfesJxmRNVctM2ibLMkZMvicK9kaSVaZScc2LjlgDVpZHBkXO4e4SVHULTjOD0p0F1n+MgitI0mMJpkXNdaSFPpiUHdrLMi0ScMbNVjgKAj7LTigOwaCI0kfM2ihSNhBYZIZNkijHvnkDlp0MYeCU8Y+MgjXH+mpExohU0NoO/j3FXnrJaj0OwYISrT9Mvj3MYWdI0kGFPoKKHllY/WjPtXOI0ltM2bwYZMJMvajcFS6EDo7M2e3FmpHMnfKMYcEM+iULMjCGyohGbo+HgoOI0miHvnkMnjbSkYjDsp9EpplU8JyPWgFHgnUZtL+FPpVDOprO4TXLMjEI7lsGFpEQETDEDonMvjpI0mwMggqJKmpZdLlMngOOSiYEDpAMYWVYgOkEDoDSzWZMviLMga+Mvi2MgleUOK7OwicFmpAFIpeMgjPTKadDOp8I7mBHRnOLTf3MgjjJSlfSkeFMndsNziHKXnQEDp7ZlODSVJdNzfvMgg2EppsLMfrMglYEppmQycVDVp8LMkZFPoBMgjfGympNGgULTh+LMbCJKlyO4VMSkasI0jNExpeOwjsL6l5ScSdJKluPHiNMng/GbnfMnjSTZe5HRnLbXOxTRPyOKd8DdpiMYhkS7cHDVp3M+dhI0ldG6oHMnc0EDo4SVSbHooNYgOPNdimI0ljKelHPWe3SNciScQuYZMRLMffLMkYL6g4GrmoNsliJxmGSVOdG6opN7VGNGdCI7lTOwizMndpGbnnO/X1DspXNVitScX3MYiAM+hkMYjdFPnsNVheHYnEI0k+MYjFDOp5MYfzMgeBEap4OSW+TRH2FAoKLjkZLMkvO/bcNdihMnQmSchoYgKTGjnSLMixHonUELolLMgNMYgzMgdmLMfTSrYVLTmMSrPmI7jkPtXpEDo1PHfkKPkGEDpAeGJ9EDoxOwi6LMgaSkemM2iQOShjNNdHSVRkMYhgMgh9PPY1FApeEDp1OSkCI0l7MYiYNGh3YoNlFIoXFAoTOwiWM2fhJDmVM+ZxMYhfJakRHJmvPPf5HRmtHRn5S7VCSVYdMgeWNdXmMgc5Jal6Mga3SrQsTwTaLMbRLTjxEppkYRJzMvd5H3mUcrKHScKNY3SgLMkMPWhsMYhcNzVhEDp6HBokTRZyJKl/HonHDso1LTi1LMfTLTiBO4d6S7UrNsicI7mkNsi6MYYgUOS+GjlvLMkFYwUqHJmnM+f5Mgi5MYdqJ4lAI0mdExp0OwWxU0gSM+eyJKl/I0lgLMZ4JKmcMYeJN7cWScM0NkLTGjm7MneTTKVgJpf3GrmRScQaJpkxHRoTMglzMYc/MnYgLTkuY/PPG6otDOpUJKmwMgjsDOpuI0iCSVaOGbmSNNZ3I7lASzXOE4pvHYm/ToUVLMi+LTjqLMiEMgjvI7k9GymXMYdEFApmLMkNGrljFmpQMghMHYmaYZHBdCRBF9pDN7kCODeiSVedNkhRYoJYOwW3Nzi1LbkVTwXJOpgsNdf/FXpPNVkKEppvMgiPGFolJDkxIkkXDVp8DspCHJm2PWcgI0i1MviAGMotHJoIFXn2Nzh4JDkQF9ouOZbPHonPYZPWYZLiFXpWJakPJpkUMglNY/JmHRm6J4lTOKcFMnjaMgWsMgiLScWnMghQMYgeMgexScaOLMh8JhmKI0gcODdzPPU7HvoQSVYLDVp1GyoaJDlHFumwMghkDGp9MYcSLTk8GblQEDpDO4daKXlBLMl/LjjNLMiPP8ZYFuo0ELn7I0nFU0VKJDiTTCXrLMj5I0mMKAmqMYg6SVcHLMbrGjorNVe4Hgn/YZLpMYfAMndUMgcdNVawSkSpJ4lvMYfdSkNbLblpGbl8MgjUYgMlFIpaH+mTSrVPNzaEGjk1MgfBMYZfGFpADVpfOwaXO4eOGrmDEDo8YZNpGbluO4hfHgnXMgjdMYiIOwf5YZMoLMj9FPpaSkUYLbkDLTjSGro0PPdKO/cmJDk8FfpZMgcYNGc+NdcuDGp2MgjWJxkGNNT7NsdDMYhaJhmIMgjKOZkhMga4ODcWLbgzRfZyNzfGHvmvLMhUMnkhLMd7MgiBOKXAD0pJLMkyZ8M2PPdvM2dlM2ifSzRaLMh1GbnnG6oTScUsMQiJI0lcHgnMOwgAMgZjMnjvNVdVYgI9NzgZLbgQJKlrNNjXI0goMgbxGjmvFXnjTZSRScW2YZRaLTkdLMfFGyl0Mgi5Mgj2YgPII0mYMgitMngPGbnpFuo7OwaHI7lrJ4lHQbdkFPoLMYV0MghwNGhiMnjJMYh9ScWTYgJjMYfpI0mHD0pEGylfMngvMgeOKAiWJSmYGjmiZdOvFXpXLMkPL6g+KXmCI0miMgftM2hAMYSEJKlJMYkwMnjALTY5O4fmI7iASkRFJ4mXSVUWLMjZJpiBFfpRPWThELp2Ddp3eVNPSkZrLMh/KPkRScOIGyolI0mPHYnFMglXFPpYLykHGymYFfpUGForRnawMnacGbm4M+g/LMkrLMaQFPn/MglWMgk5I7k9MYcdELorNzhQN7fiYoHcOSj2bXG7GjnBELoQI0ksPWczPHbBO4fYI0k6OKcQPHdxMgioQTasFmplI7mrJ4k5axPrODf5GjnJMYhyGbmwNNbJPPb/JpmhMgaLMYfIC3pqNsj0FIoYOKbJHJoFNzctDOplMYdzMvjJHgldS7cSDVpQHBoONGetMvd2Ljl7MJjgTKU6HRkrKPmPGUpRLbkiL6g5L6ijTKauZ8HNYRShI0llLTd+EaohHRnFNsYoSceLMYmYGrmpLMj/NdbONNjTO4eDSVYII0l/JDnUYRQ7MgkpLMiELMmAJhlqJSnOYZQ1ScI+KAk6MYfsMgfCYZNOEDogMvi3H+kaDOpiE4peEDp0Q5U8Pte/MggDMgeUNNhuFIoaMnifJxjeLMf2YZKLMgcFMgZBPWf7PeYIHvnJNkeLHJlnN7dbMnhaLMklFmo8DVpjZGIuOwf3YoISO/eCSrcTFXoFNGgqGjmyMgcLMgg1JalxHYmsMBjVLMixLbhVHgoJSkS0YZPLEDp5NVfyQbZHNVgpSzUzLMi1NVhRLMmPZlJLMvisELp6MgcdMnkoHolqH3iaOwfwOSf2LbjuJak3TKanHJn+QyZJNVULS7NqYoKQFPpWMYgGI7kiOwQdPWe1HJlKEDo3Y3IzE4pjOwb/MYfxSkYQVESrDlpULMiZM2hZMnT7ODaWMYcwMggZTCauPWYEGjorGMnXLMg/NkirMYg5TwbGKXhLYZOQScJKFmnMLMlOMvc7HgnWScR6NGe8HYnpMYlMLMk3YRLRPeiOeVQKMYfMP1d7YRI2HombSrfnQThnI0m+FfpMGymhHBopNzgALMnfELoeOhZXPHXAOwe9HYnqSVcRJ4lANNXUSVS1MnfGMngpScZ0ToRxLbiaH3liOwbsEDp8SVYrSzUMSVPANkkaOSdtI0mFGrmNLMc1HYoKScXQYwNMOZebHBmcM2hRM+c+LTgwLMlBODjXOSc8Mgg+ELp2HJmBMYR0DOpZYRNeEDo5MghcPthpNGhlMYiAYRJ4NNg5DOpaNsY5I0jzMvfnLMkZJKmdO4TAI0kzMghpO/TtLMfNGrmpNzhUEapvI0dmSrdIMvf4NNhvOhfTOwUpMYfNDVprS7bYN7czM+jGO/g8PWZ/OpeWMgbDScfWNdk7P8kCEDo2M2eVDlo0FXoHPHgPScUDPWfZI0j4JKmuNzcGHgnoFmnzJam9JxmaOwddOKTzS7IDJhjzFXoJMve7GjokI0kiLTlDFPnxMghBPejUMvhgFmpALMikLMkDLMfrGymYJSjCMYdCLMl+LMinSkgcMYc+S7XsDlp5TKSnLTceYZKvM2c+Gbm6SkfhMneQE4pfKHlWQMY9TRVhEpoqMncpM2fPYRIlScLVMYcWD8o7DOpZMYjcMYj5HvnnOKebMvh1MgdZSkRPMgeGMnmEHRl/I0nNLMkpMgjGMgiaPPg+MvfcJKlSMgd2ODeyNGafScfcSkgQO4WnLMjLY3OrbAKcLMdlMghLI0lwDVpxEDp7HomRMna3dgHcH3lXMYfUMnfhNsfjMgTpSrVtSceiQThBLMgxOwbmPeWnLTadYRJbEip0JSmpKHj4ZlNeO4hAMYh+SVhBM2hQI7kHOhcfHYmPMgiWGbocY/IeMvk+FXn6GrmpMYitOSZ1EaptSVMmO/ecLMkrH+lhMYguHRmoFmpJOwh4P8UqSkRRHgnOKXlAGro2PeYLEDo8JxkXJxjvG6l/GblrMgaiLbjwMgibSVWDOwfqP8bDIdoBDOp5I0k6YRLeNGfIMBfXSrdsMgVULMcVJ4kUF9ndMgjpHRlYMngNEaoOLTiwMYdqLMf0GbmLY3J9MgUTNGlSNGevNGkTMnkwM+b/I0mPdoQrKAlWPHIsIOm8UtYVeVM8LMjlSVPaLMjgMYhrLMcJKAmhMBmNNNhZOZgzHgnnODijYwNhSVVfLMjcNzdBJSl5D0pOO4dIO/ZsJhkoZ8QDMgiQSkQdEaptMndQELopJSlIS7XqFAoAOwf+MnX/MgfxLjkOLbdQMgcsMYdRGymTI0mYSzHFF1pJI0mkMgkmGbmOKAkzExpuPPXpGjmuSVaeMvfTLThIMYi/buQwQMeVLMh5NshtGbnTYZV1MYhLLTmELMj8PHZEMgiXSVVCMngPSzbhMYkWI0mANkdcYZKsQiWGELp5MJcVLMkLESopODiZYROTI7lXLjlCOKfdMgjQDOppMvYSO4ZbG6mBNziXLMg9GyoSJxlrGrmkScQ6FXpgToW1YgQpMYepScXrN7itR+U6FmpYGbmaGyozMgjOI0j3Mnd8KAjNGFo0I0miYRNjPte3NNdWHvm7SkbDKHk2YZN2SkeXOweoMgh9ThI8YRIFYZIILTkKOwcSGjmfNGiPGbnjExplMgj9MgidPWj4OKfCLbkMScbxEDo5LTdnQEVfMgaURIVFGjodFApcGboqO4gnMYaLPPdsOwhsMgarYgL4IGnxLbkKJSmTNshtPPjYY/SvNGiRS7QGYZOxMgkoLMkmI0kKN7iFOweEGrmIUeNrO4c6OwhPMYfkLMl/YZJrSVVwOwc+OpcmEDoyI0l1LMlTMnfhNsgAGymKIVm2ODflO4jkMgkDEapsI7kKYgK/M2dxNGaeScYmI0mUM2kiJxkFMngjF9naOwgQKXk6M+h4HomeJhj8Owf9PmPoKPlyaTSUN7iGMgjGKei7LMgdPWgaSzgoMgbqI0iuLMkXMgX1O/MuM+b6I7hxM+hbScV9QTYcHokAMnkFPPQBO/j5Owg6LTjPMgWIMncHMYfiMYXcGjiGEppzJKn+NzfSEDnKKHgFHompMgYmLTjiM2e/MncQESoiFPnEKAkKKHlxSkWfLMgGNshCH+ldNNfdVbWoN7jEScS+SVaxOpa/NGh1ZWRBLMh2MgbyI7kcLMh3HonhMYbRYRSPLMbjM+YXOpXQNGcUGbnWFXpiPHgNLMTjKAl7FPn4EaoXFmnsToQyKPkHNsfcM2YPKAjiRYe7SkIlMggkSVP0M2dHTCdHU0PBGrmbNNeNMgkSI0lvSkc5NVbKYZOoNGSgHYnLEDp1MgajLMjILTjRMYknFXm2ExoOJxj+Mgf6LjjLL6fRSVQuTRUVMYhIFPn/NVazScaMLMjoMYiJHRmGM+hOThdeHRnpI0iWNNhVG6liI0lASVHoN7eAM2YDOSYDYgXbO4eHLMkJMYd9LMjTMgggMghFHvl0Nzc7LThyNsfhHYl5GbosMghkMgdIJalAFApnPHYWSrYPDOprMgi/JakxI0muaTR9QbhnL6iROwh7Mgi4MYcUJKj2LjjRSVWMPHVrPPNOHol9SVNQJhlONVihNdhgJ4j+GbnZGrmZLMg4RIZgODieHvmdOpT1GbmqExn7N7hNMgigHJn5ODZIOwLNLMjzJ4kFMYgJdgIFNdcyLTiONNh5a5IWM2fiODa0YgJZLTjMO/TAHvmlSkYOC/pqOpcJMvjqLTjZMgSiFupaF1pIHJl5EDp6PteTMgW1PPdjScHLI0mFDOpIG6oMOpf1M2hRGbmTYZMZHgnGNGkHHomxScY0FApdFXpZMve8HYmgMnemESomMnmKNGhKDlpaQifCJKkISVSjUHX1MgW2LMcyI0k5FXnwMgeCNNgcH+l1Mgg9IGmtUtgQOSh/MYi+Hom6JSj4LjhOMghYI0nFJDgNJKkcMgitEppnScPDMYlENdXSLTk6YZICNNdDGbm4JxmKPeP7YRTBZtLDI0iuHJopHRoVFIn5GjmWGMolPmW2KAiJMnjqJpe9O4dVLMj4GbmOMYgMaDHIMYeNJhfgMYmoLMjAHvlBMYk3Lbh5DOp5I7nAMgcSNzjFMgaPHvnDFIpiGbmdE4noMgRvMgjFDOp3IGlxYZKcJ4l7YZJ8JSkDI0kZFIoOMgh8KPhsNGbgM2f+MghLPWSmLMh3PWedOwV3O/YaMgfKFmpNPHc2FXoAMYc9KPlaOwjPMYeyLMkwUtRNFuo8MgkyEppwMYV5OwU9ThQFScUuScO9OwcjGrogHonLJKj9OhKvMneVHomoMgi8LMkBP1fhJSkGLbjFScHUMYf8H+mCMgc3Gbm5XrSJLTlPM2fqYoLCPmftMgU4JDg0S7dsOwhaLTl7E4ptLMjcEaorYZQVI7lLO4hhJhlfNza3KtlFJahsELoQJDm0SVcXLTdQLMl+RYdqScY/Y3KOSzXxNVdcZGSuFAoFMnR+HgnCSVN3Nzg/S7cGLTi+Lje2I7kTMYdNMgknYRMJSzc1GbnSOZTsLMiTGbonO4eLHgnPOpZbFApkGFowYZRRQ5ZnYRItKAhcI7kKb2QwRfeSM+eDEDoyYgOdLTcINkjQEpojL6geI0hPODk3MvZmEpoaccINO4WHMYVGELp+FmnXD0pCFmpVNscWFXm7HolVELoxI0msZOO5ScKbFmnYSVUTI0ibYoIjSkUKMYiSODi/PPg8LMhNDlpNV5KYMgh2QbdKDspOYCPaNGg+DOp1NGchOwLBI7m3YRS/LqglLMczO/UGLTkRHJl8E4plOwjUJxlpMgSfZdTxScU0DVp6ZGSQEaptMgmiLTZKM2YiMYezOwV1OwcGMYgZMgeZFPpaMnfjSVRiMgZ8LMipLqlNDVp1ODhHQTSFDVp2OwhfNGjXM2g4J4mKMgeBLqhtO4h7OwRXMvf7MYJiMnbwHYnlOZTALyjZI7m2DVpxb2OnMgeaDOp1MvjwScPzM+cVGFpVZ8K/OwgtHBoGSVfTMYgQNVg+EDp8GrmfEiptLTkKOZe4MnawU0KQI0mXL6a8G6oiHonyLMghI7nCExoeFfn3OZh7YgJSOwc1I0mnOwh4DVp3MYejJaiXSVb1FInuODgCOKHuOwUTMYeXMYgQMYaSODXsOwULOKd7JpgVJDjtYRRuMggTELovOhiSMgg2NzhmExp3MYaWMgiTEaoqOwiWScQxKXknTKT2DVo6K9kRMghTJDjUI0lOLMikFPoMNGgpYRHfMveMSzP+SzSKYRRqNNi/MYZBESojOSjtMYfyJDntSzY4YRK6PHgnMYbSOwdpPHhaZlPrODe2Owd1KPlVMghtDsp2FAn6MYllUtNHMgh0HJkMMYWjJxjKLMkSO4TKKAkZMgkbLMdtI0lQUWUkYwPwMghRMYZ9MneIMgZBI0lSOpfvGbnZELomHolrYZRUFfoDI0mSYgIDHgnaI0kxMgecMghHMgS6YoR5I0nRSVgeOwbeNzRuI0lCM+dIMYhBGjoqTRIjJxm8Q5ZnI7jZI0l3SrRlScYlGro0HYkLMvdlMYcPMvggMnfMEaorLThfFPpgMvbpOwMNLTlSJhk+ToLvJDmtLMjHN7XbThgtE4p1MnlYHol8YZUEMgbqLTk+O4d+QTZSDOplDdp0MYh8YZHBJSkIM+gYLMlUNdZzMggVMnfgHYoaMnb4LMldLThUI0i1HYmDTZKpScIhDOpdSVbCLbibMgj+OwPkTZO7N7cQLMgDPWg+SkNONNbwF1pRLMYuMgeeKAhoMYiFLMkUMYhEEpoZScK0JphaO4V2I0lCI0mDELp3DVp8NkjSLMkNMnP5Ljf9I0l8C/p2I0l+M2jLSkP2Y/M8ScVjYRPdN7ezMneqFIoHMgU3NNfuMBhyNVd0MYh+I7nMKmkZF1o3MggMMgbIaTJnPWjaLMdYYZMsLTlMEioUO/hYbAKhHRoZJxkQMgc5O4aIMYehO4iRY3LrSVZfGrlaLMkHNGhELMl7NGeBScKfHYlIIGloJ4l6PtdgPPYqNsigMYXZMglKFmnwNkfPDOprUtSWDVp3HRosNscgMga1LTnASkOFLyi4YRTOPHO0HvnkNGgJHJoFJxmGOKj1M2e/UeOzM+foODflLMk4LMmAN7ioEDoyQycwKemdI0jJH3nFRYdPJxiVKekaN7fzcjTUYwL7G6oXH3lSSkTiEpp0MghULMjKNGYLGrlkELp+M2feelQFNVdwFXoCO4WmLMf5ScQlZGNzMgeJMYamYZHhFApnMYj2NNiyLyjPc6Q+DdpZO4brMgidNGhqMnkPZ8SyUeRQLjmNMggHMYdSQTYsI0nJMnXZQ5WfPHeHLMjVNzdFKelhI7nEI0llNsgGQqc2OwhOTRQDEDp9MYY/YRHaSVP1PPfIFPpdNsfOLMlaLTkvMnbpZOHFSVYTMYfhDVpZSkWvKPlyMYZoQyddNNfcHgmyHRmXPWStMgg2PHdoHolXMYdQMgfhSkQOLMgpIOnkIGmsMYWrP8XjFXpeEapwFXpqGbl8N7hfccNxHgnkI0lIDOpjMvjdSchVSrbCMnb8GbozDOpXY3M2EpntTZKsLMlVI0ljLMlZMYTKLbgYOwagYRKLMgYhMgeJY/VGTRO9WQUdMYhnLMdRU0QfGbl/ScWeUtVoMYd7MggcPeWMEppnMYhPNdYEYoJUDOpkHRmILMlQMgkOYRRDK1lNKXiyJxjzI7jmMgkPGjlCLMhGQTciZ8P6I0nNV5SaEioZScbWHYnfDOppO/RqLMXISrRsNzdbLMieMvfJLTfxESooJhlaNNibNGiqOwfJSkKfPWd4ESn4MgiGELp9LbjwScRgI0lRO/bvMYeLSVNSMBkIKtjnKelVKHmHNdgvJDjoI0lDMgicZ0JSLMj2Owa4MgkQYRUwHJlXLTi/J4jXLThjLMi8L6ipEioIO4glLMmFGyk1KAikI0nGSrVnOpisMnb7LMjcMYdcMYhbO4NhNGgJPPQvLMmYNkWVLMfbb2TjYZJSI7kdGMnbYZMNSVRIYRNXMYfENkd0UHWNNNi6OwdMLMkMEDo0edR/NVd2MYelJpj2Fuo9MgkiMgbrMgfTM2cBbQJBMggKLMg4QiffDsoxIOkmLTeHLjeSNNhGJanAQqcjOwewUWZ9MgbsM2cwEDocTRfTMYi0LbmJMYZ2NGVVMYbeFApqLTcsTRPaLMmsM2YmH3lSI0k8YZKKSkYWFApfLTkfMYhYM2j9NGe4MgfZMggSUtfMLMkvYRP0ScTpGFntMgXyKAlpYgKkN7cdO4PXMgfuSVb9LMluSVbLScSiNNjcEpppODiZHgmSPPewYRJ/MYg2MndmI0mtI0nWFXn9M2eLSVNhJhmGGblkPHgUSVc9NzdmNGiSDsp1fSHxSVJcJSmUPWXQI0lwLMkTSkT/IGnLFPnRMYalGUouPtY4LMjHGbnQEioaLbjnE4oKGbnCDOpYMBiWScHDNNgZHBlUTZZoLMktKAlnHRn+JpkIFPpoKPmNMgglODifDOpcF9pKMgUfNkc1QEfnMYiDOpd0I0i6ELp4I0kcMggyO4YfNGbWbALnMvfIMgcJHgl+N7ewMYhuMgc3LMibEpocMYeaesTEEDorHJl9S7d9SraUUHOsHRn9I0mZLjkUGbmaFApgO/X3FuoAO4jDM+QsNkdnMYjDGbjROSkhGbm4PeXXO/b0Dlp6DGpzH3lYSVcXOwiXI7ipLMiKGbmRLMkNN7euMYhzTCObM2aMO4eYG6otNzgwPPdhI0j0NVdwOKfaD8p8OSfoMnbOPmfsKAlNLThWOwcpSVQvMYaoO4deLTkaELp5LMhYTRhAMYkeEDp2MggFMgTxMYgWI7j/PWhiHomEPHfzQbZ2OSfeFmn6OSihK1kBMgf5NGgmYZRJSVebOwa0OSd3EioaNzgrSVa1IdltELoHMYdKI0lrNNhES7RFLTiQLqhJZGLdYgQhGjokS7aDMgW2Ljk/MYbVEDo8LbitLTm/KAlHPPfqOZbNESp1NGjhMgkeHYmtS7cEKtkQRfeBM+hEMgcgMgYUMgfBScdSMndOS7VSMgkJLMj0RfgqF9m2RncrPWfULjf7EDo2LTe7NVdvLMlJScVOOwZYSVYPOwfGFmpZQiaFKPmDNsaLFmpFMnZrNGfmT4ZBLMlNJ4kVNNV7LMloNzfPLjl/YwLhLMjmHvnVLThQFIpdMvkqEpp2I0jZIGkrH3n6LMk5U0U4PmdtSVIMLMb+E4prNzhvQbdSSkRxLMkYLjj9LMjhMvk6YgOYNdkxMYhnI0lHYgL0JKm5PWicKHm/SrWQaxSHHRlwLMkSDOp0OwNjJplMDlp1LTi3LMk3Y/OPNzhRJSmzYgQ9HomLU0b8MgeRNGXBYZJpLMgsI0lxDdp1LTiTaaMiYRTwNdgzELp2LMY4EDqAOwhQYRRlD0pIELp1LTdxEDp1S7ZfLMkXMYfnMgecScXaGbmsSrerLMmtRQcuGjojHgmPYRHPY/YDDVp6ELorScO7LMjBDdpcPHPCMYgHFInwU0JXZ0ObH+mUOwjINNeYI0nROSf4Ndl5DOp1ODgPIOl7HvmJYRNnHBjDKej9UtYDN7jbNkh0H3mLLTiFMvduGbm+M+gKI7jYJDnCSVZBPHV8ScYuPPidI0nILThIOwhFJxmTOwZrKHmBMgc8O/ewMgZgNziMMgijScbrN7drEDowNsfHEDoqMglvMgk0EDo0LMl1MnjwNzj4JxmuNGdXH+nlY/XGQEg3GrlZKAmPPWafOpW+JDinYZPqS7cYE4njMveZGbmLOKhNPtfdOwG8H+nxFupPGbo9LMj4QMSsNzheM+i+TKZJPWclLMjyKXkvEaptNzfjFXpbYgPNLMmYbuO4I0kZSVVEN7hDN7fqOSfZNsYbNdh2LMiFTobNLThxI0j8NkfkYgUMSVbcMYZNLTecN7eyThWtM+mKN7g7KejpMgkzSVTFOwZVODYcI0j+P1dSIdkhQMerMYgLPHg5GblGLbh7KAkEI0nzLMljFXpZKHlBLMjvJpjVYwJTOwfHMva+JKmoNVeiPee4EioRMYb3DOqAQEa8N7Z9SVbfPeVpScVMSVSxI0lyMggrLMjfDVpbDOpxTRcHMYgGI0nILMj/SVQTMglPScZkLMeFC/p4OSixHJoBOpfyFmnvHJlJGjmNKPkhMvetOSd8J4k4GbmmM2eGJ4lIMnabEipzFfpSFInlScUuPmeVYoOtMYgoLMa4EioOO4hOLMlJScSzHvmKNNcnI0jsSkKzDVpUYZHjMYZ4Dlp6ScSiELp0SVULUtSzM+b8KXkANGhAMYWNMYfoYRMKLTe/FPptI7m9TRiGYgMjMnZPFXpdI0itOwV5SkLvOweXLTdkSVawNsaMOSeHO4Z0P8iIYRKVUtIiSra7EDokI0kMYZLRU8MwMgmmPHPdOSf8MvX0TCcgQidtScZED0p9LMfxSzUvLMlMI0kXGrmWOSbpFfpUI0kZSkZ7EDp3NsZiaiL6Nzl6LMd/NVcnI7knQEejFXpdF1o1F1o+O/gxO4doH+nMNddTYwHlDOp/YZWcHRlhO/gASkb5NseUMga/NNh6I0lWLMlMESoSMnWSLbmnESp6SzVmOwhgHRn2MgZxb2JlaiKlNNeZOSVKVqPBJhkcEDokJDhvSVI3LMb9HgoGOwdiKXksMggQKXlYE4ppUlK9Dlp+LThNODcFO4dpMYeeLqWjYRSGLbh0MgdQLTkTI7hvI7kHMgPxSrcVGyoYPWeIMgcgELoXSVfzFmpJHomBJDm+MndoY3L7HBoHO4gZDVouOwgsLMiYTRfQL6jyI0nGJpjxKXldPHgxODcMKHleOKgsScRyMvVyGbnOY/LLNdfTKHjjOwcGFmpHLMlsM+ZfD8p2GjmcELp+XkKjLMj3KPkyMvUIP8VSLjVOJpmiSVZ9ELopYZWFSkTxSVZENdghDdp2TCTrQ5fNLTfZJKilSVZJGbmZYwPCaaKTMglJLTmqOwgqNskjMYhvLjhZLMfWMvelDOp8SVMsMgf6PtggL6i8JhkbOKj5I0iTJKi2ELokNdgXM2lHSrVRI0loM2W1SkMoJSjNQEdtNdiWHRn/D0p0MYONM2eTLMk1SrdTScQQJDiMYoP0NzedMggZTZZLHglnHYlxN7d4NGeBYgHuN7iAYgNEMnl2Dsp3GjmNapHaScS4LTiuQbh0MgZNHooKMnboMgbZYwNuOwfHRBXuYZPyQqbkM2dKOwdhI0jfM+eGKPkFQTbRSVa/O/ZuLTfiYZI6Peb9M2cxKAiNOwhTMge/NGX5M+eyWXH7YgXASVZfI0kkMgbVHvlwJajfPHjgRBcHKXksMgYRJDnCSVVXapIQI0kaHBl1PWiaNsjhNVbFFXn1MYghI7j1YRL7MJkKSkUfNNeCK9gmOhd8HgnZMggZYZNHOpayLMk6dCSJJDnYH3nmScJtODYyToWjLblJOhe3O4XnMYgeEipsDOpgMge/RIeDLMjjGjl7OhZOSVULI7jTESp6PPg1MvjYPtZrEDorJDnWMge1LTjWFXpXS7VfZOPZHgmhNGklMgf1FPpdY/H6MYgXQienEDozOwe7FApxR+OaPWgOJDjMfLIIMgQgMYefI0m9LMiFO4MZLjg+KtlkODhHNkexLMmNGbmUM2d6H3ngMggYEiocTZfdMYedDVp2HJiXMvQ0G6oMYRKuMggAMglNLMcgKHl9I0kjU0OfFIoAGjmvLTdPQihjFupPYoMXMncsOpWXMncuPHh/KHmFOhgCM+kTMgdvPHf6LMhnFXpfaiOFYZNjMncrGFoxI7jPSVbbM2bCSkPMMgYkRQgaGFpCMgcrJDjVSVd9MgdEOKcoNsagHgnzb2NkLMg9SrUJMvalYRSOLMlMFPnoMvOXSVNVE4oPHgncMYicScROMgb3SVX+MYgwWBPZR+QvOZgmFXnzYZOvS7bdOKZ7LMnHbIRyLTaoI7iqYZQrSVbKSzZ7MnkKGMo5ODUSYZKmLTihFPn9MnjzHvlZSkZoKtkzSrR1UtYNExppMgbzPtcWLqfdMveTScPqMYgDNGkHUtKgMggMS7X6YRMiMgelP1WTQyfoLqlBN7abMYgAMYalSkcnS7W9MggPSzPhI0lXLTg3YZKdOpSbMBefNNj2ScRVYwPoMnaVLMmgN7iYHBoUNGhYMQfQGylIOSTJLMi6MgZZGjm1NkgMLTiPI0lBScMPJhjDSrVcDOp4PegFMYkkH3mzKHkeSVUbOwjcPHWSLMhSYRJ/TZMGI0lkLTdkLjalLTkZLMagPtY6S7P7OZf4KAlwJhiRK9krPHhJcMJXScWgdCKvMYd8YZS9NNalLMh6QMInFAoRSccXYoLiTRR+JKmeMgfWScPeLMgmZWOzO4f6M+lPOwSoPPfAMYdLI7nAScbaO4f4KAmRJSg3KHmcDOpZMvj2Dsp4Q5bRNzQoKHlHLMjUccRTN7egI0nRJ4k/ODeAI0ldM+ezScZlHYmKMvj2HvnJMgdmLMgGMndoLTjLOpfDJhmGMYioG6kOL6nXNzikDOp8JShxF9pJPHgSJ4irKAkLG6oPI0ljZOTGSVWND0pHMYlMJDjVJSj/L6h/KXjaI0lbSzWEPHdgYZIzL6coScTrPmSOPmfCPtedMgk/MgZOHgnzPWaiPHfGJKjJLMiCLMjpMgb0I0nLDdpaHoneOwXrLMflNdhLLMkBaiLpJ4jCLMl1QMRNDVp2PPdeTRYFDdp0OKgCLMmMFPnyMYbjMgfzLMlfMgcLR2bYMgYZJKjwMggNKAifFAoKZtNFNkgYTRSJD8qAMndKJKjuSccgMgftMvdYI0lsI7kRGbmrNsiAI0k/MgfII0nKMYc/LMl+PHizKAkxODd/OpeZO4gAH+l5ScTaKAgrMYcfYwYNSkeqYoMgI7i8YoJeS7NgXcVBScchDVp3GMo4YRKnSVLbScUbOwbOM2keYRKqGyl3MvdPYRPhMnlnL6ksMBehO/g2NdhWI0kGMgUxLMg4ScZ3N7g0FXpXDlp5O4Z0I0leSVMBPHdqLMifYRKrJhmMapP1Z0TjNdg6H+lxKHmcDVpiELp2OwRPHBj5OSh9ToWDYZIKMgbxScL5SrTBMnkoOwIqUWXFSkTQMYlyI7nVI7jIMgevOwRHKHjHI0iyMgTfIGm9ZdIgNGaTHBlDScaYDOppO/godZXqMYilDlp7Hol/ScRYF9o3YZQ9LMl6bfVMHJl4MYd5ODUDTCUzLMV8NdfeNsVZSkbmOwf3JxleO4ZSSVSIKHnCHoncQ5aDSkLaNNW1MYdfScQaI0k7SkcVEDozMYcxSrX0N7UVMvddOShrQycDSkbHI7jTbQNPMgfnFun7MgfhM2WLGrlRYgMEYZNqQbfuYRUCSVVJLjijMgdLLMdmIOkUESobO/Z/MgflMge0DOptGyoaLblDYZN/HYlXS7ajLMi/YZQ8MYg5O4eoD0pHSrTEKAjkY3LESVV6N7gNNGe1O4VKSVbpD8p1LjdUH+nDTRS3ScaSLMiaN7e0ThaxMgecDOpHYZPdNGeeMgZGPHhXLMlILMiTZdMzToesH+nSLTePSVR7KHmLWIVwPHUdNdiFKHldLMfbNzUWH3k/EioMHonRDVpTSVVJIGnHSrXzRvagGjmXI7nnLMj2S7ZUJxmGPWjJO4U9NkiVLMcbHvkALyctI0jmO/HBOKYgPPQpI0ksScNALTlNNNhoSkNKMveMPmebM2aeOZdzO4UAM+jTScSSGjl5MvdgHRj0MgeVPei0MYf5LblyHBoMNNkyHvndVTN7SVaYHonSPme4LMgPPWg2MgfEQ5goI7g1SzXzNVhaOwaELMf/YoOAOwemKtk+FmpgLMliHJoPO/XrDlp2MYf2ESoPEDp8LbmKNdhBSkRHI0lQNkd6LTg1FPpdOSeaGjmoI7juI0nfLMnpMYbRF1nuPPfHSVVBMvX7SkdxYgKmSkO/MgbiJKjAJpl+YRQQJSmjHJoRExoIPHdDLbfYI0iBScYNRQauODbmNdaoQTZ9YZM8I0kMOSlNH+nLEDo0TCd1aLQNGbmaSVZIG6ohKAjNNzfSOwXOMgfeS7f5HBk1N7gZScdPOZYmLMigEaohMYb6RBf2MvlUO/UzScXuJShSM+dUY3PcLTgYMncXfDPaDdp/SzQnPPfpTZQlYZWQI0j/QEXiLMkDOwiSFPpjGMpBNVjCEinzZGLTPmURI0kmOheHTRMoN7j3MYlKPecgGrocOSgOO/gONzVCOhZgYZHMRfiFScifSzZ+OpO5LMmxYZPRYZMHSzSwDdp4NsaTSkcwSkVTSkQSMgfMFmpnUHWWNNcyOhhtHvoQI0lKM2eRYRJsPeYYJpj9MggELMbFGbpINVY6MYc/SkNoMgkhKAj5PtSTNkh6DOp+TZazMnb8LMmcMnY9YZKsJSi0ScZ+NVh8OSjVMgfiJaiCH+nJYZHPDOp3N7eASVbtLbglO4d4LMlzNzcSI0nTYZRUJDnDLTjLTwLCODhnLMigLMjANGcmScX2DOpCL6moGbotO4g+FXnBGrmRRYMxKPlxMYgqMgaKLTmPLMitSzb9Mvj/SzcXFIoJLMlpZ8MtJxmyV5IxEip2KmfHLTVoNzjoHYmJMgWoMglBMYgIMgfEO4UCNsisKAj3I0hbMgbKOSTwOpiXSVRjN7gpKXjgLMe+I0k+NzknSVJLOKiNYRJRScYcOSgNMgckMvjoNNdwSVaZGyokPWfyNGZzOKfnLMmPEppvOwWtPWfgEDoqScauSVfLMge0M+d0O4dabXLUNVbzLTlNMgc5Nkg+Ffn7LTefFIpjDlp6ESoWTCXZYgRIU0XAKXmfMYhpYgP2SkamJxi8O/bmGbmEMYmmZdRyYRQTLMjJLTlgI7nyNkbSIOnaHvndNVe6OhdXLMctLMjsZdQVLMi0PWXaDOp2MYdDI7nJMYkiNdkkNGQQM2jndoHCTKZ5YwUXOwc4LblENscZO4e4OpgyMncwI7kYMYbGODk9KAktTZRVYRShOwfJMgd+N7bfG6lTYZIBNsiJI7jiFmnlHon2NdjoScJsHgnuLMjXScQ9SkO6LMgyMgdNGyl4RIc5MYezGrldGUpQH+kzZGSIIdlDMndDKtl2MgXwLMaTLTmHJxl8Q5ZCbIPmN7gUSkXaFfn4HojaN7kQTRZ5FAngOSZBNsjsLMheLThwJakCMYZFI0kVQTanOwVOFPpuLMgeI0iTFXpgO4hOFfnTJKnXScKnI0lAMgfUUHLZSkSgGrk5YoJAP8eaOShhGbmmLbd7O4XLYZRiHol5SVVRMncANdVCSViELTfTLTk1D0p4MYfSThVmNziRScVrLMljSkZPEDp9MgRlYRKPM2Z5OweWGbmTLjfsGUo8YZKgOZbsLMd3OwlOM+WTDOp4O/YmGrlyM2biPmb6SkRpScVrSVbGPPXsGrk7YRRCYZK0I7jpODV7YZNwMYYhSzcBO/fRYZTkSVZlHgmRLMlhI7kSHvnxGyohMnYASrSnO/T+MgTGNsf5OwcCS7JMYRHZGbnRMneDKHhpO4YsZWQdMgc9SzccO4fnJDn0NNi3TZTdMgYYLTfGbuL3Qic8JSjvMvXSGbnLYZMJUtV2Owe4DOpiVTPTSccpNsTvLTe9M2lcMYheTKboPWi1H3kELbdxOKgNYRIPGbmxMgepOwbFDsp3LMlkFfnvKtmgYRSpI0lLScX/SkQBOwg5NVdMMYb7ZWWEScZHMYbYO4VnMnlNLbl2ELogLMmgM2kZMYbIODY4Owh7N7VbJDjVUtSHGbm1PHb8FIpkLMfzM2lVO4dfSVRrLbatH+opJKjATwa5OSbLDVorMvkFEDomI0lHLTkuLqkWNVazGjmXVEeCMgemMgcmEDorMYhQNGWsI0kDOwc8YRIiLMnEPHS2LMftFApuJpmvODh1MglON7h7Eap1LMflMYkxScSOOKimM+WYNsgxMnaoMYekNGeYLbksNNeUKmlpNdZ2IGmIGbnGI0kCI0lPNGdfDlp7KHijLMlILMiiMgdqN7gSLyk/I0nrFmnqYZNwNzUkRBLpPWiOFmnsHRoSMYLkYZM6I0jdHRljExpxN7epHJokGyocMgdIYZO/DOprLMe0I0lKNdi9GrohOwfZFPnqODaSHgmTMnX8MvUdMvbqTCPqOZZ8I7hXKAgtSzSzGblDDOp7PHgnHolkH3lcLMizGFpSZ8HTSca1EDocM2jfNVjaNsb2HBleMgdFMglVQTfNLje8I0jlI0lCJxmFLTlnI7iTFXpdOwgRO4fvOwdeYZJ1DOpZI0khMglLExplNdaGNVeyO4kqFPn4DVp8GjosPPd+O4fEPebwJhmyG6ojFPnwP1a7O4bRNNbySkOCVbQ0JhnpELorGbpCTKbTMgefOwftGbmESzR4ELoaNseYSVgnGbnBDOp6MgfEY3LKDlpPOSgwLTlrNNUrMnkbSkgJLMhqHYoRMgP4YgLmL6ceELomQ5bxSkWpJpmIM2jzMgY4MgeBI7i6FXnZI0krLMehI0j3ThUhGFpLESp7LTgnLMjTTRP+PPedMYhYLMjCMvbDNdhtOwWJMgdvGblkU8VHPtXXOwfEPmg4YZLmGbmZScSbPtdIEDoqLMj8TRZSJxmOMvJ4DOprMndTY3LWLTk3YZIPSVOmLbmKP8kMT/V2OpiQSVMgLMgVUtPPSVYjLMi5O4g6JKjDDVp0KelKY3NUMQbxScSHYZMlDOpXScRPM2leLEmXN7Z9H+mONkYaDlp/KAknMgeHFPn5VEUAMnZWQETlOweZVbYKNNlWYgRDHvmOSVaTODdjMYhkLye8Mgd/GrlWNVQDI0ixJajzGbmzFAn2MYgnNdhoDOpnMYXwGjo0P1eiJSjpNde3SzZzTRd7LbghKmkPNVYnY3MKO/imMnWQOwhwQTdcQ5VIMnkcNki1LMdXSrYjMYhWScaXFPnoI0kzDdpOI7ndWBa1MgXbLMmkESp1M2c7MvXoNGd9Mge1HJoKMYTIHYoZMgcsDVpXKAg8SzSZNzjOSrfJOZa8HBoVScRFFmnMY3LOSrXNLbg1SVaWGbnGGjmhMYdbLbmZLMj5OZe/YoKZJDnKLMicQEYWNNWUMYe3Y3QZYgJ2MvPVYgHMO4bUMYfuPPSrHYoTQqhWMge+LMjyZ8TPQMTpOwlROKjtYwPvLMiBYRQ2EipvLMg9NkhcMYNTU0K7NdfDODeZLTmED0pKMglQZONeZdNYGbmdbAPFHJonZlNLLTk2axL5DdpVJheCU0PYNkdnJDm5S7WzNVejYRUuLjfyHgnzELokFupIOwh9MYhKYRHzSVWvI0lEZ8U5N7eaGrlxODgNPmeDWnbXN7hzNVJOJDnhLMhkYRQZMgk7MYg8YRKEOhdEDOpuJakAF9pkJpfkZGHFLTfCYZP+HgnqOwfpSVVGMgfEVLQyQEahUtNXSkR4GjmmQTfPGjlPSVPZEDotGroqKPlJOwd3JShXQifFMnmYMnkHMYlOO4bnI0nfSziqLTl8MgdpSVZUHonxYZKqSkV5MYOQLMbSI0kdHongMYXwPPSHYZLMHBoZLMjJMYgFODgQOKaGLMioOwSkHgmHYZLnI0jGJxjpMYf8SVX4N7asGbm8YZPqOwd0SVWwOwhyMgY2QTYaMgeeKtk/LMh+SVOxDlpEPPfyI7kEMYZlFXnUScVXELp1NzaRHJl0ODi0PWenYRHPKPkpMgYmFmnnUtPtM+bacMLLOweRLTe9ODgMLMi0OKiLMge6PPc8YZNhZWJDL6e/LMb4YRJuL6Z6LMh6PWPENsa2G6ljEppuNVepLMjfO4ZYR2cKQiXLScasJDjZYZRDMgdVLMhePtdtPWf6DlpENdgyI0kKScY2SrUmMYlwLjc1OKaLYRRyH3kqUOR9O/ggScfVTRSRYZUfODdOO4g9OwYAYgS/MYedOSP1YZNVZWQmMYf/MnX4YZQuOwf6P1ghM+aGbAOcYZKIH3nTSkXkS7QfKekdNzdOMgdJScW8YZJmI7i5GrlgYoX/NsXKTKMRNVkpRnchI0kmGrmAKekGQbcvSVPAGbmsMYgXFApsGFl+ZdKjDOpdDOpnLMZrNVhPI0kCP8cAJpjOSkYkESobMBZhMgfZHgoEMYgvI0jvLMg4TKfoSkcELMh1M2c3LMjbZ8QpOwcLScXADGp2M+eLPHWQNGj1YZUvOwZCMgl3MJlqYZNELTlgYZMSSzK6OweTHgnmJhjBMgY9PHfwLTmaOZZgMgb3SVVnLMh0OpbiM2kFLqe9UtYOOKiAO4hELMi2dJHDPHckSkKUNsaBEaoKDdp/E4pvGbm4MglIPHbUOwdRL6gqLMjKLTmaNkj0O4gjesPhFIpjNNZiTRKiMYeaOZeTMYhbMYalOweuMYhLF1pNScggIGnEI0kxYZQ0MYcGNkUWMgaVedHmO/gKNVewO/QGSca5SVarDlpCTKUpDOpCSVTxMnkONddJNsZcMYhPNzgiSVUKT4R2YZI2MYhDNkcVScRpMgPMMglMEDoeJpmRLMmRNzetaTUpFupTMvVqSVVjPHf1F9o9MYkkNdMsLjhqMgdVI0irO4hKDOp5N7Z9OwgpThc0OwU3P8g4MnkYMvavO/gHSzNSIGl4JanbMYWOJSgGI0jLGbmWZ8LZSVfbHgnsH+l4OKasM+c/HJlLLMhZZGKhSVYVHYkJScdNMYlsYoMZEanyNdeLLMi0ScL5I0kEZWTEMBfRMYaZMBlESkc1VEeZGbmRSccbMYlcPmb5YZKqMgfULqlLScc0ScXSPmhGMYgvNGdZNdljNdlJGFo+OpTgYZTfLjeFUWWXKei2YZNBScSWYZXDFmpQJKhUG6onEiptYgH0M2YuY3QVPPaIYoJjLMiLScS7J4mwNsXgSkd1MYPrDVp0NNRrMga4M2jnFAoCI0i6QEarYgU5O4f0PWZ5O4iDGjmXMgduMgmSELoDFXnjMnbFGjldOwfZScSCPtQ9N7beEipuTRX6OSi6O4iiO4g7OpdKTZTsLMmLMgeELMiZYRNOScQULMhyScQ6Gjl+JpmOUWcmMnkRGro5NVdBOSfFFfpiMYbzI0jjM+dvPWdgLMjQSVUgScVLZ8R9FXnbJpjiESobL6fAM+lgO/dENdUZSzKcYRKhNdX0YgI+L6eeOKhJJSjXGbowJpmSIVlbU8OsZGNWQTQnI0nNMgamYZMDTZa3I0nVZlK+PPWLFfpUSkWqSkb5EipxIGnMO4b7JKm/SkPKLMf8OwbKQEV5HvndFPnUPHe3TRPBGbmELMe8I0i2DOpoYZPcbIHfM2XlPHasYZPEO/dSExp1QEc5Y/PKNNjPFAoJb9KaMYlDSkO/SVbRO/cOD0ozJaj1P8bsSzKnMYgIRYT9SkY0PPfaWuPPLMjbLMdfHvn3YoNSDOpuI0nhJShoEaobYZHeYRPzYZP+HBlyM+aoO4i9JhmyOKegK1kLMgRIJxjTThVDNzejO/iVNzjhPWfcSkS9MgdtaDMtGjmGMYlRGbo1KPkORIbZMncdM+RKI7gyMnbtSccTELp3G6kTLMjVGjmCSVOvSrW4YROXFXphHok/ScMgDVp3NVYYQbdVSVfRJpj6UtONNkb4KAkkTZfSOwcULTefSVKpMvcSMnceDVp+JKgYEDosN7b7MgaGScH8L6SCMgYlYoQdTCUnMYWqYZRuScViP8YuMgWPYZLqM+aHNNazeOMmPeSoM2a3I0klO/ZQLMjGODktMYeWFmpRI0j2YZSUYRNwLMdkP1YDOhhXFfnkMgLxI0kULTl4YZLNJpkAELp3MgmKMgb1PPbmScIKELp1UeZvM2c8O4YmNshwS7dYLTgkSkVqLje/SkX2SzMuMnbxNGk2GFm1TRZSPmYzMgZ/ScYMPPcxGjlsMvUlMgU8YoMTSVPHI0k7FXnsZWJrOwQdQTS4a5UQKHkxYoS+FIpnL6fBScXOQijnNsXJLMmXDlpDI0kzLMiNTRNWPegVScVXOKVwMYhNSkZiPPc5MvZHMYhLMgb4SVRZHJlCYZO+I0i7LMjWHJlZGbm3LMmQLMjZN7adMgZIKXmWI7imDOp5VEQSLMbQNNUkNkkJGbm1O4iRDdpSNdYNE4plQqg0OShQJKi6Hgl3Gbl8YRLaKXkeHRlwHolcPWb8NNbiRQRAKAkJSVMaGMnGZGJKTRNkNNXNKHfOMvZJLMiqOwe6FPnGI0ieI7hJHoksOwaPLTliPWezOShhLMXQVbQkSzcAYZHWFAplDOp+OKY1SccKFAn2LMmGSrZZLblSPHe6MgcyMvZqMYeMPWdZLylfI0j8GjliScIhapKEKXkkPWfsSccUPHfFMYfVELorPHewH3lEScUNIsiTSVQoOKVaNsgyYRJtO4UgNzZPOwdbJhmZO4P3MYdnM+bKSVXYSVfJNkc1MYVoFIpoMYebSkUXOwR9MgePIdnjMgb2G6knLMiAJxhDYoOASVM2NGdSI0k0MYbFScZGS7ReQEe8NkjpMvkSGbm5MYczPWelF1pcGrl6JDi9ScX/LbfRScTbLMmVLMcpScPYKXj5JDnGELp1NkfCG6j/SzRDFfpiHJoNEioNYwMDPeV9DlowSce1LMgpScOCScaRLMjVYgOyTCbOScXSLMghScUGYgPbPPbbJKm7EppzDdoqYRHkLMf6NNdhFXnxPHZ3JhjVEap0MgceNVd2GyluEiobELp3YgJBScUQLMidJKhiSVVFYZN5LbdgLjfzSVP9I7i0OpYRHBlkSkb7ScSESFV3M+loO/W9SVU3N7hGMgbJLTgzYZRELMZWZ8XgSrVwI0nOYgOXNkZzSkZYScM8GbmySVXXF1pCSkSVNzeGScRlKPm8MgdiPHgQScU7NkhjLMfjO/Q3HRlDYoK4LqbYODh0TRRGESobSkPxJDi+SVQNKHjMGbmhfDOPSVaUYROySzQKMYYqFmnnYwPuGjlaPHgrY/Q1NGanJamsYgK1SrYROKllMYdEMgebMvNZZWHmGbm+EaoDGbl6HRkVFApnNse2S7ePMYfcJDfUGjo2OwXoYgLpGyoeOZiuLMl4YwLoPeicLMniJpgqScNIEDp8I0jtMgdNScaKP1dvQyUyODeYSzVyLMhkI7nfSrcFMYeRFXnuFPnDYZJhSVSdGMpQLMhXYoOyKAlsMYbDLMiSNGJ/TZMuQbiJPPkZOKcyJKiPPmaQDlo/YZOgOwSZMgZvG6kmOwYqC/p6KPmQSVV0N7dqJammYRRoSkO7ELoiZ0ICI0kzI0haLTZ2GbmPO/dGYoT9PtfUJSi/PWfINsTkLMmJQqgMEanrKXj5Opg1JDm/M2aBLMigM+ZsJxh6SVS3QEcEPte7TKRkMgYBOwiwM+RaKtj4I0kAVLYyLMYVHglsOZdwLMicbXNBODS/KmkKOhkpKef0FfpfLMjdKXkjMYgMPWZOYgJvODh/HvlgSkOLSVT2ELp0NNkYFPn8S7STNdjfJajtM2adMglCYZKcUOV9KHl9SccxMYZGYRHxI0ncHvktSrRCQybiNsVMO4gcP1U4E4plEDogNNk6Scd1MYTlQyg3MYWpFPnqJKnBOwYRaaPeNNkaSrTHOwclPmfHMgZvO4arMgdKGbmUGjmLPWaCI0kfSVQOKXkNMgawLjdeOSirP8bNScaSLMdtMYk/SzPwOKbTI0kkMgYFYZMgOwajLMV2SVQhSVcnSVYEZlL2PmX6S7ddYRK7LTgRSVLVI0kHaaI7PPY1NVjFUHfcH3nXKHhgOZcNDVpaOhY3O4G+MYcfQEgnScSxScWESVRhMglVPWh5JDgWSVcxPeahUtRdJpj1MgYrExoSLMaeMgeCSkdtHJoSJKiMO4ROJpmsSzQDKejhLMmhYgNoYRV8LMh7J4h8MYdIZlMQUtUbUtMXScdzO4d8QTdXNseEVqRdKXkaLjd9MYfcI7hZNsbTSFR5LThaN7ZJODb7QTWSPHcLQTdzZdRUS7Q4SVLBLMjnbXHYMgdJb9M7SkjxEDp+OwVjEpoOEaoLNzeeI0iqKekFG6obYZN+YwU5LblsGjo/Eap5NzXIO/e2Skd0O4WYP8dTKXgLPHV0UtROODiaPegpQELxUtOZPPf3NNczG6lfYZN0OwWyOwTsS7NvScPjMvY0PWUHSVcxLMd8P8YlSkV9SVXeG6oaY3KZMvVgExpsSVZzM2cqSkVWDOptMYgWO4fZJajSZWJWDVpNYgSaTwQ7JSicNsfELMnMSkQHOZakOpdjFIoELMhhOwcUJxjVMgLjHJoYLjfWODlxYZMmZGUUMYl0SkQJNkj/LTmYO4ejZdMsOhceH3nhaiKgYZInHJlCZ0PMKHmKJpmRLblxSVP4Gbm7I0kTMgd1KXhESccwPWYNLMiRPWb0MgleDVp+SraIHYoAOwQ1GbmmG6lhPWgzOZdGMYXsLMh3MgdeMgX6I0k0VLXiSrPJOSdSO4avOwcILMhLHYlaTRSiSVeaI7j5ZtTKLjd1SkbUHonzMYe3Sca5PPZ4LMhbNGkoEin9QTe7C/pvLMhyExpnS7XWJpjKPmglMgUiYgRrO/gdE4oGJxj2SVW/YgJTMgWDPtg8ScQPHojAYRL2PPkaPtRpPPaiO4eQM2ZqI0jQNsX0M+c6GjmNLMYnSkNpScbkLMhPOpiEI0k7H+n8I0jBLje/UtbUMYcJOwb2NVeDScOiOhbGDOp3T/HyGbm1MYeVYZH6OSUROwRoJpipEDoIELp4SkTyScbRSVYzLTdKFXprYZIQOwl+LqcsYgHYEioHKAmOHvlBHvnsP1bqO/hlSVQ3QiaNGjlSTwQlNdcfYoJOOZkeYRKVMYduQEYdO4h6LMZxESp0NGdsO/bzMYezNdcmS7cLGrlZMvZ+Y/IbaDMhMglUTwZPS7TmWQSJGjk1PHbnKAmzMYdYLMd/JKi3YZPiO4bmLMjOYwNiMgdLZ8NgYRTWSVT1MYa6ScSVLTVNDOp9M2X5HokRKHmHScLIIGoHI0naIdkTC/p1DOptMvZnSVW/YwQYDVpcYZHMMYbiLMgna5HqMgbIHBoSOph2YRP6ODiUMgbWMnR4MYgfMgaEExnjScVjLMiqRfgHOScmMgbheGShSccfOZbDScc3NdaESrZkHvlLOKlFNNWMa5OxKHirV5IkT4P3GbmfSkRYFmpTKPjfEDoeMgcuI7fdQ5S3YgQhYZKEI0krHgoOYwIAMYlkGbm1SVRTNGjTMgTnFIpmPPeAYoL5ELogKHm3D0oVFfpaLTfpLMiJESocUtMXUtU2MgZ+MgUdO/glMnbKXUVFZdS3LMjwMYcWESocI0kTSrcmYRLmELoEGbmhYRMTScZWQEaJScX5G6oWO4hlO4bSJhh0LMdoJpjROwctGjmIMnXTQbY1TRMvLMjFMYfgI7nTScYxSVfFNzZrQyjNP8fGSra/NsQBHJkkFApqI0jsKAkFO4acLblqMnkeLMYWJxmJGbmIRBg9LMaBNzevESoJN7XbLMj0MgeDM2bxYZHYPWgAP8egNzaWLjcGI7iHSzbwLMi6YRMKPWiLNGbCHJixSVaiGbm0ESoAEaoRTKTeTZXzOwavLTlpPHTWMYdVLMmmDVp/Gbm2I0k3PWgVNVZ7LMi8PPVtOZcaJpmXLMjEYRMWYZIFSVbdNGj1LqcsDdpRE4pqScShMYfyLMguNseeP1e5JhjdExn6NzeQKPjjLMniPWaJVLM2NsbTGbmpLMhSJajSSVWVMgk/S7VoMgcsPHXAMgadcURYNkJvPPgzMnZLSrXKGbmwSVSRToY2H3nyOKY5I0nSO4ebSVUINGb8FAn4I7gveOTdOKd9M2ZZFPpkLMdPRIg6GbosSkLlSVZ/PWVxNzbISVNtNkO8SVVZNsdLLTczELp/H+n3SVTTHoiTI0i3MgdkSVa7SVdlYRQaF9nJOwZcWnYXO4YtOwdFNNjlJpm6MYdxGbmnLMeHJhjKLMmwPPeYMJlAM2kLLMd4ELp6MYVwJShHHooLYRQYdoVSTCYUDOp3fLLyScaxScSlUeMUDVpAPHalXNWXedPHQMg2PebCThbuJhjpM+kpUtbkMYlySVU3b9P/SkUWMvcCGyodNNTcNNdlLMiRODSuHJoYNdbVMgcpIGlMYRL4ToSmLMm6EDp+QEiiI0jTYoKqScQnYgMEPWjyQbWMLblQQqe/O/h2UtYYExmaMgcOO4Y1KXieO/izYZPnMgeGPPSgHon0LMiZLTmpFXnVMYdROhhJO/XVQqY4QMacI7nmSkRzHYkgN7d/ScWcOhhOSzXRJam+YgOyMgbOPPacO4XlH+mBO4hEHBoaJDnFOwiIQMYuSrcgMYb7LMnEE4poScb8YwS1ScdMO/aLMnkvJDi7SkXqI7iZLMjFTCX/DloyNsilGjl3O4ehQbYhSVXSN7W7NsaVM+XYVTXYNNaaP1gQMgbvRvbiZ8R5OZk8eOOJJDinMgd+MYZZFXnTJSjILThBSkN7LMc5MYfZMgahH3nYJ4mPZ8LPMgXdHJkYPPT2G6lhUtVNMnbTSccUJDnOYZWzPPQtLjluFXnFcFUiScH0DOp1FXpcMgduQTYhLynIWXXUJSnDSzTvSVfhM+jmPWglI0nTZdSIFApnNVkDNVd7MYTVTCORPef0MYVLFPnJHYkzJpj7NzebYZL8MvNwNzalMYe4ScTEYoKuLblfOpX9UtQoTCLZOZiUH+lFMgmsOwczYoNEFmpUMgZgScXlESp5S7SwFPpmNGdGOwdcGjmOT/XVPHcFSravSzWIYZQDJai8H3l6MYfFO4c+NzbjZ8H8ELn2NdjTOSa9aaIoScJPYZN4LTZII7isNsZ4G6lcEin0MgcTNNaiYZMhSkbHYgMxDlpDPWbwSrVDMYflScgiHYodMgaTKAj7SVSQYZG9I0j+YZJOMYc4Ddp9YZKgPegUMgVWLMmYSkVuLTd7MgWOLMhsFPnqZONicUTUKAhsEaoOYZQFSVX2MvcfMYdcN7YgMYfTNVcJPWcoI7nZViXyLMjBSVaWFmpfO4gmH+lkYgREPmdGDOp1JxiOSVbsNzczSkY4JKgSDOp/EDoiScR9GyoiPmZ0OwhjOwbuODjfScPzMYgNI0jiOpZUMgTVD8o5MYgZFAn/I7isPWbJS7b5QyVCI0kqScaQODZoKHjSSVZpO/T0SkZeQiZxYRKNPWiUMYaESVRqNzbfYZVFSVXnPHQBQEW4U8aZSVNgZ8WfNNceMYgeMYcQHRlOScTgQEOkSzcFH+i0I0ktYRMTNkY8MYQLKAjlMgLsScVkSVRXDOpaMgY3NsdPQEepHvoBNGlpYZLaPWXHSVPFGbmTYgQDSka9ZdIlKAl6OpNjSkbLFfpbNdjrI7jKSrOSScVKNzknSVaWO/a+MgaDSkZ8Hgn6ScPfYZR7KPjYGrpJJDinYRJGOwYLI7grScTpNNkBMBm0PHWdScPOGbm5M+bfYZIlSVWwKHm4NNbLQEXnODkHHgntTZVCKAj8FXnmOheJLMgrMgbPLMfga5RCLMdVLMhKLMZzMnnjPHhNDOqAO/ZYFmpRYZQWNNYvMJfPGbmgM+VJSVXiYRNAM2kbO4iiMgmSGrjGGyi3DOpiSkY8YRNkUtHjHvldO4gUKXjHO4eCZGNBTRWkVTSVaaIdMgbsSFT6Mga1LMm0Ddp9HJoYI7imYoV2FPnGYZLrQiiVNdPgSVIFM+VVLMg4MYdAI0h8QEdBP1cYSVOHLMjaFXpdUtOUOpaqScYfMYcfMBeuLTgQYZLTJhmpFPpwU8V4MvWwM2O8U8aiG6ocY3LMEDobSVWMSzdJU0VCFIpmNsYcHRokMgSsSVXCMvlLYZQNFPpsO/f6LMmrZ0IcUtTbNkeMLblfKAhYScNHGjllNGQeKHgyGjozYoOqJpgKScO5M+RdScTcGbmIMYaqMgd1JanoO4cBTKQcLThRLMf5MvaFM+WzPHSGU0VcHRoJYgOUYZLcNVb6PWfXYRIvMvZQSVN9YwIZMgZeSVcCJhjbPWfiMnRxYgKcKHhMLbgiYwTuOKQCDOpgSVZBSkXgYCabMYcnPPVkMgawHoklMYgSU0TxODXmSVKTHok9MYdHHJovO4eyToV8MgUmNdURM2Y4NddvMYfyRQbnIdkqSkUFDGplODeNLMgxSkPQQbfuGjl/elRaMYd/YRMNJpiaKXjsI0itLMhpa5NFOhc8JSi9ScOjNVbna5TUMYgPPmQJIGl7F9pCEppuScY2SVaESkfDJai/H+lnNGjyYCVNYRR5YRQ+HgonKHmLFXpmNGXbOhbsLMasScNoLMfnMnl4OwZ2M+cDYRXtHBkySVZwQMenN7ZCMglXI0n1LMjaGbmrPWcvNzaLI0idDOpyN7bmNNHdGbmyO4TUOSdtFfl7LMeZELoNMYY4PHOJLMi+ZdNRLMihMYccN7bnPHgiYKIPNNU6SVTxZlNLYZPJMnWFGbmkHJkaSVMJYZN9M+bhNNaHQMUuNsbrMYdSHJlSNGSuN7ZYLblWZOOGNVlDMYdsOhV0MYbVPHfLJSiaO/fbMYgPUtXdIGnjSVI5SrblScYPPHhVQEgzLbg3NzXPO/cjLMhcLTgTSVMYGjl9UtXZJpnVYoPdLMbvPWjlSVe+Eip7PPTnbIOQLThLMYdrOwW6DVo8RvZGT/ekD8p8Fmm5SVVpOwbSNkaAaaKiOwdQNscMTZgYI7npYZMKOKWTMgVfMgWxSVQRL6YoOKjEMYaCGjl2OKiINNLJIGnOYwQaMgc8NGZwZOHOI0n7GbmJSzdrO4cKPHjpKXkDEppxE4pqYgOlKPhZScU+NVY5PHeJMYe8NkbZMYcBSzJlSccPPPUOPecGMYdYScSjO/cIH+n1aLNxZlKxYRMGLMi9SVW0O/e1LjmcODkRFPlEOhaaHYlOOwY1MgcXeOLmJam2LMhFVxd7MYbyPWfqOpjMLMi8MYeoPWaAMYf1MYceTCR+MvYrEipwKtgLOwhHS7UYMYbcQEWCP8bPMYaIYgICJKnDFfpaQTaDPHfcMgZzYZLhMnZJNddpOpZGGbmiYRT2PWfyYZMdYRO6O/dXNzioNdWuY/VdFXngOphvTKaIJKm1PmgkMgXHJpipT4Z/SVWBMYbcYZRbH3l1LTlrMYdUQMLENzjiLMmUSkUNThV9ScP2JKnRJ4isPeJbSVRbI7jTDOp2DVp+ExnLSVb9M+ctLTWWDOp1EDoGYZJDLMjbMnSVJKfxPWJQMgceNVcoNsk/YRI7Opd6ZdQcUtTSHvofFmpMDOp4ScNFMBSKMna4OwclLMf+ESp8I7ixSkcfSzaRLMbjMgYSPmfbYRKvSzWOMYcFMYbhHYk7I0kBNdWqLTbwYZSfSVRfMBf4ESp1SVaqYZPLH3nkYRRjMYd2SNejMYgMGyocM+ZCPPS9VTRrU8SsFfpaI7nRLblbQbcaMnlGJDm9OKXlEppsOwR9cjTERQMXHgn1DOp2SrbjPWdfZOLfPtfhNsjdQqO+OpXUTRH/MgcxaDPgMgchScSuOwdsFPpmScO0SkbsLMhgLjmhKHjmDOpfNsbULMhTDOpLE4ncZlP0PeZGPmjlEDoqPHdvTZZOY3MmZ8LvJDjCMYcSLMh0ZtKiOwdNSkahSkgta5QNKAjrSVU0JpmfSrWNGylmLbbnDOp4LyeIR2a2Gjo1O4YbOhb7LMffMYdCKei4OwZTKAj6RIbIZlMVfaVmOwceL6ekM2VQPebtDOpmMYbpcUPEGrlpYZQiMgaRZWS2LMhvZtHdN7YoQTb6LMboNGSdNdkRViNdPPR8DlpKJDi3O4VNKPcfaTIXEipwUtU2SVZcYZS0FXmTLTW6Nzi4MvlOJpiJKHj2YZVNYZNFdvM3O4cwDOp4LMhGZWSrSkVZKXilaaL4PPTKY/KDPHexOSikHRoSLMh6ODPGYZYoMYeMYoTTPefTYZPBHJkKYgOpSVUdJDhqMYcELMiOXFQJScXJTCQQScTSVENcH3lwSkIvW2V7LMi+MYXWS7M5Owi/KAhbSVUUDOp/MYcYM2bXTCRSNGYcW2JFMYTyJDnfTRPnYRItUtP9N7dkYZLNMYgIPHeaScRpHvlcMvZOSrVUY/YuSkRiPHeIOZjBZOSxMYdlSrSmScSoPHfqRIdhJKnNJpmYLTg5ZWSGYgSiYoQsNzksThVgFfpYI0nyPei+L6gqH3jlN7VeO4jLG6ijLTghP8XPZGREMglOE4pmLMUQOwdAYgOuDOp6PWgFLTc8Mga1PehzNGWVJDndScZZSVcRSVdqOwYvKAmjIVnxJhivPPbMSkWiHvjyYwPQOwipMYY5YRI0MgSNEppzLjlyHBlTUtI+ESp8YRHCI0krPWfySkX4YZMJJDixFXplP8gHMgcoScTwMnUzToVTPHkNaxKAYRMMELoSLMgKY/PyZOPfOwcpJxmjKXlwNNj4MgbbTZSfLMhpMQgaODi5MYawNGZbThWVMYdiLMaxNsj+M2RpI0kCMBe5M+lbFfpZGyoiOwSQJpg1ScMqScWLKAjhMvUBYZTvP1YeO4eKSkQkVETAKAiLSzUZSVcwYgOfODlJGUo2MgltOwiQSVMQI0kgNGReOwhwNzjrMJZhT/WXFPneTKacMYWGFfpiI7joI0jkGblyI0kPT4YMPtPMDlp9Z8SbM2aRFfpeVET1I0nuP1Y2Y/UsUOJzOwXQMvWyPHX2M+kJLbeqTCUnVTKSSVRZDVo7DlpDPPh1LMgcI0jyN7imTZOgYRPfZGJ/Pme4M2W+T/HNODb5ScVMO4djJpi3Sca4H3lfPHe2ELojLMheFmpnP8gdFupVLMgqNkZzKAg0SVSMDOpqO4d7MYfRLjgCPHe3NzjmPeZaOpVVKPkJPWaWNdk8FfnrMgZsMgcLO4b2LMjAeOL0MnZDDOpiJShUO/ZuScW9GbmvMnaaYRPlTRYjELp9QiccSkOJSVbhNNczMnWPN7eMU0QUJDixJ4iuSVQKScLdaxRbScVEYCTzGbmVSkbNYgHFSrbNP1gEO/XYOhdCSVTPNdXgFXpdN7dmYZMgZOI5OSbbJKiTOhjKVbTdDOp3TZODMYb7JDnSOwWxOSjNHJlZPWVKTZcdLMaDMYTzLqehUeRaT4afO/O0QTg8M+Y8HRoVHJoNO4YlMYU+SVZePHgCYgN+SVNjP8U/SVKTMgNqODdhSca6ScWxLMfZM2XtaTHYKAdbOSbbYgWoPPYSPPiQD0p/MYZ6OpdQTZQRS7ZqMgT3GykJNGbVGbmeccSxTRdIMgKHO4guUtW2YZK6LbggScMUI0kYYZKwSrc9edLSYgHgSkO/ESp2MYgESVXcSkYeLTluMYemSVVBIOlNOwYmYoN2NdYMTZScUtYwPecaSVVVVbUYFXnmELp/ESp8Pef3YgPII0ijXFJoYoKWQyKnPWeNPPc2OwZhHYkuNkcqfSHPSVYZJDhnKmfgScVYLMfsSVYqZWLDPWbBELojMgZCTRRtDOpoYgLvEDodMYmHSVXGU8JQMvZtSkPcOSXZScYEHYljGyonYoJwDOpnTZSdPPlBOZV5SVV3I7nTUtcPYgOmIGnrP1eRFPppOKWFMvTHPPglPWgHScXIDOpbVTWzNGapDOpqapQvZ8HkSVWmJKhIU0YtSVcRYRIuYRPqEaoKY3KnO4drI7jVFmpdI0kXYZRtEDp9YRLIELoiZGJoUOHIQqifMYbwMnReTCafVEYOYZKXVTIeOwW6YRHeKXmnI0nhUtYhScLQLMZqGbmGTCXCLMdyScZYFXplSVQeQMhgEpoGPWgAODciODb1ELoONkVUcrSfLEgaN7ceJSicELohG6lLSrf1JDitMgUdN7YyKXh7OKbCLTnCNVlSEDopKAh+TRUMUtQmLbgERfM6PHg0JKg2TZZUU8YkQbYNZlQ2Nsd3EDoVSVYHLMhbPPfeKHiuYwIJSca4SVMvHvlPHJlJLMmhScODEan7MgLSI0kpLMfNSkaqO/eRG6kIEDorSrT6O/a4O4g3YoJtLMmREDofNGZJLMeYMgl+NzHeSVX0MgcgLbcpHBoZO4jaMgRwUtH/MYcOSVL5YZRVESp7axLGSVRpP1VHT4QmSccbI0jeMYYEaLMDO4YYGrlEUtXJPPaMI0neNzTXO4hyFPplMgZSS7ZRI0nhYwTmSceKYgLvR+U/U8fVScNaSkXOTCczY/HUMgaaOSagI0j+FPnYFAn3SkLBO/djFXnqO/c9F1pGLMmmScH6PPb1PeYhYZJRSkO8O4kqSkY3SkShYZR1UtSZQEdJI0kLNsc4KHhzUtVIVbPxSkdTPebaO/aYOwY7ELoZLMUkOhiUS7P1EDoLLMhuMgWnI0itScV4I0jHGbmYScdaTCR1MgaySVc1YgJYTobwR+dwPPdfYZMCNzdKESp1OwSNGjlXHRlRLMcAN7VmMYZAMYZXLMh2HglTYZOCD0pCMgY5PmfHSVQqPWd5YZL1FfphGMpFOwaULTmbLTdDP8bbfhG2fcHog1IvfxJsf3KgkRLFkRMFhMRkg1UimxSxqGSsetSgd+SF"]];var cv=document.getElementById("cv"),x=cv.getContext("2d");
function v(s,i){return B.indexOf(s[i])*64+B.indexOf(s[i+1]);}
x.fillStyle="rgba(0,0,0,0.1)";x.strokeStyle="rgba(0,0,0,0.1)";x.lineWidth=1.4;
for(var k=0;k<D.length;k++){var ox=D[k][0],oy=D[k][1],s=D[k][2];
x.save();x.beginPath();x.rect(ox,oy,503.40,359.60);x.clip();
for(var i=0;i<s.length;i+=4){var px=ox+v(s,i)/8,py=oy+v(s,i+2)/8;x.beginPath();x.arc(px,py,4.6,0,6.2832);x.fill();x.stroke();}
x.restore();}
var im=x.getImageData(0,0,1744,1000),d=im.data;for(var i=3;i<d.length;i+=4){var a=d[i];if(a>200){d[i]=255-(255-a)*(255-a)/55;}}x.putImageData(im,0,0);})();</script>
</body></html>
